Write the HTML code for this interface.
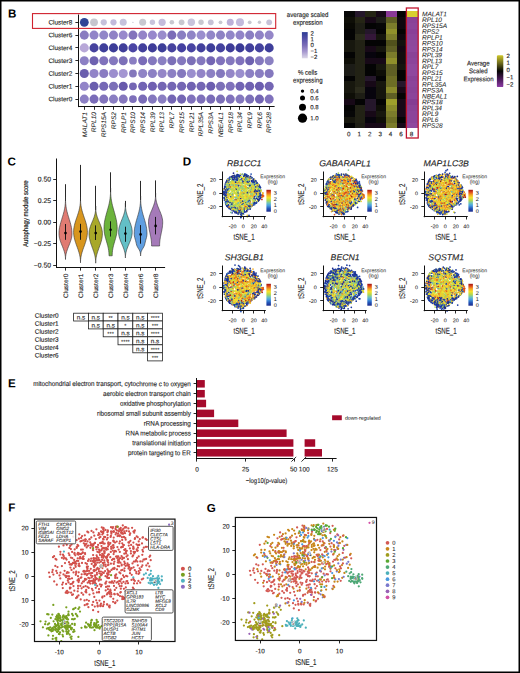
<!DOCTYPE html>
<html><head><meta charset="utf-8"><title>Figure</title>
<style>
html,body{margin:0;padding:0;background:#fff;}
body{width:520px;height:673px;overflow:hidden;position:relative;}
svg{position:absolute;left:0;top:0;display:block;font-family:"Liberation Sans", sans-serif;text-rendering:geometricPrecision;}
</style></head><body>
<svg width="520" height="673" viewBox="0 0 520 673">
<rect x="0" y="0" width="520" height="673" fill="#fff"/>
<text transform="translate(12.2,13.2) rotate(0.1)" x="0" y="4.18" font-size="11.6" text-anchor="middle" fill="#000" font-weight="bold">B</text>
<text transform="translate(11.8,161.2) rotate(0.1)" x="0" y="4.18" font-size="11.6" text-anchor="middle" fill="#000" font-weight="bold">C</text>
<text transform="translate(186.9,161.2) rotate(0.1)" x="0" y="4.18" font-size="11.6" text-anchor="middle" fill="#000" font-weight="bold">D</text>
<text transform="translate(11.8,383) rotate(0.1)" x="0" y="4.18" font-size="11.6" text-anchor="middle" fill="#000" font-weight="bold">E</text>
<text transform="translate(11.9,507.2) rotate(0.1)" x="0" y="4.18" font-size="11.6" text-anchor="middle" fill="#000" font-weight="bold">F</text>
<text transform="translate(211.3,507.7) rotate(0.1)" x="0" y="4.18" font-size="11.6" text-anchor="middle" fill="#000" font-weight="bold">G</text>
<circle cx="84.3" cy="22.3" r="4.4" fill="#2e4496"/>
<circle cx="94.03" cy="22.3" r="3.9" fill="#c6c6ce"/>
<circle cx="103.76" cy="22.3" r="3.1" fill="#c6c2dc"/>
<circle cx="113.49" cy="22.3" r="3.1" fill="#c2badc"/>
<circle cx="123.22" cy="22.3" r="3.5" fill="#c6c2dc"/>
<circle cx="132.95" cy="22.3" r="0.6" fill="#b8b8c8"/>
<circle cx="142.68" cy="22.3" r="3.5" fill="#c8c8d0"/>
<circle cx="152.41" cy="22.3" r="2.7" fill="#c8c4dc"/>
<circle cx="162.14" cy="22.3" r="3.6" fill="#c4bcdc"/>
<circle cx="171.87" cy="22.3" r="2.3" fill="#c8c8d0"/>
<circle cx="181.6" cy="22.3" r="2.9" fill="#c8c8d0"/>
<circle cx="191.33" cy="22.3" r="3.7" fill="#c8c4dc"/>
<circle cx="201.06" cy="22.3" r="2.7" fill="#c8c8d0"/>
<circle cx="210.79" cy="22.3" r="2.9" fill="#c6c2d6"/>
<circle cx="220.52" cy="22.3" r="1.9" fill="#c8c8d0"/>
<circle cx="230.25" cy="22.3" r="3.5" fill="#bcb0d8"/>
<circle cx="239.98" cy="22.3" r="4" fill="#c2badc"/>
<circle cx="249.71" cy="22.3" r="1.9" fill="#c8c8d0"/>
<circle cx="259.44" cy="22.3" r="1.7" fill="#c8c8d0"/>
<circle cx="269.17" cy="22.3" r="2.9" fill="#c6c2d8"/>
<circle cx="84.3" cy="35.1" r="4.55" fill="#8a7cc0"/>
<circle cx="94.03" cy="35.1" r="4.55" fill="#9284c8"/>
<circle cx="103.76" cy="35.1" r="4.55" fill="#9286c8"/>
<circle cx="113.49" cy="35.1" r="4.55" fill="#9082c6"/>
<circle cx="123.22" cy="35.1" r="4.55" fill="#9888cc"/>
<circle cx="132.95" cy="35.1" r="4.55" fill="#8474bc"/>
<circle cx="142.68" cy="35.1" r="4.55" fill="#9484c8"/>
<circle cx="152.41" cy="35.1" r="4.55" fill="#9888cc"/>
<circle cx="162.14" cy="35.1" r="4.55" fill="#9a8ccc"/>
<circle cx="171.87" cy="35.1" r="4.55" fill="#7c6cb8"/>
<circle cx="181.6" cy="35.1" r="4.55" fill="#8a7ec2"/>
<circle cx="191.33" cy="35.1" r="4.55" fill="#9084c6"/>
<circle cx="201.06" cy="35.1" r="4.55" fill="#9a8ece"/>
<circle cx="210.79" cy="35.1" r="4.55" fill="#9286c8"/>
<circle cx="220.52" cy="35.1" r="4.55" fill="#8e82c4"/>
<circle cx="230.25" cy="35.1" r="4.55" fill="#9286c8"/>
<circle cx="239.98" cy="35.1" r="4.55" fill="#9284c8"/>
<circle cx="249.71" cy="35.1" r="4.55" fill="#8a7ec2"/>
<circle cx="259.44" cy="35.1" r="4.55" fill="#9082c6"/>
<circle cx="269.17" cy="35.1" r="4.55" fill="#9486c8"/>
<circle cx="84.3" cy="47.9" r="4.55" fill="#b8a8d8"/>
<circle cx="94.03" cy="47.9" r="4.55" fill="#46429e"/>
<circle cx="103.76" cy="47.9" r="4.55" fill="#3e3e9a"/>
<circle cx="113.49" cy="47.9" r="4.55" fill="#3c3c98"/>
<circle cx="123.22" cy="47.9" r="4.55" fill="#403e9a"/>
<circle cx="132.95" cy="47.9" r="4.55" fill="#4a44a4"/>
<circle cx="142.68" cy="47.9" r="4.55" fill="#423f9c"/>
<circle cx="152.41" cy="47.9" r="4.55" fill="#3e3c98"/>
<circle cx="162.14" cy="47.9" r="4.55" fill="#3c3e98"/>
<circle cx="171.87" cy="47.9" r="4.55" fill="#46429e"/>
<circle cx="181.6" cy="47.9" r="4.55" fill="#4440a0"/>
<circle cx="191.33" cy="47.9" r="4.55" fill="#4844a2"/>
<circle cx="201.06" cy="47.9" r="4.55" fill="#42409c"/>
<circle cx="210.79" cy="47.9" r="4.55" fill="#3e3e9a"/>
<circle cx="220.52" cy="47.9" r="4.55" fill="#44429e"/>
<circle cx="230.25" cy="47.9" r="4.55" fill="#3e3c98"/>
<circle cx="239.98" cy="47.9" r="4.55" fill="#3a3a96"/>
<circle cx="249.71" cy="47.9" r="4.55" fill="#42409c"/>
<circle cx="259.44" cy="47.9" r="4.55" fill="#44429e"/>
<circle cx="269.17" cy="47.9" r="4.55" fill="#3e3e9a"/>
<circle cx="84.3" cy="60.7" r="4.55" fill="#8c80c4"/>
<circle cx="94.03" cy="60.7" r="4.55" fill="#6e62b0"/>
<circle cx="103.76" cy="60.7" r="4.55" fill="#8072bc"/>
<circle cx="113.49" cy="60.7" r="4.55" fill="#8478be"/>
<circle cx="123.22" cy="60.7" r="4.55" fill="#7c70b8"/>
<circle cx="132.95" cy="60.7" r="3.9" fill="#8a7ec2"/>
<circle cx="142.68" cy="60.7" r="4.55" fill="#7a6cb8"/>
<circle cx="152.41" cy="60.7" r="4.55" fill="#8478be"/>
<circle cx="162.14" cy="60.7" r="4.55" fill="#8a80c2"/>
<circle cx="171.87" cy="60.7" r="4.55" fill="#7c70b8"/>
<circle cx="181.6" cy="60.7" r="4.55" fill="#8478be"/>
<circle cx="191.33" cy="60.7" r="4.55" fill="#7c70b8"/>
<circle cx="201.06" cy="60.7" r="4.55" fill="#8478be"/>
<circle cx="210.79" cy="60.7" r="4.55" fill="#7466b4"/>
<circle cx="220.52" cy="60.7" r="4.55" fill="#8072bc"/>
<circle cx="230.25" cy="60.7" r="4.55" fill="#8478be"/>
<circle cx="239.98" cy="60.7" r="4.55" fill="#8072bc"/>
<circle cx="249.71" cy="60.7" r="4.55" fill="#6e62b0"/>
<circle cx="259.44" cy="60.7" r="4.55" fill="#8478be"/>
<circle cx="269.17" cy="60.7" r="4.55" fill="#8a80c2"/>
<circle cx="84.3" cy="73.5" r="4.55" fill="#6a5eae"/>
<circle cx="94.03" cy="73.5" r="4.55" fill="#9284c8"/>
<circle cx="103.76" cy="73.5" r="4.55" fill="#8a7cc2"/>
<circle cx="113.49" cy="73.5" r="4.55" fill="#9c8ece"/>
<circle cx="123.22" cy="73.5" r="4.55" fill="#a496d2"/>
<circle cx="132.95" cy="73.5" r="3.9" fill="#8478bc"/>
<circle cx="142.68" cy="73.5" r="4.55" fill="#9084c6"/>
<circle cx="152.41" cy="73.5" r="4.55" fill="#8c80c4"/>
<circle cx="162.14" cy="73.5" r="4.55" fill="#9486c8"/>
<circle cx="171.87" cy="73.5" r="4.55" fill="#8c80c4"/>
<circle cx="181.6" cy="73.5" r="4.55" fill="#8478be"/>
<circle cx="191.33" cy="73.5" r="4.55" fill="#9a8ece"/>
<circle cx="201.06" cy="73.5" r="4.55" fill="#9284c8"/>
<circle cx="210.79" cy="73.5" r="4.55" fill="#8c80c4"/>
<circle cx="220.52" cy="73.5" r="4.55" fill="#8478be"/>
<circle cx="230.25" cy="73.5" r="4.55" fill="#9486c8"/>
<circle cx="239.98" cy="73.5" r="4.55" fill="#9a8ece"/>
<circle cx="249.71" cy="73.5" r="4.55" fill="#8c80c4"/>
<circle cx="259.44" cy="73.5" r="4.55" fill="#8a7ec2"/>
<circle cx="269.17" cy="73.5" r="4.55" fill="#8478be"/>
<circle cx="84.3" cy="86.3" r="4.55" fill="#9284c8"/>
<circle cx="94.03" cy="86.3" r="4.55" fill="#6a5eae"/>
<circle cx="103.76" cy="86.3" r="4.55" fill="#7668b6"/>
<circle cx="113.49" cy="86.3" r="4.55" fill="#7c70b8"/>
<circle cx="123.22" cy="86.3" r="4.55" fill="#685aac"/>
<circle cx="132.95" cy="86.3" r="3.9" fill="#7466b4"/>
<circle cx="142.68" cy="86.3" r="4.55" fill="#7264b4"/>
<circle cx="152.41" cy="86.3" r="4.55" fill="#7060b2"/>
<circle cx="162.14" cy="86.3" r="4.55" fill="#7466b4"/>
<circle cx="171.87" cy="86.3" r="4.55" fill="#7466b4"/>
<circle cx="181.6" cy="86.3" r="4.55" fill="#7466b4"/>
<circle cx="191.33" cy="86.3" r="4.55" fill="#7062b2"/>
<circle cx="201.06" cy="86.3" r="4.55" fill="#7466b4"/>
<circle cx="210.79" cy="86.3" r="4.55" fill="#6c5eb0"/>
<circle cx="220.52" cy="86.3" r="4.55" fill="#7c70b8"/>
<circle cx="230.25" cy="86.3" r="4.55" fill="#8072bc"/>
<circle cx="239.98" cy="86.3" r="4.55" fill="#7264b4"/>
<circle cx="249.71" cy="86.3" r="4.55" fill="#7062b2"/>
<circle cx="259.44" cy="86.3" r="4.55" fill="#6c5eb0"/>
<circle cx="269.17" cy="86.3" r="4.55" fill="#7466b4"/>
<circle cx="84.3" cy="99.1" r="4.55" fill="#8c80c4"/>
<circle cx="94.03" cy="99.1" r="4.55" fill="#7a6cb8"/>
<circle cx="103.76" cy="99.1" r="4.55" fill="#8274bc"/>
<circle cx="113.49" cy="99.1" r="4.55" fill="#8a7ec2"/>
<circle cx="123.22" cy="99.1" r="4.55" fill="#8678be"/>
<circle cx="132.95" cy="99.1" r="3.9" fill="#7e70ba"/>
<circle cx="142.68" cy="99.1" r="4.55" fill="#7a6cb8"/>
<circle cx="152.41" cy="99.1" r="4.55" fill="#8478be"/>
<circle cx="162.14" cy="99.1" r="4.55" fill="#8a7ec2"/>
<circle cx="171.87" cy="99.1" r="4.55" fill="#7466b4"/>
<circle cx="181.6" cy="99.1" r="4.55" fill="#7466b4"/>
<circle cx="191.33" cy="99.1" r="4.55" fill="#8072bc"/>
<circle cx="201.06" cy="99.1" r="4.55" fill="#7e70ba"/>
<circle cx="210.79" cy="99.1" r="4.55" fill="#7a6cb8"/>
<circle cx="220.52" cy="99.1" r="4.55" fill="#7c70b8"/>
<circle cx="230.25" cy="99.1" r="4.55" fill="#8072bc"/>
<circle cx="239.98" cy="99.1" r="4.55" fill="#8478be"/>
<circle cx="249.71" cy="99.1" r="4.55" fill="#7c70b8"/>
<circle cx="259.44" cy="99.1" r="4.55" fill="#7466b4"/>
<circle cx="269.17" cy="99.1" r="4.55" fill="#8072bc"/>
<line x1="78.5" y1="14.5" x2="78.5" y2="107.1" stroke="#111" stroke-width="1"/>
<line x1="78.2" y1="106.5" x2="274.6" y2="106.5" stroke="#111" stroke-width="1"/>
<line x1="75.4" y1="22.5" x2="78.2" y2="22.5" stroke="#111" stroke-width="0.9"/>
<text transform="translate(72.2,22.3) rotate(0.1)" x="0" y="2.24" font-size="6.4" text-anchor="end" fill="#222" stroke="#222" stroke-width="0.12">Cluster8</text>
<line x1="75.4" y1="35.5" x2="78.2" y2="35.5" stroke="#111" stroke-width="0.9"/>
<text transform="translate(72.2,35.1) rotate(0.1)" x="0" y="2.24" font-size="6.4" text-anchor="end" fill="#222" stroke="#222" stroke-width="0.12">Cluster6</text>
<line x1="75.4" y1="47.5" x2="78.2" y2="47.5" stroke="#111" stroke-width="0.9"/>
<text transform="translate(72.2,47.9) rotate(0.1)" x="0" y="2.24" font-size="6.4" text-anchor="end" fill="#222" stroke="#222" stroke-width="0.12">Cluster4</text>
<line x1="75.4" y1="60.5" x2="78.2" y2="60.5" stroke="#111" stroke-width="0.9"/>
<text transform="translate(72.2,60.7) rotate(0.1)" x="0" y="2.24" font-size="6.4" text-anchor="end" fill="#222" stroke="#222" stroke-width="0.12">Cluster3</text>
<line x1="75.4" y1="73.5" x2="78.2" y2="73.5" stroke="#111" stroke-width="0.9"/>
<text transform="translate(72.2,73.5) rotate(0.1)" x="0" y="2.24" font-size="6.4" text-anchor="end" fill="#222" stroke="#222" stroke-width="0.12">Cluster2</text>
<line x1="75.4" y1="86.5" x2="78.2" y2="86.5" stroke="#111" stroke-width="0.9"/>
<text transform="translate(72.2,86.3) rotate(0.1)" x="0" y="2.24" font-size="6.4" text-anchor="end" fill="#222" stroke="#222" stroke-width="0.12">Cluster1</text>
<line x1="75.4" y1="99.5" x2="78.2" y2="99.5" stroke="#111" stroke-width="0.9"/>
<text transform="translate(72.2,99.1) rotate(0.1)" x="0" y="2.24" font-size="6.4" text-anchor="end" fill="#222" stroke="#222" stroke-width="0.12">Cluster0</text>
<line x1="84.5" y1="107" x2="84.5" y2="109.8" stroke="#111" stroke-width="0.9"/>
<text transform="translate(84.3,112) rotate(-90)" x="0" y="2.31" font-size="6.6" text-anchor="end" fill="#222" stroke="#222" stroke-width="0.05" font-style="italic">MALAT1</text>
<line x1="94.5" y1="107" x2="94.5" y2="109.8" stroke="#111" stroke-width="0.9"/>
<text transform="translate(94.03,112) rotate(-90)" x="0" y="2.31" font-size="6.6" text-anchor="end" fill="#222" stroke="#222" stroke-width="0.05" font-style="italic">RPL10</text>
<line x1="103.5" y1="107" x2="103.5" y2="109.8" stroke="#111" stroke-width="0.9"/>
<text transform="translate(103.76,112) rotate(-90)" x="0" y="2.31" font-size="6.6" text-anchor="end" fill="#222" stroke="#222" stroke-width="0.05" font-style="italic">RPS15A</text>
<line x1="113.5" y1="107" x2="113.5" y2="109.8" stroke="#111" stroke-width="0.9"/>
<text transform="translate(113.49,112) rotate(-90)" x="0" y="2.31" font-size="6.6" text-anchor="end" fill="#222" stroke="#222" stroke-width="0.05" font-style="italic">RPS2</text>
<line x1="123.5" y1="107" x2="123.5" y2="109.8" stroke="#111" stroke-width="0.9"/>
<text transform="translate(123.22,112) rotate(-90)" x="0" y="2.31" font-size="6.6" text-anchor="end" fill="#222" stroke="#222" stroke-width="0.05" font-style="italic">RPLP1</text>
<line x1="132.5" y1="107" x2="132.5" y2="109.8" stroke="#111" stroke-width="0.9"/>
<text transform="translate(132.95,112) rotate(-90)" x="0" y="2.31" font-size="6.6" text-anchor="end" fill="#222" stroke="#222" stroke-width="0.05" font-style="italic">RPS10</text>
<line x1="142.5" y1="107" x2="142.5" y2="109.8" stroke="#111" stroke-width="0.9"/>
<text transform="translate(142.68,112) rotate(-90)" x="0" y="2.31" font-size="6.6" text-anchor="end" fill="#222" stroke="#222" stroke-width="0.05" font-style="italic">RPS14</text>
<line x1="152.5" y1="107" x2="152.5" y2="109.8" stroke="#111" stroke-width="0.9"/>
<text transform="translate(152.41,112) rotate(-90)" x="0" y="2.31" font-size="6.6" text-anchor="end" fill="#222" stroke="#222" stroke-width="0.05" font-style="italic">RPL39</text>
<line x1="162.5" y1="107" x2="162.5" y2="109.8" stroke="#111" stroke-width="0.9"/>
<text transform="translate(162.14,112) rotate(-90)" x="0" y="2.31" font-size="6.6" text-anchor="end" fill="#222" stroke="#222" stroke-width="0.05" font-style="italic">RPL13</text>
<line x1="171.5" y1="107" x2="171.5" y2="109.8" stroke="#111" stroke-width="0.9"/>
<text transform="translate(171.87,112) rotate(-90)" x="0" y="2.31" font-size="6.6" text-anchor="end" fill="#222" stroke="#222" stroke-width="0.05" font-style="italic">RPL7</text>
<line x1="181.5" y1="107" x2="181.5" y2="109.8" stroke="#111" stroke-width="0.9"/>
<text transform="translate(181.6,112) rotate(-90)" x="0" y="2.31" font-size="6.6" text-anchor="end" fill="#222" stroke="#222" stroke-width="0.05" font-style="italic">RPS15</text>
<line x1="191.5" y1="107" x2="191.5" y2="109.8" stroke="#111" stroke-width="0.9"/>
<text transform="translate(191.33,112) rotate(-90)" x="0" y="2.31" font-size="6.6" text-anchor="end" fill="#222" stroke="#222" stroke-width="0.05" font-style="italic">RPL21</text>
<line x1="201.5" y1="107" x2="201.5" y2="109.8" stroke="#111" stroke-width="0.9"/>
<text transform="translate(201.06,112) rotate(-90)" x="0" y="2.31" font-size="6.6" text-anchor="end" fill="#222" stroke="#222" stroke-width="0.05" font-style="italic">RPL35A</text>
<line x1="210.5" y1="107" x2="210.5" y2="109.8" stroke="#111" stroke-width="0.9"/>
<text transform="translate(210.79,112) rotate(-90)" x="0" y="2.31" font-size="6.6" text-anchor="end" fill="#222" stroke="#222" stroke-width="0.05" font-style="italic">RPS3A</text>
<line x1="220.5" y1="107" x2="220.5" y2="109.8" stroke="#111" stroke-width="0.9"/>
<text transform="translate(220.52,112) rotate(-90)" x="0" y="2.31" font-size="6.6" text-anchor="end" fill="#222" stroke="#222" stroke-width="0.05" font-style="italic">NBEAL1</text>
<line x1="230.5" y1="107" x2="230.5" y2="109.8" stroke="#111" stroke-width="0.9"/>
<text transform="translate(230.25,112) rotate(-90)" x="0" y="2.31" font-size="6.6" text-anchor="end" fill="#222" stroke="#222" stroke-width="0.05" font-style="italic">RPS18</text>
<line x1="239.5" y1="107" x2="239.5" y2="109.8" stroke="#111" stroke-width="0.9"/>
<text transform="translate(239.98,112) rotate(-90)" x="0" y="2.31" font-size="6.6" text-anchor="end" fill="#222" stroke="#222" stroke-width="0.05" font-style="italic">RPL34</text>
<line x1="249.5" y1="107" x2="249.5" y2="109.8" stroke="#111" stroke-width="0.9"/>
<text transform="translate(249.71,112) rotate(-90)" x="0" y="2.31" font-size="6.6" text-anchor="end" fill="#222" stroke="#222" stroke-width="0.05" font-style="italic">RPL9</text>
<line x1="259.5" y1="107" x2="259.5" y2="109.8" stroke="#111" stroke-width="0.9"/>
<text transform="translate(259.44,112) rotate(-90)" x="0" y="2.31" font-size="6.6" text-anchor="end" fill="#222" stroke="#222" stroke-width="0.05" font-style="italic">RPL6</text>
<line x1="269.5" y1="107" x2="269.5" y2="109.8" stroke="#111" stroke-width="0.9"/>
<text transform="translate(269.17,112) rotate(-90)" x="0" y="2.31" font-size="6.6" text-anchor="end" fill="#222" stroke="#222" stroke-width="0.05" font-style="italic">RPS28</text>
<rect x="32.5" y="13.6" width="243.2" height="14.8" fill="none" stroke="#d0222e" stroke-width="1.1"/>
<text transform="translate(307.6,15.3) rotate(0.1) scale(0.9,1)" x="0" y="1.77" font-size="6.8" text-anchor="middle" fill="#222" stroke="#222" stroke-width="0.12">average scaled</text>
<text transform="translate(307.8,22.9) rotate(0.1) scale(0.9,1)" x="0" y="1.77" font-size="6.8" text-anchor="middle" fill="#222" stroke="#222" stroke-width="0.12">expression</text>
<defs><linearGradient id="gB" x1="0" y1="0" x2="0" y2="1"><stop offset="0" stop-color="#2c3c95"/><stop offset="0.25" stop-color="#5450a8"/><stop offset="0.5" stop-color="#7a6cb8"/><stop offset="0.75" stop-color="#a89ad0"/><stop offset="1" stop-color="#dcd8e8"/></linearGradient></defs>
<rect x="301.9" y="32.1" width="5.8" height="26.2" fill="url(#gB)" stroke="none" stroke-width="1"/>
<text transform="translate(310.5,33.3) rotate(0.1)" x="0" y="2.1" font-size="6" text-anchor="start" fill="#222" stroke="#222" stroke-width="0.12">2</text>
<text transform="translate(310.5,39.2) rotate(0.1)" x="0" y="2.1" font-size="6" text-anchor="start" fill="#222" stroke="#222" stroke-width="0.12">1</text>
<text transform="translate(310.5,45) rotate(0.1)" x="0" y="2.1" font-size="6" text-anchor="start" fill="#222" stroke="#222" stroke-width="0.12">0</text>
<text transform="translate(310.5,50.9) rotate(0.1)" x="0" y="2.1" font-size="6" text-anchor="start" fill="#222" stroke="#222" stroke-width="0.12">−1</text>
<text transform="translate(310.5,56.8) rotate(0.1)" x="0" y="2.1" font-size="6" text-anchor="start" fill="#222" stroke="#222" stroke-width="0.12">−2</text>
<text transform="translate(307.6,72.3) rotate(0.1) scale(0.9,1)" x="0" y="2.38" font-size="6.8" text-anchor="middle" fill="#222" stroke="#222" stroke-width="0.12">% cells</text>
<text transform="translate(307.8,80.7) rotate(0.1) scale(0.9,1)" x="0" y="1.77" font-size="6.8" text-anchor="middle" fill="#222" stroke="#222" stroke-width="0.12">expressing</text>
<circle cx="302.5" cy="91.1" r="1.7" fill="#000"/>
<text transform="translate(310.2,91.1) rotate(0.1)" x="0" y="2.1" font-size="6" text-anchor="start" fill="#222" stroke="#222" stroke-width="0.12">0.4</text>
<circle cx="302.5" cy="98.1" r="2.5" fill="#000"/>
<text transform="translate(310.2,98.1) rotate(0.1)" x="0" y="2.1" font-size="6" text-anchor="start" fill="#222" stroke="#222" stroke-width="0.12">0.6</text>
<circle cx="302.5" cy="107.2" r="3.5" fill="#000"/>
<text transform="translate(310.2,107.2) rotate(0.1)" x="0" y="2.1" font-size="6" text-anchor="start" fill="#222" stroke="#222" stroke-width="0.12">0.8</text>
<circle cx="302.5" cy="118.2" r="4.6" fill="#000"/>
<text transform="translate(310.2,118.2) rotate(0.1)" x="0" y="2.1" font-size="6" text-anchor="start" fill="#222" stroke="#222" stroke-width="0.12">1.0</text>
<rect x="344.2" y="10.9" width="10.52" height="5.92" fill="#070707" stroke="none" stroke-width="1" shape-rendering="crispEdges"/>
<rect x="354.67" y="10.9" width="10.52" height="5.92" fill="#25172b" stroke="none" stroke-width="1" shape-rendering="crispEdges"/>
<rect x="365.14" y="10.9" width="10.52" height="5.92" fill="#252515" stroke="none" stroke-width="1" shape-rendering="crispEdges"/>
<rect x="375.61" y="10.9" width="10.52" height="5.92" fill="#170917" stroke="none" stroke-width="1" shape-rendering="crispEdges"/>
<rect x="386.08" y="10.9" width="10.52" height="5.92" fill="#8a3997" stroke="none" stroke-width="1" shape-rendering="crispEdges"/>
<rect x="396.55" y="10.9" width="10.52" height="5.92" fill="#040404" stroke="none" stroke-width="1" shape-rendering="crispEdges"/>
<rect x="407.02" y="10.9" width="10.52" height="5.92" fill="#d8d030" stroke="none" stroke-width="1" shape-rendering="crispEdges"/>
<rect x="344.2" y="16.77" width="10.52" height="5.92" fill="#0e0e07" stroke="none" stroke-width="1" shape-rendering="crispEdges"/>
<rect x="354.67" y="16.77" width="10.52" height="5.92" fill="#252515" stroke="none" stroke-width="1" shape-rendering="crispEdges"/>
<rect x="365.14" y="16.77" width="10.52" height="5.92" fill="#170917" stroke="none" stroke-width="1" shape-rendering="crispEdges"/>
<rect x="375.61" y="16.77" width="10.52" height="5.92" fill="#1c1c17" stroke="none" stroke-width="1" shape-rendering="crispEdges"/>
<rect x="386.08" y="16.77" width="10.52" height="5.92" fill="#5f5f24" stroke="none" stroke-width="1" shape-rendering="crispEdges"/>
<rect x="396.55" y="16.77" width="10.52" height="5.92" fill="#0e070e" stroke="none" stroke-width="1" shape-rendering="crispEdges"/>
<rect x="407.02" y="16.77" width="10.52" height="5.92" fill="#8a4297" stroke="none" stroke-width="1" shape-rendering="crispEdges"/>
<rect x="344.2" y="22.65" width="10.52" height="5.92" fill="#090904" stroke="none" stroke-width="1" shape-rendering="crispEdges"/>
<rect x="354.67" y="22.65" width="10.52" height="5.92" fill="#1e1e15" stroke="none" stroke-width="1" shape-rendering="crispEdges"/>
<rect x="365.14" y="22.65" width="10.52" height="5.92" fill="#040404" stroke="none" stroke-width="1" shape-rendering="crispEdges"/>
<rect x="375.61" y="22.65" width="10.52" height="5.92" fill="#070707" stroke="none" stroke-width="1" shape-rendering="crispEdges"/>
<rect x="386.08" y="22.65" width="10.52" height="5.92" fill="#7c7c2b" stroke="none" stroke-width="1" shape-rendering="crispEdges"/>
<rect x="396.55" y="22.65" width="10.52" height="5.92" fill="#0e070e" stroke="none" stroke-width="1" shape-rendering="crispEdges"/>
<rect x="407.02" y="22.65" width="10.52" height="5.92" fill="#8c449a" stroke="none" stroke-width="1" shape-rendering="crispEdges"/>
<rect x="344.2" y="28.52" width="10.52" height="5.92" fill="#040404" stroke="none" stroke-width="1" shape-rendering="crispEdges"/>
<rect x="354.67" y="28.52" width="10.52" height="5.92" fill="#1e1e15" stroke="none" stroke-width="1" shape-rendering="crispEdges"/>
<rect x="365.14" y="28.52" width="10.52" height="5.92" fill="#25172b" stroke="none" stroke-width="1" shape-rendering="crispEdges"/>
<rect x="375.61" y="28.52" width="10.52" height="5.92" fill="#040404" stroke="none" stroke-width="1" shape-rendering="crispEdges"/>
<rect x="386.08" y="28.52" width="10.52" height="5.92" fill="#90902b" stroke="none" stroke-width="1" shape-rendering="crispEdges"/>
<rect x="396.55" y="28.52" width="10.52" height="5.92" fill="#040404" stroke="none" stroke-width="1" shape-rendering="crispEdges"/>
<rect x="407.02" y="28.52" width="10.52" height="5.92" fill="#8a4097" stroke="none" stroke-width="1" shape-rendering="crispEdges"/>
<rect x="344.2" y="34.4" width="10.52" height="5.92" fill="#040404" stroke="none" stroke-width="1" shape-rendering="crispEdges"/>
<rect x="354.67" y="34.4" width="10.52" height="5.92" fill="#2b2b1c" stroke="none" stroke-width="1" shape-rendering="crispEdges"/>
<rect x="365.14" y="34.4" width="10.52" height="5.92" fill="#341739" stroke="none" stroke-width="1" shape-rendering="crispEdges"/>
<rect x="375.61" y="34.4" width="10.52" height="5.92" fill="#15150d" stroke="none" stroke-width="1" shape-rendering="crispEdges"/>
<rect x="386.08" y="34.4" width="10.52" height="5.92" fill="#7c7c2b" stroke="none" stroke-width="1" shape-rendering="crispEdges"/>
<rect x="396.55" y="34.4" width="10.52" height="5.92" fill="#0e070e" stroke="none" stroke-width="1" shape-rendering="crispEdges"/>
<rect x="407.02" y="34.4" width="10.52" height="5.92" fill="#8c449a" stroke="none" stroke-width="1" shape-rendering="crispEdges"/>
<rect x="344.2" y="40.27" width="10.52" height="5.92" fill="#17170e" stroke="none" stroke-width="1" shape-rendering="crispEdges"/>
<rect x="354.67" y="40.27" width="10.52" height="5.92" fill="#222215" stroke="none" stroke-width="1" shape-rendering="crispEdges"/>
<rect x="365.14" y="40.27" width="10.52" height="5.92" fill="#040404" stroke="none" stroke-width="1" shape-rendering="crispEdges"/>
<rect x="375.61" y="40.27" width="10.52" height="5.92" fill="#040404" stroke="none" stroke-width="1" shape-rendering="crispEdges"/>
<rect x="386.08" y="40.27" width="10.52" height="5.92" fill="#51511c" stroke="none" stroke-width="1" shape-rendering="crispEdges"/>
<rect x="396.55" y="40.27" width="10.52" height="5.92" fill="#12120e" stroke="none" stroke-width="1" shape-rendering="crispEdges"/>
<rect x="407.02" y="40.27" width="10.52" height="5.92" fill="#8e489c" stroke="none" stroke-width="1" shape-rendering="crispEdges"/>
<rect x="344.2" y="46.15" width="10.52" height="5.92" fill="#17170e" stroke="none" stroke-width="1" shape-rendering="crispEdges"/>
<rect x="354.67" y="46.15" width="10.52" height="5.92" fill="#222215" stroke="none" stroke-width="1" shape-rendering="crispEdges"/>
<rect x="365.14" y="46.15" width="10.52" height="5.92" fill="#170917" stroke="none" stroke-width="1" shape-rendering="crispEdges"/>
<rect x="375.61" y="46.15" width="10.52" height="5.92" fill="#15150d" stroke="none" stroke-width="1" shape-rendering="crispEdges"/>
<rect x="386.08" y="46.15" width="10.52" height="5.92" fill="#5f5f24" stroke="none" stroke-width="1" shape-rendering="crispEdges"/>
<rect x="396.55" y="46.15" width="10.52" height="5.92" fill="#120912" stroke="none" stroke-width="1" shape-rendering="crispEdges"/>
<rect x="407.02" y="46.15" width="10.52" height="5.92" fill="#90489e" stroke="none" stroke-width="1" shape-rendering="crispEdges"/>
<rect x="344.2" y="52.02" width="10.52" height="5.92" fill="#040404" stroke="none" stroke-width="1" shape-rendering="crispEdges"/>
<rect x="354.67" y="52.02" width="10.52" height="5.92" fill="#222215" stroke="none" stroke-width="1" shape-rendering="crispEdges"/>
<rect x="365.14" y="52.02" width="10.52" height="5.92" fill="#07040d" stroke="none" stroke-width="1" shape-rendering="crispEdges"/>
<rect x="375.61" y="52.02" width="10.52" height="5.92" fill="#040404" stroke="none" stroke-width="1" shape-rendering="crispEdges"/>
<rect x="386.08" y="52.02" width="10.52" height="5.92" fill="#7c7c2b" stroke="none" stroke-width="1" shape-rendering="crispEdges"/>
<rect x="396.55" y="52.02" width="10.52" height="5.92" fill="#120e0e" stroke="none" stroke-width="1" shape-rendering="crispEdges"/>
<rect x="407.02" y="52.02" width="10.52" height="5.92" fill="#8a4297" stroke="none" stroke-width="1" shape-rendering="crispEdges"/>
<rect x="344.2" y="57.9" width="10.52" height="5.92" fill="#0e0e07" stroke="none" stroke-width="1" shape-rendering="crispEdges"/>
<rect x="354.67" y="57.9" width="10.52" height="5.92" fill="#222215" stroke="none" stroke-width="1" shape-rendering="crispEdges"/>
<rect x="365.14" y="57.9" width="10.52" height="5.92" fill="#170917" stroke="none" stroke-width="1" shape-rendering="crispEdges"/>
<rect x="375.61" y="57.9" width="10.52" height="5.92" fill="#170917" stroke="none" stroke-width="1" shape-rendering="crispEdges"/>
<rect x="386.08" y="57.9" width="10.52" height="5.92" fill="#90902b" stroke="none" stroke-width="1" shape-rendering="crispEdges"/>
<rect x="396.55" y="57.9" width="10.52" height="5.92" fill="#120e0e" stroke="none" stroke-width="1" shape-rendering="crispEdges"/>
<rect x="407.02" y="57.9" width="10.52" height="5.92" fill="#8c449a" stroke="none" stroke-width="1" shape-rendering="crispEdges"/>
<rect x="344.2" y="63.77" width="10.52" height="5.92" fill="#1c1c17" stroke="none" stroke-width="1" shape-rendering="crispEdges"/>
<rect x="354.67" y="63.77" width="10.52" height="5.92" fill="#222215" stroke="none" stroke-width="1" shape-rendering="crispEdges"/>
<rect x="365.14" y="63.77" width="10.52" height="5.92" fill="#040404" stroke="none" stroke-width="1" shape-rendering="crispEdges"/>
<rect x="375.61" y="63.77" width="10.52" height="5.92" fill="#17170e" stroke="none" stroke-width="1" shape-rendering="crispEdges"/>
<rect x="386.08" y="63.77" width="10.52" height="5.92" fill="#5f5f24" stroke="none" stroke-width="1" shape-rendering="crispEdges"/>
<rect x="396.55" y="63.77" width="10.52" height="5.92" fill="#15150e" stroke="none" stroke-width="1" shape-rendering="crispEdges"/>
<rect x="407.02" y="63.77" width="10.52" height="5.92" fill="#90489e" stroke="none" stroke-width="1" shape-rendering="crispEdges"/>
<rect x="344.2" y="69.65" width="10.52" height="5.92" fill="#1c1c17" stroke="none" stroke-width="1" shape-rendering="crispEdges"/>
<rect x="354.67" y="69.65" width="10.52" height="5.92" fill="#222215" stroke="none" stroke-width="1" shape-rendering="crispEdges"/>
<rect x="365.14" y="69.65" width="10.52" height="5.92" fill="#040404" stroke="none" stroke-width="1" shape-rendering="crispEdges"/>
<rect x="375.61" y="69.65" width="10.52" height="5.92" fill="#0e0e07" stroke="none" stroke-width="1" shape-rendering="crispEdges"/>
<rect x="386.08" y="69.65" width="10.52" height="5.92" fill="#5f5f24" stroke="none" stroke-width="1" shape-rendering="crispEdges"/>
<rect x="396.55" y="69.65" width="10.52" height="5.92" fill="#040404" stroke="none" stroke-width="1" shape-rendering="crispEdges"/>
<rect x="407.02" y="69.65" width="10.52" height="5.92" fill="#90489e" stroke="none" stroke-width="1" shape-rendering="crispEdges"/>
<rect x="344.2" y="75.53" width="10.52" height="5.92" fill="#040404" stroke="none" stroke-width="1" shape-rendering="crispEdges"/>
<rect x="354.67" y="75.53" width="10.52" height="5.92" fill="#222215" stroke="none" stroke-width="1" shape-rendering="crispEdges"/>
<rect x="365.14" y="75.53" width="10.52" height="5.92" fill="#25172b" stroke="none" stroke-width="1" shape-rendering="crispEdges"/>
<rect x="375.61" y="75.53" width="10.52" height="5.92" fill="#040404" stroke="none" stroke-width="1" shape-rendering="crispEdges"/>
<rect x="386.08" y="75.53" width="10.52" height="5.92" fill="#6d6d25" stroke="none" stroke-width="1" shape-rendering="crispEdges"/>
<rect x="396.55" y="75.53" width="10.52" height="5.92" fill="#040404" stroke="none" stroke-width="1" shape-rendering="crispEdges"/>
<rect x="407.02" y="75.53" width="10.52" height="5.92" fill="#8a4297" stroke="none" stroke-width="1" shape-rendering="crispEdges"/>
<rect x="344.2" y="81.4" width="10.52" height="5.92" fill="#17170e" stroke="none" stroke-width="1" shape-rendering="crispEdges"/>
<rect x="354.67" y="81.4" width="10.52" height="5.92" fill="#222215" stroke="none" stroke-width="1" shape-rendering="crispEdges"/>
<rect x="365.14" y="81.4" width="10.52" height="5.92" fill="#170917" stroke="none" stroke-width="1" shape-rendering="crispEdges"/>
<rect x="375.61" y="81.4" width="10.52" height="5.92" fill="#17170e" stroke="none" stroke-width="1" shape-rendering="crispEdges"/>
<rect x="386.08" y="81.4" width="10.52" height="5.92" fill="#6d6d25" stroke="none" stroke-width="1" shape-rendering="crispEdges"/>
<rect x="396.55" y="81.4" width="10.52" height="5.92" fill="#25172b" stroke="none" stroke-width="1" shape-rendering="crispEdges"/>
<rect x="407.02" y="81.4" width="10.52" height="5.92" fill="#8c449a" stroke="none" stroke-width="1" shape-rendering="crispEdges"/>
<rect x="344.2" y="87.28" width="10.52" height="5.92" fill="#17170e" stroke="none" stroke-width="1" shape-rendering="crispEdges"/>
<rect x="354.67" y="87.28" width="10.52" height="5.92" fill="#2b2b1c" stroke="none" stroke-width="1" shape-rendering="crispEdges"/>
<rect x="365.14" y="87.28" width="10.52" height="5.92" fill="#07040d" stroke="none" stroke-width="1" shape-rendering="crispEdges"/>
<rect x="375.61" y="87.28" width="10.52" height="5.92" fill="#15150d" stroke="none" stroke-width="1" shape-rendering="crispEdges"/>
<rect x="386.08" y="87.28" width="10.52" height="5.92" fill="#8a8a2b" stroke="none" stroke-width="1" shape-rendering="crispEdges"/>
<rect x="396.55" y="87.28" width="10.52" height="5.92" fill="#170917" stroke="none" stroke-width="1" shape-rendering="crispEdges"/>
<rect x="407.02" y="87.28" width="10.52" height="5.92" fill="#8a4297" stroke="none" stroke-width="1" shape-rendering="crispEdges"/>
<rect x="344.2" y="93.15" width="10.52" height="5.92" fill="#0e0e07" stroke="none" stroke-width="1" shape-rendering="crispEdges"/>
<rect x="354.67" y="93.15" width="10.52" height="5.92" fill="#1e1e15" stroke="none" stroke-width="1" shape-rendering="crispEdges"/>
<rect x="365.14" y="93.15" width="10.52" height="5.92" fill="#07040d" stroke="none" stroke-width="1" shape-rendering="crispEdges"/>
<rect x="375.61" y="93.15" width="10.52" height="5.92" fill="#15150d" stroke="none" stroke-width="1" shape-rendering="crispEdges"/>
<rect x="386.08" y="93.15" width="10.52" height="5.92" fill="#5f5f24" stroke="none" stroke-width="1" shape-rendering="crispEdges"/>
<rect x="396.55" y="93.15" width="10.52" height="5.92" fill="#040404" stroke="none" stroke-width="1" shape-rendering="crispEdges"/>
<rect x="407.02" y="93.15" width="10.52" height="5.92" fill="#8c449a" stroke="none" stroke-width="1" shape-rendering="crispEdges"/>
<rect x="344.2" y="99.03" width="10.52" height="5.92" fill="#170917" stroke="none" stroke-width="1" shape-rendering="crispEdges"/>
<rect x="354.67" y="99.03" width="10.52" height="5.92" fill="#040404" stroke="none" stroke-width="1" shape-rendering="crispEdges"/>
<rect x="365.14" y="99.03" width="10.52" height="5.92" fill="#25172b" stroke="none" stroke-width="1" shape-rendering="crispEdges"/>
<rect x="375.61" y="99.03" width="10.52" height="5.92" fill="#040404" stroke="none" stroke-width="1" shape-rendering="crispEdges"/>
<rect x="386.08" y="99.03" width="10.52" height="5.92" fill="#9e9e2b" stroke="none" stroke-width="1" shape-rendering="crispEdges"/>
<rect x="396.55" y="99.03" width="10.52" height="5.92" fill="#170917" stroke="none" stroke-width="1" shape-rendering="crispEdges"/>
<rect x="407.02" y="99.03" width="10.52" height="5.92" fill="#853d93" stroke="none" stroke-width="1" shape-rendering="crispEdges"/>
<rect x="344.2" y="104.9" width="10.52" height="5.92" fill="#040404" stroke="none" stroke-width="1" shape-rendering="crispEdges"/>
<rect x="354.67" y="104.9" width="10.52" height="5.92" fill="#222215" stroke="none" stroke-width="1" shape-rendering="crispEdges"/>
<rect x="365.14" y="104.9" width="10.52" height="5.92" fill="#25172b" stroke="none" stroke-width="1" shape-rendering="crispEdges"/>
<rect x="375.61" y="104.9" width="10.52" height="5.92" fill="#0e0e07" stroke="none" stroke-width="1" shape-rendering="crispEdges"/>
<rect x="386.08" y="104.9" width="10.52" height="5.92" fill="#8a8a2b" stroke="none" stroke-width="1" shape-rendering="crispEdges"/>
<rect x="396.55" y="104.9" width="10.52" height="5.92" fill="#170917" stroke="none" stroke-width="1" shape-rendering="crispEdges"/>
<rect x="407.02" y="104.9" width="10.52" height="5.92" fill="#8a4297" stroke="none" stroke-width="1" shape-rendering="crispEdges"/>
<rect x="344.2" y="110.78" width="10.52" height="5.92" fill="#070707" stroke="none" stroke-width="1" shape-rendering="crispEdges"/>
<rect x="354.67" y="110.78" width="10.52" height="5.92" fill="#222215" stroke="none" stroke-width="1" shape-rendering="crispEdges"/>
<rect x="365.14" y="110.78" width="10.52" height="5.92" fill="#170917" stroke="none" stroke-width="1" shape-rendering="crispEdges"/>
<rect x="375.61" y="110.78" width="10.52" height="5.92" fill="#17170e" stroke="none" stroke-width="1" shape-rendering="crispEdges"/>
<rect x="386.08" y="110.78" width="10.52" height="5.92" fill="#7c7c2b" stroke="none" stroke-width="1" shape-rendering="crispEdges"/>
<rect x="396.55" y="110.78" width="10.52" height="5.92" fill="#170917" stroke="none" stroke-width="1" shape-rendering="crispEdges"/>
<rect x="407.02" y="110.78" width="10.52" height="5.92" fill="#8c449a" stroke="none" stroke-width="1" shape-rendering="crispEdges"/>
<rect x="344.2" y="116.65" width="10.52" height="5.92" fill="#17170e" stroke="none" stroke-width="1" shape-rendering="crispEdges"/>
<rect x="354.67" y="116.65" width="10.52" height="5.92" fill="#222215" stroke="none" stroke-width="1" shape-rendering="crispEdges"/>
<rect x="365.14" y="116.65" width="10.52" height="5.92" fill="#07040d" stroke="none" stroke-width="1" shape-rendering="crispEdges"/>
<rect x="375.61" y="116.65" width="10.52" height="5.92" fill="#0e0e07" stroke="none" stroke-width="1" shape-rendering="crispEdges"/>
<rect x="386.08" y="116.65" width="10.52" height="5.92" fill="#6d6d25" stroke="none" stroke-width="1" shape-rendering="crispEdges"/>
<rect x="396.55" y="116.65" width="10.52" height="5.92" fill="#040404" stroke="none" stroke-width="1" shape-rendering="crispEdges"/>
<rect x="407.02" y="116.65" width="10.52" height="5.92" fill="#8c449a" stroke="none" stroke-width="1" shape-rendering="crispEdges"/>
<rect x="344.2" y="122.53" width="10.52" height="5.92" fill="#040404" stroke="none" stroke-width="1" shape-rendering="crispEdges"/>
<rect x="354.67" y="122.53" width="10.52" height="5.92" fill="#1e1e15" stroke="none" stroke-width="1" shape-rendering="crispEdges"/>
<rect x="365.14" y="122.53" width="10.52" height="5.92" fill="#170917" stroke="none" stroke-width="1" shape-rendering="crispEdges"/>
<rect x="375.61" y="122.53" width="10.52" height="5.92" fill="#170917" stroke="none" stroke-width="1" shape-rendering="crispEdges"/>
<rect x="386.08" y="122.53" width="10.52" height="5.92" fill="#7c7c2b" stroke="none" stroke-width="1" shape-rendering="crispEdges"/>
<rect x="396.55" y="122.53" width="10.52" height="5.92" fill="#170917" stroke="none" stroke-width="1" shape-rendering="crispEdges"/>
<rect x="407.02" y="122.53" width="10.52" height="5.92" fill="#90489e" stroke="none" stroke-width="1" shape-rendering="crispEdges"/>
<text transform="translate(422,13.84) rotate(0.1)" x="0" y="2.29" font-size="6.55" text-anchor="start" fill="#222" stroke="#222" stroke-width="0.04" font-style="italic">MALAT1</text>
<text transform="translate(422,19.71) rotate(0.1)" x="0" y="2.29" font-size="6.55" text-anchor="start" fill="#222" stroke="#222" stroke-width="0.04" font-style="italic">RPL10</text>
<text transform="translate(422,25.59) rotate(0.1)" x="0" y="2.29" font-size="6.55" text-anchor="start" fill="#222" stroke="#222" stroke-width="0.04" font-style="italic">RPS15A</text>
<text transform="translate(422,31.46) rotate(0.1)" x="0" y="2.29" font-size="6.55" text-anchor="start" fill="#222" stroke="#222" stroke-width="0.04" font-style="italic">RPS2</text>
<text transform="translate(422,37.34) rotate(0.1)" x="0" y="2.29" font-size="6.55" text-anchor="start" fill="#222" stroke="#222" stroke-width="0.04" font-style="italic">RPLP1</text>
<text transform="translate(422,43.21) rotate(0.1)" x="0" y="2.29" font-size="6.55" text-anchor="start" fill="#222" stroke="#222" stroke-width="0.04" font-style="italic">RPS10</text>
<text transform="translate(422,49.09) rotate(0.1)" x="0" y="2.29" font-size="6.55" text-anchor="start" fill="#222" stroke="#222" stroke-width="0.04" font-style="italic">RPS14</text>
<text transform="translate(422,54.96) rotate(0.1)" x="0" y="2.29" font-size="6.55" text-anchor="start" fill="#222" stroke="#222" stroke-width="0.04" font-style="italic">RPL39</text>
<text transform="translate(422,60.84) rotate(0.1)" x="0" y="2.29" font-size="6.55" text-anchor="start" fill="#222" stroke="#222" stroke-width="0.04" font-style="italic">RPL13</text>
<text transform="translate(422,66.71) rotate(0.1)" x="0" y="2.29" font-size="6.55" text-anchor="start" fill="#222" stroke="#222" stroke-width="0.04" font-style="italic">RPL7</text>
<text transform="translate(422,72.59) rotate(0.1)" x="0" y="2.29" font-size="6.55" text-anchor="start" fill="#222" stroke="#222" stroke-width="0.04" font-style="italic">RPS15</text>
<text transform="translate(422,78.46) rotate(0.1)" x="0" y="2.29" font-size="6.55" text-anchor="start" fill="#222" stroke="#222" stroke-width="0.04" font-style="italic">RPL21</text>
<text transform="translate(422,84.34) rotate(0.1)" x="0" y="2.29" font-size="6.55" text-anchor="start" fill="#222" stroke="#222" stroke-width="0.04" font-style="italic">RPL35A</text>
<text transform="translate(422,90.21) rotate(0.1)" x="0" y="2.29" font-size="6.55" text-anchor="start" fill="#222" stroke="#222" stroke-width="0.04" font-style="italic">RPS3A</text>
<text transform="translate(422,96.09) rotate(0.1)" x="0" y="2.29" font-size="6.55" text-anchor="start" fill="#222" stroke="#222" stroke-width="0.04" font-style="italic">NBEAL1</text>
<text transform="translate(422,101.96) rotate(0.1)" x="0" y="2.29" font-size="6.55" text-anchor="start" fill="#222" stroke="#222" stroke-width="0.04" font-style="italic">RPS18</text>
<text transform="translate(422,107.84) rotate(0.1)" x="0" y="2.29" font-size="6.55" text-anchor="start" fill="#222" stroke="#222" stroke-width="0.04" font-style="italic">RPL34</text>
<text transform="translate(422,113.71) rotate(0.1)" x="0" y="2.29" font-size="6.55" text-anchor="start" fill="#222" stroke="#222" stroke-width="0.04" font-style="italic">RPL9</text>
<text transform="translate(422,119.59) rotate(0.1)" x="0" y="2.29" font-size="6.55" text-anchor="start" fill="#222" stroke="#222" stroke-width="0.04" font-style="italic">RPL6</text>
<text transform="translate(422,125.46) rotate(0.1)" x="0" y="2.29" font-size="6.55" text-anchor="start" fill="#222" stroke="#222" stroke-width="0.04" font-style="italic">RPS28</text>
<text transform="translate(348.74,134.1) rotate(0.1)" x="0" y="2.2" font-size="6.3" text-anchor="middle" fill="#222" stroke="#222" stroke-width="0.12">0</text>
<text transform="translate(359.2,134.1) rotate(0.1)" x="0" y="2.2" font-size="6.3" text-anchor="middle" fill="#222" stroke="#222" stroke-width="0.12">1</text>
<text transform="translate(369.68,134.1) rotate(0.1)" x="0" y="2.2" font-size="6.3" text-anchor="middle" fill="#222" stroke="#222" stroke-width="0.12">2</text>
<text transform="translate(380.14,134.1) rotate(0.1)" x="0" y="2.2" font-size="6.3" text-anchor="middle" fill="#222" stroke="#222" stroke-width="0.12">3</text>
<text transform="translate(390.62,134.1) rotate(0.1)" x="0" y="2.2" font-size="6.3" text-anchor="middle" fill="#222" stroke="#222" stroke-width="0.12">4</text>
<text transform="translate(401.08,134.1) rotate(0.1)" x="0" y="2.2" font-size="6.3" text-anchor="middle" fill="#222" stroke="#222" stroke-width="0.12">6</text>
<text transform="translate(411.56,134.1) rotate(0.1)" x="0" y="2.2" font-size="6.3" text-anchor="middle" fill="#222" stroke="#222" stroke-width="0.12">8</text>
<rect x="406.4" y="8" width="11.8" height="130" fill="none" stroke="#c0142e" stroke-width="1.3"/>
<defs><linearGradient id="gH" x1="0" y1="0" x2="0" y2="1"><stop offset="0" stop-color="#cfc82a"/><stop offset="0.25" stop-color="#6e6a1c"/><stop offset="0.5" stop-color="#050505"/><stop offset="0.75" stop-color="#4a1a58"/><stop offset="1" stop-color="#8e3ca6"/></linearGradient></defs>
<rect x="496.9" y="55.2" width="6.4" height="31.9" rx="1.2" fill="url(#gH)"/>
<text transform="translate(506.6,55.8) rotate(0.1)" x="0" y="2.1" font-size="6" text-anchor="start" fill="#222" stroke="#222" stroke-width="0.12">2</text>
<text transform="translate(506.6,62.6) rotate(0.1)" x="0" y="2.1" font-size="6" text-anchor="start" fill="#222" stroke="#222" stroke-width="0.12">1</text>
<text transform="translate(506.6,69.8) rotate(0.1)" x="0" y="2.1" font-size="6" text-anchor="start" fill="#222" stroke="#222" stroke-width="0.12">0</text>
<text transform="translate(506.6,77.1) rotate(0.1)" x="0" y="2.1" font-size="6" text-anchor="start" fill="#222" stroke="#222" stroke-width="0.12">−1</text>
<text transform="translate(506.6,84.4) rotate(0.1)" x="0" y="2.1" font-size="6" text-anchor="start" fill="#222" stroke="#222" stroke-width="0.12">−2</text>
<text transform="translate(478.3,63.2) rotate(0.1) scale(0.91,1)" x="0" y="2.34" font-size="6.7" text-anchor="middle" fill="#222" stroke="#222" stroke-width="0.12">Average</text>
<text transform="translate(478.3,71) rotate(0.1) scale(0.91,1)" x="0" y="2.34" font-size="6.7" text-anchor="middle" fill="#222" stroke="#222" stroke-width="0.12">Scaled</text>
<text transform="translate(478.5,78.9) rotate(0.1) scale(0.91,1)" x="0" y="2.34" font-size="6.7" text-anchor="middle" fill="#222" stroke="#222" stroke-width="0.12">Expression</text>
<line x1="56.5" y1="158.5" x2="56.5" y2="268" stroke="#111" stroke-width="1"/>
<line x1="56.1" y1="267.5" x2="165.1" y2="267.5" stroke="#111" stroke-width="1"/>
<line x1="53.2" y1="179.5" x2="56.6" y2="179.5" stroke="#111" stroke-width="0.9"/>
<text transform="translate(51,179.2) rotate(0.1)" x="0" y="2.38" font-size="6.8" text-anchor="end" fill="#222" stroke="#222" stroke-width="0.12">0.50</text>
<line x1="53.2" y1="200.5" x2="56.6" y2="200.5" stroke="#111" stroke-width="0.9"/>
<text transform="translate(51,200.7) rotate(0.1)" x="0" y="2.38" font-size="6.8" text-anchor="end" fill="#222" stroke="#222" stroke-width="0.12">0.25</text>
<line x1="53.2" y1="222.5" x2="56.6" y2="222.5" stroke="#111" stroke-width="0.9"/>
<text transform="translate(51,222.2) rotate(0.1)" x="0" y="2.38" font-size="6.8" text-anchor="end" fill="#222" stroke="#222" stroke-width="0.12">0.00</text>
<line x1="53.2" y1="243.5" x2="56.6" y2="243.5" stroke="#111" stroke-width="0.9"/>
<text transform="translate(51,243.7) rotate(0.1)" x="0" y="2.38" font-size="6.8" text-anchor="end" fill="#222" stroke="#222" stroke-width="0.12">−0.25</text>
<line x1="53.2" y1="265.5" x2="56.6" y2="265.5" stroke="#111" stroke-width="0.9"/>
<text transform="translate(51,265.2) rotate(0.1)" x="0" y="2.38" font-size="6.8" text-anchor="end" fill="#222" stroke="#222" stroke-width="0.12">−0.50</text>
<text transform="translate(25.6,213.6) rotate(-90) scale(0.86,1)" x="0" y="2.45" font-size="7" text-anchor="middle" fill="#1a1a1a" stroke="#1a1a1a" stroke-width="0.2">Autophagy module score</text>
<line x1="65.5" y1="267.9" x2="65.5" y2="270.6" stroke="#111" stroke-width="0.9"/>
<text transform="translate(65.5,273.7) rotate(-90)" x="0" y="2.27" font-size="6.5" text-anchor="end" fill="#222" stroke="#222" stroke-width="0.12">Cluster0</text>
<line x1="80.5" y1="267.9" x2="80.5" y2="270.6" stroke="#111" stroke-width="0.9"/>
<text transform="translate(80.5,273.7) rotate(-90)" x="0" y="2.27" font-size="6.5" text-anchor="end" fill="#222" stroke="#222" stroke-width="0.12">Cluster1</text>
<line x1="95.5" y1="267.9" x2="95.5" y2="270.6" stroke="#111" stroke-width="0.9"/>
<text transform="translate(95.7,273.7) rotate(-90)" x="0" y="2.27" font-size="6.5" text-anchor="end" fill="#222" stroke="#222" stroke-width="0.12">Cluster2</text>
<line x1="110.5" y1="267.9" x2="110.5" y2="270.6" stroke="#111" stroke-width="0.9"/>
<text transform="translate(110.6,273.7) rotate(-90)" x="0" y="2.27" font-size="6.5" text-anchor="end" fill="#222" stroke="#222" stroke-width="0.12">Cluster3</text>
<line x1="125.5" y1="267.9" x2="125.5" y2="270.6" stroke="#111" stroke-width="0.9"/>
<text transform="translate(125.4,273.7) rotate(-90)" x="0" y="2.27" font-size="6.5" text-anchor="end" fill="#222" stroke="#222" stroke-width="0.12">Cluster4</text>
<line x1="140.5" y1="267.9" x2="140.5" y2="270.6" stroke="#111" stroke-width="0.9"/>
<text transform="translate(140.6,273.7) rotate(-90)" x="0" y="2.27" font-size="6.5" text-anchor="end" fill="#222" stroke="#222" stroke-width="0.12">Cluster6</text>
<line x1="155.5" y1="267.9" x2="155.5" y2="270.6" stroke="#111" stroke-width="0.9"/>
<text transform="translate(155.6,273.7) rotate(-90)" x="0" y="2.27" font-size="6.5" text-anchor="end" fill="#222" stroke="#222" stroke-width="0.12">Cluster8</text>
<line x1="65.5" y1="184.2" x2="65.5" y2="201" stroke="#111" stroke-width="0.9"/>
<path d="M65.5,197 L65.5,198.6 L65.47,200.21 L65.41,201.81 L65.31,203.41 L65.15,205.01 L64.95,206.62 L64.69,208.22 L64.37,209.82 L64.01,211.42 L63.59,213.03 L63.15,214.63 L62.67,216.23 L62.18,217.83 L61.69,219.44 L61.2,221.04 L60.73,222.64 L60.3,224.24 L59.92,225.85 L59.59,227.45 L59.33,229.05 L59.14,230.65 L59.03,232.26 L59,233.86 L59.09,235.46 L59.31,237.06 L59.65,238.67 L60.1,240.27 L60.63,241.87 L61.23,243.47 L61.87,245.08 L62.52,246.68 L63.16,248.28 L63.75,249.88 L64.28,251.49 L64.73,253.09 L65.08,254.69 L65.33,256.29 L65.46,257.9 L65.5,259.5 L65.5,259.5 L65.54,257.9 L65.67,256.29 L65.92,254.69 L66.27,253.09 L66.72,251.49 L67.25,249.88 L67.84,248.28 L68.48,246.68 L69.13,245.08 L69.77,243.47 L70.37,241.87 L70.9,240.27 L71.35,238.67 L71.69,237.06 L71.91,235.46 L72,233.86 L71.97,232.26 L71.86,230.65 L71.67,229.05 L71.41,227.45 L71.08,225.85 L70.7,224.24 L70.27,222.64 L69.8,221.04 L69.31,219.44 L68.82,217.83 L68.33,216.23 L67.85,214.63 L67.41,213.03 L66.99,211.42 L66.63,209.82 L66.31,208.22 L66.05,206.62 L65.85,205.01 L65.69,203.41 L65.59,201.81 L65.53,200.21 L65.5,198.6 L65.5,197 Z" fill="#e07b72" stroke="#333" stroke-width="0.6"/>
<line x1="65.5" y1="224" x2="65.5" y2="239.8" stroke="#111" stroke-width="0.95"/>
<circle cx="65.5" cy="233.1" r="1.3" fill="#000"/>
<line x1="80.5" y1="164.9" x2="80.5" y2="201" stroke="#111" stroke-width="0.9"/>
<path d="M80.5,197 L80.49,198.69 L80.46,200.37 L80.38,202.06 L80.24,203.75 L80.03,205.44 L79.75,207.12 L79.41,208.81 L78.99,210.5 L78.52,212.18 L78,213.87 L77.44,215.56 L76.87,217.25 L76.29,218.93 L75.73,220.62 L75.2,222.31 L74.73,223.99 L74.32,225.68 L73.99,227.37 L73.76,229.06 L73.63,230.74 L73.6,232.43 L73.69,234.12 L73.88,235.81 L74.18,237.49 L74.57,239.18 L75.03,240.87 L75.57,242.55 L76.14,244.24 L76.75,245.93 L77.36,247.62 L77.96,249.3 L78.52,250.99 L79.04,252.68 L79.49,254.36 L79.87,256.05 L80.16,257.74 L80.36,259.43 L80.47,261.11 L80.5,262.8 L80.5,262.8 L80.53,261.11 L80.64,259.43 L80.84,257.74 L81.13,256.05 L81.51,254.36 L81.96,252.68 L82.48,250.99 L83.04,249.3 L83.64,247.62 L84.25,245.93 L84.86,244.24 L85.43,242.55 L85.97,240.87 L86.43,239.18 L86.82,237.49 L87.12,235.81 L87.31,234.12 L87.4,232.43 L87.37,230.74 L87.24,229.06 L87.01,227.37 L86.68,225.68 L86.27,223.99 L85.8,222.31 L85.27,220.62 L84.71,218.93 L84.13,217.25 L83.56,215.56 L83,213.87 L82.48,212.18 L82.01,210.5 L81.59,208.81 L81.25,207.12 L80.97,205.44 L80.76,203.75 L80.62,202.06 L80.54,200.37 L80.51,198.69 L80.5,197 Z" fill="#d8961e" stroke="#333" stroke-width="0.6"/>
<line x1="80.5" y1="223.8" x2="80.5" y2="239.8" stroke="#111" stroke-width="0.95"/>
<circle cx="80.5" cy="231.6" r="1.3" fill="#000"/>
<line x1="95.5" y1="185.8" x2="95.5" y2="210" stroke="#111" stroke-width="0.9"/>
<path d="M95.7,206 L95.69,207.47 L95.65,208.93 L95.55,210.4 L95.37,211.87 L95.11,213.33 L94.78,214.8 L94.36,216.27 L93.86,217.73 L93.31,219.2 L92.72,220.67 L92.1,222.13 L91.48,223.6 L90.89,225.07 L90.35,226.53 L89.87,228 L89.49,229.47 L89.21,230.93 L89.04,232.4 L89,233.87 L89.06,235.33 L89.21,236.8 L89.44,238.27 L89.75,239.73 L90.13,241.2 L90.56,242.67 L91.04,244.13 L91.55,245.6 L92.09,247.07 L92.62,248.53 L93.15,250 L93.65,251.47 L94.12,252.93 L94.54,254.4 L94.91,255.87 L95.2,257.33 L95.43,258.8 L95.59,260.27 L95.68,261.73 L95.7,263.2 L95.7,263.2 L95.72,261.73 L95.81,260.27 L95.97,258.8 L96.2,257.33 L96.49,255.87 L96.86,254.4 L97.28,252.93 L97.75,251.47 L98.25,250 L98.78,248.53 L99.31,247.07 L99.85,245.6 L100.36,244.13 L100.84,242.67 L101.27,241.2 L101.65,239.73 L101.96,238.27 L102.19,236.8 L102.34,235.33 L102.4,233.87 L102.36,232.4 L102.19,230.93 L101.91,229.47 L101.53,228 L101.05,226.53 L100.51,225.07 L99.92,223.6 L99.3,222.13 L98.68,220.67 L98.09,219.2 L97.54,217.73 L97.04,216.27 L96.62,214.8 L96.29,213.33 L96.03,211.87 L95.85,210.4 L95.75,208.93 L95.71,207.47 L95.7,206 Z" fill="#a8a829" stroke="#333" stroke-width="0.6"/>
<line x1="95.5" y1="225.4" x2="95.5" y2="240" stroke="#111" stroke-width="0.95"/>
<circle cx="95.7" cy="233.1" r="1.3" fill="#000"/>
<line x1="110.5" y1="172.3" x2="110.5" y2="192" stroke="#111" stroke-width="0.9"/>
<path d="M110.6,188 L110.6,189.74 L110.57,191.48 L110.51,193.22 L110.41,194.95 L110.26,196.69 L110.06,198.43 L109.8,200.17 L109.49,201.91 L109.13,203.65 L108.72,205.38 L108.27,207.12 L107.8,208.86 L107.31,210.6 L106.81,212.34 L106.32,214.08 L105.85,215.82 L105.41,217.55 L105.01,219.29 L104.67,221.03 L104.39,222.77 L104.18,224.51 L104.05,226.25 L104,227.98 L104.04,229.72 L104.19,231.46 L104.43,233.2 L104.76,234.94 L105.17,236.68 L105.63,238.42 L106.13,240.15 L106.64,241.89 L107.14,243.63 L107.61,245.37 L108.03,247.11 L108.39,248.85 L108.67,250.58 L108.86,252.32 L108.97,254.06 L109,255.8 L112.2,255.8 L112.23,254.06 L112.34,252.32 L112.53,250.58 L112.81,248.85 L113.17,247.11 L113.59,245.37 L114.06,243.63 L114.56,241.89 L115.07,240.15 L115.57,238.42 L116.03,236.68 L116.44,234.94 L116.77,233.2 L117.01,231.46 L117.16,229.72 L117.2,227.98 L117.15,226.25 L117.02,224.51 L116.81,222.77 L116.53,221.03 L116.19,219.29 L115.79,217.55 L115.35,215.82 L114.88,214.08 L114.39,212.34 L113.89,210.6 L113.4,208.86 L112.93,207.12 L112.48,205.38 L112.07,203.65 L111.71,201.91 L111.4,200.17 L111.14,198.43 L110.94,196.69 L110.79,194.95 L110.69,193.22 L110.63,191.48 L110.6,189.74 L110.6,188 Z" fill="#6cb33c" stroke="#333" stroke-width="0.6"/>
<line x1="110.5" y1="221.3" x2="110.5" y2="236.5" stroke="#111" stroke-width="0.95"/>
<circle cx="110.6" cy="229.8" r="1.3" fill="#000"/>
<line x1="125.5" y1="200.9" x2="125.5" y2="207" stroke="#111" stroke-width="0.9"/>
<path d="M125.4,203 L125.39,204.41 L125.36,205.82 L125.28,207.22 L125.14,208.63 L124.93,210.04 L124.65,211.45 L124.3,212.85 L123.89,214.26 L123.42,215.67 L122.9,217.08 L122.34,218.48 L121.77,219.89 L121.2,221.3 L120.64,222.71 L120.13,224.12 L119.66,225.52 L119.27,226.93 L118.95,228.34 L118.74,229.75 L118.62,231.15 L118.61,232.56 L118.71,233.97 L118.91,235.38 L119.21,236.78 L119.6,238.19 L120.06,239.6 L120.59,241.01 L121.16,242.42 L121.75,243.82 L122.35,245.23 L122.93,246.64 L123.48,248.05 L123.98,249.45 L124.42,250.86 L124.79,252.27 L125.07,253.68 L125.26,255.08 L125.37,256.49 L125.4,257.9 L125.4,257.9 L125.43,256.49 L125.54,255.08 L125.73,253.68 L126.01,252.27 L126.38,250.86 L126.82,249.45 L127.32,248.05 L127.87,246.64 L128.45,245.23 L129.05,243.82 L129.64,242.42 L130.21,241.01 L130.74,239.6 L131.2,238.19 L131.59,236.78 L131.89,235.38 L132.09,233.97 L132.19,232.56 L132.18,231.15 L132.06,229.75 L131.85,228.34 L131.53,226.93 L131.14,225.52 L130.67,224.12 L130.16,222.71 L129.6,221.3 L129.03,219.89 L128.46,218.48 L127.9,217.08 L127.38,215.67 L126.91,214.26 L126.5,212.85 L126.15,211.45 L125.87,210.04 L125.66,208.63 L125.52,207.22 L125.44,205.82 L125.41,204.41 L125.4,203 Z" fill="#63bfc6" stroke="#333" stroke-width="0.6"/>
<line x1="125.5" y1="226.7" x2="125.5" y2="241.8" stroke="#111" stroke-width="0.95"/>
<circle cx="125.4" cy="233.6" r="1.3" fill="#000"/>
<line x1="140.5" y1="180.9" x2="140.5" y2="200" stroke="#111" stroke-width="0.9"/>
<path d="M140.6,196 L140.6,197.54 L140.58,199.07 L140.53,200.61 L140.44,202.14 L140.32,203.68 L140.15,205.22 L139.93,206.75 L139.66,208.29 L139.35,209.82 L139,211.36 L138.61,212.89 L138.19,214.43 L137.75,215.97 L137.3,217.5 L136.85,219.04 L136.4,220.57 L135.97,222.11 L135.57,223.65 L135.2,225.18 L134.88,226.72 L134.62,228.25 L134.42,229.79 L134.28,231.33 L134.21,232.86 L134.22,234.4 L134.39,235.93 L134.7,237.47 L135.11,239.01 L135.55,240.54 L135.93,242.08 L136.25,243.61 L136.65,245.15 L137.32,246.68 L138.23,248.22 L139.16,249.76 L139.87,251.29 L140.32,252.83 L140.54,254.36 L140.6,255.9 L140.6,255.9 L140.66,254.36 L140.88,252.83 L141.33,251.29 L142.04,249.76 L142.97,248.22 L143.88,246.68 L144.55,245.15 L144.95,243.61 L145.27,242.08 L145.65,240.54 L146.09,239.01 L146.5,237.47 L146.81,235.93 L146.98,234.4 L146.99,232.86 L146.92,231.33 L146.78,229.79 L146.58,228.25 L146.32,226.72 L146,225.18 L145.63,223.65 L145.23,222.11 L144.8,220.57 L144.35,219.04 L143.9,217.5 L143.45,215.97 L143.01,214.43 L142.59,212.89 L142.2,211.36 L141.85,209.82 L141.54,208.29 L141.27,206.75 L141.05,205.22 L140.88,203.68 L140.76,202.14 L140.67,200.61 L140.62,199.07 L140.6,197.54 L140.6,196 Z" fill="#5f9ee0" stroke="#333" stroke-width="0.6"/>
<line x1="140.5" y1="225.1" x2="140.5" y2="243.7" stroke="#111" stroke-width="0.95"/>
<circle cx="140.6" cy="234.4" r="1.3" fill="#000"/>
<line x1="155.5" y1="180.4" x2="155.5" y2="197" stroke="#111" stroke-width="0.9"/>
<path d="M155.6,193 L155.59,194.36 L155.56,195.72 L155.48,197.08 L155.35,198.44 L155.16,199.79 L154.9,201.15 L154.57,202.51 L154.17,203.87 L153.72,205.23 L153.21,206.59 L152.67,207.95 L152.11,209.31 L151.53,210.67 L150.96,212.03 L150.42,213.38 L149.92,214.74 L149.48,216.1 L149.1,217.46 L148.81,218.82 L148.61,220.18 L148.51,221.54 L148.51,222.9 L148.56,224.26 L148.67,225.62 L148.83,226.97 L149.02,228.33 L149.26,229.69 L149.52,231.05 L149.8,232.41 L150.08,233.77 L150.37,235.13 L150.64,236.49 L150.89,237.85 L151.11,239.21 L151.29,240.56 L151.43,241.92 L151.53,243.28 L151.58,244.64 L151.6,246 L159.6,246 L159.62,244.64 L159.67,243.28 L159.77,241.92 L159.91,240.56 L160.09,239.21 L160.31,237.85 L160.56,236.49 L160.83,235.13 L161.12,233.77 L161.4,232.41 L161.68,231.05 L161.94,229.69 L162.18,228.33 L162.37,226.97 L162.53,225.62 L162.64,224.26 L162.69,222.9 L162.69,221.54 L162.59,220.18 L162.39,218.82 L162.1,217.46 L161.72,216.1 L161.28,214.74 L160.78,213.38 L160.24,212.03 L159.67,210.67 L159.09,209.31 L158.53,207.95 L157.99,206.59 L157.48,205.23 L157.03,203.87 L156.63,202.51 L156.3,201.15 L156.04,199.79 L155.85,198.44 L155.72,197.08 L155.64,195.72 L155.61,194.36 L155.6,193 Z" fill="#a57ab9" stroke="#333" stroke-width="0.6"/>
<line x1="155.5" y1="216.9" x2="155.5" y2="234.4" stroke="#111" stroke-width="0.95"/>
<circle cx="155.6" cy="225.9" r="1.3" fill="#000"/>
<text transform="translate(34.8,315.4) rotate(0.1)" x="0" y="2.24" font-size="6.4" text-anchor="start" fill="#222" stroke="#222" stroke-width="0.12">Cluster0</text>
<text transform="translate(34.8,323.4) rotate(0.1)" x="0" y="2.24" font-size="6.4" text-anchor="start" fill="#222" stroke="#222" stroke-width="0.12">Cluster1</text>
<text transform="translate(34.8,331.4) rotate(0.1)" x="0" y="2.24" font-size="6.4" text-anchor="start" fill="#222" stroke="#222" stroke-width="0.12">Cluster2</text>
<text transform="translate(34.8,339.5) rotate(0.1)" x="0" y="2.24" font-size="6.4" text-anchor="start" fill="#222" stroke="#222" stroke-width="0.12">Cluster3</text>
<text transform="translate(34.8,347.4) rotate(0.1)" x="0" y="2.24" font-size="6.4" text-anchor="start" fill="#222" stroke="#222" stroke-width="0.12">Cluster4</text>
<text transform="translate(34.8,355.3) rotate(0.1)" x="0" y="2.24" font-size="6.4" text-anchor="start" fill="#222" stroke="#222" stroke-width="0.12">Cluster6</text>
<rect x="73.6" y="313.2" width="14.8" height="7.8" fill="#fff" stroke="#222" stroke-width="0.8"/>
<text transform="translate(81,317.4) rotate(0.1)" x="0" y="2.2" font-size="6.3" text-anchor="middle" fill="#222" stroke="#222" stroke-width="0.12">n.s</text>
<rect x="88.4" y="313.2" width="14.8" height="7.8" fill="#fff" stroke="#222" stroke-width="0.8"/>
<text transform="translate(95.8,317.4) rotate(0.1)" x="0" y="2.2" font-size="6.3" text-anchor="middle" fill="#222" stroke="#222" stroke-width="0.12">n.s</text>
<rect x="103.2" y="313.2" width="14.8" height="7.8" fill="#fff" stroke="#222" stroke-width="0.8"/>
<text transform="translate(110.6,317.8) rotate(0.1)" x="0" y="1.96" font-size="5.6" text-anchor="middle" fill="#222" stroke="#222" stroke-width="0.05">**</text>
<rect x="118" y="313.2" width="14.8" height="7.8" fill="#fff" stroke="#222" stroke-width="0.8"/>
<text transform="translate(125.4,317.4) rotate(0.1)" x="0" y="2.2" font-size="6.3" text-anchor="middle" fill="#222" stroke="#222" stroke-width="0.12">n.s</text>
<rect x="132.8" y="313.2" width="14.8" height="7.8" fill="#fff" stroke="#222" stroke-width="0.8"/>
<text transform="translate(140.2,317.4) rotate(0.1)" x="0" y="2.2" font-size="6.3" text-anchor="middle" fill="#222" stroke="#222" stroke-width="0.12">n.s</text>
<rect x="147.6" y="313.2" width="14.8" height="7.8" fill="#fff" stroke="#222" stroke-width="0.8"/>
<text transform="translate(155,317.8) rotate(0.1)" x="0" y="1.96" font-size="5.6" text-anchor="middle" fill="#222" stroke="#222" stroke-width="0.05">****</text>
<rect x="88.4" y="321" width="14.8" height="7.9" fill="#fff" stroke="#222" stroke-width="0.8"/>
<text transform="translate(95.8,325.25) rotate(0.1)" x="0" y="2.2" font-size="6.3" text-anchor="middle" fill="#222" stroke="#222" stroke-width="0.12">n.s</text>
<rect x="103.2" y="321" width="14.8" height="7.9" fill="#fff" stroke="#222" stroke-width="0.8"/>
<text transform="translate(110.6,325.25) rotate(0.1)" x="0" y="2.2" font-size="6.3" text-anchor="middle" fill="#222" stroke="#222" stroke-width="0.12">n.s</text>
<rect x="118" y="321" width="14.8" height="7.9" fill="#fff" stroke="#222" stroke-width="0.8"/>
<text transform="translate(125.4,325.65) rotate(0.1)" x="0" y="1.96" font-size="5.6" text-anchor="middle" fill="#222" stroke="#222" stroke-width="0.05">*</text>
<rect x="132.8" y="321" width="14.8" height="7.9" fill="#fff" stroke="#222" stroke-width="0.8"/>
<text transform="translate(140.2,325.25) rotate(0.1)" x="0" y="2.2" font-size="6.3" text-anchor="middle" fill="#222" stroke="#222" stroke-width="0.12">n.s</text>
<rect x="147.6" y="321" width="14.8" height="7.9" fill="#fff" stroke="#222" stroke-width="0.8"/>
<text transform="translate(155,325.65) rotate(0.1)" x="0" y="1.96" font-size="5.6" text-anchor="middle" fill="#222" stroke="#222" stroke-width="0.05">***</text>
<rect x="103.2" y="328.9" width="14.8" height="7.9" fill="#fff" stroke="#222" stroke-width="0.8"/>
<text transform="translate(110.6,333.55) rotate(0.1)" x="0" y="1.96" font-size="5.6" text-anchor="middle" fill="#222" stroke="#222" stroke-width="0.05">***</text>
<rect x="118" y="328.9" width="14.8" height="7.9" fill="#fff" stroke="#222" stroke-width="0.8"/>
<text transform="translate(125.4,333.15) rotate(0.1)" x="0" y="2.2" font-size="6.3" text-anchor="middle" fill="#222" stroke="#222" stroke-width="0.12">n.s</text>
<rect x="132.8" y="328.9" width="14.8" height="7.9" fill="#fff" stroke="#222" stroke-width="0.8"/>
<text transform="translate(140.2,333.15) rotate(0.1)" x="0" y="2.2" font-size="6.3" text-anchor="middle" fill="#222" stroke="#222" stroke-width="0.12">n.s</text>
<rect x="147.6" y="328.9" width="14.8" height="7.9" fill="#fff" stroke="#222" stroke-width="0.8"/>
<text transform="translate(155,333.55) rotate(0.1)" x="0" y="1.96" font-size="5.6" text-anchor="middle" fill="#222" stroke="#222" stroke-width="0.05">****</text>
<rect x="118" y="336.8" width="14.8" height="8" fill="#fff" stroke="#222" stroke-width="0.8"/>
<text transform="translate(125.4,341.5) rotate(0.1)" x="0" y="1.96" font-size="5.6" text-anchor="middle" fill="#222" stroke="#222" stroke-width="0.05">****</text>
<rect x="132.8" y="336.8" width="14.8" height="8" fill="#fff" stroke="#222" stroke-width="0.8"/>
<text transform="translate(140.2,341.1) rotate(0.1)" x="0" y="2.2" font-size="6.3" text-anchor="middle" fill="#222" stroke="#222" stroke-width="0.12">n.s</text>
<rect x="147.6" y="336.8" width="14.8" height="8" fill="#fff" stroke="#222" stroke-width="0.8"/>
<text transform="translate(155,341.1) rotate(0.1)" x="0" y="2.2" font-size="6.3" text-anchor="middle" fill="#222" stroke="#222" stroke-width="0.12">n.s</text>
<rect x="132.8" y="344.8" width="14.8" height="8" fill="#fff" stroke="#222" stroke-width="0.8"/>
<text transform="translate(140.2,349.1) rotate(0.1)" x="0" y="2.2" font-size="6.3" text-anchor="middle" fill="#222" stroke="#222" stroke-width="0.12">n.s</text>
<rect x="147.6" y="344.8" width="14.8" height="8" fill="#fff" stroke="#222" stroke-width="0.8"/>
<text transform="translate(155,349.5) rotate(0.1)" x="0" y="1.96" font-size="5.6" text-anchor="middle" fill="#222" stroke="#222" stroke-width="0.05">****</text>
<rect x="147.6" y="352.8" width="14.8" height="8.1" fill="#fff" stroke="#222" stroke-width="0.8"/>
<text transform="translate(155,357.55) rotate(0.1)" x="0" y="1.96" font-size="5.6" text-anchor="middle" fill="#222" stroke="#222" stroke-width="0.05">***</text>
<defs><linearGradient id="gD" x1="0" y1="1" x2="0" y2="0"><stop offset="0.000" stop-color="#1c2a8c"/><stop offset="0.141" stop-color="#2255b8"/><stop offset="0.281" stop-color="#489ee0"/><stop offset="0.391" stop-color="#6cc4bc"/><stop offset="0.516" stop-color="#b4d84c"/><stop offset="0.641" stop-color="#f4e22c"/><stop offset="0.766" stop-color="#f6a622"/><stop offset="0.891" stop-color="#e04a1a"/><stop offset="1.000" stop-color="#9c1214"/></linearGradient></defs>
<path d="M224.4 195.7h0M234.8 193.0h0M233.8 186.3h0M239.4 203.3h0M246.1 204.4h0M258.5 190.8h0M251.7 189.6h0M235.7 186.4h0M237.2 176.6h0M238.5 186.9h0M239.2 188.5h0M241.1 203.0h0M248.9 198.6h0M244.8 206.1h0M232.3 198.7h0M230.7 193.9h0M238.8 206.5h0M244.3 201.5h0M228.0 184.1h0M245.5 200.2h0M260.1 191.9h0M253.3 189.0h0M233.3 185.0h0M248.2 199.1h0" stroke="#87cc92" stroke-width="1.75" stroke-linecap="round" fill="none"/>
<path d="M242.4 195.8h0M225.6 200.0h0M235.6 187.7h0M242.0 191.8h0M249.2 208.3h0M245.7 186.7h0M246.7 201.0h0M231.9 177.3h0M252.9 191.3h0M246.9 211.3h0M238.9 193.3h0M262.7 194.6h0" stroke="#f6ae23" stroke-width="1.75" stroke-linecap="round" fill="none"/>
<path d="M261.3 197.1h0M262.7 195.3h0" stroke="#c33217" stroke-width="1.75" stroke-linecap="round" fill="none"/>
<path d="M234.9 209.9h0M231.4 206.3h0M253.9 179.1h0M257.0 182.7h0M246.8 175.4h0M244.0 179.2h0M240.7 214.6h0M252.4 183.5h0M243.5 214.0h0M228.9 202.2h0M234.2 180.0h0M249.6 201.3h0M234.7 211.4h0M259.3 187.0h0M232.6 183.0h0M230.5 177.4h0M235.9 206.3h0M254.3 201.0h0M248.2 200.4h0M232.2 194.5h0M250.4 204.0h0M223.7 194.2h0M260.0 187.5h0M240.7 206.5h0M252.8 205.1h0M250.3 208.7h0M240.4 212.2h0M226.7 205.8h0M236.4 178.8h0M235.7 176.7h0M243.3 213.7h0M235.0 179.9h0M256.0 181.2h0M246.6 211.6h0M234.4 208.0h0M238.7 182.2h0M235.2 180.0h0M235.9 180.7h0M259.8 193.4h0M238.3 209.9h0M240.8 207.7h0M250.7 196.0h0M237.1 182.6h0M239.9 210.6h0M229.7 207.5h0M247.7 216.3h0M240.8 217.3h0" stroke="#1f3da0" stroke-width="1.75" stroke-linecap="round" fill="none"/>
<path d="M254.9 203.1h0" stroke="#ee841f" stroke-width="1.75" stroke-linecap="round" fill="none"/>
<path d="M259.8 187.3h0M239.8 184.0h0M235.2 185.1h0M239.0 189.1h0M249.3 198.7h0M246.0 177.8h0M237.2 186.1h0M252.9 201.9h0M239.3 201.0h0M231.2 187.0h0M244.0 204.8h0M249.3 196.3h0M253.9 199.1h0M251.8 194.1h0M242.5 192.5h0M224.1 189.3h0M225.8 192.2h0M240.1 195.9h0M224.9 193.5h0M228.5 201.2h0M257.8 194.1h0M232.3 207.5h0M247.3 215.3h0" stroke="#f5cb28" stroke-width="1.75" stroke-linecap="round" fill="none"/>
<path d="M233.2 204.8h0M241.5 206.8h0M246.5 209.1h0M244.9 180.9h0M230.0 177.6h0M255.2 189.9h0M230.7 181.9h0M251.7 178.0h0M231.4 200.0h0M252.9 182.3h0M236.5 192.5h0M249.3 202.2h0M251.1 193.7h0M240.2 207.6h0M243.8 179.6h0M255.9 188.4h0M250.0 192.4h0M239.6 184.5h0M236.6 185.9h0M233.9 200.4h0M247.0 183.2h0M228.1 193.5h0M245.5 201.2h0M238.5 181.3h0M234.8 189.7h0M226.8 188.2h0M258.0 200.3h0M240.1 183.1h0M257.9 197.7h0M233.0 193.4h0M245.8 189.5h0M250.2 195.7h0M250.7 190.6h0M236.1 201.9h0M248.0 199.8h0M236.2 205.3h0M233.8 191.5h0M231.1 192.7h0M232.0 197.6h0M255.0 198.5h0M243.6 183.7h0M237.9 198.6h0M224.5 189.1h0M247.2 194.3h0M233.3 187.8h0M243.1 198.5h0M234.7 192.2h0M248.3 185.4h0M231.8 183.7h0M240.5 197.1h0M246.8 189.7h0" stroke="#ccdc40" stroke-width="1.75" stroke-linecap="round" fill="none"/>
<path d="M263.5 195.9h0" stroke="#e3561b" stroke-width="1.75" stroke-linecap="round" fill="none"/>
<path d="M256.9 196.1h0M232.9 185.3h0M232.4 202.1h0M232.9 195.7h0M244.6 178.1h0M230.3 188.9h0M243.7 176.2h0M235.7 183.4h0M237.2 194.0h0M248.5 191.1h0M231.9 189.2h0" stroke="#67bfc1" stroke-width="1.75" stroke-linecap="round" fill="none"/>
<path d="M249.8 192.5h0M252.2 203.8h0M227.7 196.2h0M242.4 188.4h0" stroke="#52a9d6" stroke-width="1.75" stroke-linecap="round" fill="none"/>
<path d="M243.4 179.7h0M253.2 200.2h0M245.0 196.0h0M247.3 178.3h0M251.1 192.6h0M232.7 191.4h0M225.2 187.2h0M258.2 189.8h0M245.0 178.0h0M246.6 191.8h0M241.2 193.0h0M246.9 188.2h0M225.1 194.4h0M253.0 193.2h0M239.6 209.6h0M243.1 197.9h0M250.5 192.9h0M252.8 199.6h0M248.5 180.2h0M231.2 199.0h0M241.8 208.4h0M241.6 204.0h0M246.3 202.7h0M253.5 204.2h0M233.5 181.7h0M234.2 181.0h0M240.6 201.4h0M252.1 191.2h0M231.7 183.0h0M246.7 201.6h0M236.5 186.9h0M231.3 197.4h0M241.0 198.6h0M239.2 197.2h0M243.7 182.9h0M255.5 184.2h0M236.9 199.6h0M247.1 199.3h0M243.1 181.4h0M234.7 184.6h0M250.4 204.1h0M241.4 182.9h0M240.6 196.5h0" stroke="#ece130" stroke-width="1.75" stroke-linecap="round" fill="none"/>
<path d="M227.4 201.8h0M227.5 206.7h0M252.8 183.2h0M230.8 182.0h0M252.2 180.5h0M228.8 198.6h0M246.9 184.6h0M231.9 191.1h0M241.2 182.7h0M240.8 212.9h0M244.7 177.3h0M232.2 181.2h0M244.7 179.3h0M236.6 184.2h0M236.7 192.2h0M236.4 183.3h0M231.0 203.9h0M227.9 186.0h0M233.4 201.8h0M237.7 184.8h0M240.9 186.2h0M254.1 194.0h0M245.0 198.1h0M259.2 194.9h0M241.2 187.6h0M244.4 204.2h0M239.6 180.6h0M242.7 192.3h0M226.2 185.2h0M250.1 184.1h0M229.9 185.8h0M228.1 190.3h0M235.3 187.9h0M250.8 206.7h0M246.6 205.5h0M230.8 186.4h0M232.3 188.6h0M245.1 201.2h0M237.6 191.6h0M237.6 195.5h0M235.2 193.3h0M245.1 179.6h0M253.8 196.7h0M234.7 175.5h0M245.2 196.7h0M254.8 198.8h0M243.7 188.5h0M243.1 188.7h0M237.9 193.7h0M254.1 192.2h0M250.7 186.7h0" stroke="#abd65a" stroke-width="1.75" stroke-linecap="round" fill="none"/>
<path d="M235.6 176.9h0M257.6 198.9h0M254.6 182.2h0M237.6 212.4h0M239.7 179.7h0M232.1 202.6h0M231.6 177.8h0" stroke="#2150b3" stroke-width="1.75" stroke-linecap="round" fill="none"/>
<path d="M241.5 186.8h0M238.6 208.4h0M232.8 210.4h0M245.1 179.6h0M226.4 194.9h0M232.5 175.8h0M232.2 210.6h0M246.0 182.6h0M240.5 175.1h0M254.4 199.0h0M227.3 204.3h0M238.1 212.9h0M258.6 187.7h0M246.6 176.7h0M234.1 185.5h0M225.2 194.0h0M249.7 208.3h0M238.1 177.0h0M251.0 190.3h0M224.3 188.7h0M249.1 177.2h0M228.9 180.6h0M233.5 173.2h0" stroke="#1c2a8c" stroke-width="1.75" stroke-linecap="round" fill="none"/>
<path d="M243.3 204.3h0M240.5 206.9h0M257.4 188.1h0M245.6 187.9h0M239.5 198.4h0M241.4 197.7h0M240.6 187.8h0M246.4 195.7h0M239.4 176.9h0M247.7 185.2h0M258.6 185.2h0M244.3 211.2h0M252.5 192.1h0M240.7 182.9h0M228.5 194.5h0M228.0 184.6h0M234.9 187.3h0M232.9 206.9h0M238.7 207.7h0M245.5 181.0h0M242.4 211.1h0M245.3 204.8h0M231.7 197.0h0M244.6 197.1h0M249.4 184.9h0M247.7 197.8h0M239.6 195.9h0M243.9 183.0h0M235.4 203.3h0M239.5 206.2h0M235.4 189.5h0M244.3 191.3h0M243.5 196.4h0M254.0 199.2h0" stroke="#f5cb28" stroke-width="1.75" stroke-linecap="round" fill="none"/>
<path d="M262.8 193.1h0" stroke="#e3561b" stroke-width="1.75" stroke-linecap="round" fill="none"/>
<path d="M240.4 213.7h0M238.5 175.0h0M226.9 181.5h0M258.4 185.5h0M227.7 179.4h0M237.4 209.6h0M246.0 182.1h0M234.3 210.3h0M240.3 180.2h0M243.8 203.2h0" stroke="#2150b3" stroke-width="1.75" stroke-linecap="round" fill="none"/>
<path d="M236.2 179.1h0M236.4 204.1h0M242.9 178.5h0M252.1 195.3h0M240.1 185.8h0M250.3 197.3h0" stroke="#ee841f" stroke-width="1.75" stroke-linecap="round" fill="none"/>
<path d="M254.0 190.3h0M235.3 182.2h0M236.5 186.3h0M241.7 185.4h0M228.5 189.8h0M247.0 202.3h0M250.4 197.6h0M243.1 198.1h0M232.0 204.8h0M238.7 206.3h0M255.4 191.8h0M237.4 197.9h0M228.3 182.8h0" stroke="#87cc92" stroke-width="1.75" stroke-linecap="round" fill="none"/>
<path d="M247.0 193.7h0M244.8 194.7h0M245.7 202.2h0M225.3 196.3h0M240.4 203.3h0M233.6 181.2h0M228.5 196.6h0M255.7 192.1h0M237.3 182.0h0M242.6 201.6h0M246.3 197.3h0M239.0 194.4h0M236.5 208.9h0M250.2 186.8h0M237.1 193.5h0M249.6 191.1h0M242.3 180.0h0M246.0 196.1h0M251.8 185.2h0M229.7 206.4h0M250.4 200.2h0M240.7 202.3h0M232.7 190.6h0M238.6 212.3h0M236.6 199.7h0M249.7 185.6h0M231.6 208.7h0M244.6 182.4h0M243.7 190.3h0M244.7 192.1h0M242.3 188.6h0M249.0 187.9h0M246.9 187.7h0M236.8 199.7h0M247.9 182.0h0M257.9 194.8h0M234.0 182.7h0M249.6 184.3h0M246.6 197.1h0" stroke="#abd65a" stroke-width="1.75" stroke-linecap="round" fill="none"/>
<path d="M252.0 192.5h0M255.1 200.5h0M228.1 197.7h0M256.2 194.1h0M242.6 180.5h0M239.1 184.2h0M246.6 195.4h0M229.9 203.7h0M243.2 211.9h0M226.4 187.8h0M227.5 205.0h0M258.2 187.7h0M242.2 186.1h0M231.6 187.0h0M243.4 199.3h0M248.4 196.8h0M236.0 183.0h0M236.9 176.6h0M258.9 192.3h0M256.4 194.6h0M235.9 204.3h0M250.9 196.7h0M252.2 197.1h0M236.3 194.7h0M235.0 207.1h0M236.1 196.4h0M251.0 186.6h0M257.5 187.4h0M242.8 201.2h0M250.4 196.5h0M240.2 207.1h0M232.7 179.6h0M239.0 181.0h0M234.4 184.6h0M232.5 209.1h0M252.7 186.7h0M246.0 187.5h0M239.9 203.7h0M225.9 183.5h0" stroke="#ece130" stroke-width="1.75" stroke-linecap="round" fill="none"/>
<path d="M238.6 201.8h0M236.9 206.2h0M254.2 189.8h0M247.1 208.4h0M254.9 187.9h0M230.5 199.0h0M249.7 177.3h0M228.9 195.0h0M242.6 189.4h0M243.9 209.9h0M243.4 201.7h0M229.6 195.4h0M246.8 199.2h0M234.7 207.4h0M262.2 196.5h0" stroke="#f6ae23" stroke-width="1.75" stroke-linecap="round" fill="none"/>
<path d="M242.1 187.6h0M239.8 183.4h0M246.9 204.2h0M240.1 194.6h0M237.8 184.0h0M238.3 204.6h0M249.8 185.3h0M242.7 198.0h0M257.5 186.4h0M253.8 188.5h0" stroke="#67bfc1" stroke-width="1.75" stroke-linecap="round" fill="none"/>
<path d="M248.6 188.7h0M224.8 192.2h0M241.4 194.7h0M250.1 190.2h0M235.8 184.2h0M240.6 174.0h0M231.6 196.3h0M239.1 190.1h0M235.0 182.7h0M238.1 191.8h0M251.3 198.2h0M231.4 181.3h0M243.6 177.2h0M243.8 182.4h0M239.2 209.9h0M234.9 186.0h0M233.1 181.9h0M254.5 192.4h0M237.7 180.4h0M233.3 188.5h0M237.6 191.2h0M237.0 196.3h0M258.0 185.6h0M256.4 193.8h0M246.2 187.1h0M229.8 198.7h0M242.2 203.2h0M244.4 179.0h0M226.9 194.1h0M251.6 198.7h0M236.0 189.8h0M245.7 187.9h0M254.8 203.3h0M229.2 185.2h0M253.3 191.6h0M253.6 187.4h0M248.7 188.0h0M258.2 187.0h0M243.0 177.6h0M231.9 205.2h0M243.6 189.3h0M245.3 179.6h0M232.5 201.9h0M245.8 199.3h0M233.2 198.0h0M238.7 198.8h0M245.6 191.3h0M227.3 201.7h0M258.3 184.9h0M247.3 216.7h0" stroke="#ccdc40" stroke-width="1.75" stroke-linecap="round" fill="none"/>
<path d="M228.7 207.5h0M250.0 204.3h0M247.6 181.1h0M238.7 212.7h0M257.7 199.6h0M244.3 180.5h0M242.0 213.4h0M256.7 193.4h0M227.5 191.8h0M252.6 205.3h0M250.6 176.3h0M223.8 192.2h0M258.6 187.1h0M226.9 206.1h0M245.0 208.5h0M249.8 203.3h0M247.9 188.1h0M232.1 208.0h0M250.1 191.5h0M244.5 207.0h0M239.5 209.9h0M232.5 178.2h0M246.2 175.3h0M233.0 203.1h0M239.8 200.3h0M250.1 206.8h0" stroke="#1c2a8c" stroke-width="1.75" stroke-linecap="round" fill="none"/>
<path d="M226.4 204.9h0M226.0 198.8h0M252.2 181.4h0M236.3 175.3h0M236.6 175.5h0M260.2 198.6h0M251.7 177.5h0M254.9 195.8h0M228.2 204.5h0M224.7 187.4h0M229.6 184.5h0M233.7 176.6h0M238.1 214.0h0M244.7 178.4h0M248.4 196.8h0M255.4 190.3h0M240.0 212.4h0M248.4 199.1h0M226.5 181.9h0M255.1 200.1h0M232.2 180.7h0M228.1 187.3h0M227.5 186.8h0M254.8 180.3h0M254.6 204.5h0M237.8 210.0h0M225.2 184.1h0M252.3 186.1h0M236.2 205.8h0M251.9 177.6h0M242.4 174.3h0M244.4 207.7h0M237.9 192.9h0M225.9 204.3h0M240.9 202.3h0M227.8 206.9h0M233.9 210.9h0M257.8 189.9h0M260.7 195.3h0M229.2 201.4h0M231.3 176.9h0M247.9 207.4h0M227.0 188.4h0M241.6 215.5h0" stroke="#1f3da0" stroke-width="1.75" stroke-linecap="round" fill="none"/>
<path d="M242.0 192.3h0M251.0 204.4h0" stroke="#52a9d6" stroke-width="1.75" stroke-linecap="round" fill="none"/>
<path d="M226.9 196.9h0M232.6 193.6h0M252.7 203.2h0M253.6 186.4h0M250.4 184.2h0M243.0 205.4h0M226.5 184.6h0M240.2 206.6h0M242.6 204.4h0M240.0 208.6h0M256.6 198.0h0M239.9 203.0h0M239.0 204.9h0M251.7 185.1h0M227.1 181.9h0M227.2 183.9h0M239.7 189.4h0M248.0 194.8h0M259.3 188.8h0M241.5 187.8h0" stroke="#87cc92" stroke-width="1.75" stroke-linecap="round" fill="none"/>
<path d="M239.5 206.6h0M238.5 197.9h0M261.8 195.0h0" stroke="#ee841f" stroke-width="1.75" stroke-linecap="round" fill="none"/>
<path d="M238.3 202.8h0M236.8 200.1h0M236.9 189.0h0M245.5 192.3h0M237.1 206.5h0M233.4 194.5h0M228.7 202.3h0M228.2 191.8h0M244.6 176.5h0M246.0 198.7h0M241.6 210.9h0M242.6 197.9h0M235.9 192.9h0M228.2 197.8h0M230.6 184.3h0M232.6 188.9h0M243.2 180.1h0M237.2 201.0h0M253.2 190.0h0M251.1 193.9h0M242.2 183.6h0M236.2 194.1h0M231.2 184.5h0M228.6 193.6h0M253.7 180.4h0M256.0 184.8h0M257.5 186.2h0M254.3 192.6h0M231.5 196.1h0M239.1 181.9h0M248.2 202.0h0M262.8 193.1h0" stroke="#f5cb28" stroke-width="1.75" stroke-linecap="round" fill="none"/>
<path d="M242.7 186.0h0M233.0 205.1h0M236.8 189.5h0M247.9 208.1h0M246.2 177.1h0M224.9 195.5h0M256.8 187.3h0M257.8 188.2h0M242.9 214.4h0M253.3 182.3h0M244.4 182.9h0M251.4 190.6h0M247.8 183.6h0M247.1 177.3h0M241.8 180.6h0M257.3 191.9h0M243.3 180.4h0M235.0 205.9h0M246.8 197.5h0M254.9 182.5h0M259.1 192.3h0M244.5 197.3h0M235.8 197.4h0M252.9 196.3h0M235.1 186.6h0M239.3 177.0h0M242.0 196.0h0M239.0 179.6h0M249.8 185.9h0M234.2 204.4h0M244.3 178.0h0M237.7 195.8h0M252.4 181.8h0M237.8 191.3h0M251.7 187.2h0M249.6 202.6h0M256.5 185.6h0M245.8 195.4h0M236.1 199.5h0M238.8 204.6h0M231.0 203.6h0M245.4 188.8h0M252.1 190.2h0M249.6 187.8h0M237.9 206.4h0M235.2 206.8h0M254.1 185.6h0M248.2 193.8h0M230.5 194.7h0M237.1 171.3h0" stroke="#ccdc40" stroke-width="1.75" stroke-linecap="round" fill="none"/>
<path d="M262.2 195.9h0" stroke="#9c1214" stroke-width="1.75" stroke-linecap="round" fill="none"/>
<path d="M241.7 200.1h0M249.1 179.9h0M241.7 192.5h0M230.8 198.2h0M232.8 210.0h0M251.5 192.0h0M255.4 181.9h0M238.0 203.7h0M244.7 206.7h0M250.4 187.7h0M261.6 196.2h0" stroke="#f6ae23" stroke-width="1.75" stroke-linecap="round" fill="none"/>
<path d="M226.1 202.8h0M228.2 179.2h0M225.1 199.1h0M232.6 185.2h0M226.8 204.6h0M260.7 197.0h0M235.0 212.6h0M240.4 209.9h0M245.5 202.5h0M251.5 181.0h0M239.5 177.1h0M238.2 177.4h0M258.1 196.3h0M228.0 205.7h0M257.4 191.4h0M252.0 181.4h0M226.9 196.7h0M253.5 179.3h0M230.1 202.4h0M248.1 182.3h0M237.5 178.4h0M257.8 184.2h0M260.8 190.3h0M260.8 190.6h0" stroke="#1c2a8c" stroke-width="1.75" stroke-linecap="round" fill="none"/>
<path d="M243.5 186.8h0M235.9 180.6h0M232.9 200.4h0M242.0 208.7h0M233.5 196.8h0M257.8 196.5h0M245.0 193.6h0M238.1 189.5h0M251.6 185.2h0M231.3 184.2h0M248.4 208.2h0M256.4 192.2h0M229.5 200.6h0M246.9 204.2h0M230.0 201.3h0M258.3 197.0h0M247.2 179.7h0M237.7 209.7h0M233.6 206.8h0M231.1 194.8h0M232.4 197.1h0M241.0 200.3h0M234.8 187.0h0M235.8 204.3h0M258.0 195.0h0M258.5 193.7h0M237.9 204.3h0M237.4 186.2h0M241.0 177.6h0M240.6 199.9h0M232.9 207.6h0M248.9 183.7h0M229.8 186.9h0M232.7 191.7h0M251.2 188.7h0M241.3 201.1h0M243.1 196.9h0M231.5 181.5h0M255.0 182.3h0M250.6 198.6h0M243.9 197.8h0M246.2 205.9h0M242.3 193.6h0M239.6 181.7h0" stroke="#abd65a" stroke-width="1.75" stroke-linecap="round" fill="none"/>
<path d="M253.9 204.3h0M245.8 178.6h0" stroke="#52a9d6" stroke-width="1.75" stroke-linecap="round" fill="none"/>
<path d="M246.7 189.7h0M244.5 197.5h0M249.8 184.1h0M245.7 181.9h0M227.3 202.6h0M235.4 202.9h0M250.5 204.2h0M230.5 199.6h0M229.9 200.1h0M257.5 193.8h0M231.4 201.1h0M253.6 185.5h0M232.7 198.8h0M249.8 195.0h0M238.3 197.0h0M239.3 204.4h0M240.8 211.7h0M244.8 198.0h0M229.4 183.3h0M241.5 176.8h0M238.0 187.8h0M246.7 198.1h0M245.4 196.9h0M240.9 206.7h0M253.4 194.3h0M235.3 193.0h0M238.0 199.5h0M241.4 189.9h0M244.6 194.5h0M256.3 188.4h0M258.6 200.7h0M241.1 201.0h0M248.5 196.7h0M226.9 201.5h0M246.4 186.6h0M236.3 189.9h0M239.7 193.6h0M235.2 180.6h0M238.9 190.8h0M225.6 198.1h0M241.5 184.4h0M231.7 190.2h0M244.6 187.5h0M244.6 203.0h0M231.8 197.1h0M246.6 189.6h0" stroke="#ece130" stroke-width="1.75" stroke-linecap="round" fill="none"/>
<path d="M233.7 207.8h0M260.4 198.1h0M230.6 196.8h0M239.2 210.7h0M233.6 208.3h0M256.4 202.9h0M224.1 197.7h0M234.6 206.5h0M246.1 200.2h0M240.4 196.8h0M237.9 176.9h0M245.8 175.2h0M260.3 192.2h0M243.7 193.2h0M226.4 194.2h0M252.0 181.6h0M239.7 205.4h0M255.4 189.8h0M259.2 185.2h0M237.4 208.2h0M228.2 205.4h0M226.0 201.9h0M225.3 194.8h0M229.9 179.2h0M228.3 184.9h0M254.8 190.4h0M259.3 195.8h0M234.4 209.3h0M250.5 207.1h0M242.7 203.1h0M259.7 190.2h0M237.1 199.5h0M252.5 205.1h0M252.9 181.9h0M239.2 175.6h0M226.8 200.2h0M234.2 190.4h0M244.3 211.9h0M254.8 181.9h0M225.9 195.5h0M250.2 201.5h0M233.2 206.0h0M240.6 208.4h0M247.1 207.7h0M243.0 213.5h0M258.2 201.1h0M254.6 203.4h0M238.3 176.1h0M254.9 183.6h0M257.7 191.0h0M230.0 208.0h0M240.9 213.9h0M240.9 217.5h0M232.1 212.8h0M258.8 200.1h0" stroke="#1f3da0" stroke-width="1.75" stroke-linecap="round" fill="none"/>
<path d="M235.0 199.9h0" stroke="#c33217" stroke-width="1.75" stroke-linecap="round" fill="none"/>
<path d="M239.7 209.3h0M258.5 200.4h0M259.9 186.5h0M228.8 188.6h0M224.3 198.1h0M239.3 209.6h0M229.8 193.9h0M227.9 186.1h0M244.2 210.0h0M232.8 179.6h0M228.1 201.3h0M245.2 177.8h0M253.8 203.9h0M254.7 202.4h0M242.0 204.6h0M237.5 212.8h0M251.1 174.0h0" stroke="#2150b3" stroke-width="1.75" stroke-linecap="round" fill="none"/>
<path d="M249.0 178.7h0M254.9 183.6h0M235.1 180.1h0" stroke="#67bfc1" stroke-width="1.75" stroke-linecap="round" fill="none"/>
<path d="M244.6 180.7h0M244.7 205.1h0M250.7 202.1h0M224.6 192.9h0M248.8 197.3h0M234.9 189.3h0M241.0 193.6h0M243.7 178.1h0M250.6 196.0h0M227.3 194.4h0M252.9 196.5h0M232.6 184.5h0M245.9 187.8h0M249.6 179.8h0M246.6 196.6h0M262.5 197.0h0" stroke="#f6ae23" stroke-width="1.75" stroke-linecap="round" fill="none"/>
<path d="M236.3 194.4h0M261.1 190.6h0M245.1 175.5h0M227.3 199.6h0M245.1 192.7h0M249.0 195.9h0M242.7 182.9h0M246.2 181.2h0M247.1 194.1h0M233.7 191.5h0M242.7 205.9h0M256.6 190.0h0M238.8 203.9h0M225.7 189.4h0M238.0 199.8h0M226.2 196.8h0M234.3 182.9h0M241.7 211.3h0M233.0 185.8h0M232.4 208.1h0M247.6 194.2h0M237.4 178.4h0M236.3 196.7h0M231.1 189.7h0M249.7 191.5h0M246.3 183.4h0M257.6 188.5h0M238.4 196.2h0M253.3 200.1h0M237.5 196.7h0M236.9 202.2h0M228.3 183.9h0M248.7 195.7h0M237.5 179.8h0M239.4 183.3h0M258.4 195.9h0M242.5 201.1h0M247.5 204.2h0M240.6 192.2h0M249.2 206.2h0M233.9 197.0h0M241.6 199.8h0M253.4 189.5h0M246.3 201.4h0M243.6 180.2h0M234.8 201.1h0M247.6 206.3h0M250.1 182.7h0M249.4 191.2h0M246.1 190.3h0M248.2 206.9h0M227.0 204.0h0M254.3 179.6h0M240.5 190.5h0" stroke="#ece130" stroke-width="1.75" stroke-linecap="round" fill="none"/>
<path d="M253.7 182.2h0M232.7 175.8h0M256.3 191.8h0M239.8 176.6h0M260.5 187.5h0M253.4 179.5h0M252.1 205.8h0M234.3 177.1h0M236.7 212.5h0M247.6 176.5h0M251.7 180.6h0M229.3 187.5h0M224.9 194.7h0M259.1 192.8h0M244.8 175.7h0M231.9 176.5h0M236.2 189.0h0M257.6 185.4h0M249.0 205.7h0M224.0 194.2h0M258.4 199.8h0M236.7 209.5h0M224.2 192.9h0M244.8 174.2h0M245.3 174.8h0M247.4 178.7h0M240.6 198.3h0M246.8 210.5h0" stroke="#1c2a8c" stroke-width="1.75" stroke-linecap="round" fill="none"/>
<path d="M233.6 207.3h0M263.0 195.9h0M262.8 196.4h0" stroke="#e3561b" stroke-width="1.75" stroke-linecap="round" fill="none"/>
<path d="M246.9 179.0h0" stroke="#2f6dc5" stroke-width="1.75" stroke-linecap="round" fill="none"/>
<path d="M238.7 177.3h0M229.5 177.7h0M251.1 205.2h0M233.0 176.4h0M230.0 206.0h0M233.9 206.9h0M237.3 212.6h0M226.9 190.9h0M233.3 210.6h0M258.8 194.6h0" stroke="#2150b3" stroke-width="1.75" stroke-linecap="round" fill="none"/>
<path d="M232.6 186.4h0" stroke="#67bfc1" stroke-width="1.75" stroke-linecap="round" fill="none"/>
<path d="M245.5 204.2h0M252.2 194.1h0M247.6 205.3h0M236.6 206.4h0M233.8 208.5h0M253.5 186.2h0M230.5 194.0h0M236.3 192.6h0M236.6 196.9h0M238.5 205.9h0M237.5 194.6h0M248.1 176.3h0M247.5 191.6h0M245.4 191.6h0M242.7 197.1h0M243.8 177.6h0M236.5 190.8h0M247.4 192.8h0M241.4 205.6h0M243.0 209.9h0M244.6 200.0h0M238.8 203.2h0M246.3 192.4h0M227.7 182.7h0M231.0 183.9h0M240.5 192.6h0M234.8 201.9h0M239.5 200.6h0M245.4 207.8h0M253.8 202.1h0M234.7 189.6h0M239.0 199.5h0M240.0 212.8h0M243.4 210.2h0M240.6 195.3h0M227.9 187.0h0M238.8 178.1h0M234.0 202.1h0M231.8 189.2h0M248.6 183.8h0M239.6 205.1h0M235.1 192.5h0M255.1 181.9h0M234.6 184.1h0M236.7 205.0h0M237.5 212.4h0M235.0 210.3h0M235.5 208.7h0M226.5 200.1h0M257.9 184.2h0" stroke="#ccdc40" stroke-width="1.75" stroke-linecap="round" fill="none"/>
<path d="M241.2 188.2h0M249.4 180.5h0M245.1 188.5h0M236.9 193.5h0M248.2 199.3h0M230.1 201.2h0M236.4 210.4h0M246.3 180.8h0M247.2 188.6h0M237.6 174.7h0M241.8 211.0h0M237.9 190.4h0M249.2 183.6h0M233.0 186.4h0M244.3 189.9h0M236.6 178.7h0M253.3 200.4h0M249.7 208.2h0M247.1 195.4h0M246.6 204.1h0M245.2 184.7h0M259.2 190.0h0M226.9 203.8h0M239.1 205.4h0M251.7 187.2h0M243.8 177.0h0M236.8 197.8h0M244.6 182.1h0M230.6 189.2h0M242.7 191.8h0M251.8 185.3h0M243.4 185.8h0M248.9 190.7h0" stroke="#abd65a" stroke-width="1.75" stroke-linecap="round" fill="none"/>
<path d="M261.9 199.4h0" stroke="#c33217" stroke-width="1.75" stroke-linecap="round" fill="none"/>
<path d="M251.3 188.1h0" stroke="#408ed7" stroke-width="1.75" stroke-linecap="round" fill="none"/>
<path d="M246.8 192.1h0M245.2 180.7h0M230.9 207.2h0M228.4 191.9h0M252.9 199.1h0M250.1 186.8h0M254.5 188.3h0M229.5 187.7h0M253.5 194.6h0M228.3 192.5h0M237.9 195.7h0M248.1 204.0h0M241.4 186.5h0M235.6 206.9h0M252.1 193.5h0M260.6 189.8h0M230.8 212.3h0" stroke="#87cc92" stroke-width="1.75" stroke-linecap="round" fill="none"/>
<path d="M230.2 178.2h0M238.4 175.0h0M225.0 192.3h0M241.6 178.9h0M242.4 213.2h0M249.1 200.3h0M249.5 185.5h0M245.1 212.1h0M226.9 180.3h0M246.8 205.2h0M243.8 176.2h0M235.2 211.3h0M227.7 205.8h0M224.9 186.2h0M234.3 175.4h0M225.4 195.8h0M246.6 174.6h0M241.1 208.5h0M259.1 187.6h0M259.2 190.2h0M259.5 199.1h0M259.2 198.0h0M225.0 194.7h0M228.0 201.8h0M226.2 201.2h0M259.3 188.5h0M260.0 187.5h0M236.6 177.7h0M243.0 208.6h0M226.2 192.0h0M258.5 196.4h0M241.8 213.5h0M239.2 175.6h0M240.6 207.7h0M238.7 175.8h0M260.9 195.2h0M256.9 183.2h0M224.4 198.1h0M226.9 197.4h0M242.7 183.0h0M249.0 215.4h0" stroke="#1f3da0" stroke-width="1.75" stroke-linecap="round" fill="none"/>
<path d="M253.8 195.9h0M228.2 191.3h0M227.8 182.2h0M242.7 195.5h0M258.2 185.1h0M252.2 205.8h0M237.3 195.3h0M254.2 195.4h0M231.9 180.8h0M238.6 199.8h0M251.8 205.1h0M249.5 205.1h0M237.3 185.8h0M249.2 190.3h0M238.6 203.8h0M256.3 193.1h0M228.1 182.6h0M237.7 201.6h0M254.5 193.6h0M252.4 188.5h0M240.8 200.4h0M237.4 199.9h0M248.8 203.1h0M246.0 206.2h0M241.4 203.2h0M228.4 196.9h0M246.7 183.4h0M242.8 202.3h0M236.4 209.8h0M229.0 182.4h0M227.2 181.9h0" stroke="#f5cb28" stroke-width="1.75" stroke-linecap="round" fill="none"/>
<path d="M239.8 200.3h0M236.7 211.8h0" stroke="#ee841f" stroke-width="1.75" stroke-linecap="round" fill="none"/>
<path d="M253.9 191.3h0M250.5 188.0h0M254.6 200.6h0M245.8 200.5h0M254.4 194.6h0M257.2 201.2h0M244.3 177.8h0M245.1 179.9h0M227.6 182.7h0M245.0 198.6h0M236.9 211.1h0M246.6 205.7h0M230.7 178.2h0M242.4 208.4h0M228.0 185.0h0M238.0 202.9h0M233.8 206.0h0M239.4 199.3h0M247.3 192.2h0M260.8 191.5h0M243.5 209.5h0M236.3 187.2h0M231.0 203.6h0M230.1 198.2h0M246.6 192.4h0M245.5 209.0h0M232.2 205.9h0M234.4 189.9h0M249.0 179.4h0M225.9 200.0h0M240.2 182.8h0M235.9 205.9h0M245.2 185.0h0M253.3 185.4h0M235.0 185.9h0M240.4 190.1h0M238.4 201.0h0M229.4 198.5h0M252.3 200.0h0M247.0 199.9h0M230.0 195.0h0M240.4 187.7h0M238.3 201.8h0M235.4 201.9h0M250.9 177.9h0M235.8 192.4h0" stroke="#ece130" stroke-width="1.75" stroke-linecap="round" fill="none"/>
<path d="M242.8 212.1h0M233.4 197.6h0M239.3 198.9h0M248.3 187.7h0M254.5 200.8h0M242.9 174.4h0M233.1 203.2h0M243.1 207.7h0M248.2 181.2h0M234.9 193.2h0M236.5 209.1h0M259.3 188.6h0M252.7 195.3h0M259.6 189.7h0M231.9 180.2h0M242.2 194.0h0M237.5 204.0h0M229.0 193.7h0M243.3 186.3h0M245.4 181.1h0M233.8 197.4h0M243.3 194.4h0M231.7 206.4h0M231.9 189.5h0M238.8 189.2h0M246.0 207.7h0M237.8 203.7h0M235.6 186.4h0M238.8 187.9h0M233.8 190.1h0M236.2 204.2h0M240.0 201.1h0M258.9 192.3h0M238.4 208.0h0M248.5 197.7h0M240.5 180.5h0M247.9 199.9h0M247.1 198.9h0M231.8 207.8h0M244.2 188.3h0M247.4 178.5h0M247.6 180.0h0M226.4 198.6h0" stroke="#abd65a" stroke-width="1.75" stroke-linecap="round" fill="none"/>
<path d="M236.4 205.2h0M240.8 177.2h0M242.2 195.9h0M244.4 202.5h0M254.4 186.0h0M229.5 187.2h0M247.7 194.7h0M241.0 212.0h0M252.0 186.1h0M234.6 193.2h0M246.5 200.7h0M237.5 187.0h0M247.8 198.1h0M254.5 192.6h0M250.0 207.4h0M228.9 191.0h0M240.1 182.6h0M254.5 191.4h0M226.6 185.5h0M254.2 185.1h0M227.9 179.7h0M256.4 184.9h0M253.3 188.5h0M237.6 196.5h0M248.5 192.9h0M237.4 188.3h0M230.1 206.4h0M229.7 190.8h0M228.4 195.7h0M232.3 182.2h0M235.8 212.1h0M246.7 194.2h0M247.6 192.8h0M258.3 194.9h0M245.2 199.7h0M231.4 207.4h0M227.5 187.1h0M247.7 199.8h0M225.5 203.3h0M249.1 184.1h0M260.3 190.7h0M234.3 209.2h0M246.4 191.1h0" stroke="#ccdc40" stroke-width="1.75" stroke-linecap="round" fill="none"/>
<path d="M238.0 175.0h0M245.1 174.2h0M231.8 207.6h0M249.3 181.3h0M225.4 202.1h0M251.9 177.8h0M253.4 181.1h0M254.4 184.6h0M229.7 177.3h0M242.5 180.9h0M256.4 193.8h0M256.7 202.2h0M225.6 186.7h0" stroke="#2150b3" stroke-width="1.75" stroke-linecap="round" fill="none"/>
<path d="M236.3 179.1h0M228.4 182.3h0M233.8 179.6h0M250.0 178.1h0M247.4 192.7h0M256.1 190.9h0M247.9 209.6h0M244.1 210.0h0M236.0 179.8h0M224.7 186.6h0M259.9 196.3h0M253.5 182.5h0M259.6 186.0h0M226.3 192.8h0M239.2 212.1h0M242.6 201.2h0M247.3 181.5h0M234.0 177.3h0M225.9 189.6h0M235.9 212.7h0M250.0 185.3h0M225.3 190.9h0M224.2 194.7h0M236.5 176.6h0M227.1 199.9h0M237.7 178.8h0M250.1 209.1h0M260.4 194.0h0M255.0 192.3h0M244.8 211.3h0M248.2 201.4h0M256.0 203.2h0M235.5 207.9h0M248.4 175.8h0M259.6 190.9h0M223.7 191.4h0M238.5 185.6h0M225.9 203.2h0M238.2 175.9h0M255.7 186.8h0M224.4 200.0h0M252.5 205.1h0M224.4 194.8h0M243.3 181.6h0M259.0 186.9h0M248.6 206.1h0M254.2 182.2h0M241.1 209.0h0M225.9 182.4h0M241.0 212.2h0M253.2 180.8h0M255.5 180.9h0M237.3 180.2h0M254.6 196.5h0M245.3 179.4h0M229.2 208.4h0" stroke="#1f3da0" stroke-width="1.75" stroke-linecap="round" fill="none"/>
<path d="M240.0 197.2h0M245.7 195.1h0M253.5 189.6h0M244.3 182.4h0M238.8 197.0h0M245.6 186.2h0M242.6 188.2h0M232.3 183.3h0M240.7 197.2h0M232.5 182.1h0M236.1 183.4h0M254.3 195.2h0M233.3 176.0h0M227.7 196.5h0M243.3 179.5h0M235.9 181.7h0M233.4 197.8h0M252.0 204.7h0M232.9 183.3h0M233.7 196.9h0M240.3 194.4h0M240.9 208.1h0M257.8 193.5h0M239.1 195.5h0M232.2 186.3h0M251.9 186.6h0" stroke="#f5cb28" stroke-width="1.75" stroke-linecap="round" fill="none"/>
<path d="M245.8 206.5h0M230.2 186.9h0" stroke="#e3561b" stroke-width="1.75" stroke-linecap="round" fill="none"/>
<path d="M235.9 184.9h0M238.3 195.6h0M235.1 180.8h0M247.4 201.8h0" stroke="#52a9d6" stroke-width="1.75" stroke-linecap="round" fill="none"/>
<path d="M239.3 209.2h0M249.7 179.3h0M253.8 195.2h0M237.8 183.6h0M243.5 192.7h0M257.7 192.8h0M235.7 186.3h0M245.9 187.4h0M239.5 182.6h0M241.4 209.2h0M254.9 192.0h0M244.9 186.2h0" stroke="#f6ae23" stroke-width="1.75" stroke-linecap="round" fill="none"/>
<path d="M232.2 179.4h0M234.0 200.3h0M244.9 200.4h0M258.1 187.6h0M236.3 210.4h0M235.4 205.8h0M227.8 184.7h0M253.7 199.4h0M244.3 200.6h0M229.3 181.9h0M245.8 179.1h0M247.7 184.8h0M230.6 206.7h0M250.7 194.0h0M250.4 189.8h0M243.2 210.8h0M231.0 178.6h0M232.3 205.4h0M242.8 188.2h0M242.4 183.6h0M231.5 204.1h0M240.1 187.5h0M231.9 184.9h0M238.0 191.5h0M227.6 189.1h0" stroke="#87cc92" stroke-width="1.75" stroke-linecap="round" fill="none"/>
<path d="M229.1 206.9h0" stroke="#ee841f" stroke-width="1.75" stroke-linecap="round" fill="none"/>
<path d="M249.4 201.8h0M256.3 196.0h0M247.6 176.2h0M238.2 202.9h0M226.2 203.0h0M241.7 190.4h0M235.5 197.9h0M230.2 204.0h0" stroke="#67bfc1" stroke-width="1.75" stroke-linecap="round" fill="none"/>
<path d="M236.7 212.7h0M232.1 176.8h0M237.2 174.7h0M233.8 175.8h0M249.6 206.5h0M246.4 176.5h0M249.6 206.0h0M247.5 176.0h0M231.8 204.0h0M256.4 198.3h0M236.0 211.9h0M226.8 181.0h0M227.6 189.8h0M244.5 175.1h0M230.5 209.3h0M254.3 202.6h0M254.5 191.4h0M254.1 198.1h0M232.9 179.4h0M258.7 200.2h0M258.7 200.3h0M234.5 178.0h0M235.6 182.2h0" stroke="#1c2a8c" stroke-width="1.75" stroke-linecap="round" fill="none"/>
<line x1="222.5" y1="171.5" x2="222.5" y2="217.2" stroke="#111" stroke-width="1"/>
<line x1="221.7" y1="216.5" x2="265.8" y2="216.5" stroke="#111" stroke-width="1"/>
<line x1="219.3" y1="179.5" x2="222.2" y2="179.5" stroke="#111" stroke-width="0.9"/>
<text transform="translate(215.9,179.8) rotate(0.1)" x="0" y="1.89" font-size="5.4" text-anchor="end" fill="#222" stroke="#222" stroke-width="0.05">20</text>
<line x1="219.3" y1="193.5" x2="222.2" y2="193.5" stroke="#111" stroke-width="0.9"/>
<text transform="translate(215.9,193.4) rotate(0.1)" x="0" y="1.89" font-size="5.4" text-anchor="end" fill="#222" stroke="#222" stroke-width="0.05">0</text>
<line x1="219.3" y1="206.5" x2="222.2" y2="206.5" stroke="#111" stroke-width="0.9"/>
<text transform="translate(215.9,207) rotate(0.1)" x="0" y="1.89" font-size="5.4" text-anchor="end" fill="#222" stroke="#222" stroke-width="0.05">-20</text>
<line x1="232.5" y1="216.7" x2="232.5" y2="219.5" stroke="#111" stroke-width="0.9"/>
<text transform="translate(232.63,226.3) rotate(0.1)" x="0" y="1.89" font-size="5.4" text-anchor="middle" fill="#222" stroke="#222" stroke-width="0.05">-20</text>
<line x1="243.5" y1="216.7" x2="243.5" y2="219.5" stroke="#111" stroke-width="0.9"/>
<text transform="translate(243.2,226.3) rotate(0.1)" x="0" y="1.89" font-size="5.4" text-anchor="middle" fill="#222" stroke="#222" stroke-width="0.05">0</text>
<line x1="253.5" y1="216.7" x2="253.5" y2="219.5" stroke="#111" stroke-width="0.9"/>
<text transform="translate(253.77,226.3) rotate(0.1)" x="0" y="1.89" font-size="5.4" text-anchor="middle" fill="#222" stroke="#222" stroke-width="0.05">20</text>
<line x1="264.5" y1="216.7" x2="264.5" y2="219.5" stroke="#111" stroke-width="0.9"/>
<text transform="translate(264.34,226.3) rotate(0.1)" x="0" y="1.89" font-size="5.4" text-anchor="middle" fill="#222" stroke="#222" stroke-width="0.05">40</text>
<text transform="translate(244,236.7) rotate(0.1) scale(0.72,1)" x="0" y="2.97" font-size="8.5" text-anchor="middle" fill="#222" stroke="#222" stroke-width="0.12">tSNE_1</text>
<text transform="translate(199.8,194.1) rotate(-90) scale(0.72,1)" x="0" y="2.97" font-size="8.5" text-anchor="middle" fill="#222" stroke="#222" stroke-width="0.12">tSNE_2</text>
<text transform="translate(244.2,163.3) rotate(0.1)" x="0" y="3.04" font-size="8.7" text-anchor="middle" fill="#222" stroke="#222" stroke-width="0.12" font-style="italic">RB1CC1</text>
<text transform="translate(272.7,176.3) rotate(0.1) scale(0.93,1)" x="0" y="1.89" font-size="5.4" text-anchor="middle" fill="#333" stroke="#333" stroke-width="0.05">Expression</text>
<text transform="translate(272.7,181.6) rotate(0.1) scale(0.93,1)" x="0" y="1.89" font-size="5.4" text-anchor="middle" fill="#333" stroke="#333" stroke-width="0.05">(log)</text>
<rect x="266.4" y="189.8" width="4.5" height="21.9" fill="url(#gD)" stroke="none" stroke-width="1"/>
<text transform="translate(273.8,192.8) rotate(0.1)" x="0" y="1.92" font-size="5.5" text-anchor="start" fill="#222" stroke="#222" stroke-width="0.05">3</text>
<text transform="translate(273.8,199) rotate(0.1)" x="0" y="1.92" font-size="5.5" text-anchor="start" fill="#222" stroke="#222" stroke-width="0.05">2</text>
<text transform="translate(273.8,205.2) rotate(0.1)" x="0" y="1.92" font-size="5.5" text-anchor="start" fill="#222" stroke="#222" stroke-width="0.05">1</text>
<text transform="translate(273.8,211) rotate(0.1)" x="0" y="1.92" font-size="5.5" text-anchor="start" fill="#222" stroke="#222" stroke-width="0.05">0</text>
<path d="M342.4 186.8h0M352.6 177.5h0M347.5 195.4h0M339.9 194.4h0M334.0 203.2h0M344.0 207.7h0M340.9 208.6h0M338.6 184.8h0M340.7 200.3h0M337.9 196.3h0M358.9 185.6h0M337.0 183.4h0M355.1 195.4h0M354.2 200.1h0M350.4 205.1h0M335.8 187.3h0M345.1 210.0h0M344.9 204.8h0M352.6 187.2h0M332.8 189.5h0M350.2 196.3h0M328.6 196.2h0M337.0 201.9h0M354.1 190.0h0M349.9 187.9h0M346.8 187.4h0M352.0 193.9h0M324.6 191.4h0M345.2 211.9h0M339.0 177.0h0M352.6 187.2h0M336.1 180.0h0M332.8 177.3h0M342.4 184.4h0M344.0 198.5h0M335.9 210.3h0M345.1 188.3h0M355.5 196.5h0M340.8 203.7h0M351.6 196.0h0M328.5 189.1h0" stroke="#f5cb28" stroke-width="1.75" stroke-linecap="round" fill="none"/>
<path d="M356.3 181.9h0M341.2 194.4h0M326.8 182.4h0M334.1 198.0h0M358.7 189.9h0" stroke="#67bfc1" stroke-width="1.75" stroke-linecap="round" fill="none"/>
<path d="M335.9 199.9h0M347.4 200.7h0M340.6 209.3h0M347.0 200.2h0M327.3 194.9h0M348.7 183.6h0M340.2 204.4h0M333.2 183.3h0M339.3 196.2h0M342.4 176.8h0M336.2 193.0h0M351.3 189.8h0M339.2 204.6h0M330.3 198.5h0M341.2 180.2h0M336.1 206.8h0M353.6 186.7h0M363.5 196.5h0" stroke="#e3561b" stroke-width="1.75" stroke-linecap="round" fill="none"/>
<path d="M347.9 193.7h0M344.2 204.3h0M337.5 206.4h0M331.6 181.9h0M347.0 204.4h0M343.3 213.2h0M350.2 202.2h0M342.6 192.5h0M328.4 205.0h0M338.8 190.4h0M344.0 197.9h0M339.4 186.9h0M353.5 205.3h0M345.5 200.0h0M357.3 193.8h0M353.6 195.3h0M333.2 182.2h0M344.2 179.5h0M338.5 191.6h0M337.1 204.2h0M342.3 186.5h0M351.3 196.5h0M355.8 192.0h0M333.9 203.1h0M336.3 189.5h0M349.0 182.3h0M344.3 185.8h0" stroke="#ccdc40" stroke-width="1.75" stroke-linecap="round" fill="none"/>
<path d="M347.8 179.0h0M362.0 190.6h0M343.7 212.1h0M340.4 206.6h0M326.1 187.2h0M326.6 189.4h0M342.6 211.3h0M344.7 176.2h0M333.1 194.5h0M328.9 205.7h0M329.2 183.9h0M327.8 194.1h0M325.9 194.7h0M335.3 209.3h0M330.0 206.9h0M349.9 179.4h0M326.8 203.2h0M328.9 184.1h0M333.6 179.6h0M330.5 195.4h0M355.2 179.6h0" stroke="#1c2a8c" stroke-width="1.75" stroke-linecap="round" fill="none"/>
<path d="M343.6 186.0h0M334.7 208.5h0M338.1 174.7h0M347.1 177.1h0M349.3 208.2h0M328.7 184.7h0M327.4 184.6h0M327.3 187.8h0M360.2 187.0h0M333.4 175.8h0M355.8 182.5h0M353.1 205.8h0M327.1 203.0h0M359.0 196.3h0M329.9 193.7h0M346.3 207.8h0M330.8 179.2h0M344.6 178.1h0M326.1 194.0h0M330.6 177.3h0M324.9 194.2h0M345.7 211.3h0M327.8 190.9h0M326.8 200.0h0M360.2 188.8h0M346.9 207.7h0M333.6 191.7h0M334.9 202.1h0M347.5 211.6h0M331.4 209.3h0M355.9 182.3h0M326.4 203.3h0M333.4 178.2h0M338.8 206.4h0M359.6 200.3h0M358.4 186.4h0M346.2 179.4h0M327.3 198.6h0M328.2 201.7h0M333.1 208.9h0M327.0 203.8h0M357.6 207.4h0M325.0 190.4h0" stroke="#1f3da0" stroke-width="1.75" stroke-linecap="round" fill="none"/>
<path d="M347.2 180.8h0M355.4 191.4h0M338.2 182.0h0M344.2 186.3h0M358.9 200.3h0M355.7 190.4h0M345.4 175.1h0M336.5 206.9h0M355.1 182.2h0" stroke="#c33217" stroke-width="1.75" stroke-linecap="round" fill="none"/>
<path d="M347.6 189.7h0M334.1 204.8h0M354.1 200.2h0M328.2 202.6h0M346.0 188.5h0M346.6 202.2h0M337.8 193.5h0M337.4 186.3h0M350.9 207.4h0M348.2 178.3h0M346.5 187.9h0M330.8 203.7h0M342.9 191.8h0M342.1 182.7h0M350.7 192.5h0M348.5 194.2h0M361.4 187.5h0M354.2 200.4h0M339.0 212.9h0M343.5 197.9h0M329.1 205.4h0M350.7 185.9h0M342.1 187.6h0M352.7 205.1h0M336.0 180.1h0M339.6 207.7h0M352.5 198.7h0M346.4 209.0h0M336.2 187.9h0M334.2 176.0h0M331.7 186.4h0M328.6 196.5h0M355.9 192.3h0M327.7 200.2h0M340.6 193.6h0M336.8 181.7h0M339.4 185.6h0M340.4 182.6h0M332.0 192.7h0M341.3 190.1h0M337.4 186.9h0M351.1 201.5h0M345.8 186.2h0M325.8 193.5h0M334.2 187.8h0M325.3 198.1h0M349.8 190.7h0M341.5 196.5h0M343.6 183.0h0" stroke="#ece130" stroke-width="1.75" stroke-linecap="round" fill="none"/>
<path d="M347.7 192.1h0M355.8 195.8h0M328.7 182.2h0M341.6 214.6h0M337.4 192.5h0M348.8 209.6h0M329.7 188.6h0M341.1 207.6h0M328.4 191.8h0M333.5 183.0h0M330.2 187.5h0M340.2 177.0h0M350.2 181.3h0M342.0 208.5h0M329.1 197.8h0M328.1 183.9h0M355.3 184.6h0M332.9 204.8h0M339.7 204.6h0M346.0 201.2h0M360.2 188.5h0M353.8 196.5h0M331.9 203.6h0M355.4 191.4h0M339.9 181.0h0M352.2 188.1h0M338.2 180.2h0M362.5 191.1h0" stroke="#ee841f" stroke-width="1.75" stroke-linecap="round" fill="none"/>
<path d="M360.1 190.0h0M346.2 179.6h0" stroke="#9c1214" stroke-width="1.75" stroke-linecap="round" fill="none"/>
<path d="M354.7 195.2h0M340.4 198.4h0M342.3 197.7h0M337.8 211.1h0M342.1 193.0h0M348.4 191.6h0M327.1 196.8h0M339.2 197.0h0M360.8 196.3h0M333.3 197.1h0M345.2 200.6h0M350.5 206.0h0M341.9 200.3h0M341.4 192.6h0M335.0 185.5h0M347.5 205.5h0M351.1 195.7h0M337.1 205.3h0M337.2 189.9h0M345.7 174.2h0M353.4 205.1h0M339.3 208.0h0M355.0 198.1h0M350.5 179.8h0M330.1 201.4h0M347.7 189.7h0M340.0 181.9h0M358.6 191.0h0M363.3 198.0h0" stroke="#f6ae23" stroke-width="1.75" stroke-linecap="round" fill="none"/>
<path d="M346.4 204.2h0M334.9 200.3h0M327.8 181.5h0M352.6 178.0h0M358.4 193.8h0M343.1 186.1h0M336.1 180.6h0M343.4 192.5h0M359.4 196.4h0M335.4 178.0h0M335.3 184.6h0M354.7 188.5h0M335.2 209.2h0M333.2 207.5h0" stroke="#abd65a" stroke-width="1.75" stroke-linecap="round" fill="none"/>
<path d="M339.4 175.0h0M335.5 206.5h0M350.9 192.4h0M337.5 199.7h0M354.7 202.1h0M339.7 206.5h0M331.0 202.4h0M345.5 187.5h0M348.4 170.0h0" stroke="#87cc92" stroke-width="1.75" stroke-linecap="round" fill="none"/>
<path d="M359.0 187.6h0M333.6 175.8h0M351.1 186.8h0M332.8 180.8h0M347.6 198.1h0M328.5 189.8h0M343.9 177.6h0M351.6 186.7h0" stroke="#2150b3" stroke-width="1.75" stroke-linecap="round" fill="none"/>
<path d="M337.3 205.2h0M332.3 206.3h0M337.5 175.5h0M327.8 196.9h0M329.1 191.3h0M358.1 201.2h0M346.0 179.6h0M345.0 210.0h0M349.0 176.3h0M359.2 197.0h0M333.1 181.2h0M355.8 203.1h0M332.7 207.6h0M355.3 199.0h0M358.5 188.5h0M345.7 175.7h0M359.8 192.3h0M332.8 176.5h0M333.9 176.4h0M332.8 180.2h0M327.4 181.9h0M360.0 187.6h0M336.9 211.9h0M327.1 201.2h0M334.2 210.6h0M346.1 177.8h0M360.5 190.9h0M339.1 175.9h0M341.4 180.5h0M341.5 208.4h0M339.6 175.8h0M354.1 180.8h0M330.1 208.4h0M356.2 179.3h0" stroke="#1f3da0" stroke-width="1.75" stroke-linecap="round" fill="none"/>
<path d="M329.6 207.5h0M346.1 180.7h0M330.8 200.1h0M339.5 208.4h0M341.5 187.8h0M337.6 192.2h0M345.5 176.5h0M339.7 203.2h0M353.4 192.1h0M341.6 202.3h0M351.5 176.3h0M360.1 194.9h0M346.4 201.2h0M345.3 204.2h0M340.5 180.6h0M347.5 204.1h0M358.6 192.8h0M328.0 199.9h0M343.4 201.1h0M348.4 204.2h0M344.0 198.1h0M357.2 193.1h0M334.8 197.0h0M353.0 191.2h0M351.3 187.7h0M340.5 205.1h0M339.3 201.0h0M357.6 202.2h0M345.5 182.1h0M350.3 191.2h0" stroke="#ece130" stroke-width="1.75" stroke-linecap="round" fill="none"/>
<path d="M352.9 192.5h0M349.5 188.7h0M346.0 175.5h0M336.1 185.1h0M333.6 191.4h0M345.5 194.5h0M344.6 182.9h0M336.3 201.9h0M347.7 199.2h0M363.6 194.7h0" stroke="#c33217" stroke-width="1.75" stroke-linecap="round" fill="none"/>
<path d="M327.0 202.8h0M351.4 204.2h0M335.7 193.0h0M346.6 195.1h0M350.2 198.7h0M345.9 178.0h0M352.2 198.2h0M325.6 187.4h0M347.5 205.7h0M348.0 177.3h0M325.2 198.1h0M335.2 182.9h0M329.6 202.3h0M338.3 178.4h0M347.9 183.2h0M329.0 193.5h0M360.9 187.5h0M337.1 189.0h0M341.0 183.1h0M337.2 194.7h0M357.2 188.4h0M346.6 186.7h0M343.3 183.6h0M347.3 186.6h0M355.6 202.4h0M355.9 198.5h0M336.0 192.5h0M349.6 188.0h0M339.8 190.8h0M334.2 185.0h0M348.0 199.3h0M335.6 184.6h0M328.1 181.9h0M335.6 207.4h0" stroke="#f5cb28" stroke-width="1.75" stroke-linecap="round" fill="none"/>
<path d="M338.6 209.7h0M346.5 186.2h0M326.9 201.9h0M360.1 198.0h0M339.7 178.1h0M325.3 194.8h0" stroke="#9c1214" stroke-width="1.75" stroke-linecap="round" fill="none"/>
<path d="M343.1 195.9h0M334.6 191.5h0M333.5 193.6h0M339.0 191.8h0M339.4 205.9h0M342.7 211.0h0M343.5 204.4h0M349.1 181.2h0M341.3 209.9h0M347.7 205.2h0M327.2 192.8h0M353.1 203.8h0M331.9 203.9h0M335.8 186.0h0M343.5 188.2h0M352.7 185.2h0M360.0 192.8h0M336.1 211.3h0M353.8 196.3h0M336.0 186.6h0M349.4 180.2h0M333.7 210.0h0M338.3 208.2h0M339.5 212.3h0M324.6 194.2h0M329.0 187.3h0M349.7 197.3h0M339.4 181.3h0M353.1 197.1h0M332.5 208.7h0M331.5 184.3h0M345.6 192.1h0M327.1 192.0h0M349.5 183.8h0M343.5 189.4h0M340.9 201.1h0M344.5 180.2h0M354.5 187.4h0M347.9 199.9h0M341.8 208.1h0M341.0 195.9h0M337.8 199.6h0M341.8 202.3h0M358.7 194.1h0M344.0 181.4h0M327.9 204.0h0M342.3 182.9h0" stroke="#f6ae23" stroke-width="1.75" stroke-linecap="round" fill="none"/>
<path d="M347.9 202.3h0M325.1 194.7h0M332.1 199.0h0M355.4 193.6h0M334.6 196.9h0M349.5 206.1h0M336.7 192.4h0" stroke="#87cc92" stroke-width="1.75" stroke-linecap="round" fill="none"/>
<path d="M337.2 175.3h0M343.2 180.0h0M356.6 186.8h0M359.3 181.6h0M359.5 183.2h0M336.5 173.8h0M337.6 212.3h0" stroke="#2150b3" stroke-width="1.75" stroke-linecap="round" fill="none"/>
<path d="M332.6 206.4h0" stroke="#52a9d6" stroke-width="1.75" stroke-linecap="round" fill="none"/>
<path d="M333.8 185.3h0M352.0 192.6h0M327.7 204.6h0M350.0 179.9h0M330.9 201.3h0M342.3 205.6h0M338.5 191.2h0M355.2 201.0h0M350.9 185.3h0M357.3 194.6h0M348.0 195.4h0M335.9 179.9h0M335.9 185.9h0M342.2 201.1h0" stroke="#e3561b" stroke-width="1.75" stroke-linecap="round" fill="none"/>
<path d="M326.9 198.8h0M329.4 189.8h0M353.8 182.3h0M336.8 184.9h0M341.3 196.8h0M340.2 198.9h0M348.3 192.7h0M360.2 188.6h0M357.2 196.0h0M337.5 178.7h0M338.3 209.6h0M335.2 175.4h0M340.2 201.0h0M336.4 197.9h0M333.5 188.9h0M343.3 211.1h0M350.6 208.3h0M332.1 184.5h0M332.9 197.6h0M336.8 180.7h0M336.6 183.4h0M346.2 174.8h0M356.0 181.9h0M346.0 179.6h0M340.1 175.6h0M333.8 179.4h0M358.7 193.5h0M340.7 200.3h0M349.2 185.4h0M343.2 193.6h0" stroke="#ee841f" stroke-width="1.75" stroke-linecap="round" fill="none"/>
<path d="M342.1 188.2h0M338.9 175.0h0M352.9 186.1h0M334.5 181.2h0M348.1 188.6h0M325.9 192.3h0M334.3 194.5h0M340.5 184.5h0M333.9 186.4h0M324.7 192.2h0M345.2 178.0h0M359.4 193.7h0M344.3 210.2h0M333.0 208.0h0M340.1 175.6h0M338.3 197.9h0M334.7 190.1h0M347.2 201.4h0M351.0 191.5h0M348.3 178.7h0M343.6 191.8h0M327.8 197.4h0" stroke="#abd65a" stroke-width="1.75" stroke-linecap="round" fill="none"/>
<path d="M333.5 185.2h0M337.5 196.9h0M348.5 176.5h0M343.5 201.2h0M360.0 192.3h0M345.3 179.0h0M341.3 212.2h0M350.5 202.6h0M351.6 194.0h0M335.9 207.1h0M337.0 196.4h0M345.2 201.5h0M341.5 201.4h0M344.0 196.9h0M348.6 199.8h0M337.6 211.8h0M348.8 199.9h0M340.4 206.2h0M344.7 203.2h0M348.8 207.4h0" stroke="#ccdc40" stroke-width="1.75" stroke-linecap="round" fill="none"/>
<path d="M344.7 177.6h0M344.4 192.7h0M341.0 187.5h0" stroke="#67bfc1" stroke-width="1.75" stroke-linecap="round" fill="none"/>
<path d="M333.1 179.4h0M350.7 184.1h0M326.2 196.3h0M361.1 198.6h0M335.5 193.2h0M341.5 174.0h0M341.1 206.6h0M348.1 179.7h0M330.2 181.9h0M348.4 176.0h0M351.2 208.7h0M354.4 204.2h0M327.8 201.5h0M337.5 177.7h0M345.5 197.1h0M334.8 210.9h0M351.0 206.8h0M355.8 183.6h0M327.0 188.4h0" stroke="#1c2a8c" stroke-width="1.75" stroke-linecap="round" fill="none"/>
<path d="M332.5 187.0h0M348.2 192.2h0M339.5 199.8h0M341.5 199.9h0M336.6 186.3h0M346.2 204.8h0M354.4 179.3h0M346.9 187.5h0M363.9 197.3h0M361.2 188.9h0" stroke="#9c1214" stroke-width="1.75" stroke-linecap="round" fill="none"/>
<path d="M330.4 177.7h0M345.5 180.7h0M343.8 214.4h0M335.6 211.4h0M357.3 184.9h0M346.9 177.8h0M325.8 194.7h0M336.8 212.7h0M356.0 200.1h0M327.1 185.2h0M326.2 194.8h0M338.7 191.3h0M341.9 177.6h0M331.4 199.0h0M328.8 187.0h0M356.9 181.2h0M350.7 185.3h0M349.7 203.1h0M346.9 206.2h0M358.4 186.2h0M326.8 183.5h0M326.3 194.3h0" stroke="#1c2a8c" stroke-width="1.75" stroke-linecap="round" fill="none"/>
<path d="M360.7 187.3h0M351.4 188.0h0M349.1 199.3h0M344.9 179.2h0M355.3 194.6h0M333.6 198.8h0M357.3 192.2h0M338.4 194.6h0M351.0 186.8h0M350.5 201.3h0M346.7 206.5h0M346.9 182.6h0M335.2 177.1h0M355.4 192.4h0M335.7 187.0h0M340.4 200.6h0M326.3 195.8h0M332.7 204.0h0M334.7 197.4h0M355.8 187.9h0M358.8 197.7h0M343.4 180.9h0M349.1 201.4h0M354.3 189.5h0M345.6 206.7h0M358.4 187.4h0M330.1 185.2h0M351.2 197.3h0M326.5 198.1h0M342.0 209.0h0M347.1 205.9h0M363.5 195.2h0M361.1 201.3h0" stroke="#f5cb28" stroke-width="1.75" stroke-linecap="round" fill="none"/>
<path d="M349.9 195.9h0M339.9 199.5h0M344.1 180.1h0M334.7 191.5h0M332.8 184.9h0M346.7 199.3h0M342.4 187.8h0M331.4 194.7h0M363.1 195.6h0" stroke="#c33217" stroke-width="1.75" stroke-linecap="round" fill="none"/>
<path d="M345.4 197.5h0M342.4 206.8h0M331.5 196.8h0M336.2 182.2h0M353.6 203.2h0M361.2 192.2h0M347.8 204.2h0M337.4 209.1h0M337.5 184.2h0M340.1 188.5h0M355.1 189.8h0M341.6 182.9h0M330.6 190.8h0M342.5 210.9h0M344.4 209.5h0M352.4 192.0h0M338.9 203.7h0M352.8 177.6h0M332.6 183.0h0M325.0 189.3h0M341.7 200.4h0M342.3 209.2h0M344.5 183.7h0M343.6 198.0h0M326.8 195.5h0M344.5 189.3h0M328.7 206.9h0M341.4 190.5h0M355.5 203.4h0M360.1 199.2h0" stroke="#ccdc40" stroke-width="1.75" stroke-linecap="round" fill="none"/>
<path d="M334.6 207.8h0M327.5 185.5h0M340.6 205.4h0M358.2 191.9h0M338.9 202.9h0M360.5 189.7h0M328.8 186.1h0M329.2 184.9h0M329.5 193.6h0M338.8 198.6h0M334.1 206.0h0M341.7 207.7h0M359.7 201.4h0" stroke="#87cc92" stroke-width="1.75" stroke-linecap="round" fill="none"/>
<path d="M354.8 179.1h0M355.3 186.0h0M329.3 182.3h0M341.3 203.3h0M353.7 183.2h0M331.8 207.2h0M339.6 177.3h0M348.7 198.1h0M355.4 192.6h0M336.5 187.7h0M343.5 201.6h0M329.8 202.2h0M329.7 198.6h0M355.1 185.1h0M344.1 211.9h0M352.3 190.6h0M340.3 176.9h0M338.0 206.5h0M358.5 198.9h0M340.7 176.6h0M346.4 202.5h0M334.3 201.8h0M335.9 205.9h0M347.7 197.5h0M352.6 180.6h0M348.6 184.8h0M359.3 195.9h0M339.6 206.3h0M354.6 180.4h0M352.9 204.7h0M346.1 196.7h0M333.5 186.4h0M349.4 197.7h0M338.4 212.4h0M341.5 198.3h0M346.5 191.3h0M344.4 196.4h0M363.7 197.7h0M362.4 193.6h0" stroke="#f6ae23" stroke-width="1.75" stroke-linecap="round" fill="none"/>
<path d="M353.1 194.1h0M325.3 195.7h0M328.3 201.8h0M342.6 200.1h0M344.7 182.4h0M337.2 196.7h0M338.6 180.4h0M339.1 202.9h0M336.7 197.4h0M339.9 179.6h0M349.1 200.4h0M337.8 202.2h0M347.6 194.2h0M350.6 185.6h0M338.2 212.6h0M359.5 200.7h0M344.1 210.8h0M330.7 186.9h0M352.1 188.7h0M353.8 191.3h0M347.7 210.5h0M355.0 192.2h0M361.6 195.3h0" stroke="#abd65a" stroke-width="1.75" stroke-linecap="round" fill="none"/>
<path d="M361.3 198.1h0M344.3 179.7h0M347.4 209.1h0M340.1 210.7h0M326.0 199.1h0M353.3 183.5h0M344.4 214.0h0M359.4 200.4h0M338.5 174.7h0M352.9 181.6h0M335.9 212.6h0M342.7 180.6h0M334.0 181.9h0M334.8 200.4h0M360.1 185.2h0M354.4 194.6h0M328.0 181.9h0M350.6 208.2h0M333.1 180.7h0M345.7 206.1h0M358.5 185.4h0M355.7 180.3h0M332.3 207.4h0M356.9 203.2h0M343.1 183.6h0M355.2 202.6h0M340.4 209.9h0M347.1 175.3h0M326.8 204.3h0M353.0 190.2h0M359.9 186.9h0M356.9 184.8h0M361.2 190.7h0M361.5 189.8h0M339.2 176.1h0M331.2 208.2h0" stroke="#1f3da0" stroke-width="1.75" stroke-linecap="round" fill="none"/>
<path d="M345.2 211.2h0M342.6 190.4h0M348.8 188.1h0M340.6 189.4h0M341.3 187.7h0" stroke="#67bfc1" stroke-width="1.75" stroke-linecap="round" fill="none"/>
<path d="M346.0 174.2h0M341.0 182.6h0M341.7 212.9h0M345.7 198.0h0M361.7 191.5h0M353.4 205.1h0M325.4 189.1h0M349.1 202.0h0" stroke="#2150b3" stroke-width="1.75" stroke-linecap="round" fill="none"/>
<path d="M354.8 191.3h0M354.9 190.3h0M334.7 179.6h0M333.0 176.8h0M331.7 182.0h0M351.0 190.2h0M358.3 188.1h0M332.3 201.1h0M353.8 199.1h0M350.4 185.5h0M347.3 176.5h0M345.6 178.4h0M334.5 206.8h0M339.7 197.0h0M359.1 185.1h0M351.3 200.2h0M340.2 209.6h0M331.9 183.9h0M347.5 174.6h0M327.7 188.2h0M329.0 190.3h0M351.5 196.0h0M329.2 192.5h0M346.9 182.1h0M335.3 189.9h0M357.4 185.6h0M338.6 201.6h0M353.8 181.9h0M336.4 207.9h0M341.0 185.8h0M354.2 185.4h0M335.1 190.4h0M359.8 192.3h0M335.7 201.1h0M346.4 200.2h0M337.7 199.7h0M348.5 206.3h0M359.1 187.0h0M351.0 182.7h0M347.0 190.3h0M344.6 188.5h0M338.4 212.8h0M347.3 191.1h0" stroke="#ece130" stroke-width="1.75" stroke-linecap="round" fill="none"/>
<path d="M341.3 213.7h0M353.1 180.5h0M334.7 186.3h0M343.9 205.4h0M352.6 185.1h0M344.2 194.4h0M346.4 181.0h0M329.0 201.3h0M338.1 201.0h0M333.2 205.4h0M327.8 203.8h0M343.2 188.6h0M336.5 186.4h0M328.2 194.4h0M339.7 187.9h0M329.9 182.4h0M339.6 198.8h0M362.3 198.8h0M361.9 198.1h0" stroke="#e3561b" stroke-width="1.75" stroke-linecap="round" fill="none"/>
<path d="M345.8 200.4h0M343.6 182.9h0M344.7 179.6h0M345.2 189.9h0M328.6 179.4h0M326.8 189.6h0M340.9 212.4h0M343.7 188.2h0M332.7 189.2h0M340.6 179.7h0M351.9 204.4h0M338.1 194.0h0M344.8 197.8h0M346.8 187.8h0M356.4 184.2h0M332.6 190.2h0M348.0 198.9h0M338.8 193.7h0M334.5 207.3h0M363.9 196.8h0" stroke="#ee841f" stroke-width="1.75" stroke-linecap="round" fill="none"/>
<path d="M356.0 200.5h0M328.5 182.7h0M350.5 191.1h0M348.0 208.4h0M344.2 213.7h0M344.3 201.7h0" stroke="#67bfc1" stroke-width="1.75" stroke-linecap="round" fill="none"/>
<path d="M336.6 186.4h0M327.4 200.1h0" stroke="#52a9d6" stroke-width="1.75" stroke-linecap="round" fill="none"/>
<path d="M354.8 204.3h0M345.7 194.7h0M341.9 212.0h0M343.3 195.8h0M326.5 200.0h0M334.3 197.6h0M354.5 185.5h0M343.6 205.9h0M342.5 178.9h0M357.6 193.4h0M337.4 190.8h0M354.2 188.5h0M329.1 191.8h0M346.9 196.1h0M357.5 198.0h0M340.3 199.3h0M328.2 204.3h0M330.4 187.7h0M351.3 197.6h0M338.9 187.8h0M331.2 188.9h0M352.8 177.8h0M358.9 195.0h0M331.0 198.2h0M350.1 208.3h0M348.9 194.8h0M349.0 204.0h0M337.0 199.5h0M338.7 184.0h0M349.4 196.7h0M338.7 203.7h0M334.3 197.8h0M345.4 207.0h0M330.9 195.0h0M351.9 190.3h0M331.5 189.2h0M345.5 203.0h0M344.0 188.7h0" stroke="#f5cb28" stroke-width="1.75" stroke-linecap="round" fill="none"/>
<path d="M346.7 175.2h0M346.0 212.1h0M328.6 182.7h0M333.4 182.1h0M328.9 184.6h0M358.8 194.8h0M349.1 206.9h0M351.8 177.9h0" stroke="#2150b3" stroke-width="1.75" stroke-linecap="round" fill="none"/>
<path d="M333.8 200.4h0M325.7 192.2h0M357.8 196.1h0M349.9 178.7h0M360.8 186.5h0M352.0 193.7h0M349.4 192.9h0M340.4 177.1h0M330.7 193.9h0M335.7 189.7h0M341.5 192.2h0M329.8 195.0h0M346.3 188.8h0M353.2 200.0h0M354.2 189.0h0M325.2 188.7h0M350.0 184.1h0M347.5 197.1h0M332.7 183.7h0" stroke="#ccdc40" stroke-width="1.75" stroke-linecap="round" fill="none"/>
<path d="M337.2 179.1h0M346.6 181.9h0M337.7 200.1h0M346.7 200.5h0M345.9 193.6h0M352.5 185.2h0M331.1 178.2h0M332.5 196.3h0M347.8 184.6h0M345.9 198.6h0M338.0 193.5h0M331.6 178.2h0M342.9 192.3h0M333.9 185.8h0M341.7 211.7h0M343.6 195.5h0M345.5 178.1h0M347.2 192.4h0M347.1 187.1h0M359.5 187.7h0M343.6 192.3h0M338.8 204.3h0M341.9 193.6h0M355.2 195.2h0M346.1 184.7h0M333.9 193.4h0M351.7 206.7h0M331.9 178.6h0M335.1 181.0h0M352.7 194.1h0M340.5 195.9h0M349.1 199.1h0M342.9 204.6h0M329.2 182.8h0M348.3 178.5h0M331.5 211.6h0" stroke="#f6ae23" stroke-width="1.75" stroke-linecap="round" fill="none"/>
<path d="M340.1 209.9h0M345.4 197.3h0M342.5 199.8h0M338.0 182.6h0" stroke="#87cc92" stroke-width="1.75" stroke-linecap="round" fill="none"/>
<path d="M337.2 192.6h0M359.1 187.7h0M335.1 204.4h0M330.7 198.7h0M351.8 196.7h0M353.2 186.1h0M340.0 205.4h0M353.0 193.5h0M350.0 177.2h0M347.5 189.6h0" stroke="#9c1214" stroke-width="1.75" stroke-linecap="round" fill="none"/>
<path d="M345.8 180.9h0M348.6 194.7h0M354.4 186.2h0M342.6 185.4h0M343.0 187.6h0M339.6 212.7h0M349.2 187.7h0M335.9 182.7h0M350.5 206.5h0M339.7 203.9h0M338.9 199.8h0M327.8 180.3h0M355.4 188.3h0M337.5 185.9h0M332.0 189.7h0M353.7 199.6h0M334.7 206.0h0M333.6 190.6h0M345.9 198.1h0M349.3 199.1h0M329.4 194.5h0M326.2 190.9h0M338.4 196.7h0M343.8 178.5h0M332.1 187.0h0M347.5 192.4h0M342.7 208.4h0M339.5 203.8h0M339.4 197.9h0M356.3 191.8h0M337.6 209.5h0M346.6 187.9h0M348.9 199.8h0M328.4 187.1h0M343.3 174.3h0M337.1 194.1h0M335.5 184.1h0M333.0 202.6h0M347.6 183.4h0M351.3 204.1h0M333.1 186.3h0M332.7 207.8h0M352.8 186.6h0M331.1 204.0h0" stroke="#ece130" stroke-width="1.75" stroke-linecap="round" fill="none"/>
<path d="M334.4 196.8h0M336.3 202.9h0M339.0 189.5h0M348.0 194.1h0M354.6 182.2h0M338.8 176.9h0M336.3 205.8h0M350.0 200.3h0M346.3 191.6h0M355.0 194.0h0M338.1 186.1h0M343.1 194.0h0M338.4 179.8h0M333.8 206.9h0M346.1 199.7h0M342.3 189.9h0M346.1 185.0h0M349.3 175.8h0M354.7 196.7h0M336.5 182.2h0M329.7 183.1h0" stroke="#ee841f" stroke-width="1.75" stroke-linecap="round" fill="none"/>
<path d="M350.9 204.3h0M328.4 206.7h0M350.9 178.1h0M348.5 181.1h0M338.4 187.0h0M339.3 175.0h0M356.6 192.1h0M336.5 176.9h0M348.8 208.1h0M354.5 186.4h0M325.6 186.6h0M326.0 194.4h0M343.9 209.9h0M337.6 212.5h0M359.5 185.2h0M340.1 212.1h0M352.4 181.0h0M328.6 205.8h0M341.8 206.7h0M328.4 186.8h0M360.1 190.2h0M326.1 184.1h0M327.6 205.8h0M329.0 182.6h0M335.6 175.5h0M336.4 208.7h0M329.8 206.8h0" stroke="#1f3da0" stroke-width="1.75" stroke-linecap="round" fill="none"/>
<path d="M335.8 209.9h0M329.0 197.7h0M337.8 189.0h0M346.0 179.9h0M359.1 189.8h0M337.4 208.9h0M354.2 182.3h0M343.6 197.1h0M338.1 176.6h0M344.3 199.3h0M348.6 185.2h0M341.6 197.2h0M346.7 179.1h0M338.4 204.0h0M336.8 204.3h0M338.8 195.7h0M354.8 199.1h0M332.4 204.1h0M332.8 189.2h0M339.2 209.9h0" stroke="#abd65a" stroke-width="1.75" stroke-linecap="round" fill="none"/>
<path d="M349.1 193.8h0" stroke="#2f6dc5" stroke-width="1.75" stroke-linecap="round" fill="none"/>
<path d="M356.1 189.9h0M342.9 213.4h0M335.1 180.0h0M339.0 214.0h0M333.3 208.1h0M355.8 183.6h0M337.8 176.6h0M331.5 206.7h0M327.8 206.1h0M339.1 177.4h0M326.3 202.1h0M359.2 194.9h0M351.0 209.1h0M333.8 207.6h0M360.9 187.5h0M335.3 208.0h0M325.3 200.0h0M342.7 213.5h0M343.9 213.5h0M359.1 201.1h0M357.8 183.2h0M332.6 210.8h0" stroke="#1c2a8c" stroke-width="1.75" stroke-linecap="round" fill="none"/>
<path d="M350.3 180.5h0M345.3 202.5h0M348.5 205.3h0M340.9 197.2h0M350.6 179.3h0M330.4 187.2h0M344.6 193.2h0M337.3 183.3h0M330.3 183.3h0M334.8 206.9h0M331.9 203.6h0M327.8 196.7h0M341.1 207.1h0M340.0 195.5h0M333.4 201.9h0M344.8 183.0h0" stroke="#e3561b" stroke-width="1.75" stroke-linecap="round" fill="none"/>
<path d="M357.7 187.3h0M336.9 179.8h0M348.3 192.8h0M333.8 195.7h0M340.8 203.0h0M338.7 210.0h0M336.8 205.9h0M350.5 187.8h0M332.8 205.2h0M362.7 194.7h0" stroke="#c33217" stroke-width="1.75" stroke-linecap="round" fill="none"/>
<path d="M340.7 184.0h0M332.3 200.0h0M340.0 184.2h0M347.1 181.2h0M347.8 188.2h0M356.8 188.4h0M325.8 186.2h0M351.3 204.0h0M349.9 205.7h0M355.5 204.5h0M346.7 178.6h0M331.6 193.9h0M340.9 212.8h0M359.6 200.2h0M329.4 201.2h0M350.5 184.3h0M343.7 202.3h0M338.4 173.1h0" stroke="#abd65a" stroke-width="1.75" stroke-linecap="round" fill="none"/>
<path d="M337.2 194.4h0M344.4 186.8h0M352.0 205.2h0M343.5 180.5h0M329.8 191.0h0M350.3 201.8h0M332.2 184.2h0M358.6 199.6h0M355.4 200.8h0M357.0 190.9h0M332.8 191.1h0M354.4 189.6h0M332.3 181.3h0M339.2 195.6h0M330.5 184.5h0M333.3 202.1h0M338.5 196.5h0M346.9 198.7h0M349.3 196.8h0M331.7 198.2h0M330.9 206.0h0M346.3 196.9h0M346.3 181.1h0M354.3 194.3h0M351.0 184.1h0M338.2 185.8h0M335.6 189.6h0M361.3 194.0h0M342.5 204.0h0M337.3 178.8h0M328.9 201.8h0M342.0 201.0h0M349.8 183.7h0M351.9 186.6h0M353.3 188.5h0M332.6 197.0h0M338.8 192.9h0M332.4 181.5h0M332.2 197.4h0M341.9 198.6h0M348.8 182.0h0M331.1 186.9h0M348.5 180.0h0M345.2 191.3h0" stroke="#f6ae23" stroke-width="1.75" stroke-linecap="round" fill="none"/>
<path d="M331.0 201.2h0M328.8 179.7h0M353.0 205.8h0M330.6 206.4h0M344.6 176.2h0M338.6 195.8h0M358.3 191.4h0M336.7 212.1h0M357.3 198.3h0M338.9 199.5h0M325.1 192.9h0M334.9 182.7h0M332.2 176.9h0" stroke="#1c2a8c" stroke-width="1.75" stroke-linecap="round" fill="none"/>
<path d="M334.6 176.6h0" stroke="#9c1214" stroke-width="1.75" stroke-linecap="round" fill="none"/>
<path d="M328.2 199.6h0M334.7 175.8h0M339.9 189.1h0M340.3 203.3h0M340.0 190.1h0M358.7 188.2h0M347.2 197.3h0M330.4 200.6h0M345.3 182.9h0M345.6 179.3h0M353.9 193.2h0M354.3 179.5h0M328.8 186.0h0M349.3 196.8h0M348.3 201.8h0M345.9 208.5h0M349.6 195.7h0M340.3 183.3h0M341.6 206.5h0M338.3 186.2h0M350.1 190.3h0M360.2 195.8h0M347.2 202.7h0M346.7 189.5h0M341.0 194.6h0M343.6 203.1h0M359.3 199.8h0M333.2 188.6h0M344.6 190.3h0M337.1 205.8h0M352.9 181.4h0M336.1 193.3h0M338.4 178.4h0" stroke="#ece130" stroke-width="1.75" stroke-linecap="round" fill="none"/>
<path d="M344.5 177.2h0M336.0 180.8h0M361.6 197.0h0M332.0 194.8h0M348.2 181.5h0M341.5 195.3h0M337.6 205.0h0M356.4 180.9h0M328.0 189.0h0" stroke="#2150b3" stroke-width="1.75" stroke-linecap="round" fill="none"/>
<path d="M341.7 177.2h0M339.5 201.8h0M357.3 202.9h0M329.1 179.2h0M337.3 204.1h0M337.7 189.5h0M333.7 210.4h0M345.2 177.8h0M357.2 191.8h0M360.5 186.0h0M356.3 189.8h0M336.9 183.0h0M336.8 206.3h0M356.3 190.3h0M331.0 206.4h0M353.8 201.9h0M353.3 181.8h0M335.8 189.3h0M330.8 185.8h0M333.7 179.6h0M341.1 182.8h0M354.7 203.9h0M344.8 209.9h0M337.7 197.8h0M350.3 184.9h0M338.9 191.5h0M335.6 192.2h0M336.3 203.3h0M361.8 195.2h0M347.5 196.6h0M341.4 197.1h0M332.7 197.1h0" stroke="#ccdc40" stroke-width="1.75" stroke-linecap="round" fill="none"/>
<path d="M353.1 181.4h0M354.7 195.9h0M337.8 206.2h0M342.3 194.7h0M341.4 206.9h0M336.7 184.2h0M325.8 195.5h0M346.4 192.3h0M352.6 189.6h0M333.1 210.6h0M351.4 192.9h0M331.4 177.4h0M328.9 185.0h0M345.6 205.1h0M338.5 212.4h0M341.8 186.2h0M335.7 201.9h0M338.2 195.3h0M339.9 204.9h0M329.3 195.7h0M337.2 187.2h0M343.1 203.2h0M337.4 176.6h0M333.1 205.9h0M350.6 177.3h0M345.5 182.4h0M350.1 206.2h0M353.0 195.3h0M338.0 199.5h0M335.2 210.3h0M339.6 182.2h0M338.3 199.9h0M333.8 183.3h0M344.2 181.6h0M351.5 198.6h0M341.5 207.7h0M348.6 197.8h0M339.2 201.8h0M333.4 209.1h0M355.7 198.8h0M337.3 209.8h0M355.2 192.6h0" stroke="#f5cb28" stroke-width="1.75" stroke-linecap="round" fill="none"/>
<path d="M345.9 196.0h0M337.2 210.4h0M354.6 199.4h0M340.7 183.4h0M336.8 192.9h0M349.4 191.1h0M348.1 194.3h0" stroke="#87cc92" stroke-width="1.75" stroke-linecap="round" fill="none"/>
<path d="M355.5 200.6h0M345.3 207.7h0" stroke="#67bfc1" stroke-width="1.75" stroke-linecap="round" fill="none"/>
<path d="M340.2 209.2h0M337.6 212.7h0M357.9 182.7h0M342.9 208.7h0M330.9 177.6h0M347.7 175.4h0M358.7 196.5h0M334.5 208.3h0M337.3 210.4h0M359.3 185.5h0M329.1 204.5h0M343.8 174.4h0M357.5 190.0h0M355.5 182.2h0M348.5 176.2h0M351.6 202.1h0M341.4 175.1h0M334.9 177.3h0M359.5 187.1h0M325.5 192.9h0M336.7 204.3h0M350.7 203.3h0M353.7 205.1h0M354.3 181.1h0M360.4 199.1h0M351.4 207.1h0M327.7 181.0h0M334.4 181.7h0M360.6 190.2h0M355.7 203.3h0M354.2 191.6h0M357.3 193.8h0M326.7 192.2h0M360.7 193.4h0M347.8 211.3h0M359.7 194.6h0M342.3 203.2h0M341.9 212.2h0M354.9 199.2h0M360.0 185.8h0" stroke="#1f3da0" stroke-width="1.75" stroke-linecap="round" fill="none"/>
<path d="M346.0 192.7h0M333.9 205.1h0M351.3 184.2h0M327.3 194.2h0M354.4 182.5h0M350.6 191.5h0M342.9 196.0h0M336.9 189.8h0M343.3 188.4h0M348.0 207.7h0" stroke="#c33217" stroke-width="1.75" stroke-linecap="round" fill="none"/>
<path d="M347.6 201.0h0" stroke="#52a9d6" stroke-width="1.75" stroke-linecap="round" fill="none"/>
<path d="M357.1 194.1h0M337.1 179.1h0M345.2 180.5h0M350.7 195.0h0M347.3 195.7h0M359.4 190.8h0M340.5 209.6h0M347.2 183.4h0M344.2 180.4h0M349.8 198.6h0M338.3 188.3h0M333.2 198.7h0M355.7 181.9h0M329.3 196.9h0M339.8 193.3h0M334.5 214.6h0" stroke="#e3561b" stroke-width="1.75" stroke-linecap="round" fill="none"/>
<path d="M339.2 202.8h0M327.3 204.9h0M336.8 180.6h0M325.0 197.7h0M331.4 199.6h0M331.4 194.0h0M329.4 196.6h0M329.3 191.9h0M347.5 191.8h0M338.7 183.6h0M345.6 177.3h0M350.1 183.6h0M335.8 193.2h0M343.3 208.4h0M345.2 182.4h0M342.0 203.0h0M334.2 188.5h0M347.8 204.2h0M347.5 176.7h0M348.5 192.8h0M338.6 178.8h0M339.7 189.2h0M346.7 195.4h0M336.6 176.7h0M351.6 190.6h0M343.9 208.6h0M347.8 187.7h0M343.7 201.2h0M347.6 201.6h0M338.5 195.5h0M344.7 177.0h0M333.5 184.5h0M340.1 197.2h0M361.0 191.9h0M355.0 185.6h0M332.4 196.1h0M352.7 185.3h0M340.8 210.6h0M340.5 181.7h0M364.1 195.6h0" stroke="#ee841f" stroke-width="1.75" stroke-linecap="round" fill="none"/>
<line x1="323.5" y1="171.5" x2="323.5" y2="217.2" stroke="#111" stroke-width="1"/>
<line x1="322.6" y1="216.5" x2="366.7" y2="216.5" stroke="#111" stroke-width="1"/>
<line x1="320.2" y1="179.5" x2="323.1" y2="179.5" stroke="#111" stroke-width="0.9"/>
<text transform="translate(316.8,179.8) rotate(0.1)" x="0" y="1.89" font-size="5.4" text-anchor="end" fill="#222" stroke="#222" stroke-width="0.05">20</text>
<line x1="320.2" y1="193.5" x2="323.1" y2="193.5" stroke="#111" stroke-width="0.9"/>
<text transform="translate(316.8,193.4) rotate(0.1)" x="0" y="1.89" font-size="5.4" text-anchor="end" fill="#222" stroke="#222" stroke-width="0.05">0</text>
<line x1="320.2" y1="206.5" x2="323.1" y2="206.5" stroke="#111" stroke-width="0.9"/>
<text transform="translate(316.8,207) rotate(0.1)" x="0" y="1.89" font-size="5.4" text-anchor="end" fill="#222" stroke="#222" stroke-width="0.05">-20</text>
<line x1="333.5" y1="216.7" x2="333.5" y2="219.5" stroke="#111" stroke-width="0.9"/>
<text transform="translate(333.53,226.3) rotate(0.1)" x="0" y="1.89" font-size="5.4" text-anchor="middle" fill="#222" stroke="#222" stroke-width="0.05">-20</text>
<line x1="344.5" y1="216.7" x2="344.5" y2="219.5" stroke="#111" stroke-width="0.9"/>
<text transform="translate(344.1,226.3) rotate(0.1)" x="0" y="1.89" font-size="5.4" text-anchor="middle" fill="#222" stroke="#222" stroke-width="0.05">0</text>
<line x1="354.5" y1="216.7" x2="354.5" y2="219.5" stroke="#111" stroke-width="0.9"/>
<text transform="translate(354.67,226.3) rotate(0.1)" x="0" y="1.89" font-size="5.4" text-anchor="middle" fill="#222" stroke="#222" stroke-width="0.05">20</text>
<line x1="365.5" y1="216.7" x2="365.5" y2="219.5" stroke="#111" stroke-width="0.9"/>
<text transform="translate(365.24,226.3) rotate(0.1)" x="0" y="1.89" font-size="5.4" text-anchor="middle" fill="#222" stroke="#222" stroke-width="0.05">40</text>
<text transform="translate(344.9,236.7) rotate(0.1) scale(0.72,1)" x="0" y="2.97" font-size="8.5" text-anchor="middle" fill="#222" stroke="#222" stroke-width="0.12">tSNE_1</text>
<text transform="translate(300.7,194.1) rotate(-90) scale(0.72,1)" x="0" y="2.97" font-size="8.5" text-anchor="middle" fill="#222" stroke="#222" stroke-width="0.12">tSNE_2</text>
<text transform="translate(345.1,163.3) rotate(0.1)" x="0" y="3.04" font-size="8.7" text-anchor="middle" fill="#222" stroke="#222" stroke-width="0.12" font-style="italic">GABARAPL1</text>
<text transform="translate(373.6,176.3) rotate(0.1) scale(0.93,1)" x="0" y="1.89" font-size="5.4" text-anchor="middle" fill="#333" stroke="#333" stroke-width="0.05">Expression</text>
<text transform="translate(373.6,181.6) rotate(0.1) scale(0.93,1)" x="0" y="1.89" font-size="5.4" text-anchor="middle" fill="#333" stroke="#333" stroke-width="0.05">(log)</text>
<rect x="367.3" y="189.8" width="4.5" height="21.9" fill="url(#gD)" stroke="none" stroke-width="1"/>
<text transform="translate(374.7,192.8) rotate(0.1)" x="0" y="1.92" font-size="5.5" text-anchor="start" fill="#222" stroke="#222" stroke-width="0.05">3</text>
<text transform="translate(374.7,199) rotate(0.1)" x="0" y="1.92" font-size="5.5" text-anchor="start" fill="#222" stroke="#222" stroke-width="0.05">2</text>
<text transform="translate(374.7,205.2) rotate(0.1)" x="0" y="1.92" font-size="5.5" text-anchor="start" fill="#222" stroke="#222" stroke-width="0.05">1</text>
<text transform="translate(374.7,211) rotate(0.1)" x="0" y="1.92" font-size="5.5" text-anchor="start" fill="#222" stroke="#222" stroke-width="0.05">0</text>
<path d="M452.5 188.0h0M454.8 183.2h0M452.0 207.4h0M434.9 185.3h0M458.4 192.2h0M447.4 191.6h0M453.7 189.6h0M443.4 205.6h0M429.3 204.3h0M433.9 176.5h0M448.7 198.1h0M441.6 180.6h0M437.1 180.1h0M453.5 192.0h0M453.6 198.7h0M432.5 199.0h0M428.9 190.9h0M454.9 181.9h0M445.0 208.6h0M436.8 201.1h0M438.8 199.7h0M446.6 197.1h0M451.6 179.8h0M438.9 199.6h0M427.6 198.1h0M456.3 192.6h0M444.3 193.6h0M448.6 197.1h0" stroke="#ee841f" stroke-width="1.75" stroke-linecap="round" fill="none"/>
<path d="M449.9 208.1h0M451.6 201.3h0M434.8 179.6h0M428.7 205.8h0M433.4 207.4h0M444.7 203.1h0M440.7 206.3h0M439.4 197.9h0M440.4 201.0h0M448.1 190.3h0M437.5 208.7h0" stroke="#abd65a" stroke-width="1.75" stroke-linecap="round" fill="none"/>
<path d="M453.2 188.7h0M463.6 197.3h0" stroke="#9c1214" stroke-width="1.75" stroke-linecap="round" fill="none"/>
<path d="M447.0 198.6h0M455.0 193.2h0M435.8 206.0h0M441.0 204.9h0M460.0 195.0h0M458.3 193.1h0M455.2 190.0h0M442.8 200.4h0M432.0 195.0h0M431.6 195.4h0M448.6 189.6h0" stroke="#c33217" stroke-width="1.75" stroke-linecap="round" fill="none"/>
<path d="M446.8 194.7h0M448.6 195.4h0M449.3 181.5h0M456.8 190.4h0M434.3 188.6h0M447.1 179.6h0" stroke="#87cc92" stroke-width="1.75" stroke-linecap="round" fill="none"/>
<path d="M463.1 190.6h0M437.4 202.9h0M432.8 182.0h0M451.3 198.7h0M456.2 185.1h0M460.3 197.0h0M453.5 181.0h0M437.2 211.3h0M438.1 183.4h0M429.1 199.9h0M461.1 187.6h0M446.0 204.8h0M440.0 199.5h0M440.6 203.8h0M440.5 197.9h0M440.0 203.7h0M439.7 201.6h0M445.4 201.7h0M445.8 177.0h0M447.5 200.2h0M454.9 191.3h0M454.1 190.2h0M444.7 191.8h0M462.9 195.2h0M437.6 182.2h0M445.8 203.2h0" stroke="#ccdc40" stroke-width="1.75" stroke-linecap="round" fill="none"/>
<path d="M430.1 197.7h0M438.9 193.5h0M431.5 187.2h0M429.3 199.6h0M428.1 202.8h0M435.0 205.1h0M447.7 195.1h0M430.9 202.2h0M441.1 190.1h0M441.3 198.9h0M449.4 192.7h0M427.7 189.4h0M453.3 198.2h0M444.7 197.1h0M443.8 180.6h0M449.4 192.8h0M452.5 192.9h0M444.7 195.5h0M439.7 184.8h0M441.2 188.5h0M441.4 199.3h0M429.7 182.7h0M430.2 205.4h0M438.3 187.2h0M439.5 196.7h0M430.3 183.9h0M439.7 195.8h0M453.9 177.8h0M454.2 197.1h0M440.7 207.7h0M433.2 199.0h0M456.4 184.6h0M448.0 182.1h0M434.2 205.9h0M437.1 192.5h0M454.5 205.1h0M459.5 186.4h0M435.2 198.0h0M433.5 196.1h0" stroke="#ece130" stroke-width="1.75" stroke-linecap="round" fill="none"/>
<path d="M449.0 193.7h0M456.4 186.0h0M450.6 188.7h0M446.9 180.9h0M437.3 182.2h0M435.5 196.8h0M430.5 196.6h0M449.3 178.3h0M439.5 194.6h0M448.6 191.8h0M442.2 206.6h0M429.5 191.8h0M442.8 211.7h0M438.7 192.2h0M457.4 189.8h0M447.6 186.2h0M438.0 183.0h0M439.6 191.2h0M427.9 189.6h0M454.7 195.3h0M451.8 185.9h0M441.3 201.0h0M432.6 184.3h0M451.0 205.7h0M447.8 189.5h0M453.7 187.2h0M442.0 201.1h0M433.1 192.7h0M445.1 196.9h0M456.9 192.0h0M448.0 206.2h0M453.0 190.3h0M445.9 197.8h0M433.7 190.2h0M459.9 194.8h0M430.4 196.9h0M427.9 182.4h0M441.6 181.7h0" stroke="#f5cb28" stroke-width="1.75" stroke-linecap="round" fill="none"/>
<path d="M450.4 175.8h0" stroke="#67bfc1" stroke-width="1.75" stroke-linecap="round" fill="none"/>
<path d="M435.2 204.8h0M436.0 200.3h0M442.7 214.6h0M459.2 201.2h0M456.5 200.8h0M434.7 175.8h0M429.7 179.4h0M426.9 194.7h0M432.3 188.9h0M439.8 191.3h0M456.6 204.5h0M450.6 206.1h0M459.5 186.2h0M462.3 190.7h0M455.1 177.5h0" stroke="#1c2a8c" stroke-width="1.75" stroke-linecap="round" fill="none"/>
<path d="M456.5 191.4h0M445.8 177.6h0M449.1 208.4h0M435.9 206.9h0M448.6 174.6h0M438.3 194.7h0M447.8 178.6h0M440.9 190.8h0M446.6 187.5h0M447.8 199.3h0" stroke="#e3561b" stroke-width="1.75" stroke-linecap="round" fill="none"/>
<path d="M461.8 187.3h0M440.0 175.0h0M429.3 202.6h0M442.4 213.7h0M448.2 181.2h0M440.4 175.0h0M428.8 204.6h0M429.9 179.7h0M455.3 182.3h0M444.0 213.4h0M446.4 182.9h0M434.2 181.2h0M456.5 188.3h0M454.1 205.8h0M436.3 177.1h0M449.6 176.2h0M454.2 205.8h0M450.5 180.2h0M432.6 206.7h0M440.1 212.9h0M437.9 212.7h0M429.1 181.9h0M436.3 175.4h0M452.3 208.7h0M458.4 198.3h0M438.7 209.5h0M447.1 201.2h0M438.2 205.8h0M438.6 177.7h0M456.8 181.9h0M447.3 174.8h0M435.2 206.0h0M456.6 196.5h0M451.1 177.2h0M428.4 198.6h0M431.8 177.7h0M429.6 200.6h0M428.5 193.3h0" stroke="#1f3da0" stroke-width="1.75" stroke-linecap="round" fill="none"/>
<path d="M438.7 212.7h0M428.9 181.5h0M461.2 185.2h0M436.1 185.5h0M450.1 204.0h0M458.7 202.2h0M440.7 175.8h0" stroke="#2150b3" stroke-width="1.75" stroke-linecap="round" fill="none"/>
<path d="M435.7 207.8h0M434.2 179.4h0M453.1 205.2h0M441.0 189.1h0M452.1 190.2h0M444.9 214.4h0M447.1 179.9h0M440.3 197.0h0M428.4 194.2h0M445.1 207.7h0M436.3 182.9h0M455.5 182.5h0M435.6 206.8h0M446.7 205.1h0M456.5 192.4h0M453.8 185.2h0M439.4 188.3h0M443.0 200.3h0M452.4 197.6h0M428.0 201.9h0M452.7 194.0h0M438.4 178.8h0M444.5 180.9h0M461.3 188.8h0M458.0 181.2h0M438.2 194.1h0M445.6 180.2h0M452.4 196.5h0M445.6 183.7h0M436.7 175.5h0M445.0 177.6h0M435.3 185.0h0M434.1 202.6h0M442.4 187.7h0M443.1 209.0h0M459.8 189.9h0" stroke="#f6ae23" stroke-width="1.75" stroke-linecap="round" fill="none"/>
<path d="M438.4 205.2h0M455.8 195.2h0M431.9 200.1h0M461.9 196.3h0M439.7 209.7h0M433.1 194.8h0M447.2 199.7h0M447.2 184.7h0M433.7 206.4h0M446.6 182.4h0M433.0 178.6h0M448.9 187.7h0M456.1 198.1h0M443.4 203.2h0M443.5 187.8h0M435.6 207.3h0M464.6 195.8h0" stroke="#e3561b" stroke-width="1.75" stroke-linecap="round" fill="none"/>
<path d="M429.4 201.8h0M449.7 194.7h0M451.0 195.9h0M444.7 182.9h0M454.2 180.5h0M438.5 192.5h0M450.1 176.3h0M440.0 199.8h0M443.8 211.0h0M451.8 192.5h0M441.7 205.4h0M437.7 186.4h0M447.4 181.1h0M454.1 191.2h0M437.9 181.7h0M446.5 207.0h0M458.0 184.8h0M438.7 205.0h0M441.0 181.0h0" stroke="#abd65a" stroke-width="1.75" stroke-linecap="round" fill="none"/>
<path d="M437.0 182.7h0M439.9 176.9h0M439.9 190.4h0M450.2 181.2h0M445.8 182.4h0M439.4 178.4h0M428.3 192.8h0M460.9 192.3h0M456.2 195.4h0M443.2 187.6h0M441.5 200.6h0M444.2 194.0h0M459.4 191.4h0M429.2 183.9h0M445.7 178.1h0M458.0 203.2h0M435.5 181.7h0M440.8 204.6h0M446.7 192.1h0M447.9 187.4h0M454.0 181.4h0M439.9 192.9h0M450.7 188.0h0M441.2 175.6h0M462.1 191.9h0M437.2 206.8h0M431.2 208.4h0" stroke="#ccdc40" stroke-width="1.75" stroke-linecap="round" fill="none"/>
<path d="M452.0 204.3h0M431.5 177.7h0M454.8 199.6h0M426.0 194.2h0M453.0 204.4h0M436.5 178.0h0M456.9 183.6h0M445.1 172.4h0" stroke="#2150b3" stroke-width="1.75" stroke-linecap="round" fill="none"/>
<path d="M447.6 187.9h0M441.0 199.5h0M450.9 183.7h0M455.8 196.7h0" stroke="#52a9d6" stroke-width="1.75" stroke-linecap="round" fill="none"/>
<path d="M449.6 194.2h0M434.6 184.5h0M462.6 189.8h0" stroke="#67bfc1" stroke-width="1.75" stroke-linecap="round" fill="none"/>
<path d="M441.2 210.7h0M438.8 200.1h0M438.5 186.3h0M453.7 178.0h0M435.6 208.3h0M451.0 178.7h0M435.7 191.5h0M429.8 182.2h0M440.5 205.9h0M449.5 191.6h0M446.3 182.4h0M455.4 179.5h0M433.1 189.7h0M442.5 175.1h0M442.7 182.9h0M433.0 183.9h0M436.8 201.9h0M448.9 204.2h0M445.7 176.2h0M433.8 204.0h0M436.8 189.7h0M438.2 189.0h0M431.7 177.3h0M451.2 206.2h0M427.9 200.0h0M437.7 186.3h0M437.9 205.9h0M455.4 189.5h0M438.1 196.4h0M434.7 191.7h0M443.4 186.5h0M448.9 211.3h0M436.7 192.2h0M449.9 199.9h0M448.7 183.4h0M450.2 193.8h0M439.3 180.2h0M458.9 183.2h0M449.9 207.4h0M450.2 202.0h0M464.9 197.1h0" stroke="#f6ae23" stroke-width="1.75" stroke-linecap="round" fill="none"/>
<path d="M442.5 190.5h0" stroke="#9c1214" stroke-width="1.75" stroke-linecap="round" fill="none"/>
<path d="M446.5 197.5h0M438.3 179.1h0M448.8 192.1h0M447.7 202.2h0M459.8 196.5h0M454.9 182.3h0M441.1 184.2h0M435.4 197.6h0M459.7 199.6h0M448.1 200.2h0M447.1 179.6h0M451.8 195.0h0M435.4 194.5h0M448.4 176.5h0M455.3 188.5h0M440.0 202.9h0M449.4 201.8h0M454.6 205.3h0M447.8 179.1h0M427.3 190.9h0M437.8 204.3h0M434.2 180.7h0M433.2 187.0h0M428.9 194.1h0M441.4 183.3h0M430.3 184.9h0M434.9 206.9h0M452.6 196.0h0M436.7 189.6h0M431.1 206.9h0M442.2 182.8h0M445.4 210.2h0M436.0 202.1h0M429.3 194.4h0M440.5 185.6h0M440.7 182.2h0M437.6 206.9h0M450.8 203.1h0M438.7 211.8h0M450.3 185.4h0M449.4 178.5h0M426.4 198.1h0M456.0 199.2h0M448.8 189.7h0M464.9 195.0h0M455.5 177.3h0M460.6 197.7h0" stroke="#f5cb28" stroke-width="1.75" stroke-linecap="round" fill="none"/>
<path d="M455.2 200.2h0M428.0 198.8h0M429.5 206.7h0M462.2 198.6h0M438.9 206.2h0M434.1 176.8h0M456.9 195.8h0M428.6 185.5h0M455.6 186.4h0M461.9 186.5h0M427.2 187.2h0M451.1 179.9h0M433.9 191.1h0M449.2 179.7h0M461.6 186.0h0M434.6 183.0h0M454.2 203.8h0M430.0 185.0h0M439.6 212.4h0M437.0 205.9h0M441.3 209.6h0M431.3 181.9h0M455.3 200.4h0M440.6 199.8h0M451.5 205.1h0M443.8 208.4h0M427.2 194.0h0M452.8 206.7h0M442.0 212.8h0M455.5 204.2h0M437.0 179.9h0M448.0 207.7h0M446.3 201.5h0M436.3 210.3h0M459.5 187.4h0M433.9 177.3h0M435.0 203.1h0M443.8 213.5h0M446.6 182.1h0M459.8 193.5h0M456.6 203.4h0M432.5 194.7h0M446.0 170.7h0" stroke="#1f3da0" stroke-width="1.75" stroke-linecap="round" fill="none"/>
<path d="M436.9 209.9h0M443.0 212.0h0M438.6 175.5h0M442.6 174.0h0M462.3 192.2h0M443.7 211.3h0M441.8 176.6h0M445.0 209.9h0M456.9 182.5h0M436.0 177.3h0M459.6 188.5h0M452.6 176.3h0M431.8 193.9h0M452.5 207.1h0M431.2 185.2h0M427.9 203.2h0M434.9 183.3h0M433.3 176.9h0M426.6 192.0h0" stroke="#1c2a8c" stroke-width="1.75" stroke-linecap="round" fill="none"/>
<path d="M435.0 186.4h0M448.6 204.1h0" stroke="#87cc92" stroke-width="1.75" stroke-linecap="round" fill="none"/>
<path d="M447.1 192.7h0M426.9 195.5h0M461.1 192.8h0M439.0 196.3h0M460.0 185.6h0M435.9 197.0h0M454.3 200.0h0" stroke="#c33217" stroke-width="1.75" stroke-linecap="round" fill="none"/>
<path d="M444.2 195.9h0M438.3 194.4h0M458.9 196.1h0M456.6 200.6h0M438.9 189.0h0M438.4 204.1h0M446.6 180.7h0M436.6 206.5h0M432.5 194.0h0M441.4 203.3h0M448.1 204.4h0M445.2 211.9h0M449.8 183.6h0M446.7 178.4h0M456.9 203.1h0M460.6 185.2h0M437.8 197.4h0M454.5 192.1h0M431.3 187.5h0M441.0 179.6h0M448.2 187.1h0M430.4 195.7h0M427.4 195.8h0M454.4 181.8h0M439.9 204.3h0M429.5 187.1h0M453.1 193.9h0M444.2 183.6h0M438.5 186.9h0M440.4 208.0h0M442.6 207.7h0M451.6 184.3h0M445.9 183.0h0M442.8 207.7h0M448.8 210.5h0M447.3 179.4h0M447.6 191.3h0" stroke="#ece130" stroke-width="1.75" stroke-linecap="round" fill="none"/>
<path d="M435.8 179.6h0M446.9 200.4h0M434.8 210.4h0M440.1 191.8h0M440.8 203.9h0M454.9 199.1h0M447.5 192.3h0M459.6 198.9h0M444.4 208.4h0M446.3 189.9h0M445.3 180.4h0M436.8 187.0h0M458.4 193.8h0M430.5 194.5h0M461.2 194.9h0M444.7 192.3h0M439.3 185.8h0M444.5 201.1h0M457.0 192.3h0M446.4 207.7h0M437.9 180.7h0M446.9 186.2h0M440.0 191.5h0M454.1 193.5h0M439.9 193.7h0M443.4 182.9h0M450.9 190.7h0M453.9 186.6h0M465.2 194.2h0" stroke="#ee841f" stroke-width="1.75" stroke-linecap="round" fill="none"/>
<path d="M444.6 180.5h0M444.4 213.2h0M446.7 179.3h0M440.8 197.0h0M449.0 183.2h0M456.9 187.9h0M435.8 191.5h0M435.8 190.1h0M448.3 201.4h0M426.3 188.7h0M440.3 201.8h0M456.1 192.2h0" stroke="#e3561b" stroke-width="1.75" stroke-linecap="round" fill="none"/>
<path d="M437.2 185.1h0M444.6 201.6h0M441.5 198.4h0M460.2 189.8h0M456.2 189.8h0M450.2 206.9h0M463.7 194.3h0" stroke="#c33217" stroke-width="1.75" stroke-linecap="round" fill="none"/>
<path d="M442.4 203.3h0M444.1 187.6h0M455.5 189.6h0M429.7 205.8h0M441.1 205.4h0M444.8 201.2h0M442.9 208.1h0M452.4 204.1h0M437.8 192.4h0" stroke="#87cc92" stroke-width="1.75" stroke-linecap="round" fill="none"/>
<path d="M443.2 188.2h0M445.5 186.8h0M434.6 193.6h0M443.7 200.1h0M444.0 191.8h0M448.9 188.2h0M434.3 182.2h0M447.5 209.0h0M440.8 189.2h0M456.5 193.6h0M433.7 183.0h0M456.7 202.4h0M427.8 192.2h0M449.0 199.9h0M445.3 181.6h0M449.1 199.3h0M451.1 184.1h0M444.8 202.3h0M441.9 203.7h0" stroke="#ee841f" stroke-width="1.75" stroke-linecap="round" fill="none"/>
<path d="M451.8 184.1h0M441.7 209.3h0M434.6 185.2h0M436.8 193.0h0M430.8 198.6h0M434.7 198.8h0M451.6 206.5h0M445.0 205.4h0M442.6 187.8h0M444.3 180.0h0M446.8 198.0h0M445.5 192.7h0M452.7 202.1h0M448.3 192.4h0M461.6 189.7h0M437.9 192.9h0M452.0 185.3h0M451.3 181.3h0M446.4 204.2h0M458.4 194.6h0M433.0 203.6h0M436.9 187.3h0M448.7 194.2h0M429.5 186.8h0M442.1 183.1h0M438.0 189.8h0M461.5 199.1h0M428.8 181.0h0M447.8 195.4h0M461.3 188.5h0M436.2 181.0h0M431.8 186.9h0M444.3 188.6h0M451.8 185.3h0M460.9 192.3h0M445.9 209.9h0M449.7 199.8h0M456.3 202.6h0M444.4 188.4h0M439.2 194.0h0M427.9 195.5h0M434.9 179.4h0M445.7 188.5h0M435.9 210.9h0" stroke="#f6ae23" stroke-width="1.75" stroke-linecap="round" fill="none"/>
<path d="M440.3 202.8h0M445.4 179.7h0M438.6 206.4h0M430.5 189.8h0M433.4 200.0h0M440.1 189.5h0M435.8 186.3h0M436.2 180.0h0M446.7 177.3h0M444.2 186.1h0M452.0 192.4h0M438.5 209.1h0M444.6 201.2h0M431.7 206.4h0M437.9 206.3h0M442.7 202.3h0M449.3 192.2h0M443.6 210.9h0M451.8 203.3h0M431.8 198.7h0M430.2 197.8h0M456.3 195.2h0M451.6 202.6h0M450.5 196.7h0M430.9 195.0h0M455.3 185.4h0M441.5 182.6h0M434.0 197.6h0M437.2 180.0h0M443.5 184.4h0M441.8 200.3h0M455.8 188.5h0M439.1 182.6h0" stroke="#ece130" stroke-width="1.75" stroke-linecap="round" fill="none"/>
<path d="M459.6 185.4h0M451.3 196.3h0M430.5 201.2h0" stroke="#52a9d6" stroke-width="1.75" stroke-linecap="round" fill="none"/>
<path d="M447.5 204.2h0M444.7 186.0h0M426.4 195.7h0M442.0 197.2h0M443.5 186.8h0M448.8 175.4h0M453.7 177.5h0M444.4 195.8h0M428.9 196.9h0M427.0 192.3h0M458.6 190.0h0M430.4 191.9h0M459.3 191.9h0M436.9 186.0h0M461.1 192.3h0M460.2 185.1h0M452.4 200.2h0M446.3 200.6h0M456.1 194.0h0M444.0 196.0h0M439.5 179.8h0M446.2 210.0h0M432.1 198.2h0M451.2 208.3h0M448.6 205.5h0M447.7 187.9h0M437.6 186.4h0M441.2 175.6h0M433.2 184.5h0M439.4 199.9h0M455.3 191.6h0M452.6 198.6h0M451.6 187.8h0M452.1 182.7h0M445.6 189.3h0M439.5 212.4h0M437.4 201.9h0M449.1 198.9h0M429.0 204.0h0M445.4 185.8h0M431.2 201.4h0" stroke="#f5cb28" stroke-width="1.75" stroke-linecap="round" fill="none"/>
<path d="M439.2 174.7h0M447.8 175.2h0M442.4 209.9h0M425.7 194.2h0M435.4 197.8h0M458.4 193.8h0" stroke="#2150b3" stroke-width="1.75" stroke-linecap="round" fill="none"/>
<path d="M436.9 189.3h0M446.6 194.5h0M444.4 211.1h0M438.8 197.8h0" stroke="#9c1214" stroke-width="1.75" stroke-linecap="round" fill="none"/>
<path d="M441.3 209.2h0M428.4 204.9h0M455.9 204.3h0M430.2 191.3h0M459.5 193.8h0M433.6 196.3h0M459.8 188.2h0M437.4 205.8h0M426.7 187.4h0M447.1 212.1h0M426.3 198.1h0M440.1 214.0h0M432.7 178.2h0M444.0 192.3h0M434.4 208.1h0M456.4 199.0h0M446.3 211.2h0M439.4 208.2h0M440.6 212.3h0M446.3 178.0h0M430.0 184.6h0M427.4 202.1h0M446.4 179.0h0M460.5 193.7h0M462.0 187.5h0M454.8 205.1h0M430.1 190.3h0M442.4 212.2h0M445.2 180.1h0M428.2 201.2h0M429.7 196.2h0M446.5 175.1h0M461.6 190.9h0M425.7 191.4h0M433.0 203.6h0M430.0 184.1h0M432.5 209.3h0M461.0 186.9h0M434.7 179.6h0M432.2 186.9h0M455.2 180.8h0M456.3 179.6h0M460.2 201.1h0M439.5 212.8h0M429.2 181.9h0M432.2 204.0h0M454.8 176.7h0M459.2 204.8h0M447.4 169.7h0M449.6 173.3h0" stroke="#1f3da0" stroke-width="1.75" stroke-linecap="round" fill="none"/>
<path d="M459.0 182.7h0M430.4 182.3h0M454.4 183.5h0M428.9 180.3h0M462.7 197.0h0M449.6 176.5h0M430.1 193.5h0M435.3 176.0h0M448.6 211.6h0M440.8 187.9h0M437.2 193.3h0M427.5 203.3h0" stroke="#1c2a8c" stroke-width="1.75" stroke-linecap="round" fill="none"/>
<path d="M448.9 179.0h0M447.0 193.6h0M435.8 175.8h0M457.7 192.1h0M438.3 192.6h0M449.9 209.6h0M447.0 178.0h0M442.8 212.9h0M461.3 187.0h0M439.7 180.4h0M449.7 184.8h0M441.5 177.1h0M434.2 194.5h0M433.9 180.2h0M451.7 185.6h0M430.3 192.5h0M443.6 204.0h0M442.6 192.2h0M461.7 190.2h0M443.1 201.0h0M438.3 189.9h0M448.7 201.6h0M444.7 198.0h0M436.6 184.1h0M450.2 199.1h0M428.5 200.1h0M441.1 181.9h0M444.7 183.0h0" stroke="#ccdc40" stroke-width="1.75" stroke-linecap="round" fill="none"/>
<path d="M454.0 192.5h0M441.8 184.0h0M437.9 184.9h0M431.9 203.7h0M442.2 207.6h0M454.0 181.6h0M438.3 196.7h0M449.7 185.2h0M447.5 202.5h0M440.2 202.9h0M449.0 202.3h0M431.5 187.7h0M437.9 204.3h0M442.6 199.9h0M427.0 194.7h0M429.7 196.5h0M452.7 190.6h0M443.6 199.8h0M441.2 197.2h0M432.1 202.4h0M434.5 209.1h0" stroke="#abd65a" stroke-width="1.75" stroke-linecap="round" fill="none"/>
<path d="M443.4 194.7h0M439.8 184.0h0M447.2 177.8h0M457.1 181.9h0M437.4 189.5h0M445.5 196.4h0" stroke="#67bfc1" stroke-width="1.75" stroke-linecap="round" fill="none"/>
<path d="M438.4 210.4h0M440.5 186.9h0M443.4 209.2h0M443.0 198.6h0M449.9 182.0h0M453.3 188.1h0M457.1 180.2h0" stroke="#87cc92" stroke-width="1.75" stroke-linecap="round" fill="none"/>
<path d="M438.4 183.3h0M440.0 187.8h0M455.8 202.1h0M434.5 178.2h0M433.8 197.1h0" stroke="#67bfc1" stroke-width="1.75" stroke-linecap="round" fill="none"/>
<path d="M447.2 180.7h0M442.4 196.8h0M446.6 176.5h0M448.8 197.5h0M458.6 198.0h0M450.2 200.4h0M447.4 196.9h0M439.5 204.0h0M428.8 188.2h0M441.7 189.4h0M448.6 192.4h0M443.0 177.6h0M448.3 202.7h0M437.7 176.7h0M444.4 183.6h0M447.4 188.8h0M439.9 206.4h0M442.9 202.3h0M449.1 207.7h0M433.8 207.8h0M446.9 213.9h0" stroke="#ccdc40" stroke-width="1.75" stroke-linecap="round" fill="none"/>
<path d="M449.2 188.6h0M447.4 207.8h0M449.6 206.3h0M449.6 180.0h0" stroke="#c33217" stroke-width="1.75" stroke-linecap="round" fill="none"/>
<path d="M433.4 206.3h0M450.2 199.3h0M443.7 185.4h0M442.5 206.9h0M445.5 214.0h0M458.1 190.9h0M448.9 204.2h0M444.6 204.4h0M445.8 179.6h0M441.2 209.9h0M454.9 196.3h0M434.7 190.6h0M432.1 206.4h0M447.0 198.1h0M440.2 177.4h0M442.9 206.7h0M438.6 199.7h0M455.4 181.1h0M434.6 188.9h0M440.8 178.1h0M442.1 185.8h0M454.9 196.5h0M435.7 196.9h0M431.4 198.5h0M442.3 180.2h0M434.6 186.4h0M448.0 187.5h0M450.1 182.3h0M453.8 185.3h0M439.5 178.4h0M448.4 191.1h0M452.7 186.7h0" stroke="#ee841f" stroke-width="1.75" stroke-linecap="round" fill="none"/>
<path d="M457.1 200.5h0M447.1 175.5h0M452.0 178.1h0M427.6 200.0h0M451.4 201.8h0M456.4 194.6h0M444.9 174.4h0M436.7 211.4h0M461.3 188.6h0M438.9 176.6h0M434.5 182.1h0M432.0 206.0h0M430.1 187.3h0M439.7 178.8h0M456.8 180.3h0M455.9 199.1h0M433.9 184.9h0M452.2 201.5h0M460.7 200.3h0M456.1 185.6h0M434.3 207.5h0M460.8 197.8h0" stroke="#1c2a8c" stroke-width="1.75" stroke-linecap="round" fill="none"/>
<path d="M443.7 192.5h0M440.5 181.3h0M460.8 194.6h0M441.6 195.9h0M465.3 197.0h0" stroke="#9c1214" stroke-width="1.75" stroke-linecap="round" fill="none"/>
<path d="M451.4 180.5h0M454.2 181.4h0M455.9 179.1h0M438.3 175.3h0M432.0 177.6h0M448.5 200.7h0M432.9 207.2h0M458.4 202.9h0M459.4 188.1h0M438.3 210.4h0M438.6 196.9h0M445.6 177.2h0M430.7 202.3h0M437.0 212.6h0M439.2 176.6h0M438.7 212.5h0M441.2 212.1h0M431.4 183.3h0M434.8 210.0h0M431.7 190.8h0M442.0 212.4h0M457.1 200.1h0M444.9 178.5h0M438.5 176.6h0M434.3 198.7h0M460.0 200.3h0M439.3 212.6h0M449.5 204.2h0M459.9 197.7h0M462.4 194.0h0M461.2 198.0h0M458.3 188.4h0M446.8 211.3h0M445.2 210.8h0M447.7 186.7h0M430.1 182.6h0M461.2 190.0h0M462.0 187.5h0M437.7 183.4h0M441.7 179.7h0M427.9 204.3h0M461.8 193.4h0M432.6 189.2h0M456.2 182.2h0M438.4 209.8h0M452.1 206.8h0M454.7 212.6h0" stroke="#1f3da0" stroke-width="1.75" stroke-linecap="round" fill="none"/>
<path d="M446.4 202.5h0M444.0 208.7h0M447.0 196.0h0M447.8 200.5h0M432.5 199.6h0M460.1 187.6h0M442.1 182.6h0M439.3 182.0h0M460.5 200.4h0M439.1 193.5h0M442.0 208.6h0M445.4 199.3h0M439.6 196.5h0M435.3 188.5h0M450.4 196.8h0M441.8 200.3h0M444.6 197.9h0M453.7 185.1h0M447.0 208.5h0M447.5 201.2h0M449.1 195.4h0M442.7 206.5h0M439.9 195.7h0M439.8 203.7h0M454.4 188.5h0M441.7 193.6h0M438.2 204.2h0M455.7 180.4h0M450.5 191.1h0M442.3 194.4h0M451.4 184.9h0M449.7 197.8h0M433.9 189.2h0M445.1 181.4h0M434.2 186.3h0M445.1 188.7h0M429.3 201.7h0M453.8 212.0h0" stroke="#ece130" stroke-width="1.75" stroke-linecap="round" fill="none"/>
<path d="M462.4 198.1h0M457.2 189.9h0M453.1 192.6h0M448.4 195.7h0M437.1 180.8h0M443.1 203.0h0M437.1 186.6h0M432.8 186.4h0M445.3 179.5h0M442.1 187.5h0" stroke="#abd65a" stroke-width="1.75" stroke-linecap="round" fill="none"/>
<path d="M448.7 189.7h0M456.0 190.3h0M443.5 206.8h0M448.5 209.1h0M432.7 181.9h0M440.7 177.3h0M456.5 192.6h0M448.3 180.8h0M438.8 189.5h0M455.7 182.2h0M454.7 203.2h0M441.0 194.4h0M429.8 184.7h0M455.7 199.4h0M443.2 193.0h0M440.3 195.6h0M441.3 204.4h0M451.2 183.6h0M438.6 184.2h0M453.7 180.6h0M442.9 186.2h0M454.9 201.9h0M450.4 199.1h0M438.9 202.2h0M460.3 194.9h0M443.0 193.6h0M432.7 193.9h0M458.5 185.6h0M430.0 201.8h0M454.1 195.3h0M445.3 213.7h0M438.2 205.3h0M447.2 185.0h0M444.4 174.3h0M443.3 201.1h0M430.6 193.6h0M433.9 205.2h0M447.2 196.7h0M440.3 209.9h0M437.4 203.3h0M454.7 186.7h0M442.6 198.3h0M433.8 183.7h0M440.7 198.8h0M446.3 191.3h0" stroke="#f5cb28" stroke-width="1.75" stroke-linecap="round" fill="none"/>
<path d="M426.1 197.7h0M444.8 212.1h0M434.7 191.4h0M457.9 188.4h0M429.9 186.0h0M460.6 187.7h0M437.8 212.1h0M428.2 192.0h0M436.0 182.7h0" stroke="#2150b3" stroke-width="1.75" stroke-linecap="round" fill="none"/>
<path d="M455.9 191.3h0M454.2 194.1h0M435.6 181.2h0M440.5 175.0h0M433.4 201.1h0M455.6 185.5h0M452.4 184.2h0M441.5 206.6h0M429.6 182.7h0M430.8 188.6h0M438.9 211.1h0M451.1 200.3h0M443.2 182.7h0M453.4 190.6h0M427.1 194.4h0M458.7 193.4h0M448.3 183.4h0M434.3 183.3h0M446.6 200.0h0M446.8 175.7h0M457.4 190.3h0M443.7 190.4h0M450.8 197.3h0M435.8 197.4h0M452.9 196.7h0M437.5 197.9h0M453.7 187.2h0M435.0 193.4h0M440.8 206.5h0M442.1 194.6h0M434.9 207.6h0M438.1 199.5h0M442.6 195.3h0M446.7 206.7h0M446.8 174.2h0M444.6 189.4h0M442.4 190.1h0M441.6 205.1h0M455.5 179.3h0M433.5 181.5h0M447.3 179.6h0M440.3 176.1h0M452.7 196.0h0M428.9 197.4h0M464.2 194.8h0M465.2 194.6h0" stroke="#f6ae23" stroke-width="1.75" stroke-linecap="round" fill="none"/>
<path d="M452.5 204.2h0M444.7 205.9h0M452.1 186.8h0M439.1 206.5h0M432.8 198.2h0M444.2 203.2h0M450.0 199.8h0M450.6 183.8h0M452.4 187.7h0M459.7 191.0h0" stroke="#e3561b" stroke-width="1.75" stroke-linecap="round" fill="none"/>
<path d="M432.1 201.2h0M440.7 212.7h0M431.5 200.6h0M448.0 177.8h0M434.5 175.8h0M434.2 210.6h0M460.1 196.3h0M459.7 192.8h0M434.3 205.4h0M447.3 204.8h0M434.1 208.0h0M454.5 205.1h0M460.7 200.2h0M445.0 213.5h0M429.0 185.0h0" stroke="#2150b3" stroke-width="1.75" stroke-linecap="round" fill="none"/>
<path d="M437.9 180.6h0M449.6 181.1h0M436.6 193.2h0M453.6 185.2h0M451.3 202.2h0M440.4 196.2h0M433.9 180.8h0M436.2 204.4h0M452.1 184.1h0M429.6 189.8h0M451.0 187.9h0M433.3 197.4h0M460.2 187.0h0M445.7 182.9h0M451.4 191.2h0M452.9 177.9h0M464.7 195.5h0" stroke="#e3561b" stroke-width="1.75" stroke-linecap="round" fill="none"/>
<path d="M437.0 199.9h0M447.7 181.9h0M447.1 188.5h0M446.0 179.2h0M449.1 194.1h0M446.3 177.8h0M446.3 180.5h0M438.5 190.8h0M448.8 205.2h0M433.0 203.9h0M435.4 201.8h0M448.0 198.7h0M446.6 178.1h0M439.4 186.2h0M437.0 207.1h0M454.3 186.1h0M452.4 189.8h0M429.9 187.0h0M439.6 191.6h0M435.3 210.6h0M455.8 203.9h0M436.4 208.0h0M437.2 180.6h0M449.4 178.7h0M436.4 184.6h0M444.0 204.6h0M442.6 196.5h0" stroke="#ccdc40" stroke-width="1.75" stroke-linecap="round" fill="none"/>
<path d="M450.4 208.2h0M448.3 197.3h0M452.2 186.8h0M451.5 185.5h0M438.6 185.9h0M450.0 194.8h0M426.2 192.9h0M435.3 187.8h0M429.6 189.1h0" stroke="#87cc92" stroke-width="1.75" stroke-linecap="round" fill="none"/>
<path d="M437.6 187.7h0M445.3 194.4h0M450.2 201.4h0M436.7 184.6h0M464.1 195.1h0" stroke="#9c1214" stroke-width="1.75" stroke-linecap="round" fill="none"/>
<path d="M442.8 177.2h0M447.1 174.2h0M427.3 196.3h0M435.8 208.5h0M438.2 179.1h0M430.9 191.0h0M448.2 177.1h0M439.6 174.7h0M426.7 186.6h0M428.5 184.6h0M433.4 181.3h0M441.4 176.9h0M435.1 203.2h0M434.4 202.1h0M458.4 184.9h0M428.4 187.8h0M460.2 187.7h0M462.5 187.5h0M445.8 176.2h0M438.6 178.7h0M439.4 209.6h0M425.8 192.2h0M462.8 191.5h0M428.9 206.1h0M426.6 192.9h0M435.0 176.4h0M451.7 208.2h0M457.4 181.9h0M436.4 189.9h0M460.6 200.7h0M433.9 189.5h0M451.7 177.3h0M438.0 211.9h0M434.0 204.8h0M452.2 195.7h0M456.8 203.3h0M457.0 198.5h0M426.4 200.0h0M457.0 182.3h0M426.4 194.8h0M448.2 175.3h0M426.5 189.1h0M450.5 197.7h0M429.8 206.9h0M441.5 206.2h0M436.3 209.2h0M446.2 188.3h0M431.0 182.4h0M441.9 210.6h0M427.9 183.5h0M460.8 203.8h0M463.2 195.7h0M461.4 199.1h0" stroke="#1f3da0" stroke-width="1.75" stroke-linecap="round" fill="none"/>
<path d="M448.9 184.6h0M448.6 205.7h0M441.9 203.0h0M448.6 176.7h0M437.3 187.9h0M433.8 189.2h0M453.8 194.1h0M439.6 195.5h0M460.5 196.4h0" stroke="#c33217" stroke-width="1.75" stroke-linecap="round" fill="none"/>
<path d="M458.2 194.1h0M439.5 187.0h0M433.3 184.2h0M458.8 187.3h0M446.1 210.0h0M445.7 193.2h0M439.8 183.6h0M440.8 203.2h0M430.0 205.7h0M428.2 185.2h0M449.6 192.8h0M446.8 206.1h0M433.6 208.7h0M445.1 198.1h0M436.4 209.3h0M457.4 191.8h0M452.1 191.5h0M452.3 197.3h0M455.3 189.0h0M439.9 198.6h0M457.5 184.2h0M442.6 208.4h0M434.5 201.9h0M457.5 180.9h0M448.6 196.6h0M442.5 197.1h0M464.3 192.2h0M463.0 195.9h0M430.1 206.2h0" stroke="#ee841f" stroke-width="1.75" stroke-linecap="round" fill="none"/>
<path d="M432.6 196.8h0M440.6 201.8h0M445.3 204.3h0M455.5 186.2h0M460.4 185.5h0M458.3 191.8h0M453.1 193.7h0M449.1 177.3h0M441.6 184.5h0M432.5 177.4h0M434.4 197.1h0M444.6 188.2h0M458.3 196.0h0M439.2 186.1h0M442.7 197.2h0M460.6 187.1h0M428.2 203.0h0M442.5 192.6h0M443.5 176.8h0M426.9 186.2h0M445.5 209.5h0M455.3 200.1h0M449.9 188.1h0M451.0 179.4h0M439.1 199.5h0M448.7 201.0h0M428.9 201.5h0M444.8 188.2h0M437.5 207.9h0M426.1 189.3h0M442.2 207.1h0M426.9 193.5h0M449.2 194.3h0M441.1 195.5h0M448.2 205.9h0" stroke="#f6ae23" stroke-width="1.75" stroke-linecap="round" fill="none"/>
<path d="M430.7 207.5h0M430.2 179.2h0M427.1 199.1h0M428.4 194.9h0M432.0 201.3h0M460.5 190.8h0M429.5 205.0h0M451.6 206.0h0M441.3 177.0h0M428.5 181.9h0M426.2 194.7h0M431.0 193.7h0M429.9 186.1h0M427.3 194.8h0M460.4 195.9h0M439.8 210.0h0M452.1 209.1h0M427.2 184.1h0M430.1 201.3h0M460.4 199.8h0M448.4 186.6h0M453.9 177.6h0M446.3 211.9h0M440.1 177.0h0M459.8 194.1h0M456.8 198.8h0M436.7 207.4h0M457.3 176.4h0" stroke="#1c2a8c" stroke-width="1.75" stroke-linecap="round" fill="none"/>
<path d="M449.6 205.3h0M434.9 200.4h0M455.8 195.9h0M432.2 178.2h0M437.8 184.2h0M443.4 197.7h0M438.5 208.9h0M428.2 196.8h0M451.6 191.1h0M447.8 206.5h0M435.0 185.8h0M436.9 193.2h0M433.6 187.0h0M450.5 192.9h0M456.6 182.2h0M448.0 196.1h0M456.9 183.6h0M435.9 200.4h0M449.5 176.0h0M445.3 186.3h0M431.9 179.2h0M431.9 185.8h0M447.5 181.0h0M443.4 189.9h0M451.7 208.3h0M442.6 201.4h0M428.8 200.2h0M437.0 185.9h0M436.2 190.4h0M433.7 197.0h0M440.2 175.9h0M428.9 196.7h0M455.6 187.4h0M441.5 209.9h0M456.5 191.4h0M440.9 193.3h0M446.6 203.0h0" stroke="#ece130" stroke-width="1.75" stroke-linecap="round" fill="none"/>
<path d="M451.7 179.3h0M454.0 186.1h0M449.8 198.1h0M440.6 208.4h0M437.6 176.9h0M430.2 204.5h0M443.6 178.9h0M438.0 179.8h0M431.6 184.5h0M445.1 197.9h0M448.0 182.6h0M450.4 196.8h0M435.1 181.9h0M433.8 207.6h0M450.9 198.6h0M446.5 197.3h0M456.3 201.0h0M441.8 183.4h0M455.5 194.6h0M452.4 204.0h0M450.7 195.7h0M443.1 208.5h0M455.4 194.3h0M451.2 190.3h0M461.2 190.2h0M439.2 201.0h0M445.7 190.3h0M438.1 201.9h0M453.0 186.6h0M433.5 204.1h0M444.5 192.5h0M457.7 186.8h0M442.1 195.9h0M447.9 187.8h0M442.5 180.5h0M443.0 212.2h0M430.3 182.8h0M448.8 199.2h0M462.7 195.3h0M463.5 193.7h0M437.8 214.2h0" stroke="#f5cb28" stroke-width="1.75" stroke-linecap="round" fill="none"/>
<path d="M451.7 191.5h0M461.3 195.8h0M428.9 203.8h0" stroke="#67bfc1" stroke-width="1.75" stroke-linecap="round" fill="none"/>
<path d="M426.8 192.2h0M450.3 187.7h0M435.7 176.6h0M441.6 209.6h0M430.2 191.8h0M434.9 195.7h0M439.3 195.3h0M453.8 205.1h0M437.3 193.0h0M440.3 204.6h0M454.0 204.7h0M445.1 198.5h0M437.0 210.3h0" stroke="#abd65a" stroke-width="1.75" stroke-linecap="round" fill="none"/>
<line x1="424.5" y1="171.5" x2="424.5" y2="217.2" stroke="#111" stroke-width="1"/>
<line x1="423.7" y1="216.5" x2="467.8" y2="216.5" stroke="#111" stroke-width="1"/>
<line x1="421.3" y1="179.5" x2="424.2" y2="179.5" stroke="#111" stroke-width="0.9"/>
<text transform="translate(417.9,179.8) rotate(0.1)" x="0" y="1.89" font-size="5.4" text-anchor="end" fill="#222" stroke="#222" stroke-width="0.05">20</text>
<line x1="421.3" y1="193.5" x2="424.2" y2="193.5" stroke="#111" stroke-width="0.9"/>
<text transform="translate(417.9,193.4) rotate(0.1)" x="0" y="1.89" font-size="5.4" text-anchor="end" fill="#222" stroke="#222" stroke-width="0.05">0</text>
<line x1="421.3" y1="206.5" x2="424.2" y2="206.5" stroke="#111" stroke-width="0.9"/>
<text transform="translate(417.9,207) rotate(0.1)" x="0" y="1.89" font-size="5.4" text-anchor="end" fill="#222" stroke="#222" stroke-width="0.05">-20</text>
<line x1="434.5" y1="216.7" x2="434.5" y2="219.5" stroke="#111" stroke-width="0.9"/>
<text transform="translate(434.63,226.3) rotate(0.1)" x="0" y="1.89" font-size="5.4" text-anchor="middle" fill="#222" stroke="#222" stroke-width="0.05">-20</text>
<line x1="445.5" y1="216.7" x2="445.5" y2="219.5" stroke="#111" stroke-width="0.9"/>
<text transform="translate(445.2,226.3) rotate(0.1)" x="0" y="1.89" font-size="5.4" text-anchor="middle" fill="#222" stroke="#222" stroke-width="0.05">0</text>
<line x1="455.5" y1="216.7" x2="455.5" y2="219.5" stroke="#111" stroke-width="0.9"/>
<text transform="translate(455.77,226.3) rotate(0.1)" x="0" y="1.89" font-size="5.4" text-anchor="middle" fill="#222" stroke="#222" stroke-width="0.05">20</text>
<line x1="466.5" y1="216.7" x2="466.5" y2="219.5" stroke="#111" stroke-width="0.9"/>
<text transform="translate(466.34,226.3) rotate(0.1)" x="0" y="1.89" font-size="5.4" text-anchor="middle" fill="#222" stroke="#222" stroke-width="0.05">40</text>
<text transform="translate(446,236.7) rotate(0.1) scale(0.72,1)" x="0" y="2.97" font-size="8.5" text-anchor="middle" fill="#222" stroke="#222" stroke-width="0.12">tSNE_1</text>
<text transform="translate(401.8,194.1) rotate(-90) scale(0.72,1)" x="0" y="2.97" font-size="8.5" text-anchor="middle" fill="#222" stroke="#222" stroke-width="0.12">tSNE_2</text>
<text transform="translate(446.2,163.3) rotate(0.1)" x="0" y="3.04" font-size="8.7" text-anchor="middle" fill="#222" stroke="#222" stroke-width="0.12" font-style="italic">MAP1LC3B</text>
<text transform="translate(474.7,176.3) rotate(0.1) scale(0.93,1)" x="0" y="1.89" font-size="5.4" text-anchor="middle" fill="#333" stroke="#333" stroke-width="0.05">Expression</text>
<text transform="translate(474.7,181.6) rotate(0.1) scale(0.93,1)" x="0" y="1.89" font-size="5.4" text-anchor="middle" fill="#333" stroke="#333" stroke-width="0.05">(log)</text>
<rect x="468.4" y="189.8" width="4.5" height="21.9" fill="url(#gD)" stroke="none" stroke-width="1"/>
<text transform="translate(475.8,192.8) rotate(0.1)" x="0" y="1.92" font-size="5.5" text-anchor="start" fill="#222" stroke="#222" stroke-width="0.05">3</text>
<text transform="translate(475.8,199) rotate(0.1)" x="0" y="1.92" font-size="5.5" text-anchor="start" fill="#222" stroke="#222" stroke-width="0.05">2</text>
<text transform="translate(475.8,205.2) rotate(0.1)" x="0" y="1.92" font-size="5.5" text-anchor="start" fill="#222" stroke="#222" stroke-width="0.05">1</text>
<text transform="translate(475.8,211) rotate(0.1)" x="0" y="1.92" font-size="5.5" text-anchor="start" fill="#222" stroke="#222" stroke-width="0.05">0</text>
<path d="M251.7 272.0h0M252.2 274.5h0M240.8 305.7h0M228.0 295.8h0M233.5 275.7h0M240.9 311.5h0M225.0 288.6h0M227.6 276.4h0" stroke="#2150b3" stroke-width="1.75" stroke-linecap="round" fill="none"/>
<path d="M261.1 284.6h0M229.5 271.7h0M254.5 286.6h0M235.6 270.9h0M226.5 278.6h0M243.8 271.6h0M258.2 281.7h0M239.5 271.1h0M240.0 306.4h0M231.0 297.6h0M229.7 271.3h0M224.0 288.2h0M238.8 272.1h0M254.8 297.3h0M244.3 305.9h0M225.9 276.4h0M224.4 292.1h0M260.7 289.3h0" stroke="#1c2a8c" stroke-width="1.75" stroke-linecap="round" fill="none"/>
<path d="M245.5 298.2h0M247.0 287.7h0M224.4 289.7h0M253.9 298.3h0M236.6 300.4h0M256.9 290.1h0M239.1 278.2h0M257.5 287.8h0M239.1 284.1h0M256.3 285.8h0M256.6 284.0h0M249.6 295.3h0M245.4 285.6h0M235.1 274.8h0M234.9 287.2h0M243.8 276.4h0M231.1 283.7h0M249.7 285.5h0M242.6 295.2h0M259.1 286.3h0M235.9 300.3h0M223.8 286.2h0M247.5 270.0h0M237.5 290.7h0M246.7 288.2h0M230.1 292.2h0M243.7 272.1h0M242.7 297.1h0M235.9 299.9h0M235.2 287.3h0M245.9 281.8h0M246.1 284.3h0M238.3 303.9h0M251.3 282.1h0M226.9 291.4h0" stroke="#ccdc40" stroke-width="1.75" stroke-linecap="round" fill="none"/>
<path d="M235.0 293.9h0M244.8 288.7h0M234.0 294.3h0M245.8 294.5h0M234.6 300.5h0M258.4 279.5h0M252.7 297.2h0M250.4 278.2h0M227.9 273.7h0M241.6 272.9h0M246.6 285.8h0M228.8 282.6h0M238.0 293.8h0M240.8 306.9h0M244.8 292.0h0M226.3 286.8h0M243.3 274.4h0M246.8 291.5h0M254.9 277.6h0M244.3 294.6h0M252.9 290.3h0M247.3 286.2h0M248.4 293.1h0M228.5 288.5h0M229.0 287.7h0M246.6 270.7h0M256.4 292.3h0M244.7 286.1h0M240.1 279.8h0M226.2 286.0h0M236.2 288.1h0M250.4 281.7h0M258.9 286.3h0M254.5 285.4h0M249.4 278.9h0M243.9 291.8h0M240.5 274.5h0M242.3 287.6h0M262.1 288.5h0" stroke="#f6ae23" stroke-width="1.75" stroke-linecap="round" fill="none"/>
<path d="M236.3 288.4h0M228.4 276.3h0M242.9 268.4h0M254.2 279.1h0M251.3 292.2h0M244.3 276.4h0M247.6 288.2h0M238.8 291.0h0M238.5 280.9h0M236.6 272.7h0M244.3 272.0h0M232.2 274.7h0M231.2 281.0h0M239.4 277.3h0M254.9 281.9h0M244.6 291.1h0M253.8 290.7h0M233.3 279.0h0M226.5 294.1h0" stroke="#e3561b" stroke-width="1.75" stroke-linecap="round" fill="none"/>
<path d="M253.5 280.2h0M241.4 288.7h0M247.1 288.1h0M232.9 279.3h0M246.3 274.8h0M231.4 295.1h0M236.6 290.9h0M249.6 285.1h0M232.2 275.2h0M255.9 282.4h0M243.0 303.9h0M252.2 297.8h0M245.6 280.2h0M232.4 291.1h0M252.5 286.1h0M241.0 294.3h0M239.0 298.9h0M238.6 293.8h0M241.2 281.6h0M255.1 294.1h0M253.4 288.3h0M234.1 279.5h0M234.4 303.3h0M230.8 280.4h0M242.4 277.6h0M228.9 289.0h0M252.4 282.5h0M237.4 291.9h0M231.9 278.9h0M258.5 290.4h0M232.9 277.3h0M224.4 288.8h0M244.6 276.1h0M248.2 293.1h0M249.1 278.1h0M240.8 301.7h0M251.8 279.3h0" stroke="#f5cb28" stroke-width="1.75" stroke-linecap="round" fill="none"/>
<path d="M254.4 280.0h0M239.3 292.9h0M232.4 296.1h0M232.2 304.6h0M241.0 287.6h0M253.3 279.4h0M238.8 281.9h0M240.4 281.7h0M262.1 292.3h0" stroke="#9c1214" stroke-width="1.75" stroke-linecap="round" fill="none"/>
<path d="M241.2 282.2h0M245.0 290.0h0" stroke="#52a9d6" stroke-width="1.75" stroke-linecap="round" fill="none"/>
<path d="M259.8 281.3h0M259.2 279.2h0M237.4 302.2h0M240.5 286.6h0M225.9 283.6h0M236.9 296.2h0M228.1 284.3h0M256.3 287.1h0M236.1 293.5h0M232.3 299.4h0M235.6 280.4h0M239.7 287.6h0M239.2 291.2h0M229.4 292.5h0M225.9 289.5h0M249.6 281.8h0M229.6 289.4h0M242.0 298.6h0M235.4 283.5h0M254.6 297.4h0M261.1 289.1h0" stroke="#ee841f" stroke-width="1.75" stroke-linecap="round" fill="none"/>
<path d="M252.2 288.1h0M257.0 276.7h0M255.2 283.9h0M253.8 289.2h0M251.1 299.2h0M233.7 285.5h0M236.3 286.6h0M238.3 289.6h0M232.2 288.5h0M229.9 279.8h0M237.9 289.7h0M234.4 283.9h0M225.9 294.0h0M251.2 282.7h0M236.4 303.8h0M230.2 298.0h0M242.7 277.0h0" stroke="#abd65a" stroke-width="1.75" stroke-linecap="round" fill="none"/>
<path d="M240.0 291.2h0M245.7 296.2h0M246.0 271.8h0M237.0 290.3h0M239.9 297.0h0M227.2 277.9h0M235.7 280.3h0M237.5 306.8h0" stroke="#87cc92" stroke-width="1.75" stroke-linecap="round" fill="none"/>
<path d="M236.3 269.3h0M240.4 307.7h0M252.9 276.3h0M229.9 294.1h0M238.4 269.0h0M232.6 287.6h0M247.9 303.6h0M236.5 302.9h0M244.7 273.3h0M259.3 281.0h0M234.3 271.1h0M245.5 296.5h0M258.2 279.1h0M235.2 305.3h0M232.8 304.0h0M238.1 306.9h0M233.0 270.4h0M234.3 269.4h0M228.3 277.9h0M249.0 299.7h0M256.5 279.6h0M226.2 295.2h0M249.2 300.2h0M253.5 298.2h0M228.1 276.6h0M246.0 301.7h0M238.1 271.0h0M224.1 283.3h0M239.2 269.6h0M243.6 283.3h0M227.8 300.9h0M237.5 306.4h0M257.5 280.2h0M231.8 291.1h0M226.4 292.6h0M227.0 281.1h0M259.3 288.0h0" stroke="#1f3da0" stroke-width="1.75" stroke-linecap="round" fill="none"/>
<path d="M236.3 273.1h0M230.9 301.2h0M245.5 286.3h0M243.1 301.7h0M244.5 291.3h0M228.2 291.8h0M262.9 288.1h0" stroke="#c33217" stroke-width="1.75" stroke-linecap="round" fill="none"/>
<path d="M242.6 274.5h0" stroke="#67bfc1" stroke-width="1.75" stroke-linecap="round" fill="none"/>
<path d="M242.2 289.9h0M228.1 291.7h0M236.5 280.3h0M232.1 270.8h0M242.7 276.9h0M244.3 271.8h0M232.7 269.8h0M236.9 305.1h0M248.1 270.3h0M258.3 291.0h0M247.2 273.7h0M237.9 284.4h0M239.3 298.4h0M242.2 280.1h0M228.2 285.8h0M236.6 279.9h0M236.4 277.3h0M243.5 286.7h0M258.6 281.7h0M236.3 281.2h0M231.8 298.0h0M249.5 299.1h0M237.3 279.8h0M238.7 300.3h0M243.3 273.5h0M227.9 281.0h0M229.8 280.9h0M252.9 275.9h0M249.0 281.9h0M240.6 295.4h0M235.0 279.9h0M240.8 294.4h0M237.4 293.9h0M243.3 275.6h0M257.8 288.1h0M249.4 285.2h0M238.9 287.3h0M235.0 304.3h0M250.4 298.1h0M254.3 286.6h0M231.5 290.1h0M225.9 277.5h0" stroke="#ece130" stroke-width="1.75" stroke-linecap="round" fill="none"/>
<path d="M226.9 275.5h0M257.8 282.2h0M237.1 300.5h0M229.8 287.9h0M238.4 290.2h0M251.5 286.0h0M235.0 301.1h0M252.1 284.2h0M259.8 287.4h0" stroke="#abd65a" stroke-width="1.75" stroke-linecap="round" fill="none"/>
<path d="M242.4 289.8h0" stroke="#408ed7" stroke-width="1.75" stroke-linecap="round" fill="none"/>
<path d="M238.6 295.8h0M257.8 290.5h0M244.9 294.4h0M228.5 283.8h0M250.0 301.4h0M251.1 286.6h0M226.6 279.5h0M227.8 278.7h0M243.7 287.2h0M226.2 290.8h0M247.4 295.8h0M237.4 303.6h0M234.8 281.0h0M229.8 292.7h0M241.7 284.4h0M234.8 283.7h0M250.1 278.1h0M232.9 300.9h0M249.2 302.3h0M234.7 283.6h0M246.3 296.7h0M245.8 289.4h0M240.6 289.3h0M234.2 275.0h0M251.8 288.1h0M231.5 298.1h0M240.0 295.1h0M246.7 295.6h0M232.0 291.6h0M232.6 278.5h0M240.9 302.1h0M237.9 292.6h0M233.2 300.0h0M247.1 293.3h0M249.6 278.3h0M260.6 283.8h0M247.6 274.0h0M254.1 286.2h0" stroke="#ccdc40" stroke-width="1.75" stroke-linecap="round" fill="none"/>
<path d="M242.7 291.1h0M246.0 276.6h0M234.9 280.0h0M243.4 304.2h0M234.0 296.1h0M243.0 302.6h0" stroke="#87cc92" stroke-width="1.75" stroke-linecap="round" fill="none"/>
<path d="M245.7 275.9h0M241.2 287.0h0M231.4 275.3h0" stroke="#67bfc1" stroke-width="1.75" stroke-linecap="round" fill="none"/>
<path d="M258.2 283.8h0" stroke="#52a9d6" stroke-width="1.75" stroke-linecap="round" fill="none"/>
<path d="M249.8 278.1h0M234.8 287.0h0M232.8 304.4h0M239.5 292.4h0M243.2 305.9h0M242.0 286.3h0M239.7 299.4h0M235.7 280.4h0M259.3 282.6h0M254.9 276.5h0M237.7 274.4h0M250.7 296.1h0M253.3 294.4h0M229.4 277.3h0M234.9 281.3h0M233.8 291.4h0M238.5 275.3h0M237.8 285.3h0M246.6 286.4h0M236.3 288.7h0M245.5 275.0h0M238.8 298.6h0M260.0 281.5h0M236.1 290.4h0M233.3 304.6h0M231.7 291.0h0M225.9 297.2h0M235.2 274.6h0M243.8 271.0h0M243.6 277.7h0M245.1 273.6h0M251.0 284.3h0M258.7 294.3h0M240.9 296.3h0M258.8 288.6h0M241.1 303.0h0M248.2 300.9h0M243.4 279.8h0" stroke="#f5cb28" stroke-width="1.75" stroke-linecap="round" fill="none"/>
<path d="M249.4 295.8h0M258.1 281.6h0M253.6 279.5h0M232.7 292.8h0M239.0 288.4h0M239.5 300.6h0M225.7 283.4h0M238.5 299.9h0M236.0 273.8h0M246.6 299.7h0M241.4 299.6h0M244.3 283.9h0M244.6 294.0h0M247.7 278.8h0M239.8 277.4h0M248.8 291.3h0M257.4 285.4h0M255.4 275.9h0M241.0 271.6h0M241.6 298.0h0M232.3 282.6h0M255.4 285.8h0M253.2 284.0h0M237.7 295.6h0M237.8 297.7h0M237.9 286.9h0M241.4 303.2h0M238.4 295.0h0M237.9 300.4h0M232.7 273.6h0M238.3 295.8h0M254.6 290.5h0M246.0 281.5h0M246.8 283.7h0" stroke="#f6ae23" stroke-width="1.75" stroke-linecap="round" fill="none"/>
<path d="M233.6 275.2h0M228.9 296.2h0M241.4 291.7h0M251.1 287.7h0M253.3 282.5h0M239.6 278.5h0M246.8 299.2h0M233.9 294.4h0M254.4 293.0h0M258.9 286.3h0M238.0 281.8h0M228.1 287.5h0M224.2 288.7h0M251.7 281.2h0M259.2 284.0h0M231.1 286.7h0" stroke="#e3561b" stroke-width="1.75" stroke-linecap="round" fill="none"/>
<path d="M233.6 300.8h0" stroke="#9c1214" stroke-width="1.75" stroke-linecap="round" fill="none"/>
<path d="M234.9 303.9h0M251.7 271.5h0M233.8 269.8h0M246.2 271.1h0M246.1 298.4h0M226.8 298.6h0M234.7 305.4h0M244.7 272.4h0M259.6 280.0h0M258.6 279.2h0M238.2 271.4h0M254.6 298.5h0M225.0 288.7h0M249.7 271.3h0M259.3 282.8h0M228.6 287.6h0M224.4 294.0h0M255.1 275.9h0M254.1 279.6h0M229.2 302.4h0M254.9 277.6h0" stroke="#1c2a8c" stroke-width="1.75" stroke-linecap="round" fill="none"/>
<path d="M230.5 288.0h0M229.5 281.7h0M257.5 281.4h0M262.4 289.5h0M254.6 273.0h0" stroke="#c33217" stroke-width="1.75" stroke-linecap="round" fill="none"/>
<path d="M232.2 273.4h0M228.7 301.5h0M239.2 304.7h0M250.0 272.1h0M224.1 291.7h0M238.7 306.7h0M228.4 285.9h0M254.5 282.3h0M257.6 292.9h0M227.5 299.0h0M232.6 277.0h0M230.5 271.4h0M252.1 299.8h0M240.5 269.1h0M244.3 305.2h0M244.8 269.7h0M249.6 300.0h0M228.2 299.4h0M250.4 298.0h0M228.3 278.9h0M258.3 288.9h0M257.6 279.4h0M253.4 275.1h0M226.8 275.0h0M232.9 301.6h0M232.7 285.7h0M224.2 286.9h0M254.5 287.6h0M234.4 302.0h0M252.0 275.4h0M255.7 280.8h0M225.9 298.3h0M247.0 293.9h0M225.6 292.1h0M224.3 282.7h0M257.5 280.4h0M247.4 272.7h0M254.8 292.8h0M250.9 271.9h0M231.9 268.7h0M226.3 280.6h0" stroke="#1f3da0" stroke-width="1.75" stroke-linecap="round" fill="none"/>
<path d="M252.0 286.5h0M244.5 291.5h0M233.0 299.1h0M254.9 289.8h0M240.5 300.9h0M246.9 278.6h0M226.4 281.8h0M241.7 305.3h0M239.8 270.6h0M236.7 286.2h0M238.8 297.2h0M250.4 294.2h0M245.0 292.1h0M227.1 275.9h0M251.9 271.8h0M236.5 270.6h0M234.9 283.3h0M239.7 283.4h0M250.3 302.7h0M242.4 305.1h0M245.3 298.8h0M247.7 293.8h0M232.6 280.4h0M227.2 275.9h0M237.5 272.4h0" stroke="#ee841f" stroke-width="1.75" stroke-linecap="round" fill="none"/>
<path d="M228.5 290.6h0M247.1 302.4h0M256.6 292.0h0M245.5 303.0h0M230.7 287.9h0M255.0 286.3h0M228.0 278.1h0M253.7 274.4h0M231.3 270.9h0M226.8 274.0h0M232.0 303.7h0" stroke="#2150b3" stroke-width="1.75" stroke-linecap="round" fill="none"/>
<path d="M247.6 299.3h0M246.8 286.1h0M247.7 288.7h0M233.4 291.6h0M237.1 287.5h0M237.8 277.6h0M234.3 276.9h0M232.9 289.7h0M246.0 290.1h0M254.5 286.4h0M235.8 291.4h0M244.4 298.2h0M230.3 282.9h0M239.3 295.0h0M251.6 292.7h0M241.8 302.4h0M254.4 278.6h0M246.6 299.5h0M248.2 295.4h0M242.8 282.2h0M246.4 280.6h0M246.6 305.6h0M236.3 283.9h0M233.4 291.8h0M243.9 303.9h0M243.4 295.7h0M245.5 294.2h0M247.9 276.0h0M243.1 292.5h0M235.4 297.3h0M243.0 307.5h0M240.6 292.3h0" stroke="#ece130" stroke-width="1.75" stroke-linecap="round" fill="none"/>
<path d="M246.5 294.7h0M236.4 298.1h0M230.8 276.0h0M246.2 275.2h0M256.8 281.3h0M238.8 297.9h0M229.6 278.5h0M233.0 279.8h0M229.3 275.9h0M230.6 300.7h0M242.0 290.0h0M224.6 286.9h0M226.0 295.9h0M252.4 275.8h0M258.0 289.0h0M248.1 298.0h0M243.3 307.7h0M251.1 287.9h0M241.4 280.5h0" stroke="#ee841f" stroke-width="1.75" stroke-linecap="round" fill="none"/>
<path d="M246.7 283.7h0M233.5 290.8h0M240.4 297.3h0M225.1 293.1h0M240.1 276.6h0M231.3 278.2h0M244.1 304.0h0M226.4 288.9h0M250.0 286.4h0M233.8 300.0h0M259.1 286.8h0M235.1 280.6h0M254.3 295.0h0M227.3 298.3h0M231.9 270.5h0M250.0 279.3h0M228.4 289.7h0M258.5 287.7h0M237.7 272.8h0M259.3 289.8h0M232.2 299.9h0M232.0 298.8h0M235.7 270.7h0M258.4 293.8h0M227.7 290.2h0M259.3 282.5h0M248.5 290.7h0M226.9 295.5h0M259.6 284.9h0M244.5 301.0h0M253.3 285.6h0M245.4 282.8h0M251.0 298.4h0M252.5 299.1h0M250.2 295.5h0M234.0 276.7h0M232.5 295.9h0M235.2 300.8h0M244.3 285.3h0M246.4 285.1h0" stroke="#ccdc40" stroke-width="1.75" stroke-linecap="round" fill="none"/>
<path d="M237.9 298.3h0" stroke="#408ed7" stroke-width="1.75" stroke-linecap="round" fill="none"/>
<path d="M254.4 288.6h0M247.8 277.6h0M233.7 270.6h0M243.8 270.2h0M230.1 300.4h0M248.2 294.4h0M229.9 273.2h0M252.5 299.1h0M232.9 273.4h0M232.7 271.3h0" stroke="#2150b3" stroke-width="1.75" stroke-linecap="round" fill="none"/>
<path d="M226.1 296.8h0M232.1 296.6h0M232.5 303.1h0M239.5 300.2h0M244.6 297.0h0" stroke="#87cc92" stroke-width="1.75" stroke-linecap="round" fill="none"/>
<path d="M240.8 271.2h0M238.7 271.3h0M236.4 304.4h0M257.4 282.1h0M228.8 292.6h0M242.9 308.4h0M224.7 280.6h0M247.1 271.3h0M226.9 274.3h0M239.3 271.0h0M226.9 300.1h0M226.5 275.9h0M246.9 298.2h0M238.7 301.7h0M237.3 306.6h0M254.8 274.3h0M238.8 300.5h0M233.3 270.0h0M244.8 268.2h0M223.7 285.4h0M254.8 275.9h0M226.9 290.7h0M230.5 303.3h0M253.5 273.3h0M253.3 283.0h0M249.1 271.2h0M238.6 265.7h0M250.1 268.4h0M253.8 271.7h0M256.1 273.1h0M225.2 281.0h0" stroke="#1f3da0" stroke-width="1.75" stroke-linecap="round" fill="none"/>
<path d="M250.0 298.3h0M245.1 273.9h0M242.3 274.0h0M258.6 281.1h0M255.4 284.3h0M234.2 298.4h0M225.3 288.8h0M244.8 300.1h0M250.5 301.1h0M245.7 280.7h0M250.2 289.7h0M237.6 289.5h0M250.3 291.3h0M236.9 293.6h0M235.6 276.2h0M227.3 295.7h0M263.0 287.5h0" stroke="#e3561b" stroke-width="1.75" stroke-linecap="round" fill="none"/>
<path d="M254.0 284.3h0M224.9 289.5h0M225.1 288.4h0M230.0 295.3h0M226.4 288.2h0M256.4 278.9h0M236.9 270.6h0M251.8 299.1h0M228.0 278.6h0M246.6 268.6h0M250.8 300.7h0M248.9 277.7h0M239.2 269.6h0M234.3 304.3h0M232.5 272.2h0M250.1 276.7h0M224.9 287.5h0M243.1 275.4h0M253.2 274.8h0M244.8 267.0h0" stroke="#1c2a8c" stroke-width="1.75" stroke-linecap="round" fill="none"/>
<path d="M250.2 280.8h0M233.3 281.8h0M243.1 282.7h0" stroke="#9c1214" stroke-width="1.75" stroke-linecap="round" fill="none"/>
<path d="M231.4 300.3h0M227.5 300.7h0M248.2 293.3h0M235.8 278.2h0M242.7 299.9h0M235.0 276.7h0M244.3 274.5h0M253.3 276.3h0M252.9 293.1h0M253.7 293.4h0M249.1 294.3h0M237.6 290.5h0M247.3 275.5h0M254.2 283.8h0M230.8 292.2h0M235.9 286.9h0M235.1 274.1h0M225.4 296.1h0M230.6 278.3h0M249.2 284.3h0M235.5 291.9h0M232.6 282.9h0M256.3 282.4h0M240.0 306.8h0M252.1 289.3h0M233.9 291.0h0M227.6 283.8h0M237.6 285.6h0M236.6 271.7h0M242.6 283.4h0M243.6 274.2h0M240.1 281.5h0M254.9 286.0h0M242.7 292.0h0M246.2 269.3h0M247.6 300.3h0M256.7 296.2h0M260.1 285.9h0M224.5 283.1h0M257.9 288.8h0M243.9 277.0h0M241.5 281.8h0M243.8 297.2h0" stroke="#f5cb28" stroke-width="1.75" stroke-linecap="round" fill="none"/>
<path d="M233.2 298.8h0M243.3 298.3h0M241.5 280.8h0M235.3 276.2h0M253.8 289.9h0M245.1 286.7h0M250.5 298.2h0M245.0 287.6h0M225.6 294.0h0M237.5 281.0h0M254.5 285.4h0M227.8 276.2h0M248.3 281.7h0M227.6 276.7h0M243.1 291.9h0M231.6 281.0h0M251.7 274.6h0M242.2 297.2h0M228.1 281.3h0M244.0 298.8h0M240.6 286.2h0M245.8 283.5h0M241.1 295.0h0M226.9 297.8h0M239.1 299.4h0M242.2 277.6h0M239.5 276.6h0M248.5 285.1h0M240.3 288.4h0M238.0 285.5h0M231.9 283.2h0M244.6 281.5h0M239.6 289.9h0M248.5 291.7h0M246.7 277.4h0M234.3 303.2h0M238.7 292.8h0" stroke="#ece130" stroke-width="1.75" stroke-linecap="round" fill="none"/>
<path d="M229.5 281.2h0M247.6 275.1h0M235.2 279.1h0M235.9 278.9h0M255.7 286.1h0M254.5 294.8h0M245.0 292.6h0M247.5 285.6h0M241.8 305.0h0M249.3 296.2h0M239.4 270.9h0M249.5 279.5h0M233.4 288.5h0M255.4 283.8h0M244.6 272.1h0M239.8 294.3h0M257.6 282.5h0M253.3 294.1h0M243.3 280.3h0M235.9 298.3h0M247.9 282.1h0M237.4 280.2h0M228.3 286.5h0M238.5 291.9h0M249.6 296.6h0M252.3 280.1h0M237.8 278.0h0M236.2 299.3h0M245.9 281.4h0M227.3 288.4h0M252.9 290.5h0M233.8 284.1h0M244.4 301.7h0M251.7 281.2h0M253.6 281.4h0M252.3 294.0h0M252.9 285.3h0M254.1 292.1h0M243.7 276.9h0M244.2 282.3h0M231.8 277.7h0M240.5 291.1h0M251.9 280.6h0" stroke="#f6ae23" stroke-width="1.75" stroke-linecap="round" fill="none"/>
<path d="M230.6 290.8h0M248.6 282.7h0M236.9 287.5h0M238.1 283.5h0M247.2 282.6h0M241.2 276.7h0M230.7 272.2h0M250.5 286.9h0M240.7 291.2h0M235.8 298.3h0M249.7 302.2h0M247.1 289.4h0M250.6 290.0h0M231.5 275.5h0M228.4 290.9h0M245.8 293.3h0" stroke="#abd65a" stroke-width="1.75" stroke-linecap="round" fill="none"/>
<path d="M246.4 270.5h0" stroke="#52a9d6" stroke-width="1.75" stroke-linecap="round" fill="none"/>
<path d="M242.1 281.6h0M239.3 303.6h0M249.3 275.3h0M248.6 300.1h0M262.1 289.4h0" stroke="#c33217" stroke-width="1.75" stroke-linecap="round" fill="none"/>
<path d="M246.8 269.4h0M230.7 275.9h0M256.1 284.9h0M225.2 281.2h0M240.6 281.8h0M239.6 303.6h0M248.5 286.9h0M237.2 280.1h0M242.6 291.9h0M230.0 300.0h0M243.3 288.4h0M254.3 289.2h0M239.0 293.5h0M243.2 274.1h0M244.6 276.4h0M250.4 283.8h0M238.3 298.6h0M249.7 302.3h0M253.8 297.9h0M256.0 278.8h0M246.9 305.3h0M239.9 297.7h0M229.2 295.4h0M261.8 287.8h0" stroke="#ee841f" stroke-width="1.75" stroke-linecap="round" fill="none"/>
<path d="M236.4 299.2h0M244.9 274.9h0M227.3 293.6h0M236.6 269.5h0M234.6 287.2h0M236.9 283.0h0M228.9 285.0h0M236.8 283.5h0M257.7 293.6h0M246.1 294.2h0M236.5 286.5h0M240.4 290.8h0M229.5 294.6h0M253.5 283.6h0M234.2 274.0h0M249.8 289.0h0M251.4 284.6h0M233.1 297.2h0M248.2 275.2h0M242.4 302.4h0M236.6 278.2h0M243.4 293.3h0M231.1 288.8h0M235.0 299.9h0M240.9 280.2h0M224.9 288.7h0M237.3 289.3h0M250.4 291.6h0M254.2 289.4h0M231.9 274.2h0M236.2 283.0h0M254.8 284.4h0M245.2 293.7h0M238.0 293.5h0M259.2 284.2h0M240.6 293.9h0M237.2 295.0h0M244.7 300.7h0M231.7 277.0h0M243.1 290.9h0M236.8 291.8h0M235.6 300.9h0M237.2 288.0h0M238.4 302.0h0M247.7 291.8h0M241.5 278.4h0M245.3 273.6h0M248.3 279.4h0M246.6 291.1h0" stroke="#ece130" stroke-width="1.75" stroke-linecap="round" fill="none"/>
<path d="M242.7 280.0h0M245.1 269.5h0M249.0 289.9h0M242.6 298.4h0M237.7 278.8h0M229.7 300.4h0M231.9 274.8h0M258.1 290.3h0M243.1 292.1h0M246.9 281.7h0M231.3 291.4h0M228.3 276.8h0" stroke="#c33217" stroke-width="1.75" stroke-linecap="round" fill="none"/>
<path d="M233.7 301.8h0M233.6 302.3h0M230.5 293.6h0M258.5 294.4h0M247.4 286.7h0M232.7 285.4h0M245.8 269.2h0M237.5 288.6h0M238.3 291.0h0M243.6 271.2h0M242.6 282.2h0M233.1 275.9h0M247.0 296.3h0M240.7 276.9h0M235.3 281.9h0M230.5 293.0h0M244.8 305.3h0M229.2 279.2h0M242.5 286.5h0M238.2 269.9h0M246.0 300.2h0M240.6 301.7h0M236.7 299.0h0M234.5 272.0h0M235.4 295.9h0M242.8 296.3h0M240.5 284.5h0M250.7 280.7h0" stroke="#ccdc40" stroke-width="1.75" stroke-linecap="round" fill="none"/>
<path d="M253.8 282.5h0" stroke="#52a9d6" stroke-width="1.75" stroke-linecap="round" fill="none"/>
<path d="M244.4 296.5h0M247.8 292.1h0M234.2 284.4h0" stroke="#408ed7" stroke-width="1.75" stroke-linecap="round" fill="none"/>
<path d="M243.5 280.8h0M242.0 302.7h0M225.3 290.3h0M230.2 272.2h0M236.3 304.4h0M240.7 308.6h0M225.0 286.3h0M243.5 308.0h0M242.4 307.2h0M242.0 307.4h0M245.1 306.1h0M224.3 292.1h0M238.1 308.0h0M227.5 285.8h0M241.8 274.6h0M237.2 270.6h0M228.0 279.0h0M254.6 276.2h0M236.7 306.5h0M239.2 306.1h0M237.4 282.3h0M250.6 270.3h0M260.8 285.5h0M224.9 280.2h0M223.7 288.2h0M242.2 288.0h0M247.6 286.8h0M258.4 289.9h0M257.9 291.7h0M237.8 304.0h0M259.5 293.1h0M226.7 299.8h0M236.4 272.8h0M231.0 272.6h0M253.4 283.5h0M248.6 277.8h0M238.7 276.2h0M254.3 296.6h0M225.5 297.3h0M255.5 278.2h0M255.5 274.9h0M232.3 301.5h0M235.0 265.0h0M239.7 266.7h0" stroke="#1f3da0" stroke-width="1.75" stroke-linecap="round" fill="none"/>
<path d="M253.2 294.2h0M236.7 306.7h0M250.5 282.0h0M233.8 302.5h0M235.4 296.9h0M239.0 283.1h0M232.6 279.2h0M249.6 300.5h0M256.4 286.2h0M245.0 272.0h0M250.1 280.8h0M259.9 290.3h0M247.4 286.8h0M239.2 303.9h0M248.4 290.8h0M256.3 290.0h0M251.8 279.2h0M239.4 293.3h0M232.5 276.1h0M253.5 288.6h0M246.7 292.1h0M240.9 300.7h0M239.6 274.6h0M243.7 270.2h0M242.9 272.5h0M245.4 275.1h0M249.7 279.6h0M260.0 281.5h0M259.2 292.0h0M243.7 284.3h0M246.7 295.0h0M231.8 283.2h0M251.9 271.6h0M235.9 275.7h0M236.5 280.9h0M248.7 282.0h0M245.2 290.7h0M247.2 288.3h0M234.7 278.6h0M230.2 280.9h0M237.3 274.2h0M237.9 287.7h0M243.5 290.4h0M248.9 284.7h0M233.6 301.3h0" stroke="#f6ae23" stroke-width="1.75" stroke-linecap="round" fill="none"/>
<path d="M226.0 292.8h0M241.0 306.0h0M242.8 306.1h0M248.4 302.2h0M246.9 298.2h0M246.4 289.7h0M224.7 281.4h0M253.0 287.2h0M232.4 302.1h0M226.2 297.0h0M241.5 270.8h0M259.6 283.7h0M245.0 302.5h0M237.5 298.0h0M248.7 289.7h0M226.8 282.2h0M244.2 304.0h0M248.0 288.8h0M240.4 306.2h0M250.7 288.0h0M249.3 290.3h0M238.0 297.7h0M236.1 295.9h0M235.0 273.9h0M235.5 301.9h0M236.2 298.2h0M240.4 284.1h0M250.4 290.5h0M230.1 296.4h0M259.0 280.9h0M231.7 284.2h0M234.7 286.2h0M239.0 275.0h0M233.2 292.0h0M247.1 301.7h0M256.9 277.2h0M250.7 290.0h0M246.6 283.6h0M240.6 290.5h0M234.7 301.4h0M248.2 296.0h0M257.7 285.0h0" stroke="#f5cb28" stroke-width="1.75" stroke-linecap="round" fill="none"/>
<path d="M226.4 298.9h0M245.1 273.6h0M229.3 281.5h0M234.0 271.3h0M235.8 306.1h0M233.9 304.9h0M241.0 308.0h0" stroke="#2150b3" stroke-width="1.75" stroke-linecap="round" fill="none"/>
<path d="M246.2 281.1h0M228.0 299.7h0" stroke="#67bfc1" stroke-width="1.75" stroke-linecap="round" fill="none"/>
<path d="M231.4 294.0h0M237.3 276.0h0M233.8 280.3h0M231.9 285.1h0M242.0 285.8h0M247.7 279.2h0M251.7 279.1h0M245.4 290.9h0M250.9 290.7h0M231.9 283.5h0M241.6 293.8h0M244.5 269.1h0M226.8 294.2h0M234.8 295.1h0M239.7 273.7h0M241.0 292.6h0M233.7 290.9h0M250.6 292.6h0M241.4 297.2h0M234.4 278.6h0M227.0 298.0h0" stroke="#abd65a" stroke-width="1.75" stroke-linecap="round" fill="none"/>
<path d="M252.0 280.1h0M253.7 276.2h0M245.6 281.9h0M240.2 300.6h0M246.3 277.4h0M251.5 275.0h0M252.9 295.9h0M236.0 283.8h0M254.7 296.4h0M234.6 278.1h0M243.0 271.6h0M238.9 284.8h0M239.1 289.5h0M238.3 270.1h0M263.4 289.3h0M260.7 289.2h0M262.8 288.3h0" stroke="#e3561b" stroke-width="1.75" stroke-linecap="round" fill="none"/>
<path d="M238.0 269.0h0M252.2 275.4h0M227.4 295.8h0M246.5 303.1h0M230.0 271.6h0M260.7 291.0h0M244.6 270.5h0M239.0 273.6h0M241.1 302.5h0M229.1 300.9h0M227.5 281.1h0M235.2 274.0h0M245.3 268.8h0M254.2 276.2h0M254.3 273.6h0M258.2 295.1h0M246.8 304.5h0M229.8 303.2h0M258.0 276.1h0" stroke="#1c2a8c" stroke-width="1.75" stroke-linecap="round" fill="none"/>
<path d="M230.1 295.2h0M249.0 273.4h0M245.7 281.9h0" stroke="#9c1214" stroke-width="1.75" stroke-linecap="round" fill="none"/>
<path d="M239.3 303.2h0M249.3 292.7h0M248.9 292.6h0M235.3 287.0h0M225.2 288.0h0M231.0 297.6h0M235.1 286.5h0" stroke="#87cc92" stroke-width="1.75" stroke-linecap="round" fill="none"/>
<path d="M246.9 273.0h0M232.9 294.4h0M244.6 274.7h0M242.6 295.6h0M239.4 297.3h0M229.9 297.7h0M231.0 297.9h0M231.2 293.0h0M242.5 295.1h0M260.4 288.0h0M241.4 283.9h0M245.2 279.0h0M242.8 295.2h0M230.0 289.0h0M240.1 289.9h0M260.3 284.7h0M232.2 280.3h0M237.1 276.6h0M235.8 286.4h0" stroke="#abd65a" stroke-width="1.75" stroke-linecap="round" fill="none"/>
<path d="M240.2 276.8h0" stroke="#52a9d6" stroke-width="1.75" stroke-linecap="round" fill="none"/>
<path d="M249.0 272.7h0M237.6 268.7h0M236.5 303.1h0M256.4 288.6h0M245.4 301.8h0M233.0 287.4h0M245.8 272.6h0M238.8 283.2h0M250.7 284.6h0M242.4 268.3h0M236.8 293.7h0M233.0 297.1h0M246.2 299.9h0M248.2 287.8h0M235.5 302.7h0M230.5 288.7h0M247.9 301.4h0" stroke="#ccdc40" stroke-width="1.75" stroke-linecap="round" fill="none"/>
<path d="M238.3 296.8h0M233.8 273.6h0M236.2 273.1h0M244.0 273.2h0M250.1 284.2h0M235.6 281.7h0M241.7 294.1h0M238.1 285.8h0M241.7 286.5h0M249.8 286.5h0M240.0 302.6h0M246.0 292.7h0M252.6 299.3h0M248.5 274.2h0M227.7 299.8h0M231.0 277.9h0M232.7 284.6h0M229.7 284.8h0M258.0 279.6h0M241.6 304.9h0M252.7 289.3h0M246.6 298.1h0M252.2 291.1h0M240.7 300.5h0M232.3 292.7h0M245.2 278.7h0M250.1 303.1h0M244.6 288.5h0M237.1 293.5h0M244.3 295.5h0M238.5 279.6h0M235.7 277.4h0M242.7 285.8h0M243.7 282.5h0M245.6 285.3h0M261.4 288.5h0" stroke="#f5cb28" stroke-width="1.75" stroke-linecap="round" fill="none"/>
<path d="M241.5 300.8h0M237.4 272.4h0" stroke="#9c1214" stroke-width="1.75" stroke-linecap="round" fill="none"/>
<path d="M255.1 294.5h0M260.2 292.6h0M228.2 298.5h0M237.7 303.7h0M258.7 294.2h0M245.3 273.4h0M227.6 283.1h0" stroke="#2150b3" stroke-width="1.75" stroke-linecap="round" fill="none"/>
<path d="M235.9 274.6h0M237.9 270.9h0M245.8 300.5h0M233.3 282.5h0M249.8 279.3h0M255.0 292.5h0M255.0 276.3h0M228.5 295.2h0M238.7 269.8h0" stroke="#c33217" stroke-width="1.75" stroke-linecap="round" fill="none"/>
<path d="M253.9 285.3h0M241.7 279.4h0M226.9 290.9h0M246.6 289.4h0M253.6 280.4h0M244.4 276.9h0M246.9 282.2h0M256.7 287.4h0M236.5 284.8h0M233.4 295.8h0M232.3 277.3h0M237.6 306.4h0M239.2 282.5h0M238.2 296.9h0M252.2 299.8h0M236.1 277.4h0M249.8 279.9h0M235.9 306.7h0M242.7 286.3h0M240.1 277.1h0M228.1 295.3h0M240.1 288.6h0M256.0 297.2h0M243.2 304.8h0M248.4 269.8h0M252.1 285.2h0M250.1 285.5h0M235.9 274.7h0M256.4 287.8h0M240.2 301.1h0M234.7 269.5h0M244.9 280.2h0M249.6 273.8h0M247.1 292.9h0M239.9 304.6h0M239.1 275.9h0M253.0 269.1h0" stroke="#f6ae23" stroke-width="1.75" stroke-linecap="round" fill="none"/>
<path d="M239.8 278.0h0M224.8 286.2h0M243.0 299.4h0M240.2 301.6h0M227.7 273.4h0M254.0 293.2h0" stroke="#67bfc1" stroke-width="1.75" stroke-linecap="round" fill="none"/>
<path d="M243.8 273.6h0M236.0 277.0h0M246.3 286.4h0M247.0 277.2h0M249.8 297.3h0M231.7 300.4h0M232.1 302.0h0M233.8 285.5h0M252.0 298.7h0M242.4 282.4h0M240.3 274.2h0M230.6 283.2h0M261.8 290.9h0" stroke="#e3561b" stroke-width="1.75" stroke-linecap="round" fill="none"/>
<path d="M253.9 273.1h0M245.1 268.2h0M227.3 296.6h0M245.2 274.7h0M238.5 269.0h0M237.2 268.7h0M256.4 296.9h0M228.2 273.2h0M247.3 272.3h0M240.6 268.0h0M247.9 302.1h0M246.3 291.3h0M259.9 280.5h0M258.5 284.8h0M244.7 271.3h0M228.7 296.3h0M252.0 275.6h0M235.0 306.6h0M254.9 297.1h0M260.5 281.5h0M253.4 273.5h0M252.8 293.6h0M227.9 280.0h0M247.6 270.2h0M238.6 306.3h0M234.8 295.9h0M256.4 287.8h0M243.5 303.5h0M225.3 284.9h0M239.5 294.6h0M225.4 289.8h0M226.2 279.2h0M237.5 273.8h0M227.1 293.9h0M259.1 281.6h0M225.2 278.1h0M258.6 294.7h0M231.4 301.4h0M236.7 303.5h0M253.9 293.1h0M256.0 275.2h0M231.2 278.5h0M231.9 271.3h0M236.7 305.8h0M258.2 281.0h0M231.9 299.2h0M257.8 287.5h0M247.9 293.9h0M241.0 306.2h0M260.9 289.2h0M240.5 309.7h0" stroke="#1f3da0" stroke-width="1.75" stroke-linecap="round" fill="none"/>
<path d="M260.4 292.1h0M243.4 273.7h0M245.1 282.5h0M236.8 294.1h0M236.9 300.2h0M256.2 288.1h0M228.2 285.3h0M245.7 289.1h0M235.4 299.8h0M249.2 277.6h0M253.5 276.5h0M240.4 303.9h0M233.0 280.4h0M236.3 290.7h0M242.7 289.5h0M241.1 297.0h0M238.0 296.9h0M245.8 273.1h0M233.9 300.9h0M232.3 276.2h0M226.9 288.1h0M231.6 302.7h0M253.8 296.1h0M246.0 276.1h0M227.7 290.5h0M259.7 284.2h0M251.0 280.6h0M236.2 299.8h0M239.6 299.1h0M225.8 286.2h0M241.8 307.5h0M252.1 287.5h0M229.0 276.4h0M247.4 272.5h0M248.1 276.3h0M257.8 283.9h0M239.6 275.7h0M246.8 293.2h0" stroke="#ece130" stroke-width="1.75" stroke-linecap="round" fill="none"/>
<path d="M249.7 273.3h0M251.6 279.2h0M238.6 302.4h0M244.7 299.1h0M237.6 285.2h0M254.1 288.0h0M240.7 296.3h0M236.6 293.7h0M257.7 286.8h0M258.0 294.3h0M247.5 298.2h0M242.5 274.9h0M242.3 282.6h0M241.3 295.1h0M246.3 295.4h0M248.8 297.1h0M239.8 294.3h0M252.7 280.7h0M250.1 300.8h0M241.4 276.9h0M261.4 288.2h0" stroke="#ee841f" stroke-width="1.75" stroke-linecap="round" fill="none"/>
<path d="M249.4 274.5h0M252.8 277.2h0M254.6 294.6h0M239.7 303.3h0M257.2 295.2h0M249.1 273.9h0M232.5 269.8h0M247.6 270.5h0M248.4 290.8h0M227.7 276.7h0M259.2 288.9h0M227.9 280.1h0M237.7 289.8h0M227.5 280.8h0M232.8 273.6h0M226.9 284.9h0M239.5 303.9h0M246.6 290.6h0M258.4 292.0h0" stroke="#1c2a8c" stroke-width="1.75" stroke-linecap="round" fill="none"/>
<path d="M252.4 277.5h0M231.6 290.3h0M260.3 286.2h0M251.7 283.6h0M257.3 285.9h0M231.8 301.6h0M245.5 295.2h0M244.4 273.0h0M252.8 299.1h0M238.6 297.8h0M236.0 305.9h0M245.1 295.2h0M248.0 293.8h0M245.2 271.8h0M240.6 302.4h0M231.8 301.8h0" stroke="#87cc92" stroke-width="1.75" stroke-linecap="round" fill="none"/>
<line x1="222.5" y1="265.5" x2="222.5" y2="311.2" stroke="#111" stroke-width="1"/>
<line x1="221.7" y1="310.5" x2="265.8" y2="310.5" stroke="#111" stroke-width="1"/>
<line x1="219.3" y1="273.5" x2="222.2" y2="273.5" stroke="#111" stroke-width="0.9"/>
<text transform="translate(215.9,273.8) rotate(0.1)" x="0" y="1.89" font-size="5.4" text-anchor="end" fill="#222" stroke="#222" stroke-width="0.05">20</text>
<line x1="219.3" y1="287.5" x2="222.2" y2="287.5" stroke="#111" stroke-width="0.9"/>
<text transform="translate(215.9,287.4) rotate(0.1)" x="0" y="1.89" font-size="5.4" text-anchor="end" fill="#222" stroke="#222" stroke-width="0.05">0</text>
<line x1="219.3" y1="300.5" x2="222.2" y2="300.5" stroke="#111" stroke-width="0.9"/>
<text transform="translate(215.9,301) rotate(0.1)" x="0" y="1.89" font-size="5.4" text-anchor="end" fill="#222" stroke="#222" stroke-width="0.05">-20</text>
<line x1="232.5" y1="310.7" x2="232.5" y2="313.5" stroke="#111" stroke-width="0.9"/>
<text transform="translate(232.63,320.3) rotate(0.1)" x="0" y="1.89" font-size="5.4" text-anchor="middle" fill="#222" stroke="#222" stroke-width="0.05">-20</text>
<line x1="243.5" y1="310.7" x2="243.5" y2="313.5" stroke="#111" stroke-width="0.9"/>
<text transform="translate(243.2,320.3) rotate(0.1)" x="0" y="1.89" font-size="5.4" text-anchor="middle" fill="#222" stroke="#222" stroke-width="0.05">0</text>
<line x1="253.5" y1="310.7" x2="253.5" y2="313.5" stroke="#111" stroke-width="0.9"/>
<text transform="translate(253.77,320.3) rotate(0.1)" x="0" y="1.89" font-size="5.4" text-anchor="middle" fill="#222" stroke="#222" stroke-width="0.05">20</text>
<line x1="264.5" y1="310.7" x2="264.5" y2="313.5" stroke="#111" stroke-width="0.9"/>
<text transform="translate(264.34,320.3) rotate(0.1)" x="0" y="1.89" font-size="5.4" text-anchor="middle" fill="#222" stroke="#222" stroke-width="0.05">40</text>
<text transform="translate(244,330.7) rotate(0.1) scale(0.72,1)" x="0" y="2.97" font-size="8.5" text-anchor="middle" fill="#222" stroke="#222" stroke-width="0.12">tSNE_1</text>
<text transform="translate(199.8,288.1) rotate(-90) scale(0.72,1)" x="0" y="2.97" font-size="8.5" text-anchor="middle" fill="#222" stroke="#222" stroke-width="0.12">tSNE_2</text>
<text transform="translate(244.2,257.3) rotate(0.1)" x="0" y="3.04" font-size="8.7" text-anchor="middle" fill="#222" stroke="#222" stroke-width="0.12" font-style="italic">SH3GLB1</text>
<text transform="translate(272.7,270.3) rotate(0.1) scale(0.93,1)" x="0" y="1.89" font-size="5.4" text-anchor="middle" fill="#333" stroke="#333" stroke-width="0.05">Expression</text>
<text transform="translate(272.7,275.6) rotate(0.1) scale(0.93,1)" x="0" y="1.89" font-size="5.4" text-anchor="middle" fill="#333" stroke="#333" stroke-width="0.05">(log)</text>
<rect x="266.4" y="283.8" width="4.5" height="21.9" fill="url(#gD)" stroke="none" stroke-width="1"/>
<text transform="translate(273.8,286.8) rotate(0.1)" x="0" y="1.92" font-size="5.5" text-anchor="start" fill="#222" stroke="#222" stroke-width="0.05">3</text>
<text transform="translate(273.8,293) rotate(0.1)" x="0" y="1.92" font-size="5.5" text-anchor="start" fill="#222" stroke="#222" stroke-width="0.05">2</text>
<text transform="translate(273.8,299.2) rotate(0.1)" x="0" y="1.92" font-size="5.5" text-anchor="start" fill="#222" stroke="#222" stroke-width="0.05">1</text>
<text transform="translate(273.8,305) rotate(0.1)" x="0" y="1.92" font-size="5.5" text-anchor="start" fill="#222" stroke="#222" stroke-width="0.05">0</text>
<path d="M347.7 291.5h0M355.8 277.6h0M347.2 295.4h0" stroke="#ee841f" stroke-width="1.75" stroke-linecap="round" fill="none"/>
<path d="M326.9 292.8h0M332.3 300.3h0M354.8 273.1h0M337.2 269.3h0M328.3 295.8h0M334.7 273.6h0M356.1 283.9h0M328.2 293.6h0M352.6 271.5h0M342.6 279.4h0M331.8 301.2h0M343.0 281.6h0M353.8 276.3h0M328.7 276.2h0M353.3 277.5h0M358.1 295.2h0M347.1 271.1h0M327.7 298.6h0M354.5 280.4h0M328.8 273.7h0M345.9 272.0h0M325.2 292.1h0M327.3 288.2h0M339.0 308.0h0M328.4 299.0h0M356.8 282.4h0M327.2 286.8h0M332.0 288.8h0M348.6 279.2h0M358.2 285.9h0M337.6 306.5h0M352.4 275.0h0M351.6 296.1h0M353.1 299.8h0M354.2 294.4h0M339.0 306.9h0M330.9 300.0h0M325.1 288.7h0M352.7 299.1h0M328.9 278.6h0M352.8 271.8h0M327.7 282.2h0M338.8 298.3h0M333.8 300.9h0M338.2 306.6h0M344.6 272.1h0M336.2 281.9h0M360.1 292.0h0M336.6 270.7h0M341.1 276.8h0M339.2 298.6h0M335.1 275.0h0M337.1 299.8h0M327.8 295.5h0M336.5 280.4h0M329.8 289.0h0M325.3 294.0h0M325.3 288.8h0M334.6 290.9h0M357.6 296.2h0M359.9 280.9h0M356.9 278.8h0M337.6 299.0h0M329.9 276.4h0M351.0 300.8h0M347.7 304.5h0M332.4 290.1h0M344.3 279.8h0M331.4 288.7h0M332.2 270.9h0M334.5 301.3h0M328.2 295.7h0M332.5 304.5h0M355.3 271.9h0" stroke="#1f3da0" stroke-width="1.75" stroke-linecap="round" fill="none"/>
<path d="M342.4 280.8h0M345.9 287.6h0M356.6 286.1h0M337.2 286.6h0M350.1 277.6h0M355.4 286.4h0M350.2 290.3h0M343.5 283.4h0M337.6 305.8h0M338.9 285.5h0M339.9 275.0h0M354.1 274.8h0" stroke="#f6ae23" stroke-width="1.75" stroke-linecap="round" fill="none"/>
<path d="M333.1 273.4h0M346.0 268.2h0M336.3 296.9h0M349.3 302.2h0M328.7 278.7h0M357.0 284.9h0M351.3 278.2h0M346.0 306.1h0M330.9 295.3h0M327.3 281.8h0M345.5 270.5h0M338.9 296.9h0M347.2 286.4h0M325.5 286.9h0M342.5 304.9h0M345.2 272.0h0M332.1 281.0h0M337.3 272.8h0M350.6 271.3h0M327.1 295.2h0M327.7 275.0h0M337.0 293.5h0M344.2 273.5h0M336.4 301.9h0M352.9 275.4h0M335.4 272.0h0M340.5 275.7h0M327.3 292.6h0" stroke="#1c2a8c" stroke-width="1.75" stroke-linecap="round" fill="none"/>
<path d="M361.1 292.6h0M334.7 269.8h0M331.4 293.6h0M329.4 290.6h0M340.2 292.9h0M329.3 285.9h0M357.3 278.9h0M361.6 291.0h0M355.5 276.2h0M342.4 270.8h0M333.9 270.4h0M335.7 283.7h0M330.0 300.9h0M344.1 274.1h0M337.8 293.6h0M355.1 276.2h0M330.1 302.4h0M356.0 274.7h0" stroke="#2150b3" stroke-width="1.75" stroke-linecap="round" fill="none"/>
<path d="M350.6 273.3h0M354.7 289.9h0M354.7 289.2h0M336.7 278.2h0M346.5 281.9h0M340.0 284.1h0M340.8 297.0h0M346.4 295.2h0M331.2 282.9h0M355.3 278.6h0M349.8 277.7h0M354.1 284.0h0M343.9 302.6h0M338.1 288.0h0M354.2 283.0h0M341.8 296.3h0M335.6 278.6h0M341.4 291.1h0" stroke="#87cc92" stroke-width="1.75" stroke-linecap="round" fill="none"/>
<path d="M334.6 301.8h0M337.5 300.4h0M351.0 284.2h0M337.2 304.4h0M348.1 282.6h0M350.5 295.3h0M342.6 286.5h0M355.0 288.0h0M340.2 271.0h0M337.9 290.3h0M332.8 274.2h0M339.1 271.4h0M337.2 281.2h0M356.0 294.1h0M337.5 293.7h0M347.5 270.7h0M326.2 288.8h0M347.5 286.4h0M345.5 288.5h0M355.9 286.3h0M347.6 295.6h0M348.6 293.8h0M332.8 299.2h0M329.4 295.2h0M341.5 290.5h0" stroke="#ccdc40" stroke-width="1.75" stroke-linecap="round" fill="none"/>
<path d="M334.4 290.8h0M345.8 294.4h0M340.0 278.2h0M326.0 293.1h0M333.5 279.2h0M343.9 299.4h0M342.1 287.0h0M348.3 286.8h0M345.2 283.9h0M349.3 290.8h0M342.0 297.0h0M348.3 295.8h0M328.6 299.8h0M332.8 270.5h0M343.5 291.9h0M332.7 298.0h0M358.3 285.4h0M331.6 287.9h0M341.5 286.2h0M332.3 301.4h0M346.6 280.7h0M328.2 288.4h0M338.5 289.5h0M339.3 295.0h0M342.0 303.0h0M346.9 281.5h0M340.8 297.7h0M338.4 272.4h0M363.6 289.4h0" stroke="#f5cb28" stroke-width="1.75" stroke-linecap="round" fill="none"/>
<path d="M345.4 291.5h0M338.4 281.0h0M345.2 271.8h0M343.5 295.6h0M341.3 290.8h0M340.4 300.6h0M345.0 304.0h0M339.2 289.6h0M328.8 280.0h0M339.7 297.2h0M338.3 282.3h0M353.4 286.1h0M340.2 303.6h0M347.9 296.3h0M333.6 284.6h0M358.9 279.6h0M334.8 300.9h0M354.3 288.3h0M339.5 297.8h0M339.4 291.9h0M332.8 283.5h0M329.0 276.6h0M353.0 285.2h0M332.4 298.1h0M350.7 279.3h0M334.3 291.8h0M337.1 298.2h0M328.9 278.1h0M341.3 284.1h0M335.7 295.1h0M349.7 297.1h0M344.5 277.7h0M333.5 280.4h0M350.5 278.3h0M329.2 276.8h0M345.1 282.3h0M333.2 301.5h0M358.6 285.0h0" stroke="#abd65a" stroke-width="1.75" stroke-linecap="round" fill="none"/>
<path d="M334.6 285.5h0M341.5 292.3h0" stroke="#e3561b" stroke-width="1.75" stroke-linecap="round" fill="none"/>
<path d="M326.0 288.4h0M333.5 277.0h0" stroke="#408ed7" stroke-width="1.75" stroke-linecap="round" fill="none"/>
<path d="M352.9 286.5h0M335.9 293.9h0M346.6 296.2h0M336.9 273.8h0M342.9 285.8h0M359.2 291.0h0M333.9 280.4h0M346.7 273.1h0M338.9 281.8h0M359.5 294.7h0M325.1 286.9h0M343.7 295.2h0M356.6 280.8h0M333.4 303.1h0M334.1 292.0h0M335.6 301.4h0" stroke="#67bfc1" stroke-width="1.75" stroke-linecap="round" fill="none"/>
<path d="M345.8 274.9h0M346.4 275.0h0M346.8 281.4h0" stroke="#52a9d6" stroke-width="1.75" stroke-linecap="round" fill="none"/>
<path d="M354.8 298.3h0M345.9 290.0h0M339.9 288.4h0M330.8 297.7h0M345.3 276.9h0M350.2 296.2h0M342.9 286.3h0M344.7 273.6h0M340.9 302.6h0M351.4 286.9h0M342.3 299.6h0M353.0 299.8h0M346.4 296.5h0M348.5 270.2h0M355.1 283.8h0M337.8 296.2h0M351.6 288.0h0M337.0 290.4h0M334.2 304.6h0M341.0 279.8h0M338.3 291.9h0M344.8 303.9h0M339.1 269.9h0M335.5 278.1h0M358.7 287.5h0M348.3 272.7h0M349.1 293.1h0M343.6 285.8h0M335.9 304.3h0M349.8 284.7h0M362.3 287.3h0" stroke="#ece130" stroke-width="1.75" stroke-linecap="round" fill="none"/>
<path d="M329.8 285.0h0M344.0 291.9h0M329.9 287.7h0M335.1 284.4h0M355.7 275.9h0M344.8 291.8h0" stroke="#67bfc1" stroke-width="1.75" stroke-linecap="round" fill="none"/>
<path d="M353.8 290.3h0M342.9 290.0h0M360.1 284.0h0" stroke="#52a9d6" stroke-width="1.75" stroke-linecap="round" fill="none"/>
<path d="M355.3 288.6h0M329.1 298.5h0M338.2 276.0h0M348.3 286.7h0M341.5 281.8h0M360.8 290.3h0M343.5 295.2h0M340.1 282.5h0M345.2 305.2h0M348.6 278.8h0M333.4 276.1h0M339.9 298.9h0M343.1 288.0h0M350.6 279.6h0M342.7 302.4h0M350.5 296.6h0M355.4 287.6h0M341.5 295.4h0M347.9 293.9h0M339.8 287.3h0M343.2 287.6h0M349.1 296.0h0" stroke="#f5cb28" stroke-width="1.75" stroke-linecap="round" fill="none"/>
<path d="M347.9 287.7h0M335.8 287.2h0M353.8 290.5h0" stroke="#ee841f" stroke-width="1.75" stroke-linecap="round" fill="none"/>
<path d="M327.3 298.9h0M340.9 291.2h0M347.7 269.4h0M328.4 300.7h0M341.9 306.0h0M337.5 269.5h0M334.5 275.2h0M352.6 272.0h0M355.5 294.6h0M354.4 280.2h0M338.1 268.7h0M357.3 296.9h0M343.6 276.9h0M335.5 300.5h0M346.0 273.6h0M342.7 305.0h0M330.5 278.5h0M357.6 287.4h0M355.4 282.3h0M358.5 292.9h0M343.2 274.0h0M340.7 270.6h0M333.1 304.6h0M337.4 303.1h0M344.7 270.2h0M338.5 306.4h0M335.9 299.9h0M346.9 292.7h0M338.6 274.4h0M337.8 270.6h0M336.8 300.3h0M334.9 271.3h0M340.4 271.1h0M327.8 300.1h0M330.6 284.8h0M349.1 294.4h0M327.4 275.9h0M350.2 275.3h0M344.2 280.3h0M340.5 274.6h0M342.6 284.4h0M333.2 276.2h0M360.0 281.6h0M338.2 279.8h0M350.1 302.3h0M351.2 302.7h0M356.3 275.9h0M341.5 293.9h0M346.7 272.6h0M339.7 300.5h0M327.8 284.9h0M333.8 301.6h0M359.3 293.8h0M338.1 295.0h0M336.8 299.9h0M328.5 283.8h0M360.2 282.5h0M333.0 302.0h0M340.1 269.6h0M337.5 271.7h0M354.7 297.9h0M335.3 302.0h0M334.7 284.1h0M355.2 296.6h0M355.9 276.3h0M332.8 271.3h0M351.0 276.7h0M333.8 273.4h0M359.6 294.2h0M325.8 287.5h0M341.5 302.4h0M361.2 284.7h0M349.1 300.9h0M347.1 299.9h0M341.9 306.2h0M349.2 279.4h0M355.2 273.6h0M332.7 291.1h0M328.5 283.1h0M331.1 298.0h0M332.4 272.4h0M356.2 301.2h0M359.1 298.7h0M346.9 265.2h0" stroke="#1f3da0" stroke-width="1.75" stroke-linecap="round" fill="none"/>
<path d="M337.1 283.0h0M336.0 286.5h0M363.0 287.0h0" stroke="#408ed7" stroke-width="1.75" stroke-linecap="round" fill="none"/>
<path d="M354.5 279.5h0M347.0 298.4h0M350.0 273.9h0M329.7 282.6h0M347.3 270.5h0M342.7 274.6h0M335.8 280.0h0M344.4 286.7h0M338.3 303.6h0M355.2 295.0h0M325.8 280.2h0M331.9 297.6h0M336.7 306.1h0M359.2 288.9h0M348.4 298.2h0M340.6 287.6h0M344.0 290.9h0M346.3 282.8h0M343.3 282.4h0M350.5 273.8h0M346.2 273.6h0M335.3 278.6h0M362.9 288.9h0" stroke="#87cc92" stroke-width="1.75" stroke-linecap="round" fill="none"/>
<path d="M332.2 278.2h0M338.5 268.7h0M329.3 289.7h0M328.8 280.1h0M335.6 283.6h0M334.7 285.5h0M325.4 283.1h0M359.6 294.3h0M350.3 285.2h0M331.1 280.9h0M326.8 277.5h0M360.3 290.9h0" stroke="#2150b3" stroke-width="1.75" stroke-linecap="round" fill="none"/>
<path d="M349.5 282.7h0M332.3 294.0h0M333.3 296.1h0M353.9 287.2h0M343.1 280.1h0M343.6 289.5h0M350.5 300.0h0M335.7 295.9h0M347.8 298.2h0M341.6 300.5h0M339.6 301.7h0M335.0 279.5h0M331.5 278.3h0M338.0 293.5h0M332.6 277.0h0M336.1 274.6h0M342.3 280.5h0M346.9 300.2h0M333.0 296.6h0M329.3 290.9h0M338.2 274.2h0M355.0 286.2h0M344.4 290.4h0M343.6 277.0h0M362.9 290.1h0" stroke="#ece130" stroke-width="1.75" stroke-linecap="round" fill="none"/>
<path d="M361.2 286.2h0M338.9 293.8h0M349.4 286.9h0M329.0 287.5h0M344.6 270.2h0M359.4 287.7h0M342.0 295.0h0M341.0 281.5h0M348.5 300.3h0M344.6 276.9h0" stroke="#f6ae23" stroke-width="1.75" stroke-linecap="round" fill="none"/>
<path d="M337.7 283.5h0M332.5 290.3h0M347.2 291.3h0M338.4 288.6h0M342.1 276.7h0M338.8 284.4h0M341.7 305.7h0M348.5 288.2h0M334.0 275.9h0M336.7 291.4h0M327.1 297.0h0M339.5 293.8h0M360.1 288.9h0M338.6 289.8h0M355.8 281.9h0M332.1 293.0h0M352.5 292.7h0M341.9 287.6h0M329.2 286.5h0M331.7 280.4h0M339.7 281.9h0M352.1 282.7h0M337.1 288.1h0M341.8 302.1h0M338.4 306.4h0M343.7 296.3h0M337.3 303.8h0" stroke="#ccdc40" stroke-width="1.75" stroke-linecap="round" fill="none"/>
<path d="M341.4 300.9h0M358.4 287.8h0M347.8 278.6h0M332.8 285.1h0M345.9 292.6h0M354.4 283.6h0M346.7 300.5h0M333.9 279.8h0M343.9 303.9h0M346.5 280.2h0M353.8 295.9h0M349.3 293.1h0M338.4 298.0h0M329.2 278.9h0M338.5 285.6h0M352.0 287.9h0M340.9 295.1h0M341.7 294.4h0M341.9 292.6h0M345.5 291.1h0M348.6 291.8h0M345.5 281.5h0M340.5 289.9h0M336.3 283.5h0M362.3 291.1h0" stroke="#abd65a" stroke-width="1.75" stroke-linecap="round" fill="none"/>
<path d="M361.3 292.1h0M354.1 294.2h0M325.3 289.7h0M357.8 290.1h0M330.4 271.7h0M352.5 279.2h0M359.0 281.6h0M339.5 302.4h0M350.5 300.5h0M326.1 281.2h0M325.6 280.6h0M350.0 294.3h0M325.6 281.4h0M340.3 270.9h0M328.4 285.8h0M341.3 303.9h0M355.8 297.1h0M335.2 271.1h0M360.1 279.2h0M333.7 304.0h0M354.4 288.6h0M347.5 268.6h0M328.4 280.8h0M346.4 303.0h0M335.9 273.9h0M334.9 296.1h0M327.1 286.0h0M357.3 287.8h0M335.6 269.5h0M340.1 269.6h0M326.5 292.1h0M339.6 269.8h0M349.1 287.8h0M358.7 283.9h0M363.0 288.9h0" stroke="#1c2a8c" stroke-width="1.75" stroke-linecap="round" fill="none"/>
<path d="M353.1 288.1h0M354.9 284.3h0M343.6 280.0h0M336.2 276.2h0M325.7 286.2h0M348.5 275.1h0M335.5 287.2h0M357.7 281.3h0M351.0 280.8h0M347.3 289.7h0M345.2 276.4h0M336.6 280.4h0M344.3 293.3h0M337.2 290.7h0M339.1 296.9h0M349.8 292.6h0M341.6 296.3h0M340.3 293.3h0M335.7 281.0h0M343.6 286.3h0M346.3 275.1h0M330.8 273.2h0M336.2 287.0h0M338.8 289.7h0M352.6 281.2h0M339.9 293.5h0M329.0 295.3h0M350.6 302.3h0M354.3 283.5h0M360.2 282.8h0M342.2 295.1h0M346.0 273.6h0M355.4 285.4h0M340.0 289.5h0M351.3 298.1h0" stroke="#abd65a" stroke-width="1.75" stroke-linecap="round" fill="none"/>
<path d="M327.8 275.5h0M346.7 294.5h0M325.0 291.7h0M355.4 286.6h0M331.4 288.0h0M339.3 269.0h0M358.6 293.6h0M358.7 282.2h0M333.6 269.8h0M348.8 303.6h0M359.1 283.8h0M337.4 302.9h0M347.8 282.2h0M361.4 281.5h0M337.3 277.3h0M350.6 285.5h0M340.1 306.1h0M359.5 281.1h0M359.8 286.3h0M347.9 277.2h0M341.8 300.7h0M345.3 273.0h0M332.5 302.7h0M351.5 290.0h0M324.9 288.2h0M354.4 298.2h0M360.6 284.2h0M355.7 297.3h0M335.9 279.9h0M332.1 278.5h0M351.3 290.5h0M344.7 271.0h0M351.5 292.6h0M357.8 277.2h0M348.5 274.0h0M327.8 291.4h0M357.6 277.5h0M341.7 267.0h0M341.1 309.5h0" stroke="#1c2a8c" stroke-width="1.75" stroke-linecap="round" fill="none"/>
<path d="M358.3 282.1h0" stroke="#2f6dc5" stroke-width="1.75" stroke-linecap="round" fill="none"/>
<path d="M337.4 280.3h0M347.4 294.7h0M350.3 295.8h0M335.7 287.0h0M329.8 296.2h0M342.9 307.4h0M350.7 289.0h0M352.9 275.6h0M340.5 278.5h0M347.7 299.2h0M344.2 274.4h0M336.9 277.0h0M355.8 276.5h0M358.6 286.8h0M341.0 288.6h0M330.7 280.9h0M346.1 271.8h0M337.2 283.9h0M351.3 281.7h0M344.5 274.2h0M326.4 297.3h0M359.1 281.0h0M359.7 288.6h0M346.7 293.3h0M355.7 292.8h0M335.2 303.2h0M341.4 284.5h0M353.6 280.7h0M345.2 285.3h0M330.1 295.4h0M336.7 286.4h0" stroke="#ece130" stroke-width="1.75" stroke-linecap="round" fill="none"/>
<path d="M338.1 270.6h0M328.9 299.7h0M346.6 281.9h0M332.6 291.0h0M326.7 286.2h0" stroke="#f6ae23" stroke-width="1.75" stroke-linecap="round" fill="none"/>
<path d="M351.3 291.6h0M339.0 271.0h0" stroke="#e3561b" stroke-width="1.75" stroke-linecap="round" fill="none"/>
<path d="M360.7 281.3h0M337.2 288.4h0M329.3 276.3h0M349.9 289.9h0M343.7 306.1h0M345.6 271.3h0M337.4 284.8h0M337.5 279.9h0M328.6 273.4h0M330.2 275.9h0M361.7 285.5h0M360.5 283.7h0M326.9 295.9h0M342.1 281.6h0M329.2 277.9h0M358.9 294.3h0M355.5 298.5h0M353.8 275.9h0M356.9 275.2h0M358.4 281.4h0M337.7 291.8h0" stroke="#2150b3" stroke-width="1.75" stroke-linecap="round" fill="none"/>
<path d="M351.4 298.2h0M346.9 290.1h0M341.6 291.2h0" stroke="#408ed7" stroke-width="1.75" stroke-linecap="round" fill="none"/>
<path d="M344.4 280.8h0M337.5 290.9h0M339.2 291.0h0M332.0 283.7h0M339.3 290.2h0M344.4 303.5h0M347.6 292.1h0M344.2 288.4h0M348.9 288.8h0M336.6 280.3h0M344.3 295.7h0M344.8 277.0h0M338.8 287.7h0" stroke="#67bfc1" stroke-width="1.75" stroke-linecap="round" fill="none"/>
<path d="M337.7 294.1h0M334.7 302.5h0M327.8 290.9h0M343.6 299.9h0M333.6 285.4h0M342.5 272.9h0M338.0 300.5h0M341.1 300.6h0M338.5 290.5h0M334.7 300.0h0M355.1 289.4h0M345.7 300.1h0M331.0 292.2h0M337.2 288.7h0M349.3 269.8h0M359.8 286.3h0M338.8 286.9h0M351.2 291.3h0M346.2 268.8h0M337.7 293.7h0M330.3 292.5h0M354.7 290.7h0M351.1 295.5h0M346.8 281.8h0M346.1 290.7h0M342.9 298.6h0M355.2 286.6h0M346.5 285.3h0M340.0 275.9h0" stroke="#87cc92" stroke-width="1.75" stroke-linecap="round" fill="none"/>
<path d="M337.8 283.0h0M340.3 297.3h0M332.3 275.3h0M341.5 289.3h0M338.6 295.6h0" stroke="#ee841f" stroke-width="1.75" stroke-linecap="round" fill="none"/>
<path d="M350.3 274.5h0M356.0 294.5h0M353.1 275.4h0M336.8 274.6h0M331.6 275.9h0M341.3 307.7h0M339.4 269.0h0M355.8 289.8h0M326.5 294.0h0M359.3 279.5h0M348.2 272.3h0M341.5 268.0h0M325.9 286.3h0M347.0 294.2h0M343.8 268.4h0M357.5 284.0h0M330.4 294.6h0M327.4 278.6h0M350.5 285.1h0M345.6 272.4h0M354.3 273.5h0M331.9 297.9h0M347.2 277.4h0M330.6 300.4h0M325.8 288.7h0M339.9 273.6h0M336.8 306.7h0M328.0 275.9h0M326.3 289.8h0M329.0 281.3h0M346.3 301.8h0M353.7 299.1h0M340.6 283.4h0M330.8 279.8h0M358.5 279.4h0M354.7 296.1h0M360.4 293.1h0M361.3 288.0h0M330.6 271.3h0M325.9 288.7h0M357.4 279.6h0M327.6 299.8h0M333.2 282.6h0M327.8 297.8h0M354.8 293.1h0M339.7 272.1h0M327.7 294.2h0M360.5 284.9h0M324.6 285.4h0M339.4 279.6h0M330.1 279.2h0M326.8 297.2h0M353.4 299.1h0M348.8 276.0h0M355.0 292.1h0M328.7 300.9h0M347.0 284.3h0M348.8 293.9h0M343.9 307.5h0M336.5 276.2h0M350.0 271.2h0M328.1 275.9h0M325.3 292.1h0M328.6 276.8h0M351.3 307.3h0M338.6 265.6h0" stroke="#1f3da0" stroke-width="1.75" stroke-linecap="round" fill="none"/>
<path d="M331.6 272.2h0M328.6 276.7h0M326.2 284.9h0M333.5 282.9h0M331.4 293.0h0M331.0 296.4h0" stroke="#52a9d6" stroke-width="1.75" stroke-linecap="round" fill="none"/>
<path d="M339.2 296.8h0M346.4 298.2h0M347.8 273.0h0M343.3 289.8h0M346.0 286.7h0M329.7 292.6h0M357.3 286.2h0M352.0 287.7h0M342.6 305.3h0M350.7 286.5h0M360.2 282.6h0M345.6 299.1h0M359.5 281.7h0M357.3 288.6h0M350.4 299.1h0M349.6 289.7h0M350.1 284.3h0M333.9 287.4h0M349.9 273.4h0M343.4 274.9h0M346.2 298.8h0M347.6 295.0h0M349.9 281.9h0M345.3 301.7h0M353.2 294.0h0M341.2 274.2h0M339.2 303.9h0M348.0 292.9h0M340.4 300.2h0M342.4 281.8h0M348.3 272.5h0M336.4 302.7h0M338.0 276.6h0M344.7 297.2h0" stroke="#ccdc40" stroke-width="1.75" stroke-linecap="round" fill="none"/>
<path d="M340.7 278.0h0M329.6 301.5h0M334.9 294.3h0M347.5 285.8h0M340.6 299.4h0M332.5 281.0h0M338.6 278.8h0M355.3 293.0h0M348.2 286.2h0M342.5 298.0h0M335.3 283.9h0M344.0 292.1h0M343.2 282.6h0M354.2 285.6h0M351.9 284.3h0M341.0 289.9h0M344.0 292.5h0M340.7 294.3h0M348.8 301.4h0" stroke="#f5cb28" stroke-width="1.75" stroke-linecap="round" fill="none"/>
<path d="M333.9 299.1h0M339.0 283.5h0M353.8 293.1h0M334.3 288.5h0M336.7 298.3h0M328.9 295.8h0M334.4 275.7h0M338.7 297.7h0M349.4 285.1h0M363.1 290.9h0" stroke="#67bfc1" stroke-width="1.75" stroke-linecap="round" fill="none"/>
<path d="M346.6 275.9h0M328.2 296.6h0M362.0 284.6h0M350.9 272.1h0M358.7 290.5h0M327.0 296.8h0M336.8 278.9h0M343.8 308.4h0M359.1 279.1h0M331.9 272.6h0M339.6 300.3h0M342.5 293.8h0M343.3 268.3h0M351.9 298.4h0M333.6 273.6h0M336.3 297.3h0M355.5 290.5h0M325.7 290.4h0" stroke="#2150b3" stroke-width="1.75" stroke-linecap="round" fill="none"/>
<path d="M351.4 282.0h0M349.1 293.3h0M353.7 277.2h0M352.9 280.1h0M329.4 283.8h0M331.7 276.0h0M346.6 289.1h0M337.4 286.5h0M336.3 299.8h0M355.1 279.1h0M346.3 285.6h0M335.9 306.6h0M352.6 283.6h0M356.3 284.3h0M338.3 302.2h0M338.2 289.3h0M345.9 292.1h0M343.1 297.2h0M336.0 274.1h0M348.0 289.4h0M338.7 285.3h0M328.6 290.5h0M351.3 283.8h0M333.2 299.4h0M353.0 289.3h0M348.9 293.8h0M349.5 277.8h0M340.4 276.6h0M332.9 291.6h0M336.1 274.0h0M336.1 287.3h0M332.2 291.4h0M341.3 281.7h0M353.0 287.5h0M350.0 278.1h0M348.0 301.7h0M347.5 290.6h0M352.7 279.3h0" stroke="#abd65a" stroke-width="1.75" stroke-linecap="round" fill="none"/>
<path d="M335.2 304.3h0M363.3 292.1h0" stroke="#2f6dc5" stroke-width="1.75" stroke-linecap="round" fill="none"/>
<path d="M344.3 273.7h0M341.7 271.2h0M329.0 291.7h0M331.0 295.2h0M334.5 302.3h0M350.9 301.4h0M329.1 273.2h0M341.6 308.6h0M325.8 289.5h0M327.5 279.5h0M333.6 292.8h0M345.2 274.5h0M360.8 280.5h0M347.8 298.2h0M327.8 274.3h0M348.1 273.7h0M360.5 280.0h0M359.5 279.2h0M333.2 277.3h0M331.5 300.7h0M330.7 287.9h0M332.8 274.8h0M340.3 277.3h0M347.5 298.1h0M336.9 283.8h0M347.2 296.7h0M344.3 304.2h0M344.2 307.7h0M345.6 286.1h0M360.9 281.5h0M345.4 269.1h0M352.8 271.6h0M345.7 268.2h0M336.5 300.9h0M333.9 297.1h0M342.7 307.5h0M345.8 280.2h0M349.5 300.1h0M341.4 274.5h0M355.0 279.6h0M333.1 280.3h0M359.1 295.1h0M339.6 292.8h0M342.3 276.9h0M361.6 289.3h0M360.7 283.3h0" stroke="#1c2a8c" stroke-width="1.75" stroke-linecap="round" fill="none"/>
<path d="M350.7 278.1h0M345.3 296.5h0M355.3 280.0h0M348.5 299.3h0M347.7 286.1h0M337.8 287.5h0M330.8 294.1h0M355.4 285.4h0M339.7 297.9h0M334.0 297.2h0M349.1 275.2h0M354.2 282.5h0M344.7 276.4h0M328.9 279.0h0M333.8 289.7h0M345.4 291.3h0M348.0 302.4h0M353.6 289.3h0M329.4 288.5h0M343.8 272.5h0M339.4 275.3h0M342.0 302.5h0M348.5 286.8h0M344.9 298.8h0M343.4 295.1h0M351.0 303.1h0M332.6 300.4h0M345.5 276.4h0M334.8 291.0h0M349.4 290.7h0M354.2 279.4h0M329.5 287.6h0M327.8 290.7h0M340.5 299.1h0M332.8 278.9h0M340.6 273.7h0M330.5 289.4h0M344.5 283.3h0M354.9 293.2h0M347.3 285.1h0" stroke="#ccdc40" stroke-width="1.75" stroke-linecap="round" fill="none"/>
<path d="M339.7 283.2h0M353.8 285.3h0" stroke="#408ed7" stroke-width="1.75" stroke-linecap="round" fill="none"/>
<path d="M336.4 291.9h0M346.9 276.1h0M346.7 283.5h0M342.3 303.2h0" stroke="#ee841f" stroke-width="1.75" stroke-linecap="round" fill="none"/>
<path d="M337.1 273.1h0M355.4 294.8h0M342.3 291.7h0M340.4 294.6h0M359.3 289.9h0M340.1 291.2h0M341.5 301.7h0" stroke="#52a9d6" stroke-width="1.75" stroke-linecap="round" fill="none"/>
<path d="M341.3 297.3h0M341.9 294.3h0M351.8 290.7h0M333.2 292.7h0M351.1 289.7h0M343.3 305.1h0M326.8 298.3h0M334.2 279.0h0M334.2 281.8h0M352.8 280.6h0M347.7 283.7h0" stroke="#f6ae23" stroke-width="1.75" stroke-linecap="round" fill="none"/>
<path d="M347.6 283.7h0M339.5 295.8h0M357.1 288.1h0M342.3 288.7h0M344.9 273.2h0M347.5 289.4h0M340.6 303.3h0M347.5 299.7h0M350.4 279.5h0M333.1 275.2h0M334.5 300.8h0M339.7 291.0h0M337.6 286.2h0M346.9 276.6h0M338.5 285.2h0M341.8 280.2h0M347.1 281.1h0M354.2 294.1h0M348.8 282.1h0M334.7 291.4h0M337.4 270.6h0M328.0 293.9h0M329.1 291.8h0M345.1 304.0h0M341.0 277.1h0M326.1 288.0h0M343.1 277.6h0M345.4 301.0h0M336.6 277.4h0M337.4 280.9h0M343.6 292.0h0M348.1 288.3h0M355.5 297.4h0M363.0 290.2h0" stroke="#ece130" stroke-width="1.75" stroke-linecap="round" fill="none"/>
<path d="M343.1 289.9h0M344.2 298.3h0M359.4 294.4h0M350.2 292.7h0M340.4 292.4h0M354.2 276.3h0M335.1 274.0h0M327.3 288.9h0M341.7 306.9h0M344.0 301.7h0M336.0 274.8h0M329.6 296.3h0M354.4 276.5h0M331.4 271.4h0M353.5 299.3h0M349.3 290.8h0M341.4 269.1h0M328.2 298.3h0M349.4 274.2h0M348.4 270.0h0M345.9 302.5h0M353.3 275.8h0M360.9 281.5h0M353.1 291.1h0M349.9 299.7h0M338.9 293.5h0M358.8 291.7h0M338.7 304.0h0M346.1 278.7h0M360.2 289.8h0M333.1 299.9h0M326.1 278.1h0M351.7 300.7h0M335.3 303.3h0M335.9 301.1h0M356.9 297.2h0M353.4 299.1h0M345.2 305.9h0M332.0 286.7h0M325.0 283.3h0M354.4 273.3h0M355.6 296.4h0M333.8 277.3h0M356.0 275.9h0M333.4 272.2h0M347.1 269.3h0M341.1 301.1h0M343.9 271.6h0M325.2 282.7h0M347.8 305.3h0M358.7 288.1h0M349.4 291.7h0M326.8 276.4h0M361.8 289.2h0M327.9 298.0h0M356.4 274.9h0M341.7 301.7h0M346.2 273.4h0M344.0 282.7h0M330.8 303.5h0M354.3 272.2h0M349.6 265.6h0M348.1 308.8h0" stroke="#1f3da0" stroke-width="1.75" stroke-linecap="round" fill="none"/>
<path d="M342.1 282.2h0M334.1 298.8h0M346.4 286.3h0M338.1 280.1h0M333.1 288.5h0M350.1 300.2h0M347.5 305.6h0M346.4 294.2h0M342.4 278.4h0M336.3 295.9h0M344.6 282.5h0M363.4 292.2h0" stroke="#f5cb28" stroke-width="1.75" stroke-linecap="round" fill="none"/>
<path d="M337.3 299.2h0M346.0 269.5h0M336.1 279.1h0M345.5 274.7h0M338.8 270.9h0M346.0 273.9h0M339.4 299.9h0M352.2 292.2h0M344.5 271.2h0M345.6 273.3h0M346.9 271.8h0M340.1 303.9h0M352.7 279.2h0M340.7 294.3h0M336.0 280.6h0M330.4 281.7h0M359.0 290.3h0M332.9 298.8h0M357.2 287.1h0M333.6 285.7h0M345.2 295.5h0M336.8 275.7h0M339.3 302.0h0M341.2 288.4h0M353.0 284.2h0M339.8 284.8h0M336.1 300.8h0M354.7 282.5h0" stroke="#87cc92" stroke-width="1.75" stroke-linecap="round" fill="none"/>
<path d="M339.2 295.8h0" stroke="#52a9d6" stroke-width="1.75" stroke-linecap="round" fill="none"/>
<path d="M345.7 292.0h0M331.9 277.9h0M335.8 281.3h0M338.4 273.8h0" stroke="#408ed7" stroke-width="1.75" stroke-linecap="round" fill="none"/>
<path d="M337.2 273.1h0M347.2 274.8h0M333.7 304.4h0M344.4 308.0h0M338.7 277.6h0M343.3 302.4h0M352.6 274.6h0M324.7 286.2h0M331.0 300.4h0M350.7 297.3h0M324.6 288.2h0M338.4 290.7h0M336.8 298.3h0M326.3 296.1h0M335.8 283.3h0M355.7 274.3h0M342.3 283.9h0M333.7 273.6h0M336.9 305.9h0M349.1 295.4h0M339.7 298.6h0M345.6 300.7h0M354.6 274.4h0M352.9 298.7h0M354.5 281.4h0M332.4 275.5h0M330.9 289.0h0M350.5 281.8h0M347.5 291.1h0M330.3 273.4h0M332.7 268.4h0" stroke="#1c2a8c" stroke-width="1.75" stroke-linecap="round" fill="none"/>
<path d="M345.5 294.0h0M327.1 279.2h0M338.8 300.4h0M338.4 306.8h0" stroke="#ee841f" stroke-width="1.75" stroke-linecap="round" fill="none"/>
<path d="M348.7 292.1h0M329.1 285.3h0M334.3 291.6h0M332.3 295.1h0M344.6 287.2h0M352.3 284.6h0M335.6 305.4h0M329.1 285.8h0M353.7 293.6h0M333.3 291.1h0M345.5 272.1h0M345.2 294.6h0M357.5 292.0h0M349.7 291.3h0M327.8 288.1h0M352.4 286.0h0M329.0 284.3h0M351.4 301.1h0M332.7 283.2h0M339.6 276.2h0M351.0 285.5h0M338.3 293.9h0M355.9 292.5h0M335.6 286.2h0M333.4 295.9h0M358.4 280.2h0M352.2 282.1h0M351.8 271.9h0M327.4 294.1h0" stroke="#f5cb28" stroke-width="1.75" stroke-linecap="round" fill="none"/>
<path d="M340.2 303.2h0M333.8 294.4h0M342.9 302.7h0M337.8 300.2h0M337.3 298.1h0M339.6 306.7h0M349.2 281.7h0M339.0 285.8h0M343.3 307.2h0M334.2 282.5h0M330.3 277.3h0M345.7 269.7h0M330.7 292.7h0M333.1 274.7h0M351.0 278.1h0M341.9 271.6h0M349.0 298.0h0M353.2 280.1h0M343.6 297.1h0M344.6 284.3h0M347.8 281.7h0M343.4 286.5h0M340.4 303.9h0M334.1 300.0h0M332.6 284.2h0M358.4 280.4h0M344.0 275.4h0M347.7 293.2h0" stroke="#abd65a" stroke-width="1.75" stroke-linecap="round" fill="none"/>
<path d="M346.1 274.7h0M357.9 276.7h0M350.9 298.3h0M352.0 299.2h0M333.3 302.1h0M353.1 297.8h0M357.2 290.0h0M339.5 306.3h0M350.6 302.2h0M340.9 306.8h0M333.5 278.5h0M349.6 282.0h0" stroke="#2150b3" stroke-width="1.75" stroke-linecap="round" fill="none"/>
<path d="M342.6 294.1h0M346.7 269.2h0M338.0 287.5h0M344.7 271.6h0M352.6 279.1h0M346.3 290.9h0M347.6 277.4h0M339.2 270.1h0" stroke="#f6ae23" stroke-width="1.75" stroke-linecap="round" fill="none"/>
<path d="M345.7 288.7h0M331.5 290.8h0M354.6 293.4h0M338.3 272.4h0M336.1 305.3h0M345.3 298.2h0M338.3 280.2h0M357.3 292.3h0M338.9 297.7h0M337.0 295.9h0M350.3 278.9h0" stroke="#67bfc1" stroke-width="1.75" stroke-linecap="round" fill="none"/>
<path d="M346.0 282.5h0M330.4 281.2h0M333.5 287.6h0M352.0 286.6h0M337.8 305.1h0M343.5 298.4h0M356.3 283.8h0M360.0 286.8h0M336.8 286.9h0M351.3 298.0h0M340.2 295.0h0M358.9 289.0h0M346.1 293.7h0M357.2 282.4h0M346.7 289.4h0M347.3 280.6h0M353.3 282.5h0M331.4 303.3h0M355.8 286.0h0M326.8 289.5h0M345.5 276.1h0M362.7 288.5h0" stroke="#87cc92" stroke-width="1.75" stroke-linecap="round" fill="none"/>
<path d="M343.7 282.2h0M343.3 277.6h0" stroke="#e3561b" stroke-width="1.75" stroke-linecap="round" fill="none"/>
<path d="M354.8 285.3h0M337.6 306.7h0M349.9 272.7h0M339.9 283.1h0M348.0 288.1h0M336.5 281.7h0M327.1 290.8h0M348.7 277.6h0M334.6 270.6h0M340.2 298.4h0M348.5 270.5h0M334.3 295.8h0M348.2 275.5h0M337.5 272.7h0M334.8 294.4h0M340.7 277.4h0M350.7 279.9h0M335.1 298.4h0M347.6 288.2h0M355.7 284.4h0M355.2 289.2h0M360.1 284.2h0M344.1 304.8h0M328.6 290.2h0M351.9 280.6h0M346.1 279.0h0M340.0 299.4h0M348.0 293.3h0M342.3 297.2h0M332.7 301.8h0M351.6 290.0h0M363.2 291.1h0" stroke="#ece130" stroke-width="1.75" stroke-linecap="round" fill="none"/>
<path d="M335.8 303.9h0M348.6 288.7h0M333.0 270.8h0M343.5 274.5h0M335.9 276.7h0M328.5 276.7h0M351.1 280.8h0M343.6 291.1h0M339.4 280.9h0M360.0 286.3h0M330.2 281.5h0M341.6 276.9h0M357.3 287.8h0M350.9 279.3h0M338.6 272.8h0M341.3 306.2h0M347.5 299.5h0M338.7 278.0h0M356.3 285.8h0M346.0 295.2h0M351.6 284.6h0M344.2 275.6h0M338.8 292.6h0M331.5 283.2h0M334.9 276.7h0M340.8 304.6h0M355.8 277.6h0M347.5 283.6h0M351.6 280.7h0" stroke="#ccdc40" stroke-width="1.75" stroke-linecap="round" fill="none"/>
<path d="M338.9 269.0h0M342.4 300.8h0M347.4 303.1h0M340.1 304.7h0M330.9 271.6h0M326.2 290.3h0M339.6 271.3h0M331.1 272.2h0M347.1 275.2h0M337.3 304.4h0M353.1 274.5h0M341.0 276.6h0M333.8 279.3h0M354.6 276.2h0M336.5 270.9h0M348.8 302.1h0M353.6 297.2h0M334.7 280.3h0M357.2 285.8h0M326.6 283.4h0M344.1 305.9h0M349.0 270.3h0M348.4 285.6h0M348.0 271.3h0M359.4 284.8h0M335.2 276.9h0M341.1 301.6h0M338.6 303.7h0M340.5 303.6h0M359.1 281.7h0M360.2 281.0h0M333.4 269.8h0M350.9 286.4h0M337.5 278.2h0M343.5 282.2h0M332.7 301.6h0M351.3 294.2h0M358.5 282.5h0M351.5 270.3h0M331.7 292.2h0M341.4 286.6h0M326.8 283.6h0M340.9 306.4h0M337.0 277.4h0M329.1 299.4h0M335.2 269.4h0M328.1 277.9h0M354.3 275.1h0M334.2 270.0h0M345.7 305.3h0M326.8 294.0h0M337.6 303.5h0M328.8 281.0h0M346.9 301.7h0M328.4 281.1h0M337.1 299.3h0M352.7 288.1h0M331.9 297.6h0M352.6 281.2h0M359.4 290.4h0M336.8 274.7h0M361.0 285.9h0M356.4 278.2h0M332.8 283.2h0M360.7 287.4h0M358.8 288.8h0M334.8 304.9h0M345.5 297.0h0M361.5 283.8h0M349.0 276.3h0M332.7 277.7h0M363.6 288.8h0M359.5 276.4h0M327.7 277.1h0M359.9 298.8h0" stroke="#1f3da0" stroke-width="1.75" stroke-linecap="round" fill="none"/>
<line x1="323.5" y1="265.5" x2="323.5" y2="311.2" stroke="#111" stroke-width="1"/>
<line x1="322.6" y1="310.5" x2="366.7" y2="310.5" stroke="#111" stroke-width="1"/>
<line x1="320.2" y1="273.5" x2="323.1" y2="273.5" stroke="#111" stroke-width="0.9"/>
<text transform="translate(316.8,273.8) rotate(0.1)" x="0" y="1.89" font-size="5.4" text-anchor="end" fill="#222" stroke="#222" stroke-width="0.05">20</text>
<line x1="320.2" y1="287.5" x2="323.1" y2="287.5" stroke="#111" stroke-width="0.9"/>
<text transform="translate(316.8,287.4) rotate(0.1)" x="0" y="1.89" font-size="5.4" text-anchor="end" fill="#222" stroke="#222" stroke-width="0.05">0</text>
<line x1="320.2" y1="300.5" x2="323.1" y2="300.5" stroke="#111" stroke-width="0.9"/>
<text transform="translate(316.8,301) rotate(0.1)" x="0" y="1.89" font-size="5.4" text-anchor="end" fill="#222" stroke="#222" stroke-width="0.05">-20</text>
<line x1="333.5" y1="310.7" x2="333.5" y2="313.5" stroke="#111" stroke-width="0.9"/>
<text transform="translate(333.53,320.3) rotate(0.1)" x="0" y="1.89" font-size="5.4" text-anchor="middle" fill="#222" stroke="#222" stroke-width="0.05">-20</text>
<line x1="344.5" y1="310.7" x2="344.5" y2="313.5" stroke="#111" stroke-width="0.9"/>
<text transform="translate(344.1,320.3) rotate(0.1)" x="0" y="1.89" font-size="5.4" text-anchor="middle" fill="#222" stroke="#222" stroke-width="0.05">0</text>
<line x1="354.5" y1="310.7" x2="354.5" y2="313.5" stroke="#111" stroke-width="0.9"/>
<text transform="translate(354.67,320.3) rotate(0.1)" x="0" y="1.89" font-size="5.4" text-anchor="middle" fill="#222" stroke="#222" stroke-width="0.05">20</text>
<line x1="365.5" y1="310.7" x2="365.5" y2="313.5" stroke="#111" stroke-width="0.9"/>
<text transform="translate(365.24,320.3) rotate(0.1)" x="0" y="1.89" font-size="5.4" text-anchor="middle" fill="#222" stroke="#222" stroke-width="0.05">40</text>
<text transform="translate(344.9,330.7) rotate(0.1) scale(0.72,1)" x="0" y="2.97" font-size="8.5" text-anchor="middle" fill="#222" stroke="#222" stroke-width="0.12">tSNE_1</text>
<text transform="translate(300.7,288.1) rotate(-90) scale(0.72,1)" x="0" y="2.97" font-size="8.5" text-anchor="middle" fill="#222" stroke="#222" stroke-width="0.12">tSNE_2</text>
<text transform="translate(345.1,257.3) rotate(0.1)" x="0" y="3.04" font-size="8.7" text-anchor="middle" fill="#222" stroke="#222" stroke-width="0.12" font-style="italic">BECN1</text>
<text transform="translate(373.6,270.3) rotate(0.1) scale(0.93,1)" x="0" y="1.89" font-size="5.4" text-anchor="middle" fill="#333" stroke="#333" stroke-width="0.05">Expression</text>
<text transform="translate(373.6,275.6) rotate(0.1) scale(0.93,1)" x="0" y="1.89" font-size="5.4" text-anchor="middle" fill="#333" stroke="#333" stroke-width="0.05">(log)</text>
<rect x="367.3" y="283.8" width="4.5" height="21.9" fill="url(#gD)" stroke="none" stroke-width="1"/>
<text transform="translate(374.7,286.8) rotate(0.1)" x="0" y="1.92" font-size="5.5" text-anchor="start" fill="#222" stroke="#222" stroke-width="0.05">3</text>
<text transform="translate(374.7,293) rotate(0.1)" x="0" y="1.92" font-size="5.5" text-anchor="start" fill="#222" stroke="#222" stroke-width="0.05">2</text>
<text transform="translate(374.7,299.2) rotate(0.1)" x="0" y="1.92" font-size="5.5" text-anchor="start" fill="#222" stroke="#222" stroke-width="0.05">1</text>
<text transform="translate(374.7,305) rotate(0.1)" x="0" y="1.92" font-size="5.5" text-anchor="start" fill="#222" stroke="#222" stroke-width="0.05">0</text>
<path d="M438.3 273.1h0M455.8 289.2h0M454.9 276.3h0M449.1 288.1h0M460.1 281.6h0M430.5 290.6h0M447.1 273.6h0M437.0 276.7h0M455.6 280.4h0M443.4 291.7h0M451.2 277.6h0M451.8 286.5h0M438.6 279.9h0M450.4 290.8h0M435.9 294.4h0M439.4 282.3h0M437.1 280.6h0M446.8 269.7h0M428.2 297.0h0M441.0 273.6h0M447.0 302.5h0M441.3 295.0h0M461.1 281.6h0M460.0 294.3h0M439.7 272.8h0M456.3 289.2h0M439.9 289.7h0M442.6 293.9h0M447.8 289.4h0M437.7 280.3h0M445.3 273.5h0M440.3 298.6h0M438.2 299.8h0M442.1 281.5h0M450.8 297.1h0M427.9 289.5h0M450.5 285.1h0M450.5 291.7h0M454.7 280.7h0M439.1 276.6h0" stroke="#ece130" stroke-width="1.75" stroke-linecap="round" fill="none"/>
<path d="M438.0 277.0h0" stroke="#9c1214" stroke-width="1.75" stroke-linecap="round" fill="none"/>
<path d="M442.7 308.6h0M452.2 280.8h0M445.8 271.6h0M442.4 303.9h0M428.9 300.1h0M452.1 303.1h0M437.9 299.9h0M438.2 299.3h0M452.2 295.5h0M437.0 304.3h0M461.0 290.5h0" stroke="#2150b3" stroke-width="1.75" stroke-linecap="round" fill="none"/>
<path d="M445.7 287.2h0M460.2 281.7h0M433.9 274.2h0M451.3 290.3h0M458.0 297.2h0M452.2 289.7h0M464.0 286.6h0" stroke="#e3561b" stroke-width="1.75" stroke-linecap="round" fill="none"/>
<path d="M441.5 300.6h0M442.1 288.6h0" stroke="#c33217" stroke-width="1.75" stroke-linecap="round" fill="none"/>
<path d="M451.7 273.3h0M449.6 275.1h0M447.0 290.0h0M443.4 288.7h0M430.2 273.2h0M434.6 287.6h0M443.7 294.1h0M430.4 285.9h0M431.9 297.7h0M447.0 292.6h0M453.1 287.7h0M445.6 271.2h0M442.0 302.6h0M446.3 294.6h0M432.8 292.2h0M430.2 299.4h0M446.3 272.0h0M438.3 281.2h0M430.0 278.6h0M428.2 295.2h0M444.8 282.2h0M455.3 279.4h0M453.1 287.9h0M428.2 286.0h0M433.7 277.0h0M440.2 269.9h0M430.6 287.6h0M434.6 278.5h0M459.8 288.1h0M437.4 297.3h0M445.7 282.5h0M439.3 274.2h0M433.8 277.7h0" stroke="#ccdc40" stroke-width="1.75" stroke-linecap="round" fill="none"/>
<path d="M455.9 285.3h0M441.0 283.1h0M442.6 268.0h0M451.3 292.7h0M446.8 292.0h0M457.9 282.4h0M445.0 303.9h0M445.3 274.4h0M439.7 278.8h0M453.5 275.0h0M437.8 291.4h0M450.5 274.2h0M447.0 292.1h0M451.8 297.3h0M450.7 289.7h0M440.0 293.5h0M459.9 291.7h0M443.4 283.9h0M446.8 305.3h0M438.7 303.5h0M454.9 290.5h0M438.8 291.8h0M444.4 282.4h0M458.4 287.8h0M444.0 298.6h0M450.2 287.8h0M448.4 285.1h0" stroke="#f6ae23" stroke-width="1.75" stroke-linecap="round" fill="none"/>
<path d="M434.4 296.1h0M446.7 273.3h0M432.1 292.2h0M452.6 290.0h0M440.6 297.8h0M437.2 274.0h0" stroke="#87cc92" stroke-width="1.75" stroke-linecap="round" fill="none"/>
<path d="M457.2 283.9h0M442.4 297.3h0M439.2 268.7h0M453.3 292.2h0M431.6 278.5h0M444.3 274.0h0M445.8 276.4h0M445.4 293.3h0M440.2 296.9h0M456.4 293.0h0M455.3 294.4h0M460.6 281.1h0M431.7 284.8h0M461.2 288.9h0M455.3 294.1h0M449.1 289.4h0M428.9 288.1h0M443.6 293.8h0M451.0 281.9h0M440.7 276.2h0M438.2 288.1h0M439.6 289.5h0M442.4 284.1h0M445.8 271.0h0M442.1 289.9h0M447.9 281.8h0M427.6 292.1h0M456.6 290.5h0M426.4 292.1h0M448.8 283.7h0" stroke="#abd65a" stroke-width="1.75" stroke-linecap="round" fill="none"/>
<path d="M452.5 286.9h0" stroke="#67bfc1" stroke-width="1.75" stroke-linecap="round" fill="none"/>
<path d="M446.2 304.0h0M442.9 296.3h0" stroke="#52a9d6" stroke-width="1.75" stroke-linecap="round" fill="none"/>
<path d="M439.5 272.4h0" stroke="#408ed7" stroke-width="1.75" stroke-linecap="round" fill="none"/>
<path d="M440.3 296.8h0M444.2 289.9h0M429.3 296.6h0M438.9 287.5h0M440.7 271.3h0M441.1 278.2h0M450.1 270.3h0M444.0 285.8h0M437.1 274.8h0M434.2 304.6h0M439.6 290.5h0M444.7 289.5h0M456.9 276.5h0M444.0 290.0h0M460.0 279.6h0M458.4 287.8h0M430.4 289.7h0M429.1 275.9h0M452.4 298.0h0M450.8 291.3h0M453.9 271.8h0M442.7 300.5h0M458.4 292.3h0M434.6 282.9h0M461.2 292.0h0M438.4 272.8h0M433.9 283.5h0M454.3 280.1h0M447.7 280.7h0M442.6 295.4h0M445.0 302.6h0M435.8 284.1h0M448.3 295.4h0M442.8 294.4h0M443.4 303.2h0M444.7 292.0h0M432.1 296.4h0M435.3 279.0h0M443.0 306.2h0M437.2 300.8h0M452.4 298.1h0M450.9 284.7h0" stroke="#f5cb28" stroke-width="1.75" stroke-linecap="round" fill="none"/>
<path d="M460.4 279.5h0M450.3 281.7h0M434.7 285.4h0M428.4 288.2h0M454.0 275.6h0M430.0 279.0h0M450.9 292.6h0M445.3 280.3h0M454.2 291.1h0M442.1 277.1h0M446.6 288.5h0M445.1 292.1h0M461.2 284.0h0M441.6 299.1h0M443.8 307.5h0M441.2 269.6h0M436.4 278.6h0M446.2 282.3h0M446.3 285.3h0M445.8 297.2h0M463.6 291.0h0M464.4 287.0h0" stroke="#ee841f" stroke-width="1.75" stroke-linecap="round" fill="none"/>
<path d="M437.3 276.2h0M452.0 272.1h0M428.1 296.8h0M454.8 277.2h0M438.6 269.5h0M427.6 294.0h0M431.9 294.1h0M438.9 305.1h0M443.8 305.0h0M428.4 281.8h0M455.5 276.5h0M434.5 269.8h0M449.6 270.5h0M432.6 300.7h0M442.0 306.4h0M429.2 277.9h0M451.0 299.7h0M447.5 303.0h0M432.7 287.9h0M440.8 300.5h0M435.3 270.0h0M427.9 294.0h0M436.3 304.3h0M453.9 271.6h0M461.6 284.9h0M427.9 297.2h0M449.6 274.0h0M436.7 301.4h0" stroke="#1c2a8c" stroke-width="1.75" stroke-linecap="round" fill="none"/>
<path d="M459.0 276.7h0M432.0 271.6h0M427.3 290.3h0M443.0 306.0h0M442.4 307.7h0M435.8 302.5h0M444.8 306.1h0M432.2 272.2h0M435.8 269.8h0M432.5 288.0h0M459.4 282.1h0M429.8 276.2h0M427.0 286.3h0M434.8 304.4h0M447.0 272.0h0M429.5 299.0h0M433.0 297.9h0M460.2 279.1h0M447.8 273.1h0M440.6 306.3h0M440.1 306.9h0M427.9 283.6h0M437.8 298.3h0M451.3 275.3h0M448.6 270.7h0M431.9 273.2h0M459.6 279.4h0M436.4 303.3h0M461.7 284.2h0M451.7 302.3h0M461.3 282.5h0M434.1 302.0h0M454.5 299.1h0M456.8 297.3h0M426.1 283.3h0M445.4 295.7h0M455.6 281.4h0M447.4 282.8h0M427.5 297.3h0M433.9 299.2h0M426.9 287.5h0M460.7 294.3h0M448.9 305.3h0M441.8 294.3h0M456.8 292.8h0M438.4 303.8h0M433.8 301.8h0M437.5 302.7h0M440.3 270.1h0M439.5 306.8h0M429.6 283.1h0M428.4 292.6h0M449.9 301.4h0M443.8 310.2h0" stroke="#1f3da0" stroke-width="1.75" stroke-linecap="round" fill="none"/>
<path d="M462.4 292.1h0M443.5 300.8h0M435.6 275.2h0M455.6 279.5h0M435.1 297.2h0M448.4 270.5h0M432.5 271.4h0M461.3 282.6h0M431.7 300.4h0M430.3 277.9h0M452.1 278.1h0M430.1 284.3h0M456.6 298.5h0M461.3 289.8h0M438.0 305.9h0M457.0 286.3h0M442.0 306.8h0M446.4 301.7h0M426.4 294.0h0M457.0 276.3h0M433.9 271.3h0M461.0 280.9h0M440.3 303.9h0M435.6 301.3h0" stroke="#1c2a8c" stroke-width="1.75" stroke-linecap="round" fill="none"/>
<path d="M440.6 302.4h0M441.5 271.1h0M437.6 276.2h0" stroke="#c33217" stroke-width="1.75" stroke-linecap="round" fill="none"/>
<path d="M454.2 288.1h0M454.2 275.4h0M443.5 280.8h0M446.9 294.4h0M443.7 279.4h0M430.5 283.8h0M433.4 294.0h0M440.1 283.5h0M438.4 304.4h0M444.9 268.4h0M448.3 291.3h0M427.2 281.2h0M426.7 280.6h0M431.5 294.6h0M427.1 288.4h0M434.2 275.2h0M450.2 275.2h0M436.9 287.2h0M440.5 280.9h0M446.7 299.1h0M435.3 282.5h0M459.6 282.5h0M448.3 286.4h0M443.6 304.9h0M454.9 295.9h0M438.9 296.2h0M451.5 299.1h0M427.3 288.8h0M441.4 277.3h0M455.4 288.3h0M432.5 293.0h0M428.8 275.0h0M442.2 276.8h0M438.1 290.4h0M451.8 279.3h0M442.3 288.4h0M449.1 292.9h0M435.2 292.0h0M440.7 292.8h0" stroke="#ccdc40" stroke-width="1.75" stroke-linecap="round" fill="none"/>
<path d="M451.0 272.7h0M448.2 275.2h0M453.1 286.6h0M460.2 283.8h0M441.6 278.5h0M441.2 303.9h0M441.8 277.4h0M439.7 289.8h0M434.3 282.6h0M442.6 289.3h0M434.7 285.7h0M456.5 287.6h0M442.1 279.8h0M448.9 281.7h0M444.6 283.4h0M442.0 295.1h0M439.9 286.9h0M437.1 286.5h0M454.1 287.5h0M443.4 297.2h0M437.4 283.5h0" stroke="#abd65a" stroke-width="1.75" stroke-linecap="round" fill="none"/>
<path d="M429.4 295.8h0M447.7 296.2h0M430.1 291.7h0M426.8 286.2h0M453.7 272.0h0M444.7 276.9h0M446.0 273.2h0M454.7 297.2h0M440.1 285.8h0M449.5 285.6h0M443.2 276.7h0M444.0 286.3h0M448.0 290.1h0M440.0 296.9h0M454.5 286.1h0M449.3 286.2h0M441.9 297.0h0M441.0 298.9h0M437.9 286.9h0M453.5 286.0h0M438.2 283.0h0M446.6 276.4h0M445.2 304.8h0M437.6 280.4h0M453.2 282.7h0M441.5 276.6h0M428.9 290.7h0M438.5 280.9h0M434.5 272.2h0M441.1 289.5h0M436.0 276.7h0M451.4 285.2h0M434.3 301.5h0M448.8 293.2h0" stroke="#f6ae23" stroke-width="1.75" stroke-linecap="round" fill="none"/>
<path d="M441.0 288.4h0M449.8 277.6h0M434.9 289.7h0M444.9 272.5h0M449.6 300.3h0M457.5 274.9h0" stroke="#e3561b" stroke-width="1.75" stroke-linecap="round" fill="none"/>
<path d="M449.1 302.4h0" stroke="#9c1214" stroke-width="1.75" stroke-linecap="round" fill="none"/>
<path d="M461.8 281.3h0M438.5 280.3h0M437.9 278.9h0M449.6 288.2h0M433.1 283.7h0M433.0 277.9h0M460.0 289.0h0M449.5 298.2h0M439.1 293.5h0M436.0 296.1h0" stroke="#87cc92" stroke-width="1.75" stroke-linecap="round" fill="none"/>
<path d="M438.6 300.4h0M438.2 273.1h0M438.9 283.0h0M449.8 292.1h0M448.3 274.8h0M435.4 291.6h0M456.5 285.4h0M459.2 295.2h0M458.8 281.3h0M435.8 280.3h0M441.3 292.9h0M445.0 299.4h0M455.5 283.6h0M453.4 284.6h0M437.7 280.4h0M438.6 278.2h0M438.9 270.6h0M450.4 290.8h0M431.4 277.3h0M431.5 281.7h0M449.0 277.2h0M441.5 294.6h0M449.9 282.1h0M433.0 297.6h0M440.5 275.3h0M451.7 279.6h0M459.7 286.8h0M436.9 283.3h0M444.5 295.1h0M443.8 302.4h0M443.6 298.0h0M451.6 296.6h0M436.4 283.9h0M448.6 299.5h0M445.2 274.1h0M447.8 283.5h0M455.5 298.2h0M450.0 293.8h0M439.7 295.6h0M441.7 287.6h0M439.4 293.9h0M434.0 291.6h0M443.4 280.5h0M452.4 290.5h0M449.7 293.8h0M456.9 286.0h0M448.0 281.5h0M441.6 275.7h0M445.4 279.8h0M432.5 288.7h0M442.6 290.5h0M441.1 275.9h0M461.7 279.8h0" stroke="#ece130" stroke-width="1.75" stroke-linecap="round" fill="none"/>
<path d="M448.6 299.7h0M445.1 301.7h0M454.2 299.8h0M437.3 287.0h0M437.0 301.1h0M441.1 299.4h0M455.8 297.9h0M449.1 301.7h0M459.8 283.9h0M458.5 274.4h0" stroke="#2150b3" stroke-width="1.75" stroke-linecap="round" fill="none"/>
<path d="M451.8 278.1h0M431.5 281.2h0M442.1 276.6h0M448.9 278.6h0M452.4 278.2h0M451.1 294.3h0M445.1 291.9h0M461.6 280.0h0M436.9 280.0h0M446.6 270.5h0M461.1 286.3h0M452.4 294.2h0M442.7 296.3h0M449.0 296.3h0M443.0 294.3h0M430.5 288.5h0M443.7 284.4h0M439.5 273.8h0M452.9 290.7h0M434.9 300.9h0M429.7 290.5h0M444.7 297.1h0M444.5 274.9h0M450.2 295.4h0M445.4 304.2h0M439.8 278.0h0M454.1 289.3h0M429.7 290.2h0M455.2 284.0h0M444.3 282.6h0M447.2 279.0h0M445.1 290.9h0M447.5 294.2h0M439.2 288.0h0M451.6 281.8h0M432.6 283.2h0M459.5 280.4h0M434.6 280.4h0M456.2 276.2h0M443.5 281.8h0M448.8 304.5h0M453.8 279.3h0M447.6 285.3h0M428.5 294.1h0" stroke="#f5cb28" stroke-width="1.75" stroke-linecap="round" fill="none"/>
<path d="M456.4 280.0h0M454.0 280.1h0M457.7 286.1h0M455.4 273.5h0M439.3 279.8h0M456.8 284.4h0M455.8 296.1h0M440.5 279.6h0M445.9 303.9h0M437.4 295.9h0M445.1 275.4h0M436.0 269.6h0" stroke="#ee841f" stroke-width="1.75" stroke-linecap="round" fill="none"/>
<path d="M428.4 298.9h0M455.9 298.3h0M438.3 269.3h0M441.2 304.7h0M453.7 271.5h0M427.1 293.1h0M449.9 302.1h0M461.9 280.5h0M444.0 307.4h0M428.5 278.6h0M455.7 293.4h0M439.1 300.5h0M443.7 305.3h0M430.2 285.8h0M443.4 299.6h0M429.7 273.4h0M441.2 306.1h0M460.9 286.3h0M449.7 278.8h0M429.7 299.8h0M431.8 287.9h0M447.4 301.8h0M427.2 288.0h0M461.2 284.2h0M461.5 293.1h0M451.7 271.3h0M445.3 307.7h0M433.5 298.1h0M431.2 279.2h0M455.5 273.3h0M454.5 299.1h0M448.2 269.3h0M439.9 300.4h0M442.5 274.5h0M448.2 299.9h0M460.2 295.1h0M452.1 300.8h0M443.4 276.9h0M456.0 293.2h0M432.2 298.0h0M435.7 269.4h0M436.8 307.5h0M428.1 296.9h0M437.1 309.0h0M428.9 299.1h0" stroke="#1f3da0" stroke-width="1.75" stroke-linecap="round" fill="none"/>
<path d="M444.6 291.9h0M433.8 298.0h0" stroke="#67bfc1" stroke-width="1.75" stroke-linecap="round" fill="none"/>
<path d="M450.6 282.7h0M428.9 275.5h0M459.5 287.8h0M428.2 290.8h0M456.5 282.3h0M444.6 298.4h0M438.7 286.2h0M449.3 275.5h0M431.3 281.5h0M426.2 288.7h0M436.9 281.3h0M450.9 277.7h0M455.3 285.6h0M441.7 273.7h0M435.7 290.9h0M453.0 284.3h0M448.1 284.3h0M458.9 277.2h0M445.5 290.4h0M428.9 291.4h0M464.0 291.6h0" stroke="#ee841f" stroke-width="1.75" stroke-linecap="round" fill="none"/>
<path d="M449.6 299.3h0M446.9 274.9h0M435.8 273.6h0M436.0 294.3h0M459.8 290.5h0M448.5 294.7h0M447.1 286.7h0M435.0 299.1h0M456.5 286.6h0M438.8 283.5h0M459.7 293.6h0M449.4 286.7h0M441.5 292.4h0M440.8 297.9h0M429.6 276.7h0M439.8 277.6h0M426.3 292.1h0M458.4 278.9h0M439.7 303.7h0M441.3 298.4h0M444.4 302.4h0M444.2 280.1h0M452.0 286.4h0M445.8 270.2h0M448.0 276.6h0M447.5 296.5h0M456.6 276.2h0M445.5 286.7h0M458.3 290.0h0M448.0 292.7h0M453.8 279.2h0M446.6 294.0h0M434.7 284.6h0M439.3 289.3h0M448.2 281.1h0M440.0 281.8h0M452.0 279.3h0M433.9 274.8h0M441.6 274.6h0M437.9 298.3h0M434.3 276.2h0M446.0 298.8h0M439.8 285.3h0M448.0 276.1h0M447.2 278.7h0M458.3 282.4h0M452.5 301.1h0M429.9 281.0h0M446.7 300.7h0M450.6 277.8h0M443.3 295.1h0M435.4 291.8h0M445.6 274.2h0M456.7 296.4h0M437.2 287.3h0M433.3 291.4h0M438.8 293.7h0M447.1 273.6h0M434.1 296.6h0M461.8 287.4h0M445.1 292.5h0M440.3 295.8h0M430.4 290.9h0M434.2 280.3h0M437.8 286.4h0" stroke="#ece130" stroke-width="1.75" stroke-linecap="round" fill="none"/>
<path d="M428.0 292.8h0M446.8 288.7h0M455.8 289.9h0M432.8 276.0h0M445.5 308.0h0M442.4 290.8h0M434.7 269.8h0M458.1 284.9h0M443.6 272.9h0M445.2 305.9h0M441.4 270.9h0M460.3 291.0h0M441.7 299.4h0M436.3 271.1h0M439.7 274.4h0M437.2 305.3h0M441.3 271.0h0M433.9 270.5h0M426.6 286.9h0M430.0 299.7h0M428.2 279.2h0M437.8 306.1h0M448.6 298.1h0M429.5 280.8h0M462.0 281.5h0M438.0 283.8h0M462.4 288.0h0M452.8 300.7h0M433.7 300.4h0M430.1 295.3h0M434.3 299.4h0M428.9 297.8h0M461.3 282.8h0M462.0 281.5h0M430.9 289.0h0M427.9 298.3h0M458.7 296.2h0M434.9 273.4h0M460.7 294.2h0M443.1 303.0h0M434.5 303.1h0M456.1 279.6h0M429.3 295.7h0M432.4 301.7h0M457.2 273.6h0M457.7 305.1h0" stroke="#1f3da0" stroke-width="1.75" stroke-linecap="round" fill="none"/>
<path d="M446.4 296.5h0M445.3 298.3h0M438.4 298.1h0M456.4 288.6h0M437.6 281.7h0M448.1 294.2h0M453.7 283.6h0M438.4 277.3h0M434.3 277.3h0M449.4 295.8h0M446.3 305.2h0M442.7 276.9h0M462.8 285.5h0M430.1 287.5h0M447.4 290.9h0M454.4 275.8h0M434.8 273.6h0M460.6 294.7h0M443.1 295.0h0M448.7 295.0h0M439.4 291.9h0M452.1 285.5h0M455.7 274.4h0M433.9 278.9h0M445.6 277.7h0M431.4 292.5h0M439.9 292.6h0M433.9 283.2h0M436.3 303.2h0" stroke="#ccdc40" stroke-width="1.75" stroke-linecap="round" fill="none"/>
<path d="M438.9 300.2h0M434.1 270.8h0M440.1 308.0h0M455.3 282.5h0M431.3 275.9h0M430.2 291.8h0M455.4 275.1h0M439.8 304.0h0M444.4 305.1h0M426.2 286.9h0M454.4 282.5h0M433.5 275.5h0M442.6 301.7h0M429.2 275.9h0" stroke="#2150b3" stroke-width="1.75" stroke-linecap="round" fill="none"/>
<path d="M448.7 283.7h0M457.1 294.5h0M438.7 306.7h0M432.6 290.8h0M445.5 280.8h0M444.0 302.7h0M448.8 269.4h0M438.8 294.1h0M462.2 292.6h0M430.2 285.3h0M446.3 274.5h0M451.6 285.1h0M440.3 291.0h0M460.5 284.8h0M435.4 288.5h0M456.9 297.1h0M433.6 281.0h0M446.6 272.1h0M441.8 294.3h0M441.3 303.6h0M442.7 291.2h0M454.9 290.3h0M425.8 286.2h0M440.4 290.2h0M440.2 271.4h0M457.1 294.1h0M442.9 300.7h0M448.7 288.2h0M456.9 281.9h0M438.3 288.7h0M440.8 281.9h0M436.2 284.4h0M433.7 291.0h0M445.3 275.6h0M444.7 285.8h0M462.9 289.2h0M455.8 282.5h0M448.6 290.6h0M459.7 285.0h0" stroke="#f5cb28" stroke-width="1.75" stroke-linecap="round" fill="none"/>
<path d="M447.0 287.6h0M442.5 300.9h0M436.6 300.5h0M433.4 295.1h0M451.3 296.2h0M444.7 291.1h0M430.7 296.3h0M443.8 274.6h0M435.0 280.4h0M444.6 295.2h0M439.4 302.2h0M434.5 276.1h0M434.2 274.7h0M435.8 291.4h0M436.1 279.5h0M448.6 286.4h0M440.5 291.9h0M448.3 296.7h0M458.5 279.6h0M458.3 287.1h0M435.9 291.0h0M440.1 271.0h0M433.1 286.7h0M436.8 295.1h0M437.7 277.4h0M440.4 302.0h0M449.0 293.9h0M446.6 281.5h0M446.6 297.0h0M449.4 272.5h0M448.6 283.6h0M463.6 288.7h0" stroke="#f6ae23" stroke-width="1.75" stroke-linecap="round" fill="none"/>
<path d="M430.4 276.3h0M432.9 301.2h0M456.2 289.4h0M431.8 292.7h0M430.1 281.3h0M438.1 293.5h0M437.9 275.7h0M441.2 291.2h0M445.9 277.0h0M453.9 280.6h0" stroke="#87cc92" stroke-width="1.75" stroke-linecap="round" fill="none"/>
<path d="M463.1 284.6h0M447.2 274.7h0M448.5 303.1h0M455.7 276.2h0M454.4 277.5h0M428.8 298.6h0M429.8 278.7h0M430.8 282.6h0M434.4 302.1h0M438.5 303.1h0M454.6 299.3h0M426.9 288.7h0M460.6 281.7h0M428.8 282.2h0M448.0 301.7h0M453.8 288.1h0M437.6 300.9h0M438.7 305.8h0M436.5 272.0h0M449.4 272.7h0M450.2 293.1h0M462.3 284.7h0M451.1 271.2h0" stroke="#1c2a8c" stroke-width="1.75" stroke-linecap="round" fill="none"/>
<path d="M446.4 276.9h0M448.4 289.7h0M446.3 276.4h0M464.3 291.7h0M463.3 290.4h0M464.8 288.5h0M464.4 290.3h0" stroke="#e3561b" stroke-width="1.75" stroke-linecap="round" fill="none"/>
<path d="M447.6 281.9h0M442.8 305.7h0M454.8 293.6h0" stroke="#67bfc1" stroke-width="1.75" stroke-linecap="round" fill="none"/>
<path d="M438.3 283.9h0" stroke="#52a9d6" stroke-width="1.75" stroke-linecap="round" fill="none"/>
<path d="M463.6 289.3h0" stroke="#9c1214" stroke-width="1.75" stroke-linecap="round" fill="none"/>
<path d="M438.3 288.4h0" stroke="#408ed7" stroke-width="1.75" stroke-linecap="round" fill="none"/>
<path d="M444.7 280.0h0M456.6 294.6h0M444.1 281.6h0M438.5 302.9h0M439.4 272.4h0M442.5 286.6h0M450.2 294.4h0M450.4 293.1h0M440.7 301.7h0M437.3 281.9h0M460.5 290.4h0M454.9 285.3h0M436.7 269.5h0M460.2 281.0h0M435.2 300.0h0M442.6 302.4h0M451.1 278.1h0M453.3 282.1h0" stroke="#abd65a" stroke-width="1.75" stroke-linecap="round" fill="none"/>
<path d="M436.9 303.9h0M447.1 269.5h0M441.7 303.3h0M438.3 304.4h0M448.2 271.1h0M426.9 289.5h0M451.6 300.5h0M426.7 281.4h0M461.9 290.3h0M435.6 300.8h0M461.1 286.8h0M451.6 300.0h0M427.4 289.8h0M433.6 302.7h0M458.0 275.2h0M459.5 281.4h0M452.6 292.6h0M438.7 299.0h0" stroke="#1c2a8c" stroke-width="1.75" stroke-linecap="round" fill="none"/>
<path d="M437.0 293.9h0M442.0 291.2h0M449.7 288.7h0M436.6 287.2h0M456.9 289.8h0M452.0 301.4h0M460.5 294.4h0M458.3 285.8h0M440.3 289.6h0M447.5 286.3h0M446.7 271.3h0M437.0 299.9h0M453.7 274.6h0M456.9 277.6h0M456.2 283.8h0M429.7 276.7h0M455.5 288.6h0M436.2 298.4h0M453.8 299.1h0M460.1 290.3h0M451.7 302.2h0M447.5 295.2h0M439.5 290.7h0M458.4 288.6h0M427.4 296.1h0M434.3 292.7h0M431.9 279.8h0M436.7 283.6h0M443.0 271.6h0M431.7 271.3h0M433.4 301.4h0M455.4 283.5h0M446.7 286.1h0M446.3 305.9h0M437.2 274.6h0M448.7 295.6h0M450.7 282.0h0M447.2 290.7h0M447.3 273.6h0M459.9 288.8h0M449.9 293.9h0M456.3 286.6h0M442.5 284.5h0M442.6 292.3h0M442.8 301.7h0M462.6 283.8h0M450.1 276.3h0M448.6 291.1h0M431.2 295.4h0M427.5 277.1h0" stroke="#ece130" stroke-width="1.75" stroke-linecap="round" fill="none"/>
<path d="M442.8 271.2h0M440.6 295.8h0M432.7 275.9h0M434.6 279.2h0M438.5 286.5h0M459.8 282.2h0M452.1 280.8h0M449.1 271.3h0M436.3 276.9h0M459.6 292.9h0M448.8 299.2h0M444.6 282.2h0M441.4 293.3h0M435.0 270.4h0M451.8 279.9h0M448.9 298.2h0M435.9 300.9h0M447.4 275.1h0M459.4 285.4h0M446.8 300.1h0M439.3 306.6h0M445.7 272.1h0M441.0 293.5h0M452.7 288.0h0M445.7 284.3h0M447.1 295.2h0M436.2 275.0h0M431.8 280.9h0M450.4 269.8h0M454.0 298.7h0M456.1 292.1h0M440.9 284.8h0M451.6 273.8h0M457.5 278.2h0M448.7 277.4h0" stroke="#ccdc40" stroke-width="1.75" stroke-linecap="round" fill="none"/>
<path d="M437.4 296.9h0M427.7 283.4h0M432.7 272.2h0M438.7 306.5h0M431.0 287.7h0M436.7 286.2h0" stroke="#e3561b" stroke-width="1.75" stroke-linecap="round" fill="none"/>
<path d="M449.0 287.7h0M429.3 293.6h0M436.8 287.0h0M441.1 284.1h0M434.7 292.8h0M449.2 273.7h0M462.7 291.0h0M439.9 284.4h0M452.7 296.1h0M457.4 284.3h0M445.3 288.4h0M451.2 284.3h0M456.4 278.6h0M453.7 281.2h0M432.8 280.4h0M440.8 283.2h0M453.0 280.6h0M455.9 293.1h0M433.8 283.2h0M444.4 277.6h0M430.0 278.1h0M433.2 278.5h0M456.3 296.6h0M441.5 303.9h0M442.9 302.1h0M432.2 280.9h0M444.8 296.3h0M428.4 279.6h0M435.1 307.1h0" stroke="#abd65a" stroke-width="1.75" stroke-linecap="round" fill="none"/>
<path d="M443.2 282.2h0M444.6 274.5h0M454.9 293.1h0M433.4 275.3h0M449.7 279.2h0M459.3 285.9h0M451.7 285.5h0M439.2 280.1h0M444.8 295.2h0M438.9 293.6h0M433.8 291.1h0" stroke="#87cc92" stroke-width="1.75" stroke-linecap="round" fill="none"/>
<path d="M455.3 276.3h0M439.6 306.4h0M461.2 279.2h0M456.8 274.3h0M428.7 299.8h0M454.9 275.9h0M428.9 295.5h0M445.7 276.9h0M439.5 306.4h0M456.3 273.6h0M452.9 271.9h0" stroke="#2150b3" stroke-width="1.75" stroke-linecap="round" fill="none"/>
<path d="M439.5 288.6h0M429.5 285.8h0M433.1 288.8h0M458.0 278.8h0" stroke="#67bfc1" stroke-width="1.75" stroke-linecap="round" fill="none"/>
<path d="M438.4 299.2h0M451.0 289.9h0M447.8 294.5h0M453.6 279.2h0M433.9 285.1h0M442.6 281.8h0M445.8 273.6h0M454.7 289.3h0M443.2 281.6h0M430.3 278.9h0M432.6 278.3h0M439.2 295.0h0M429.6 283.8h0M438.6 271.7h0M446.5 301.0h0M443.5 278.4h0M427.9 276.4h0" stroke="#ee841f" stroke-width="1.75" stroke-linecap="round" fill="none"/>
<path d="M447.5 298.2h0M448.9 273.0h0M447.1 282.5h0M437.2 279.1h0M432.5 293.6h0M451.4 295.8h0M446.3 271.8h0M444.6 295.6h0M451.8 289.0h0M448.9 282.2h0M432.0 295.3h0M442.2 300.6h0M462.5 281.5h0M457.4 283.8h0M439.0 290.3h0M436.8 281.0h0M452.4 291.6h0M426.9 280.2h0M446.4 298.2h0M451.2 302.3h0M435.0 287.4h0M433.0 272.6h0M440.8 272.1h0M452.4 281.7h0M452.3 291.3h0M434.7 273.6h0M442.4 281.7h0M434.5 295.9h0M445.1 282.7h0M456.1 286.2h0M452.7 280.7h0M462.0 280.5h0" stroke="#f5cb28" stroke-width="1.75" stroke-linecap="round" fill="none"/>
<path d="M430.7 301.5h0M455.9 273.1h0M429.5 300.7h0M458.4 296.9h0M452.5 298.2h0M426.1 291.7h0M454.2 274.5h0M440.4 269.0h0M437.6 270.9h0M430.9 296.2h0M444.7 299.9h0M439.6 268.7h0M456.5 294.8h0M444.9 308.4h0M446.1 304.0h0M440.5 299.9h0M436.2 274.0h0M428.4 288.9h0M447.1 306.1h0M441.8 270.6h0M454.1 299.8h0M435.8 300.0h0M456.3 295.0h0M434.8 304.0h0M445.7 270.2h0M452.3 302.7h0M457.4 275.9h0M442.4 306.2h0M428.9 284.9h0M435.3 304.6h0M444.4 268.3h0M446.8 268.2h0M454.0 275.4h0M447.3 268.8h0M457.1 275.9h0M436.6 278.1h0M426.5 283.1h0M451.6 278.3h0M435.9 304.9h0M441.9 304.6h0M443.3 267.0h0M447.1 310.9h0M456.0 269.9h0M450.0 267.0h0M434.8 271.3h0" stroke="#1f3da0" stroke-width="1.75" stroke-linecap="round" fill="none"/>
<path d="M430.9 285.0h0M438.6 290.9h0M439.9 270.9h0M448.9 298.2h0M454.2 297.8h0M447.6 280.2h0M448.3 277.4h0M433.8 301.6h0M440.8 297.2h0M442.5 269.1h0M458.6 292.0h0M438.5 270.6h0M453.6 292.7h0M443.0 287.6h0M447.2 293.7h0M430.3 286.5h0M434.2 299.9h0M447.2 271.8h0M444.2 277.6h0M427.8 286.2h0M449.9 276.0h0M446.6 276.1h0M445.9 291.8h0M426.3 282.7h0M430.5 295.2h0M440.9 287.3h0M433.5 290.1h0M447.3 273.4h0M444.7 277.0h0" stroke="#f6ae23" stroke-width="1.75" stroke-linecap="round" fill="none"/>
<path d="M441.3 303.2h0M440.0 269.0h0M426.4 289.7h0M452.0 298.3h0M450.4 302.2h0M435.7 270.6h0M461.3 281.0h0M452.6 270.3h0M436.8 283.7h0M451.0 273.4h0M454.1 285.2h0M456.9 277.6h0M462.7 289.3h0M462.8 291.5h0" stroke="#2150b3" stroke-width="1.75" stroke-linecap="round" fill="none"/>
<path d="M438.2 298.2h0" stroke="#9c1214" stroke-width="1.75" stroke-linecap="round" fill="none"/>
<path d="M435.5 290.8h0M438.3 286.6h0M458.4 286.2h0M448.0 271.8h0M442.6 286.2h0M463.7 288.7h0" stroke="#c33217" stroke-width="1.75" stroke-linecap="round" fill="none"/>
<path d="M455.2 294.2h0M448.8 286.1h0M433.3 278.2h0M462.3 286.2h0M451.1 273.9h0M448.6 285.8h0M443.2 287.0h0M440.8 291.0h0M449.4 286.8h0M428.3 286.8h0M435.4 295.8h0M435.1 275.9h0M439.6 285.2h0M453.7 279.1h0M425.7 288.2h0M460.4 289.9h0M427.0 288.7h0M451.2 300.2h0M452.7 284.6h0M439.6 285.6h0M441.6 289.9h0" stroke="#f6ae23" stroke-width="1.75" stroke-linecap="round" fill="none"/>
<path d="M446.6 274.7h0M434.9 279.3h0M449.2 282.6h0M440.0 293.8h0M441.2 282.5h0M438.6 293.7h0M460.5 287.7h0M460.3 288.9h0M431.1 300.9h0M450.5 290.7h0M454.3 294.0h0M432.0 289.0h0M463.8 289.3h0" stroke="#ee841f" stroke-width="1.75" stroke-linecap="round" fill="none"/>
<path d="M435.7 301.8h0M435.2 298.8h0M451.4 274.5h0M434.2 273.4h0M441.8 278.0h0M447.7 275.9h0M432.1 295.2h0M437.8 278.2h0M441.4 297.3h0M447.4 285.6h0M451.5 279.5h0M443.7 286.5h0M438.5 284.8h0M435.0 279.8h0M448.8 291.5h0M437.9 300.3h0M436.8 295.9h0M434.2 288.5h0M440.6 293.8h0M427.3 284.9h0M448.7 292.1h0M444.7 286.3h0M443.1 302.5h0M460.4 293.8h0M437.0 273.9h0M437.9 274.7h0M457.0 292.5h0M440.4 295.0h0M434.9 277.3h0M455.8 290.7h0M454.1 284.2h0M449.2 288.3h0M447.8 293.3h0M436.7 278.6h0M430.3 276.8h0" stroke="#f5cb28" stroke-width="1.75" stroke-linecap="round" fill="none"/>
<path d="M454.0 286.5h0M456.0 284.3h0M446.5 291.5h0M450.2 293.3h0M431.5 271.7h0M448.1 298.4h0M449.9 303.6h0M429.9 273.7h0M428.9 274.3h0M441.6 303.6h0M439.4 303.6h0M445.5 303.5h0M428.5 275.9h0M437.1 274.1h0M433.2 281.0h0M439.9 298.3h0M439.4 280.2h0M447.8 272.6h0M450.1 298.0h0M435.5 275.7h0M447.7 281.9h0M428.8 294.2h0M436.4 302.0h0M442.2 301.1h0M456.5 285.4h0M445.0 271.6h0M451.4 278.9h0M449.7 291.8h0M460.8 288.6h0M445.6 283.3h0M449.1 293.3h0M450.3 279.4h0M455.2 274.8h0" stroke="#ccdc40" stroke-width="1.75" stroke-linecap="round" fill="none"/>
<path d="M433.4 300.3h0M447.1 268.2h0M452.5 282.0h0M439.3 276.0h0M442.8 306.9h0M434.6 277.0h0M456.1 288.0h0M444.2 297.2h0M446.4 273.0h0M449.6 286.8h0M441.7 283.4h0M437.5 291.9h0M452.4 283.8h0M446.3 295.5h0M447.9 281.4h0M444.5 286.5h0M460.9 286.3h0M457.7 280.8h0M452.1 276.7h0M446.9 280.2h0M433.7 284.2h0M441.0 275.0h0M441.5 300.2h0M439.9 287.7h0" stroke="#abd65a" stroke-width="1.75" stroke-linecap="round" fill="none"/>
<path d="M437.9 274.6h0M458.9 290.1h0M435.6 302.3h0M453.1 299.2h0M428.9 290.9h0M440.7 306.7h0M449.3 272.3h0M428.6 279.5h0M430.8 292.6h0M437.4 299.8h0M438.0 273.8h0M451.6 295.3h0M447.8 300.5h0M436.7 305.4h0M446.3 283.9h0M429.9 280.0h0M436.0 271.3h0M429.3 298.3h0M443.5 270.8h0M449.5 270.0h0M437.9 306.7h0M428.0 295.9h0M432.0 300.0h0M436.3 269.4h0M430.0 295.8h0M437.7 270.7h0M440.7 300.3h0M457.4 285.8h0M446.5 269.1h0M437.5 301.9h0M448.6 305.6h0M429.3 288.4h0M425.7 285.4h0M433.0 297.6h0M456.8 275.9h0M453.7 281.2h0M432.5 303.3h0M426.4 288.8h0M455.3 283.0h0M450.6 300.1h0M429.8 300.9h0M440.7 269.8h0M431.0 276.4h0M441.9 297.7h0M456.6 297.4h0M431.2 302.4h0M441.6 309.1h0" stroke="#1f3da0" stroke-width="1.75" stroke-linecap="round" fill="none"/>
<path d="M439.5 281.0h0M447.7 289.1h0M447.1 273.9h0M434.4 291.1h0M450.0 288.8h0M441.2 269.6h0M435.8 285.5h0M459.5 280.2h0" stroke="#87cc92" stroke-width="1.75" stroke-linecap="round" fill="none"/>
<path d="M455.5 280.2h0M432.3 282.9h0M450.2 300.9h0" stroke="#67bfc1" stroke-width="1.75" stroke-linecap="round" fill="none"/>
<path d="M434.9 294.4h0M458.2 288.1h0M444.4 289.8h0M452.1 284.2h0M435.7 285.5h0M448.6 289.4h0M430.2 298.5h0M433.6 290.3h0M447.8 269.2h0M458.6 284.0h0M456.2 279.1h0M439.1 287.5h0M458.7 287.4h0M446.7 272.4h0M455.0 287.2h0M438.3 290.7h0M438.6 272.7h0M456.5 286.4h0M443.1 297.0h0M442.9 280.2h0M446.5 291.3h0M444.2 288.0h0M439.5 298.0h0M429.9 280.1h0M429.1 293.9h0M433.2 293.0h0M447.5 275.0h0M430.1 276.6h0M440.0 297.7h0M438.1 295.9h0M448.4 280.6h0M443.0 292.6h0M462.1 285.9h0M459.8 287.5h0M440.0 285.5h0M442.3 274.2h0M435.3 281.8h0M444.3 287.6h0M442.5 291.1h0M452.7 290.0h0M450.2 296.0h0" stroke="#ece130" stroke-width="1.75" stroke-linecap="round" fill="none"/>
<path d="M450.5 286.9h0M429.5 281.1h0M437.0 279.9h0M448.0 300.2h0M446.6 291.1h0M435.0 297.1h0M431.6 289.4h0M463.4 285.6h0M464.1 289.6h0" stroke="#e3561b" stroke-width="1.75" stroke-linecap="round" fill="none"/>
<path d="M438.1 277.4h0" stroke="#408ed7" stroke-width="1.75" stroke-linecap="round" fill="none"/>
<path d="M445.4 273.7h0M440.5 269.0h0M444.4 307.2h0M442.2 301.6h0M437.0 306.6h0M439.2 270.6h0M460.6 279.2h0M449.6 270.2h0M432.1 300.4h0M461.6 283.7h0M448.6 268.6h0M454.8 299.1h0M427.2 278.1h0M426.0 288.2h0M434.0 298.8h0M434.9 301.6h0M447.3 298.8h0M440.8 298.6h0M439.8 297.7h0M453.0 298.4h0M429.0 298.0h0M445.0 307.5h0M427.9 277.5h0M433.3 270.9h0M428.8 276.2h0" stroke="#1c2a8c" stroke-width="1.75" stroke-linecap="round" fill="none"/>
<line x1="424.5" y1="265.5" x2="424.5" y2="311.2" stroke="#111" stroke-width="1"/>
<line x1="423.7" y1="310.5" x2="467.8" y2="310.5" stroke="#111" stroke-width="1"/>
<line x1="421.3" y1="273.5" x2="424.2" y2="273.5" stroke="#111" stroke-width="0.9"/>
<text transform="translate(417.9,273.8) rotate(0.1)" x="0" y="1.89" font-size="5.4" text-anchor="end" fill="#222" stroke="#222" stroke-width="0.05">20</text>
<line x1="421.3" y1="287.5" x2="424.2" y2="287.5" stroke="#111" stroke-width="0.9"/>
<text transform="translate(417.9,287.4) rotate(0.1)" x="0" y="1.89" font-size="5.4" text-anchor="end" fill="#222" stroke="#222" stroke-width="0.05">0</text>
<line x1="421.3" y1="300.5" x2="424.2" y2="300.5" stroke="#111" stroke-width="0.9"/>
<text transform="translate(417.9,301) rotate(0.1)" x="0" y="1.89" font-size="5.4" text-anchor="end" fill="#222" stroke="#222" stroke-width="0.05">-20</text>
<line x1="434.5" y1="310.7" x2="434.5" y2="313.5" stroke="#111" stroke-width="0.9"/>
<text transform="translate(434.63,320.3) rotate(0.1)" x="0" y="1.89" font-size="5.4" text-anchor="middle" fill="#222" stroke="#222" stroke-width="0.05">-20</text>
<line x1="445.5" y1="310.7" x2="445.5" y2="313.5" stroke="#111" stroke-width="0.9"/>
<text transform="translate(445.2,320.3) rotate(0.1)" x="0" y="1.89" font-size="5.4" text-anchor="middle" fill="#222" stroke="#222" stroke-width="0.05">0</text>
<line x1="455.5" y1="310.7" x2="455.5" y2="313.5" stroke="#111" stroke-width="0.9"/>
<text transform="translate(455.77,320.3) rotate(0.1)" x="0" y="1.89" font-size="5.4" text-anchor="middle" fill="#222" stroke="#222" stroke-width="0.05">20</text>
<line x1="466.5" y1="310.7" x2="466.5" y2="313.5" stroke="#111" stroke-width="0.9"/>
<text transform="translate(466.34,320.3) rotate(0.1)" x="0" y="1.89" font-size="5.4" text-anchor="middle" fill="#222" stroke="#222" stroke-width="0.05">40</text>
<text transform="translate(446,330.7) rotate(0.1) scale(0.72,1)" x="0" y="2.97" font-size="8.5" text-anchor="middle" fill="#222" stroke="#222" stroke-width="0.12">tSNE_1</text>
<text transform="translate(401.8,288.1) rotate(-90) scale(0.72,1)" x="0" y="2.97" font-size="8.5" text-anchor="middle" fill="#222" stroke="#222" stroke-width="0.12">tSNE_2</text>
<text transform="translate(446.2,257.3) rotate(0.1)" x="0" y="3.04" font-size="8.7" text-anchor="middle" fill="#222" stroke="#222" stroke-width="0.12" font-style="italic">SQSTM1</text>
<text transform="translate(474.7,270.3) rotate(0.1) scale(0.93,1)" x="0" y="1.89" font-size="5.4" text-anchor="middle" fill="#333" stroke="#333" stroke-width="0.05">Expression</text>
<text transform="translate(474.7,275.6) rotate(0.1) scale(0.93,1)" x="0" y="1.89" font-size="5.4" text-anchor="middle" fill="#333" stroke="#333" stroke-width="0.05">(log)</text>
<rect x="468.4" y="283.8" width="4.5" height="21.9" fill="url(#gD)" stroke="none" stroke-width="1"/>
<text transform="translate(475.8,286.8) rotate(0.1)" x="0" y="1.92" font-size="5.5" text-anchor="start" fill="#222" stroke="#222" stroke-width="0.05">3</text>
<text transform="translate(475.8,293) rotate(0.1)" x="0" y="1.92" font-size="5.5" text-anchor="start" fill="#222" stroke="#222" stroke-width="0.05">2</text>
<text transform="translate(475.8,299.2) rotate(0.1)" x="0" y="1.92" font-size="5.5" text-anchor="start" fill="#222" stroke="#222" stroke-width="0.05">1</text>
<text transform="translate(475.8,305) rotate(0.1)" x="0" y="1.92" font-size="5.5" text-anchor="start" fill="#222" stroke="#222" stroke-width="0.05">0</text>
<text transform="translate(190.8,383.8) rotate(0.1) scale(0.91,1)" x="0" y="2.42" font-size="6.9" text-anchor="end" fill="#222" stroke="#222" stroke-width="0.12">mitochondrial electron transport, cytochrome c to oxygen</text>
<line x1="193.6" y1="383.5" x2="197" y2="383.5" stroke="#111" stroke-width="0.9"/>
<rect x="197" y="380.05" width="7.8" height="7.5" fill="#a50a2c" stroke="none" stroke-width="1"/>
<text transform="translate(190.8,393.7) rotate(0.1) scale(0.91,1)" x="0" y="2.42" font-size="6.9" text-anchor="end" fill="#222" stroke="#222" stroke-width="0.12">aerobic electron transport chain</text>
<line x1="193.6" y1="393.5" x2="197" y2="393.5" stroke="#111" stroke-width="0.9"/>
<rect x="197" y="389.95" width="7.8" height="7.5" fill="#a50a2c" stroke="none" stroke-width="1"/>
<text transform="translate(190.8,403.5) rotate(0.1) scale(0.91,1)" x="0" y="2.42" font-size="6.9" text-anchor="end" fill="#222" stroke="#222" stroke-width="0.12">oxidative phosphorylation</text>
<line x1="193.6" y1="403.5" x2="197" y2="403.5" stroke="#111" stroke-width="0.9"/>
<rect x="197" y="399.75" width="9.1" height="7.5" fill="#a50a2c" stroke="none" stroke-width="1"/>
<text transform="translate(190.8,413.4) rotate(0.1) scale(0.91,1)" x="0" y="2.42" font-size="6.9" text-anchor="end" fill="#222" stroke="#222" stroke-width="0.12">ribosomal small subunit assembly</text>
<line x1="193.6" y1="413.5" x2="197" y2="413.5" stroke="#111" stroke-width="0.9"/>
<rect x="197" y="409.65" width="17.1" height="7.5" fill="#a50a2c" stroke="none" stroke-width="1"/>
<text transform="translate(190.8,423.3) rotate(0.1) scale(0.91,1)" x="0" y="2.42" font-size="6.9" text-anchor="end" fill="#222" stroke="#222" stroke-width="0.12">rRNA processing</text>
<line x1="193.6" y1="423.5" x2="197" y2="423.5" stroke="#111" stroke-width="0.9"/>
<rect x="197" y="419.55" width="41.3" height="7.5" fill="#a50a2c" stroke="none" stroke-width="1"/>
<text transform="translate(190.8,433.2) rotate(0.1) scale(0.91,1)" x="0" y="2.42" font-size="6.9" text-anchor="end" fill="#222" stroke="#222" stroke-width="0.12">RNA metabolic process</text>
<line x1="193.6" y1="433.5" x2="197" y2="433.5" stroke="#111" stroke-width="0.9"/>
<rect x="197" y="429.45" width="89.6" height="7.5" fill="#a50a2c" stroke="none" stroke-width="1"/>
<text transform="translate(190.8,443) rotate(0.1) scale(0.91,1)" x="0" y="2.42" font-size="6.9" text-anchor="end" fill="#222" stroke="#222" stroke-width="0.12">translational initiation</text>
<line x1="193.6" y1="442.5" x2="197" y2="442.5" stroke="#111" stroke-width="0.9"/>
<rect x="197" y="439.25" width="96.4" height="7.5" fill="#a50a2c" stroke="none" stroke-width="1"/>
<rect x="304.6" y="439.25" width="10.6" height="7.5" fill="#a50a2c" stroke="none" stroke-width="1"/>
<text transform="translate(190.8,452.8) rotate(0.1) scale(0.91,1)" x="0" y="2.42" font-size="6.9" text-anchor="end" fill="#222" stroke="#222" stroke-width="0.12">protein targeting to ER</text>
<line x1="193.6" y1="452.5" x2="197" y2="452.5" stroke="#111" stroke-width="0.9"/>
<rect x="197" y="449.05" width="96.4" height="7.5" fill="#a50a2c" stroke="none" stroke-width="1"/>
<rect x="304.6" y="449.05" width="17.4" height="7.5" fill="#a50a2c" stroke="none" stroke-width="1"/>
<line x1="196.5" y1="378" x2="196.5" y2="459.3" stroke="#111" stroke-width="1"/>
<line x1="196.5" y1="458.5" x2="293.2" y2="458.5" stroke="#111" stroke-width="1"/>
<line x1="304.2" y1="458.5" x2="336.6" y2="458.5" stroke="#111" stroke-width="1"/>
<line x1="291.4" y1="461.6" x2="296.2" y2="456.9" stroke="#111" stroke-width="0.9"/>
<line x1="301.5" y1="461.6" x2="306.2" y2="456.9" stroke="#111" stroke-width="0.9"/>
<line x1="196.5" y1="458.9" x2="196.5" y2="461.6" stroke="#111" stroke-width="0.9"/>
<line x1="245.5" y1="458.9" x2="245.5" y2="461.6" stroke="#111" stroke-width="0.9"/>
<line x1="294.5" y1="458.9" x2="294.5" y2="461.6" stroke="#111" stroke-width="0.9"/>
<line x1="332.5" y1="458.9" x2="332.5" y2="461.6" stroke="#111" stroke-width="0.9"/>
<text transform="translate(197,469.1) rotate(0.1)" x="0" y="2.27" font-size="6.5" text-anchor="middle" fill="#222" stroke="#222" stroke-width="0.12">0</text>
<text transform="translate(245.5,469.1) rotate(0.1)" x="0" y="2.27" font-size="6.5" text-anchor="middle" fill="#222" stroke="#222" stroke-width="0.12">25</text>
<text transform="translate(293.5,469.1) rotate(0.1)" x="0" y="2.27" font-size="6.5" text-anchor="middle" fill="#222" stroke="#222" stroke-width="0.12">50</text>
<text transform="translate(304.2,469.1) rotate(0.1)" x="0" y="2.27" font-size="6.5" text-anchor="middle" fill="#222" stroke="#222" stroke-width="0.12">100</text>
<text transform="translate(332.4,469.1) rotate(0.1)" x="0" y="2.27" font-size="6.5" text-anchor="middle" fill="#222" stroke="#222" stroke-width="0.12">125</text>
<text transform="translate(266.5,480.6) rotate(0.1) scale(0.85,1)" x="0" y="2.45" font-size="7" text-anchor="middle" fill="#222" stroke="#222" stroke-width="0.12">−log10(p-value)</text>
<rect x="332.1" y="415.3" width="9.7" height="4.9" fill="#a50a2c" stroke="none" stroke-width="1"/>
<text transform="translate(344.9,417.8) rotate(0.1)" x="0" y="1.82" font-size="5.2" text-anchor="start" fill="#222" stroke="#222" stroke-width="0.05">down-regulated</text>
<svg x="34.5" y="519.1" width="140.5" height="122.4" overflow="hidden">
<path d="M76.6 73.9h0M39.8 71.6h0M97.6 8.7h0M44.0 76.4h0M79.7 39.8h0M61.3 45.7h0M39.0 67.0h0M32.1 40.5h0M59.7 50.8h0M67.4 55.5h0M100.5 32.8h0M96.0 49.6h0M35.7 26.8h0M38.9 62.7h0M56.5 26.3h0M102.0 25.2h0M88.1 13.7h0M43.5 66.9h0M90.3 30.6h0M92.8 62.0h0M50.7 20.4h0M77.5 40.9h0M88.3 6.3h0M88.4 27.9h0M40.0 34.9h0M59.2 42.9h0M82.7 58.9h0M68.2 53.4h0M90.9 30.0h0M55.8 64.5h0M33.3 61.5h0M68.8 38.7h0M72.4 75.4h0M72.5 38.4h0M44.1 46.6h0M87.7 80.0h0M48.7 21.4h0M82.0 63.5h0M102.7 31.7h0M94.7 47.9h0M47.2 55.2h0M60.6 44.0h0M50.4 26.6h0M87.0 14.0h0M84.8 61.9h0M91.9 62.2h0M83.3 7.7h0M27.7 65.5h0M64.9 54.2h0M91.2 20.6h0M34.2 34.2h0M108.5 18.2h0M76.5 8.1h0M43.2 39.2h0M47.6 39.3h0M35.9 48.5h0M115.0 37.7h0M57.5 61.7h0M89.8 30.7h0M74.9 63.2h0M62.0 30.2h0M48.8 52.2h0M114.8 47.4h0M71.6 30.7h0M60.9 60.4h0M56.0 41.9h0M54.8 63.2h0M44.2 53.2h0M76.7 29.7h0M70.2 24.5h0M67.7 34.9h0M65.0 60.2h0M40.9 46.2h0M39.0 53.4h0M73.0 15.8h0M87.8 38.2h0M102.8 42.5h0M62.8 43.5h0M68.6 10.0h0M56.5 25.1h0M40.2 30.4h0M67.9 29.0h0M98.6 36.4h0M99.1 32.7h0M97.4 71.2h0M63.3 28.2h0M50.7 22.1h0M73.3 11.3h0M85.7 10.8h0M86.7 13.7h0M32.3 57.0h0M43.4 33.8h0M67.2 65.8h0M61.3 68.7h0M92.3 31.7h0M95.2 15.8h0M78.9 63.9h0M81.5 32.4h0M64.5 30.5h0M76.1 71.7h0M101.8 54.2h0M63.2 87.3h0M71.0 45.5h0M54.8 51.7h0M92.0 37.5h0M79.5 33.0h0M64.3 14.0h0M76.5 77.5h0M51.8 60.2h0M70.0 34.1h0M58.6 25.8h0M41.6 54.0h0M85.5 77.0h0M109.0 40.5h0M62.9 32.7h0M47.3 64.2h0M60.8 39.2h0M29.0 55.4h0M63.6 25.8h0M50.5 34.0h0M29.8 38.6h0M19.6 37.1h0M52.8 49.1h0M52.3 80.7h0M63.8 40.4h0M28.5 35.6h0M47.1 73.8h0M78.1 9.2h0M59.3 41.3h0M52.9 67.7h0M64.8 33.3h0M100.5 19.1h0M32.1 19.6h0M79.5 66.8h0M51.4 72.6h0M67.0 12.7h0M68.4 43.9h0M28.5 63.5h0M78.9 21.8h0M62.1 36.2h0M33.7 20.0h0M72.8 85.5h0M68.5 87.1h0M83.8 37.3h0M94.0 46.8h0M101.6 41.1h0M100.3 61.9h0M62.4 53.7h0M93.9 9.4h0M72.0 29.4h0M36.3 45.2h0M30.5 24.1h0M65.5 35.8h0M75.8 70.6h0M98.7 27.5h0M70.0 43.2h0M86.9 11.8h0M104.6 25.7h0M51.7 70.9h0M42.9 34.9h0M35.3 59.9h0M42.2 28.9h0M56.3 49.7h0M29.2 39.6h0M44.6 44.5h0M46.9 58.2h0M65.9 87.1h0M87.4 18.1h0M54.4 81.7h0M89.3 79.8h0M102.2 30.2h0M64.8 49.5h0M80.7 56.4h0M65.1 15.3h0M80.6 84.1h0M60.9 44.9h0M48.1 33.8h0M51.8 73.4h0M83.6 37.9h0M55.7 62.1h0M61.7 81.2h0M39.4 49.3h0M103.3 26.2h0M90.7 8.1h0M52.2 28.4h0M17.8 53.1h0M66.4 60.6h0M49.2 39.8h0M98.4 68.6h0M73.7 24.4h0M62.4 59.8h0M59.6 52.1h0M59.6 43.1h0M73.1 42.2h0M97.2 55.7h0M84.9 53.3h0M67.6 40.9h0M89.0 9.6h0M74.8 72.5h0M62.4 55.5h0M34.5 43.1h0M73.4 70.1h0M66.5 67.3h0M56.8 18.4h0M48.3 39.8h0M94.4 45.9h0M76.9 13.2h0M71.5 67.9h0M100.3 11.4h0M98.0 37.3h0M100.3 51.1h0M30.5 44.0h0M66.6 55.0h0M69.6 37.0h0M78.7 39.7h0M43.8 35.6h0M78.1 26.6h0M68.0 77.6h0M109.3 28.6h0M70.6 18.0h0M96.6 25.9h0M22.6 54.0h0M85.9 54.2h0M80.4 31.7h0M80.2 75.2h0M102.6 38.9h0M73.4 41.3h0M80.3 70.9h0M36.6 73.6h0M94.1 47.7h0M74.3 59.0h0M59.1 51.2h0M111.6 39.9h0M72.9 50.2h0M50.3 16.2h0M53.5 41.8h0M87.4 14.3h0M57.0 11.9h0M59.8 77.9h0M53.9 88.1h0M85.2 53.6h0M69.6 29.6h0M75.2 86.6h0M73.3 30.2h0M87.7 20.8h0M72.1 29.4h0M75.8 77.4h0M98.0 44.3h0M92.7 46.1h0M53.1 51.8h0M63.9 50.1h0M35.4 68.6h0M74.2 55.4h0M50.0 81.3h0M84.9 17.1h0M53.0 49.6h0M37.5 59.2h0M67.5 23.9h0M105.8 42.4h0M52.4 48.6h0M52.9 26.7h0M62.4 73.4h0M59.0 43.0h0M69.0 38.4h0M40.8 36.2h0M69.2 85.4h0M51.0 44.0h0M79.4 12.5h0M36.4 38.5h0M85.5 39.1h0M65.8 24.1h0M75.8 38.1h0M68.4 36.9h0M60.5 23.8h0M107.3 60.4h0" stroke="#d2504b" stroke-width="2.25" stroke-linecap="round" fill="none"/>
<path d="M25.2 108.3h0M24.0 104.5h0M18.2 119.9h0M22.8 99.5h0M65.3 108.1h0M45.5 92.5h0M21.5 106.6h0M22.9 102.0h0M24.4 95.4h0M21.0 111.2h0M28.3 107.7h0M30.3 108.0h0M55.4 105.8h0M62.1 103.5h0M14.6 104.3h0M31.8 88.2h0M32.4 114.8h0M31.5 108.7h0M31.8 97.1h0M16.9 112.2h0M43.9 89.9h0M32.9 102.5h0M20.5 104.8h0M22.5 96.4h0M76.6 56.1h0M32.7 102.7h0M63.3 102.8h0M12.4 109.6h0M22.8 112.9h0M56.5 103.6h0M55.3 107.0h0M17.1 110.0h0M35.3 107.8h0M44.8 88.3h0M39.4 110.7h0M30.2 97.8h0M56.0 105.1h0M23.5 104.0h0M39.3 89.9h0M27.2 104.6h0M17.8 95.5h0M63.9 106.0h0M47.0 108.7h0M32.9 108.1h0M23.7 108.6h0M26.8 108.5h0M59.7 104.1h0M14.6 110.3h0M22.0 110.3h0M58.5 108.4h0M54.9 106.0h0M37.1 108.8h0M50.8 108.3h0M62.1 100.9h0M65.1 109.5h0M60.2 106.9h0M61.1 105.8h0M24.1 110.1h0M32.4 98.9h0M29.0 96.4h0M21.8 97.8h0M25.9 100.0h0M39.2 100.2h0M27.1 106.1h0M17.9 109.0h0M59.9 105.8h0" stroke="#78a020" stroke-width="2.25" stroke-linecap="round" fill="none"/>
<path d="M134.6 5.6h0" stroke="#8a6cc0" stroke-width="2.25" stroke-linecap="round" fill="none"/>
<path d="M124.8 62.8h0M109.4 55.6h0M122.2 63.8h0M115.9 60.3h0M115.8 64.5h0M119.5 65.9h0M123.9 68.9h0M116.7 61.1h0M122.1 65.4h0M119.9 64.6h0M98.8 58.3h0M119.6 64.6h0M115.6 61.5h0M117.6 60.5h0M123.4 63.8h0M117.5 59.4h0M122.9 62.5h0M121.7 64.2h0M120.8 61.7h0M113.2 58.8h0M118.9 60.2h0M127.2 60.8h0M119.9 64.6h0M123.1 60.9h0M124.0 63.7h0M118.0 63.9h0" stroke="#4fb2c0" stroke-width="2.25" stroke-linecap="round" fill="none"/>
<path d="M38.6 90.2h0M33.2 106.5h0M31.7 97.6h0M26.1 100.5h0M22.5 112.5h0M28.1 104.1h0M40.0 112.2h0M13.7 109.1h0M28.0 115.7h0M23.5 110.5h0M18.3 108.8h0M6.0 102.2h0M29.3 101.3h0M31.4 105.6h0M10.6 105.1h0M34.3 107.6h0M34.0 92.6h0M58.6 29.1h0M19.3 110.3h0M18.1 111.5h0M31.1 107.2h0M61.9 107.1h0M60.0 111.1h0M23.2 98.3h0M30.6 98.7h0M57.3 100.9h0M19.1 102.2h0M22.6 106.4h0M67.1 107.1h0M70.7 110.2h0M33.9 106.9h0M28.4 97.2h0M61.2 108.3h0M21.8 121.0h0M29.9 105.1h0M36.4 109.9h0M11.1 102.5h0M18.5 116.7h0M36.9 119.8h0M12.7 95.1h0M34.2 96.1h0M36.0 118.2h0M62.0 106.8h0M33.9 95.0h0M37.1 109.9h0M21.3 109.8h0M57.2 108.5h0M28.7 100.1h0M23.9 97.0h0M15.7 108.2h0M37.6 94.8h0M61.7 104.8h0M25.7 102.1h0M23.6 105.1h0M26.1 101.1h0M25.1 115.1h0M18.8 85.8h0M30.8 107.9h0M31.4 104.6h0M24.6 98.9h0M35.3 115.6h0M21.6 107.2h0M31.5 107.8h0M23.0 100.1h0M61.2 106.4h0M56.3 106.2h0M22.2 97.7h0M29.0 102.5h0M41.3 94.9h0M62.3 108.5h0M38.4 96.3h0M32.1 99.8h0M31.8 110.6h0M30.8 103.6h0M23.9 112.0h0M24.3 106.7h0M21.8 118.8h0M61.8 108.2h0M31.8 112.3h0M23.7 101.3h0M28.5 104.7h0M27.7 101.4h0M24.9 109.9h0M37.0 110.4h0" stroke="#78a020" stroke-width="2.25" stroke-linecap="round" fill="none"/>
<path d="M75.0 25.2h0M49.0 37.2h0M87.7 24.2h0M40.1 44.3h0M78.6 82.7h0M72.9 58.8h0M85.8 62.4h0M58.6 36.0h0M71.3 47.4h0M87.2 64.3h0M36.4 30.0h0M89.6 58.1h0M108.5 32.5h0M103.4 28.6h0M89.4 69.7h0M18.9 55.5h0M43.2 72.2h0M77.5 62.2h0M75.1 72.7h0M31.2 73.6h0M39.9 43.0h0M91.6 56.8h0M54.8 20.4h0M48.5 62.6h0M104.8 53.9h0M60.7 64.1h0M95.4 29.3h0M45.3 34.8h0M69.6 17.8h0M57.4 69.7h0M52.4 44.8h0M107.8 35.7h0M37.8 39.1h0M84.6 40.0h0M35.4 69.5h0M68.0 22.5h0M64.8 18.7h0M84.2 43.6h0M66.0 85.9h0M111.2 27.7h0M32.8 53.1h0M79.2 18.5h0M87.5 77.6h0M99.2 69.8h0M51.0 54.7h0M29.1 36.8h0M63.8 41.1h0M14.5 53.5h0M104.3 52.0h0M32.3 54.1h0M97.2 49.1h0M78.3 31.5h0M91.1 72.2h0M99.7 13.6h0M59.4 39.2h0M91.3 68.4h0M64.2 61.6h0M64.5 73.3h0M108.7 59.5h0M74.0 45.6h0M54.6 61.7h0M38.4 63.6h0M53.8 13.4h0M65.9 17.8h0M107.9 42.3h0M83.4 41.0h0M76.9 75.3h0M78.9 21.5h0M89.9 18.2h0M44.4 19.6h0M56.4 56.2h0M54.3 40.2h0M88.6 56.3h0M79.3 44.8h0M90.8 18.8h0M84.3 64.8h0M27.4 38.7h0M98.9 29.6h0M40.0 33.8h0M18.2 50.9h0M94.5 23.5h0M66.5 12.2h0M82.5 37.3h0M83.7 75.9h0M81.0 9.8h0M58.7 26.4h0M82.5 50.4h0M41.3 55.7h0M24.4 27.6h0M79.3 12.5h0M36.1 68.7h0M89.8 12.3h0M87.1 59.8h0M89.8 45.5h0M60.2 23.8h0M61.8 59.3h0M59.3 40.7h0M85.8 73.5h0M74.5 87.4h0M74.4 35.4h0M59.8 16.6h0M45.8 39.1h0M44.2 59.8h0M93.4 40.1h0M99.5 64.3h0M63.6 16.0h0M81.3 7.9h0M53.1 84.8h0M19.7 62.4h0M73.3 12.2h0M45.0 47.1h0M43.0 61.4h0M70.6 18.0h0M50.5 59.7h0M79.4 49.7h0M41.9 44.6h0M58.2 71.2h0M92.8 57.2h0M42.6 77.5h0M63.7 92.7h0M76.3 32.8h0M90.5 14.1h0M86.6 28.4h0M61.9 41.4h0M84.4 12.4h0M20.8 46.9h0M44.0 34.1h0M48.7 75.6h0M60.7 41.9h0M41.7 52.6h0M115.7 36.6h0M59.1 25.1h0M73.5 27.5h0M60.1 63.4h0M91.0 64.3h0M84.9 24.2h0M88.5 14.7h0M34.9 28.8h0M32.7 74.0h0M57.2 44.8h0M81.7 55.2h0M90.5 44.2h0M46.7 34.8h0M51.3 20.6h0M72.5 85.2h0M63.1 86.4h0M107.9 46.2h0M38.4 43.8h0M67.2 30.4h0M83.4 14.7h0M76.9 14.6h0M80.5 23.5h0M69.2 9.6h0M59.6 47.9h0M82.2 11.2h0M111.8 46.4h0M67.2 12.9h0M89.8 42.6h0M54.2 26.5h0M77.0 50.9h0M66.5 84.6h0M80.7 58.9h0M107.1 47.7h0M57.8 85.8h0M58.1 62.0h0M18.5 38.1h0M52.4 47.5h0M52.8 85.2h0M31.6 58.1h0M25.9 35.3h0M74.9 74.7h0M40.7 42.9h0M23.0 48.0h0M67.9 49.0h0M58.6 31.1h0M103.9 61.8h0M37.0 50.9h0M69.5 82.8h0M68.6 19.9h0M84.1 12.1h0M82.6 38.9h0M60.6 61.7h0M86.7 51.2h0M58.0 57.0h0M81.7 13.7h0M65.0 81.5h0M98.9 60.1h0M79.8 48.7h0M28.3 69.0h0M25.8 59.4h0M83.7 14.5h0M87.1 14.0h0M77.2 63.5h0M58.6 61.9h0M60.7 58.0h0M25.9 53.6h0M67.3 38.2h0M52.5 51.3h0M31.4 39.4h0M62.5 37.8h0M58.4 31.0h0M69.0 8.8h0M42.3 27.9h0M69.1 45.1h0M86.7 60.2h0M68.7 13.6h0M62.7 83.9h0M33.8 57.2h0M60.5 56.3h0M46.6 30.6h0M67.8 78.5h0M44.8 15.2h0M89.0 62.7h0M59.2 60.1h0M52.8 12.6h0M111.1 19.9h0M53.8 58.7h0M78.5 12.5h0M79.1 35.0h0M58.0 27.2h0M67.3 36.9h0M73.4 46.1h0M112.3 20.9h0M21.0 39.9h0M73.1 55.9h0M108.0 18.6h0M79.1 44.5h0M50.2 86.1h0M78.6 28.8h0M89.4 26.0h0M44.6 61.2h0M96.4 32.0h0M55.2 20.1h0M42.4 41.7h0M76.4 16.7h0M91.4 32.9h0M67.0 27.0h0M54.2 68.9h0M56.7 39.6h0M95.5 51.2h0M43.8 26.7h0M103.3 46.2h0M61.4 28.0h0M72.4 20.3h0M80.9 57.1h0M62.3 28.0h0M104.0 54.8h0M71.0 64.6h0M49.5 51.8h0M79.8 74.9h0M49.4 62.3h0M30.1 51.7h0M55.7 23.3h0M21.8 51.9h0M88.0 50.7h0M116.2 41.1h0M99.8 12.1h0M69.2 11.8h0M96.4 49.6h0M73.9 53.5h0M79.9 42.5h0M99.4 60.8h0M83.3 43.3h0M37.3 45.0h0M55.0 75.5h0M82.8 81.5h0M105.7 63.6h0M66.4 56.3h0M58.9 74.4h0" stroke="#d2504b" stroke-width="2.25" stroke-linecap="round" fill="none"/>
<path d="M121.8 61.5h0M116.1 54.9h0M124.6 59.2h0M123.8 56.9h0M121.8 63.9h0M118.2 60.2h0M116.4 60.7h0M119.0 61.2h0M127.4 61.5h0M123.7 61.4h0M125.6 65.0h0M114.2 63.7h0M119.0 59.8h0M117.7 60.6h0M29.4 32.5h0" stroke="#4fb2c0" stroke-width="2.25" stroke-linecap="round" fill="none"/>
<path d="M84.1 30.5h0M68.6 14.2h0M87.2 45.5h0M102.6 64.2h0M81.0 83.2h0M51.0 72.6h0M79.3 22.6h0M89.9 51.9h0M45.1 39.3h0M110.2 40.3h0M95.5 54.1h0M34.2 73.2h0M88.1 10.9h0M101.8 52.7h0M58.6 91.1h0M64.0 38.7h0M52.0 85.4h0M90.7 8.4h0M88.7 79.4h0M41.5 79.0h0M71.0 10.8h0M91.8 8.3h0M80.1 49.5h0M44.1 63.0h0M25.9 32.7h0M70.2 32.7h0M85.7 16.6h0M61.2 45.2h0M62.0 39.7h0M82.9 74.9h0M69.2 46.6h0M64.9 40.9h0M75.4 52.3h0M75.4 52.6h0M72.6 57.9h0M83.0 17.0h0M37.6 32.9h0M27.4 47.0h0M89.5 38.9h0M58.8 63.9h0M72.6 54.4h0M65.1 31.6h0M72.9 13.1h0M71.3 38.0h0M37.0 25.5h0M30.7 56.6h0M73.9 23.3h0M105.3 20.0h0M69.4 28.8h0M34.6 57.4h0M84.5 42.0h0M91.2 46.9h0M50.4 60.2h0M39.6 40.9h0M37.0 45.6h0M43.6 69.3h0M82.2 22.5h0M75.1 88.4h0M48.3 33.3h0M52.9 55.0h0M68.9 35.6h0M51.1 67.0h0M71.1 63.8h0M58.7 82.9h0M49.7 52.7h0M64.5 70.0h0M31.6 64.8h0M32.6 71.7h0M33.6 59.7h0M93.9 23.4h0M88.0 10.6h0M88.3 77.8h0M83.3 47.0h0M43.5 57.1h0M49.3 24.2h0M71.2 71.3h0M113.1 50.7h0M113.4 44.4h0M46.2 80.4h0M71.0 57.1h0M66.8 46.7h0M55.9 28.7h0M43.7 41.8h0M104.2 37.3h0M37.6 75.9h0M112.4 27.7h0M64.4 52.1h0M97.6 71.7h0M84.7 47.2h0M107.5 24.3h0M65.9 23.8h0M85.4 22.2h0M50.6 25.2h0M71.5 28.8h0M61.3 51.2h0M60.3 87.5h0M51.4 52.4h0M94.3 26.5h0M68.1 12.7h0M61.4 64.7h0M76.1 17.8h0M73.7 43.5h0M99.0 28.5h0M47.1 69.2h0M65.4 65.4h0M86.8 13.1h0M57.8 42.0h0M65.7 47.2h0M72.9 36.9h0M87.2 46.4h0M79.4 28.2h0M99.8 34.4h0M98.9 12.5h0M53.0 22.3h0M60.5 45.4h0M94.5 12.4h0M76.1 63.4h0M85.6 10.2h0M69.1 20.4h0M86.3 69.6h0M45.7 37.8h0M49.0 67.9h0M32.3 25.7h0M57.7 53.9h0M99.9 33.1h0M34.1 53.6h0M81.5 37.5h0M87.0 37.0h0M46.2 58.7h0M92.0 11.8h0M44.6 46.3h0M75.9 24.0h0M34.0 63.4h0M64.7 43.5h0M44.0 61.7h0M48.5 38.0h0M49.9 55.1h0M35.2 45.4h0M69.8 41.2h0M76.4 44.6h0M73.2 18.7h0M73.1 67.4h0M87.7 40.1h0M82.1 7.6h0M51.9 24.7h0M99.3 42.5h0M58.2 64.3h0M76.6 12.4h0M89.3 17.9h0M47.5 43.9h0M102.2 17.2h0M68.3 23.5h0M85.3 32.8h0M42.7 78.4h0M104.7 25.9h0M63.0 48.9h0M55.1 59.2h0M69.6 32.0h0M25.0 56.3h0M108.0 30.9h0M62.7 66.9h0M62.1 50.0h0M67.8 15.4h0M106.0 51.0h0M76.6 27.8h0M85.2 67.0h0M38.7 17.6h0M61.3 20.0h0M47.6 17.0h0M58.5 25.2h0M96.4 34.3h0M93.0 44.4h0M87.1 67.0h0M42.2 21.0h0M74.6 67.2h0M59.0 39.1h0M71.8 39.0h0M91.6 34.3h0M68.8 24.5h0M103.2 18.1h0M88.6 25.7h0M66.9 31.3h0M100.3 19.8h0M73.1 74.1h0M90.3 30.8h0M98.9 29.6h0M89.8 34.6h0M41.2 47.7h0M87.4 27.9h0M34.9 36.1h0M73.6 35.6h0M64.8 33.2h0M43.0 25.7h0M81.1 15.2h0M79.3 12.4h0M38.5 75.4h0M72.8 40.8h0M82.9 28.0h0M71.8 62.5h0M57.2 58.4h0M45.8 66.9h0M54.6 54.3h0M89.5 78.9h0M37.5 64.7h0M66.2 86.7h0M22.3 65.6h0M80.0 62.0h0M50.6 35.0h0M81.8 68.7h0M66.4 42.6h0M58.9 13.3h0M56.5 54.0h0M99.1 48.2h0M103.2 31.5h0M83.3 62.9h0M78.5 8.0h0M94.6 23.3h0M73.7 73.7h0M105.1 49.2h0M90.0 49.2h0M50.5 60.9h0M74.0 25.9h0M48.3 30.5h0M78.3 49.6h0M84.7 16.4h0M95.9 21.7h0M46.6 18.8h0M78.8 79.7h0M35.9 65.0h0M54.7 62.7h0M59.1 46.7h0M64.8 60.1h0M61.9 10.2h0M97.0 60.9h0M93.1 36.4h0M29.0 26.4h0M69.9 77.0h0M69.8 32.8h0M85.9 43.6h0M21.9 40.6h0M64.5 72.8h0M94.0 49.5h0M84.8 10.1h0M95.5 51.2h0M53.4 47.5h0M65.3 31.9h0M66.4 52.5h0M32.0 72.3h0M98.9 23.5h0M15.2 57.8h0M52.3 56.1h0M100.7 42.3h0M67.3 8.3h0M73.6 51.8h0M74.4 58.8h0M53.2 63.6h0M86.2 8.8h0M69.3 53.9h0M60.4 46.6h0M66.8 46.6h0M86.3 73.0h0M93.5 64.1h0M45.9 22.4h0M70.6 52.0h0M78.9 26.1h0M95.7 14.3h0M47.1 21.8h0M104.2 22.3h0" stroke="#d2504b" stroke-width="2.25" stroke-linecap="round" fill="none"/>
<path d="M28.2 98.1h0M43.9 117.8h0M33.8 104.1h0M30.7 103.5h0M37.6 104.8h0M23.8 105.3h0M26.8 122.1h0M42.9 97.4h0M29.4 105.2h0M83.0 7.6h0M40.3 99.7h0M35.7 106.5h0M40.9 88.9h0M59.5 105.7h0M63.8 108.5h0M51.6 103.6h0M13.3 105.3h0M19.7 107.6h0M15.6 111.1h0M62.9 108.3h0M62.8 107.5h0M30.5 105.8h0M33.6 113.6h0M33.9 114.3h0M28.8 112.3h0M42.4 96.4h0M16.3 98.9h0M23.3 100.5h0M20.9 100.1h0M17.0 110.2h0M56.8 101.6h0M28.9 102.2h0M55.6 108.4h0M25.4 96.7h0M60.4 105.7h0M33.3 106.3h0M28.5 117.3h0M54.2 106.6h0M40.2 105.8h0M34.2 111.8h0M33.2 109.8h0M24.4 114.9h0M31.0 108.9h0M26.6 105.1h0M32.5 112.9h0M14.0 95.3h0M65.2 58.1h0M20.7 108.7h0M62.9 102.8h0M40.2 104.9h0M30.9 103.1h0M37.1 117.5h0M38.7 112.8h0M8.4 108.2h0M24.8 98.9h0M37.6 100.1h0M37.1 108.7h0M65.3 108.3h0M33.6 96.0h0M50.5 107.4h0M68.6 103.1h0M24.4 107.5h0M23.9 94.7h0M22.7 100.9h0M14.2 109.0h0M13.9 116.4h0M34.4 107.8h0M60.1 105.7h0M18.0 111.8h0M25.7 98.4h0M30.8 105.0h0M24.6 108.2h0M28.0 111.4h0M33.6 100.2h0M26.8 106.2h0M21.0 119.3h0M25.5 113.2h0M53.5 105.1h0M21.1 105.7h0M52.1 108.2h0" stroke="#78a020" stroke-width="2.25" stroke-linecap="round" fill="none"/>
<path d="M114.7 56.0h0M115.9 59.4h0M118.5 57.1h0M123.7 60.5h0M121.1 63.3h0M116.8 63.6h0M122.3 65.5h0M122.8 58.6h0M120.6 59.5h0M121.2 62.8h0M123.5 59.8h0M60.6 65.9h0M127.3 57.3h0M119.1 65.0h0M116.0 59.4h0M116.4 51.7h0M122.7 59.3h0M111.4 54.4h0M122.8 63.2h0" stroke="#4fb2c0" stroke-width="2.25" stroke-linecap="round" fill="none"/>
</svg>
<rect x="34.5" y="519.1" width="140.5" height="122.4" fill="none" stroke="#111" stroke-width="1.2"/>
<line x1="31.4" y1="528.5" x2="34.5" y2="528.5" stroke="#111" stroke-width="0.9"/>
<text transform="translate(28.6,528.1) rotate(0.1)" x="0" y="2.24" font-size="6.4" text-anchor="end" fill="#222" stroke="#222" stroke-width="0.12">20</text>
<line x1="31.4" y1="552.5" x2="34.5" y2="552.5" stroke="#111" stroke-width="0.9"/>
<text transform="translate(28.6,552.15) rotate(0.1)" x="0" y="2.24" font-size="6.4" text-anchor="end" fill="#222" stroke="#222" stroke-width="0.12">10</text>
<line x1="31.4" y1="576.5" x2="34.5" y2="576.5" stroke="#111" stroke-width="0.9"/>
<text transform="translate(28.6,576.2) rotate(0.1)" x="0" y="2.24" font-size="6.4" text-anchor="end" fill="#222" stroke="#222" stroke-width="0.12">0</text>
<line x1="31.4" y1="600.5" x2="34.5" y2="600.5" stroke="#111" stroke-width="0.9"/>
<text transform="translate(28.6,600.25) rotate(0.1)" x="0" y="2.24" font-size="6.4" text-anchor="end" fill="#222" stroke="#222" stroke-width="0.12">10</text>
<line x1="31.4" y1="624.5" x2="34.5" y2="624.5" stroke="#111" stroke-width="0.9"/>
<text transform="translate(28.6,624.3) rotate(0.1)" x="0" y="2.24" font-size="6.4" text-anchor="end" fill="#222" stroke="#222" stroke-width="0.12">-20</text>
<line x1="59.5" y1="641.5" x2="59.5" y2="644.5" stroke="#111" stroke-width="0.9"/>
<text transform="translate(59.3,652.1) rotate(0.1)" x="0" y="2.24" font-size="6.4" text-anchor="middle" fill="#222" stroke="#222" stroke-width="0.12">-10</text>
<line x1="99.5" y1="641.5" x2="99.5" y2="644.5" stroke="#111" stroke-width="0.9"/>
<text transform="translate(99.1,652.1) rotate(0.1)" x="0" y="2.24" font-size="6.4" text-anchor="middle" fill="#222" stroke="#222" stroke-width="0.12">0</text>
<line x1="138.5" y1="641.5" x2="138.5" y2="644.5" stroke="#111" stroke-width="0.9"/>
<text transform="translate(138.9,652.1) rotate(0.1)" x="0" y="2.24" font-size="6.4" text-anchor="middle" fill="#222" stroke="#222" stroke-width="0.12">10</text>
<text transform="translate(104.75,663.1) rotate(0.1) scale(0.72,1)" x="0" y="2.97" font-size="8.5" text-anchor="middle" fill="#222" stroke="#222" stroke-width="0.12">tSNE_1</text>
<text transform="translate(12.3,580.8) rotate(-90) scale(0.72,1)" x="0" y="2.97" font-size="8.5" text-anchor="middle" fill="#222" stroke="#222" stroke-width="0.12">tSNE_2</text>
<svg x="235.4" y="517.45" width="141.1" height="123" overflow="hidden">
<path d="M76.3 73.8h0M39.8 71.5h0M97.2 8.4h0M43.9 76.2h0M39.0 66.9h0M59.5 50.6h0M67.2 55.3h0M38.8 62.5h0M87.8 13.4h0M43.4 66.8h0M92.4 61.8h0M88.0 27.7h0M59.1 42.7h0M82.4 58.8h0M68.0 53.3h0M55.7 64.4h0M72.2 75.3h0M72.2 38.2h0M81.7 63.4h0M102.3 31.5h0M94.4 47.8h0M47.1 55.1h0M60.5 43.8h0M91.6 62.1h0M64.6 54.0h0M35.8 48.3h0M114.6 37.5h0M57.3 61.5h0M89.5 30.5h0M74.7 63.1h0M30.3 108.0h0M14.7 104.2h0M60.7 60.2h0M54.7 63.1h0M64.8 60.0h0M38.9 53.2h0M72.8 15.6h0M62.6 43.3h0M67.7 28.7h0M98.8 32.5h0M63.1 28.0h0M76.4 55.9h0M32.2 56.9h0M67.0 65.6h0M61.1 68.6h0M94.8 15.6h0M75.9 71.6h0M63.0 87.2h0M54.6 51.5h0M76.2 77.4h0M51.6 60.0h0M69.8 33.9h0M41.5 53.8h0M47.2 64.0h0M28.9 55.2h0M52.7 49.0h0M52.2 80.6h0M63.6 40.2h0M46.9 73.7h0M100.1 18.8h0M79.2 66.7h0M51.3 72.4h0M39.3 110.7h0M28.5 63.3h0M68.3 87.0h0M83.5 37.1h0M62.2 53.6h0M98.3 27.3h0M51.6 70.7h0M42.8 34.7h0M56.2 49.5h0M46.8 58.0h0M65.7 87.0h0M54.2 81.6h0M80.4 56.2h0M80.3 84.0h0M48.0 33.6h0M51.6 73.3h0M55.6 62.0h0M61.5 81.1h0M17.8 53.0h0M66.1 60.4h0M98.0 68.5h0M62.2 59.6h0M59.4 42.9h0M72.9 42.0h0M74.5 72.3h0M62.2 55.4h0M73.2 70.0h0M66.3 67.2h0M94.1 45.7h0M71.3 67.8h0M97.7 37.1h0M100.0 50.9h0M66.4 54.8h0M43.7 35.4h0M67.8 77.5h0M108.9 28.3h0M96.2 25.7h0M22.6 53.8h0M85.6 54.1h0M79.9 75.1h0M80.0 70.8h0M36.6 73.5h0M74.0 58.8h0M72.7 50.0h0M59.6 77.8h0M74.9 86.5h0M97.6 44.1h0M92.3 45.9h0M53.0 51.7h0M35.4 68.5h0M74.0 55.2h0M49.8 81.2h0M52.8 49.5h0M52.2 48.5h0M60.3 23.6h0" stroke="#d45a54" stroke-width="2.25" stroke-linecap="round" fill="none"/>
<path d="M25.2 108.2h0M31.4 108.7h0M16.9 112.2h0M32.8 102.4h0M44.7 88.2h0M102.9 26.0h0M75.6 77.3h0M27.1 106.1h0" stroke="#9860b4" stroke-width="2.25" stroke-linecap="round" fill="none"/>
<path d="M24.0 104.5h0M18.2 119.9h0M22.8 99.4h0M45.4 92.4h0M21.5 106.6h0M22.9 102.0h0M24.4 95.4h0M21.0 111.2h0M28.2 107.7h0M31.8 88.1h0M32.4 114.8h0M31.7 97.0h0M43.8 89.8h0M20.5 104.7h0M22.6 96.4h0M32.7 102.6h0M12.5 109.6h0M22.8 112.9h0M17.1 110.0h0M35.2 107.7h0M30.2 97.7h0M23.5 104.0h0M39.3 89.8h0M27.2 104.6h0M17.8 95.4h0M46.9 108.7h0M32.8 108.1h0M23.7 108.5h0M26.8 108.4h0M14.7 110.3h0M22.0 110.2h0M37.1 108.7h0M24.1 110.0h0M28.9 96.3h0M21.8 97.7h0M25.9 99.9h0M39.2 100.1h0M17.9 109.0h0" stroke="#a09c1c" stroke-width="2.25" stroke-linecap="round" fill="none"/>
<path d="M79.4 39.6h0M61.1 45.5h0M35.6 26.6h0M56.3 26.1h0M50.6 20.2h0M77.2 40.7h0M87.9 6.1h0M39.9 34.7h0M44.0 46.4h0M109.0 55.5h0M48.6 21.2h0M50.3 26.4h0M84.5 61.8h0M27.7 65.4h0M90.9 20.3h0M34.1 34.0h0M108.1 18.0h0M76.2 7.9h0M47.5 39.1h0M61.9 30.0h0M48.6 52.1h0M114.3 47.2h0M71.3 30.4h0M55.8 41.7h0M44.1 53.0h0M76.4 29.5h0M70.0 24.3h0M67.5 34.7h0M40.8 46.0h0M102.4 42.3h0M68.4 9.8h0M56.3 24.9h0M40.1 30.2h0M98.3 36.2h0M50.6 21.9h0M73.0 11.0h0M43.3 33.6h0M92.0 31.5h0M81.2 32.2h0M64.3 30.3h0M70.8 45.3h0M91.7 37.3h0M79.2 32.8h0M58.4 25.6h0M98.5 58.2h0M62.8 32.5h0M60.6 39.0h0M63.4 25.6h0M50.3 33.8h0M29.8 38.4h0M19.6 36.9h0M59.1 41.2h0M64.6 33.1h0M32.1 19.4h0M66.7 12.5h0M68.2 43.7h0M78.6 21.5h0M61.9 36.0h0M33.6 19.8h0M93.7 46.6h0M101.2 40.9h0M71.8 29.2h0M36.2 45.0h0M30.4 23.9h0M65.3 35.6h0M104.2 25.5h0M42.1 28.7h0M44.5 44.3h0M87.1 17.9h0M89.0 79.7h0M101.8 30.0h0M64.6 49.3h0M60.7 44.8h0M83.3 37.7h0M39.3 49.2h0M52.1 28.2h0M73.5 24.2h0M84.6 53.1h0M67.4 40.7h0M56.6 18.2h0M48.2 39.6h0M30.5 43.8h0M69.4 36.9h0M78.4 39.5h0M77.8 26.4h0M70.4 17.8h0M80.1 31.5h0M102.2 38.7h0M73.1 41.1h0M93.8 47.6h0M111.2 39.7h0M50.2 16.0h0M53.4 41.6h0M56.8 11.6h0M53.8 88.1h0M69.4 29.4h0M73.1 30.0h0M71.9 29.2h0M63.7 49.9h0M37.4 59.1h0M52.7 26.5h0M62.2 73.3h0M58.8 42.8h0M68.8 38.2h0M40.7 36.0h0M69.0 85.3h0M50.9 43.8h0M36.3 38.3h0M65.6 23.9h0M75.5 37.9h0M68.2 36.7h0M106.8 60.3h0" stroke="#c8861a" stroke-width="2.25" stroke-linecap="round" fill="none"/>
<path d="M32.1 40.3h0M90.5 29.7h0M86.7 13.8h0M83.0 7.4h0M43.1 39.0h0M85.3 10.5h0M86.4 13.5h0M64.1 13.8h0M77.8 8.9h0M93.6 9.2h0M86.5 11.5h0M90.4 7.9h0M99.9 11.2h0M87.0 14.1h0M84.6 16.9h0M67.2 23.7h0M79.1 12.3h0M85.2 38.9h0" stroke="#58a832" stroke-width="2.25" stroke-linecap="round" fill="none"/>
<path d="M100.1 32.6h0M95.6 49.5h0M101.6 25.0h0M89.9 30.4h0M68.5 38.5h0M87.4 79.9h0M87.5 38.0h0M97.0 71.1h0M101.4 54.0h0M85.2 76.9h0M108.6 40.3h0M69.7 43.1h0M49.0 39.6h0M88.7 9.3h0M84.9 53.5h0M105.4 42.2h0" stroke="#7a78cc" stroke-width="2.25" stroke-linecap="round" fill="none"/>
<path d="M65.1 108.1h0M61.9 103.4h0M63.1 102.8h0M56.4 103.5h0M55.2 106.9h0M55.8 105.0h0M63.7 106.0h0M59.5 104.1h0M58.3 108.3h0M54.8 105.9h0M50.7 108.3h0M61.9 100.8h0M64.9 109.5h0M60.0 106.8h0M60.9 105.7h0M32.4 98.8h0M59.7 105.7h0" stroke="#4cb0ba" stroke-width="2.25" stroke-linecap="round" fill="none"/>
<path d="M134.1 5.4h0" stroke="#d24fa6" stroke-width="2.25" stroke-linecap="round" fill="none"/>
<path d="M33.3 61.3h0M55.2 105.8h0M78.6 63.8h0M28.5 35.4h0M52.8 67.5h0M72.5 85.4h0M99.9 61.8h0M75.6 70.5h0M35.2 59.7h0M29.2 39.4h0M64.9 15.1h0M59.5 52.0h0M96.8 55.6h0M34.4 42.9h0M76.6 12.9h0M58.9 51.1h0M87.4 20.6h0" stroke="#4898e0" stroke-width="2.25" stroke-linecap="round" fill="none"/>
<path d="M124.3 62.7h0M121.7 63.7h0M115.4 60.2h0M115.4 64.3h0M119.0 65.8h0M123.4 68.8h0M116.3 60.9h0M121.6 65.3h0M119.5 64.5h0M119.1 64.4h0M115.2 61.4h0M117.1 60.3h0M122.9 63.7h0M117.0 59.2h0M122.4 62.4h0M121.2 64.1h0M120.3 61.5h0M112.8 58.7h0M118.4 60.0h0M126.7 60.6h0M119.4 64.5h0M122.6 60.8h0M123.5 63.5h0M117.6 63.8h0" stroke="#4ea876" stroke-width="2.25" stroke-linecap="round" fill="none"/>
<path d="M38.6 90.2h0M33.2 106.5h0M31.6 97.6h0M26.1 100.5h0M22.5 112.5h0M28.1 104.1h0M39.9 112.1h0M13.8 109.1h0M28.0 115.7h0M23.5 110.5h0M18.3 108.7h0M6.1 102.1h0M29.3 101.2h0M31.3 105.6h0M10.7 105.0h0M34.2 107.5h0M34.0 92.5h0M19.3 110.2h0M18.1 111.5h0M31.0 107.2h0M30.6 98.6h0M19.1 102.1h0M22.6 106.3h0M33.9 106.8h0M28.4 97.2h0M21.8 120.9h0M29.9 105.1h0M36.4 109.9h0M11.1 102.5h0M18.5 116.7h0M36.8 119.8h0M12.8 95.0h0M35.9 118.2h0M33.8 94.9h0M21.3 109.8h0M28.7 100.0h0M23.9 96.9h0M15.7 108.2h0M37.6 94.7h0M25.7 102.1h0M23.6 105.0h0M26.1 101.0h0M25.1 115.1h0M18.9 85.7h0M30.8 107.9h0M31.3 104.5h0M35.3 115.5h0M21.6 107.1h0M31.5 107.8h0M23.0 100.1h0M22.2 97.7h0M29.0 102.4h0M41.2 94.8h0M32.0 99.7h0M31.8 110.6h0M23.9 112.0h0M24.3 106.7h0M21.8 118.7h0M31.8 112.3h0M23.8 101.3h0M28.5 104.6h0M24.9 109.9h0M36.9 110.3h0" stroke="#a09c1c" stroke-width="2.25" stroke-linecap="round" fill="none"/>
<path d="M74.7 25.0h0M78.3 82.6h0M85.4 62.2h0M71.1 47.3h0M36.3 29.8h0M43.1 72.1h0M39.8 42.9h0M104.4 53.8h0M60.5 64.0h0M45.2 34.6h0M52.3 44.6h0M37.7 38.9h0M67.8 22.3h0M64.6 18.5h0M83.9 43.5h0M65.7 85.8h0M78.9 18.3h0M87.2 77.5h0M98.8 69.7h0M63.6 40.9h0M103.9 51.9h0M78.1 31.3h0M90.7 72.1h0M91.0 68.3h0M64.0 61.4h0M73.8 45.5h0M54.4 61.6h0M53.6 13.2h0M107.4 42.1h0M83.1 40.8h0M78.6 21.3h0M44.3 19.4h0M54.1 40.0h0M27.4 38.5h0M58.5 28.9h0M98.5 29.4h0M82.3 37.1h0M82.2 50.2h0M89.5 45.3h0M59.7 16.3h0M45.7 38.9h0M44.1 59.7h0M99.1 64.2h0M63.4 15.7h0M70.4 17.7h0M58.1 71.1h0M42.5 77.3h0M76.1 32.6h0M61.8 41.2h0M43.9 33.9h0M60.5 41.7h0M115.3 36.4h0M59.0 24.9h0M73.2 27.3h0M88.2 14.5h0M57.1 44.6h0M90.1 44.0h0M46.6 34.6h0M38.3 43.7h0M67.0 30.2h0M83.1 14.4h0M59.4 47.7h0M67.0 12.7h0M89.4 42.4h0M54.1 26.3h0M76.7 50.7h0M106.6 47.6h0M18.5 37.9h0M52.3 47.3h0M31.6 58.0h0M25.8 35.1h0M40.6 42.7h0M67.7 48.8h0M58.4 30.9h0M69.3 82.7h0M68.4 19.6h0M98.6 59.9h0M25.8 59.2h0M52.3 51.2h0M62.3 37.6h0M58.2 30.8h0M68.8 8.5h0M68.5 13.4h0M46.5 30.4h0M88.7 62.6h0M52.7 12.3h0M78.8 34.8h0M57.9 27.0h0M67.0 36.7h0M73.1 45.9h0M21.1 39.7h0M78.9 44.3h0M50.1 86.0h0M78.4 28.5h0M96.1 31.8h0M55.1 19.9h0M42.3 41.6h0M76.1 16.5h0M91.1 32.7h0M43.7 26.5h0M61.2 27.8h0M62.1 27.7h0M103.6 54.7h0M49.3 62.1h0M55.5 23.1h0M21.9 51.7h0M87.7 50.6h0M73.6 53.4h0M79.6 42.3h0M37.3 44.9h0M29.4 32.3h0" stroke="#c8861a" stroke-width="2.25" stroke-linecap="round" fill="none"/>
<path d="M48.9 37.0h0M108.1 32.3h0M94.1 23.3h0M23.2 98.2h0M37.1 109.9h0M64.8 81.4h0M33.7 57.0h0M38.4 96.2h0M30.8 103.5h0M27.7 101.4h0" stroke="#9860b4" stroke-width="2.25" stroke-linecap="round" fill="none"/>
<path d="M87.3 24.0h0M40.0 44.1h0M72.7 58.7h0M86.8 64.1h0M18.9 55.4h0M77.3 62.1h0M74.8 72.5h0M31.1 73.4h0M91.2 56.7h0M54.7 20.2h0M48.4 62.5h0M95.0 29.1h0M69.4 17.5h0M57.2 69.6h0M107.4 35.5h0M35.4 69.4h0M32.8 52.9h0M50.8 54.5h0M29.0 36.6h0M14.5 53.4h0M32.3 53.9h0M59.2 39.0h0M64.3 73.2h0M38.3 63.5h0M76.6 75.2h0M56.2 56.0h0M88.2 56.2h0M79.0 44.7h0M84.0 64.7h0M39.9 33.6h0M18.3 50.8h0M66.3 11.9h0M83.4 75.8h0M41.2 55.5h0M24.4 27.4h0M36.0 68.6h0M89.5 12.1h0M60.0 23.6h0M61.6 59.1h0M59.1 40.5h0M74.3 87.3h0M52.9 84.7h0M19.7 62.3h0M42.9 61.3h0M50.4 59.5h0M79.1 49.5h0M41.8 44.5h0M92.5 57.0h0M63.5 92.6h0M86.3 28.2h0M20.8 46.8h0M48.6 75.4h0M41.6 52.5h0M59.9 63.3h0M90.7 64.2h0M84.6 23.9h0M34.9 28.6h0M32.6 73.9h0M81.4 55.1h0M72.3 85.1h0M62.9 86.3h0M107.5 46.0h0M76.6 14.3h0M80.2 23.2h0M69.0 9.3h0M34.1 96.0h0M80.5 58.8h0M57.6 85.7h0M57.9 61.9h0M52.7 85.1h0M74.7 74.6h0M23.0 47.9h0M36.9 50.7h0M82.3 38.7h0M60.5 61.6h0M57.8 56.9h0M79.5 48.5h0M28.3 68.9h0M76.9 63.4h0M58.4 61.8h0M60.5 57.9h0M25.9 53.5h0M42.2 27.7h0M86.4 60.1h0M62.5 83.8h0M60.4 56.1h0M67.6 78.4h0M44.7 15.0h0M59.0 60.0h0M53.6 58.5h0M72.9 55.7h0M107.6 18.4h0M89.1 25.8h0M44.5 61.0h0M54.0 68.8h0M56.5 39.4h0M70.8 64.5h0M49.4 51.7h0M79.5 74.8h0M30.1 51.5h0M115.8 40.9h0M69.0 11.5h0M99.0 60.6h0M83.0 43.1h0M54.8 75.4h0M82.6 81.4h0M105.3 63.4h0M66.2 56.2h0M58.7 74.3h0" stroke="#d45a54" stroke-width="2.25" stroke-linecap="round" fill="none"/>
<path d="M58.4 35.8h0M89.3 57.9h0M103.0 28.4h0M110.8 27.5h0M108.3 59.3h0M124.1 59.1h0M111.4 46.2h0M66.3 84.5h0M103.5 61.6h0M86.8 13.7h0M31.4 39.2h0M78.2 12.2h0M102.9 46.0h0" stroke="#7a78cc" stroke-width="2.25" stroke-linecap="round" fill="none"/>
<path d="M89.1 69.5h0M84.3 39.8h0M65.7 17.5h0M58.5 26.2h0M57.1 100.8h0M85.5 73.4h0M74.2 35.2h0M93.0 39.9h0M73.1 11.9h0M44.9 46.9h0M51.2 20.4h0M86.4 51.0h0M111.9 20.7h0M66.8 26.8h0M95.1 51.1h0M72.2 20.1h0M80.6 57.0h0M96.0 49.4h0" stroke="#4898e0" stroke-width="2.25" stroke-linecap="round" fill="none"/>
<path d="M121.3 61.4h0M115.7 54.7h0M123.3 56.7h0M121.3 63.8h0M117.8 60.1h0M115.9 60.5h0M118.5 61.1h0M126.9 61.3h0M123.2 61.2h0M125.1 64.8h0M113.8 63.5h0M118.5 59.6h0M117.2 60.5h0" stroke="#4ea876" stroke-width="2.25" stroke-linecap="round" fill="none"/>
<path d="M96.9 48.9h0M99.4 13.4h0M89.6 18.0h0M90.5 18.6h0M80.7 9.5h0M79.0 12.2h0M86.8 59.6h0M81.0 7.6h0M90.2 13.8h0M84.1 12.2h0M81.9 10.9h0M83.8 11.9h0M81.4 13.5h0M83.5 14.3h0M67.1 38.0h0M68.9 45.0h0M110.6 19.7h0M99.4 11.9h0" stroke="#58a832" stroke-width="2.25" stroke-linecap="round" fill="none"/>
<path d="M61.7 107.0h0M59.8 111.0h0M66.8 107.0h0M70.4 110.2h0M61.0 108.3h0M61.8 106.8h0M57.0 108.4h0M61.5 104.7h0M24.6 98.8h0M61.1 106.3h0M56.1 106.2h0M62.1 108.5h0M61.6 108.1h0" stroke="#4cb0ba" stroke-width="2.25" stroke-linecap="round" fill="none"/>
<path d="M83.8 30.3h0M68.4 13.9h0M86.9 45.3h0M102.2 64.1h0M89.6 51.8h0M45.0 39.1h0M101.5 52.6h0M63.8 38.5h0M88.4 79.3h0M41.4 78.9h0M79.8 49.3h0M44.0 62.8h0M25.9 32.5h0M85.4 16.4h0M82.6 74.8h0M69.0 46.5h0M64.7 40.7h0M75.1 52.1h0M75.1 52.5h0M37.6 32.7h0M64.9 31.4h0M72.6 12.8h0M71.0 37.9h0M37.0 25.3h0M73.7 23.1h0M104.9 19.7h0M34.6 57.2h0M50.3 60.0h0M39.5 40.7h0M48.2 33.1h0M50.9 66.9h0M64.3 69.8h0M93.5 23.2h0M88.0 77.7h0M83.0 46.8h0M43.4 56.9h0M49.1 24.0h0M71.0 71.2h0M112.7 50.5h0M66.6 46.5h0M55.8 28.5h0M43.6 41.7h0M103.8 37.1h0M111.9 27.5h0M97.3 71.6h0M84.4 47.0h0M107.0 24.0h0M65.7 23.6h0M85.1 22.0h0M50.5 25.0h0M93.9 26.3h0M67.9 12.4h0M75.9 17.5h0M98.6 28.3h0M47.0 69.0h0M57.7 41.8h0M65.5 47.1h0M79.1 28.0h0M98.5 12.3h0M52.9 22.0h0M60.3 45.2h0M68.9 20.2h0M45.6 37.6h0M44.5 46.1h0M75.7 23.8h0M64.5 43.3h0M48.4 37.8h0M35.2 45.2h0M69.6 41.0h0M87.4 39.9h0M81.9 7.3h0M89.0 17.7h0M47.3 43.7h0M68.1 23.3h0M42.6 78.3h0M104.3 25.7h0M62.8 48.7h0M54.9 59.1h0M69.4 31.8h0M25.0 56.1h0M61.9 49.8h0M76.4 27.5h0M84.9 66.9h0M38.7 17.4h0M47.5 16.7h0M92.6 44.2h0M86.7 66.8h0M68.6 24.3h0M88.3 25.5h0M66.7 31.1h0M72.9 74.0h0M98.5 29.4h0M89.4 34.4h0M87.1 27.7h0M34.8 35.9h0M73.3 35.4h0M42.9 25.5h0M72.5 40.6h0M82.6 27.7h0M45.6 66.8h0M50.4 34.8h0M58.7 13.1h0M98.7 48.0h0M102.8 31.3h0M78.3 7.7h0M89.7 49.1h0M50.4 60.7h0M78.0 49.4h0M58.9 46.5h0M29.0 26.2h0M69.5 32.6h0M85.6 43.5h0M95.1 51.1h0M53.2 47.3h0M65.1 31.7h0M60.3 46.4h0M66.6 46.4h0M86.0 72.9h0M70.3 51.8h0M78.6 25.9h0" stroke="#c8861a" stroke-width="2.25" stroke-linecap="round" fill="none"/>
<path d="M28.2 98.1h0M43.8 117.7h0M33.7 104.0h0M30.7 103.5h0M37.6 104.7h0M23.8 105.2h0M26.8 122.0h0M42.8 97.3h0M29.4 105.1h0M40.2 99.6h0M35.7 106.4h0M40.8 88.9h0M13.4 105.3h0M19.7 107.6h0M30.5 105.8h0M33.8 114.2h0M42.4 96.3h0M16.3 98.8h0M20.9 100.0h0M17.0 110.1h0M28.9 102.1h0M25.4 96.6h0M33.2 106.3h0M28.5 117.3h0M40.1 105.7h0M24.4 114.9h0M31.0 108.9h0M26.5 105.1h0M32.4 112.9h0M20.7 108.6h0M40.1 104.9h0M30.9 103.1h0M37.0 117.5h0M38.6 112.8h0M8.5 108.1h0M24.8 98.8h0M37.6 100.0h0M37.1 108.7h0M33.5 96.0h0M23.9 94.6h0M22.7 100.8h0M14.2 109.0h0M34.4 107.8h0M18.1 111.8h0M25.7 98.4h0M30.8 105.0h0M24.6 108.2h0M33.6 100.1h0M26.8 106.1h0M25.5 113.2h0M21.2 105.6h0" stroke="#a09c1c" stroke-width="2.25" stroke-linecap="round" fill="none"/>
<path d="M80.8 83.1h0M50.9 72.5h0M109.7 40.1h0M95.1 53.9h0M34.2 73.1h0M58.4 91.0h0M70.0 32.5h0M61.8 39.5h0M72.3 57.8h0M27.4 46.8h0M58.7 63.8h0M72.4 54.2h0M30.7 56.5h0M69.2 28.6h0M84.2 41.8h0M90.9 46.7h0M37.0 45.4h0M43.5 69.2h0M82.0 22.3h0M74.8 88.3h0M52.7 54.9h0M68.7 35.4h0M70.9 63.7h0M49.6 52.6h0M31.6 64.7h0M32.6 71.6h0M33.6 59.5h0M46.1 80.3h0M70.8 57.0h0M37.6 75.8h0M64.2 51.9h0M71.3 28.6h0M61.1 51.1h0M60.1 87.4h0M61.2 64.6h0M65.2 65.2h0M86.9 46.3h0M75.8 63.3h0M48.9 67.8h0M57.5 53.8h0M99.5 32.9h0M34.1 53.5h0M81.2 37.3h0M86.7 36.8h0M46.1 58.6h0M91.6 11.5h0M33.9 63.3h0M43.9 61.5h0M76.2 44.5h0M72.8 67.3h0M98.9 42.3h0M58.0 64.1h0M101.9 17.0h0M85.0 32.6h0M62.5 66.8h0M65.0 58.0h0M105.6 50.9h0M61.1 19.8h0M58.3 25.0h0M42.1 20.8h0M60.4 65.8h0M74.4 67.0h0M58.8 38.9h0M71.6 38.8h0M91.2 34.1h0M89.9 30.6h0M38.4 75.3h0M71.5 62.4h0M57.1 58.2h0M54.4 54.2h0M89.2 78.8h0M37.4 64.5h0M66.0 86.6h0M22.3 65.4h0M24.4 107.4h0M79.7 61.8h0M81.5 68.6h0M56.4 53.9h0M73.4 73.6h0M104.7 49.0h0M73.8 25.7h0M48.2 30.3h0M46.5 18.6h0M78.5 79.6h0M35.9 64.9h0M54.6 62.6h0M64.6 60.0h0M61.7 10.0h0M69.7 76.9h0M21.9 40.4h0M64.3 72.7h0M93.7 49.3h0M66.2 52.3h0M32.0 72.2h0M15.2 57.6h0M52.2 56.0h0M100.3 42.2h0M67.1 8.1h0M73.4 51.7h0M74.2 58.6h0M53.1 63.5h0M69.0 53.8h0M93.2 63.9h0M45.8 22.2h0M47.0 21.6h0M103.8 22.0h0" stroke="#d45a54" stroke-width="2.25" stroke-linecap="round" fill="none"/>
<path d="M79.1 22.4h0M89.2 38.7h0M58.5 82.8h0M51.3 52.2h0M94.2 12.1h0M49.8 55.0h0M73.0 18.5h0M67.6 15.1h0M99.9 19.6h0M64.6 33.0h0M83.0 62.8h0M92.7 36.2h0M84.5 9.8h0M98.5 23.3h0" stroke="#4898e0" stroke-width="2.25" stroke-linecap="round" fill="none"/>
<path d="M87.7 10.7h0M51.9 85.3h0M70.8 10.5h0M112.9 44.3h0M73.4 43.4h0M86.5 12.9h0M72.7 36.7h0M96.0 34.1h0M41.1 47.5h0M66.2 42.4h0M94.2 23.0h0" stroke="#7a78cc" stroke-width="2.25" stroke-linecap="round" fill="none"/>
<path d="M114.3 55.8h0M115.4 59.3h0M118.0 56.9h0M123.2 60.4h0M120.7 63.2h0M116.4 63.5h0M121.8 65.3h0M122.3 58.4h0M120.1 59.4h0M120.7 62.6h0M123.0 59.7h0M126.8 57.2h0M118.6 64.8h0M115.5 59.3h0M116.0 51.6h0M122.2 59.2h0M110.9 54.2h0M122.3 63.0h0" stroke="#4ea876" stroke-width="2.25" stroke-linecap="round" fill="none"/>
<path d="M90.4 8.2h0M91.5 8.1h0M61.0 45.0h0M82.7 16.7h0M82.7 7.4h0M87.7 10.4h0M99.4 34.2h0M85.3 10.0h0M85.9 69.5h0M32.2 25.5h0M76.3 12.2h0M107.6 30.7h0M80.8 14.9h0M79.1 12.2h0M84.4 16.1h0M95.5 21.5h0M96.7 60.7h0M85.9 8.6h0M95.3 14.1h0" stroke="#58a832" stroke-width="2.25" stroke-linecap="round" fill="none"/>
<path d="M59.3 105.7h0M63.6 108.5h0M51.5 103.6h0M62.7 108.3h0M62.6 107.4h0M23.3 100.5h0M56.6 101.5h0M55.4 108.3h0M60.2 105.6h0M54.1 106.6h0M34.1 111.7h0M62.7 102.7h0M65.1 108.3h0M50.4 107.3h0M68.4 103.0h0M60.0 105.7h0M53.3 105.0h0M52.0 108.2h0" stroke="#4cb0ba" stroke-width="2.25" stroke-linecap="round" fill="none"/>
<path d="M15.6 111.1h0M33.6 113.5h0M28.8 112.2h0M51.8 24.5h0M33.2 109.7h0M14.1 95.2h0M102.8 17.8h0M14.0 116.4h0M28.0 111.3h0M21.0 119.3h0" stroke="#9860b4" stroke-width="2.25" stroke-linecap="round" fill="none"/>
</svg>
<rect x="235.4" y="517.45" width="141.1" height="123" fill="none" stroke="#111" stroke-width="1.2"/>
<line x1="232.3" y1="526.5" x2="235.4" y2="526.5" stroke="#111" stroke-width="0.9"/>
<text transform="translate(229.5,526.2) rotate(0.1)" x="0" y="2.24" font-size="6.4" text-anchor="end" fill="#222" stroke="#222" stroke-width="0.12">20</text>
<line x1="232.3" y1="550.5" x2="235.4" y2="550.5" stroke="#111" stroke-width="0.9"/>
<text transform="translate(229.5,550.3) rotate(0.1)" x="0" y="2.24" font-size="6.4" text-anchor="end" fill="#222" stroke="#222" stroke-width="0.12">10</text>
<line x1="232.3" y1="574.5" x2="235.4" y2="574.5" stroke="#111" stroke-width="0.9"/>
<text transform="translate(229.5,574.4) rotate(0.1)" x="0" y="2.24" font-size="6.4" text-anchor="end" fill="#222" stroke="#222" stroke-width="0.12">0</text>
<line x1="232.3" y1="598.5" x2="235.4" y2="598.5" stroke="#111" stroke-width="0.9"/>
<text transform="translate(229.5,598.5) rotate(0.1)" x="0" y="2.24" font-size="6.4" text-anchor="end" fill="#222" stroke="#222" stroke-width="0.12">-10</text>
<line x1="232.3" y1="622.5" x2="235.4" y2="622.5" stroke="#111" stroke-width="0.9"/>
<text transform="translate(229.5,622.6) rotate(0.1)" x="0" y="2.24" font-size="6.4" text-anchor="end" fill="#222" stroke="#222" stroke-width="0.12">-20</text>
<line x1="260.5" y1="640.45" x2="260.5" y2="643.45" stroke="#111" stroke-width="0.9"/>
<text transform="translate(260.2,651.05) rotate(0.1)" x="0" y="2.24" font-size="6.4" text-anchor="middle" fill="#222" stroke="#222" stroke-width="0.12">-10</text>
<line x1="299.5" y1="640.45" x2="299.5" y2="643.45" stroke="#111" stroke-width="0.9"/>
<text transform="translate(299.8,651.05) rotate(0.1)" x="0" y="2.24" font-size="6.4" text-anchor="middle" fill="#222" stroke="#222" stroke-width="0.12">0</text>
<line x1="339.5" y1="640.45" x2="339.5" y2="643.45" stroke="#111" stroke-width="0.9"/>
<text transform="translate(339.4,651.05) rotate(0.1)" x="0" y="2.24" font-size="6.4" text-anchor="middle" fill="#222" stroke="#222" stroke-width="0.12">10</text>
<text transform="translate(305.95,662.05) rotate(0.1) scale(0.72,1)" x="0" y="2.97" font-size="8.5" text-anchor="middle" fill="#222" stroke="#222" stroke-width="0.12">tSNE_1</text>
<text transform="translate(211.4,578.65) rotate(-90) scale(0.72,1)" x="0" y="2.97" font-size="8.5" text-anchor="middle" fill="#222" stroke="#222" stroke-width="0.12">tSNE_2</text>
<rect x="36.3" y="521" width="39.4" height="22.8" rx="1.2" fill="#fff" fill-opacity="0.85" stroke="#444" stroke-width="0.9"/>
<text transform="translate(38.2,524.3) rotate(0.1)" x="0" y="1.57" font-size="4.5" text-anchor="start" fill="#222" stroke="#222" stroke-width="0.08" font-style="italic">FTH1</text>
<text transform="translate(38.2,528.3) rotate(0.1)" x="0" y="1.57" font-size="4.5" text-anchor="start" fill="#222" stroke="#222" stroke-width="0.08" font-style="italic">VIM</text>
<text transform="translate(38.2,532.3) rotate(0.1)" x="0" y="1.57" font-size="4.5" text-anchor="start" fill="#222" stroke="#222" stroke-width="0.08" font-style="italic">IGBGAI</text>
<text transform="translate(38.2,536.3) rotate(0.1)" x="0" y="1.57" font-size="4.5" text-anchor="start" fill="#222" stroke="#222" stroke-width="0.08" font-style="italic">FEZ1</text>
<text transform="translate(38.2,540.3) rotate(0.1)" x="0" y="1.57" font-size="4.5" text-anchor="start" fill="#222" stroke="#222" stroke-width="0.08" font-style="italic">SARAF</text>
<text transform="translate(56.2,524.3) rotate(0.1)" x="0" y="1.57" font-size="4.5" text-anchor="start" fill="#222" stroke="#222" stroke-width="0.08" font-style="italic">CXCR4</text>
<text transform="translate(56.2,528.3) rotate(0.1)" x="0" y="1.57" font-size="4.5" text-anchor="start" fill="#222" stroke="#222" stroke-width="0.08" font-style="italic">GNG2</text>
<text transform="translate(56.2,532.3) rotate(0.1)" x="0" y="1.57" font-size="4.5" text-anchor="start" fill="#222" stroke="#222" stroke-width="0.08" font-style="italic">CHST12</text>
<text transform="translate(56.2,536.3) rotate(0.1)" x="0" y="1.57" font-size="4.5" text-anchor="start" fill="#222" stroke="#222" stroke-width="0.08" font-style="italic">LDHA</text>
<text transform="translate(56.2,540.3) rotate(0.1)" x="0" y="1.57" font-size="4.5" text-anchor="start" fill="#222" stroke="#222" stroke-width="0.08" font-style="italic">FOXP1</text>
<rect x="148.5" y="526.3" width="24.6" height="24.1" rx="1.2" fill="#fff" fill-opacity="0.85" stroke="#444" stroke-width="0.9"/>
<text transform="translate(150.3,530.4) rotate(0.1)" x="0" y="1.57" font-size="4.5" text-anchor="start" fill="#222" stroke="#222" stroke-width="0.08" font-style="italic">IFI30</text>
<text transform="translate(150.3,534.6) rotate(0.1)" x="0" y="1.57" font-size="4.5" text-anchor="start" fill="#222" stroke="#222" stroke-width="0.08" font-style="italic">CLEC7A</text>
<text transform="translate(150.3,538.8) rotate(0.1)" x="0" y="1.57" font-size="4.5" text-anchor="start" fill="#222" stroke="#222" stroke-width="0.08" font-style="italic">CTSL</text>
<text transform="translate(150.3,543) rotate(0.1)" x="0" y="1.57" font-size="4.5" text-anchor="start" fill="#222" stroke="#222" stroke-width="0.08" font-style="italic">LST1</text>
<text transform="translate(150.3,547.2) rotate(0.1)" x="0" y="1.57" font-size="4.5" text-anchor="start" fill="#222" stroke="#222" stroke-width="0.08" font-style="italic">HLA-DRA</text>
<rect x="125.1" y="589.8" width="48" height="23.2" rx="1.2" fill="#fff" fill-opacity="0.85" stroke="#444" stroke-width="0.9"/>
<text transform="translate(126.3,592.7) rotate(0.1)" x="0" y="1.57" font-size="4.5" text-anchor="start" fill="#222" stroke="#222" stroke-width="0.08" font-style="italic">XCL1</text>
<text transform="translate(126.3,596.9) rotate(0.1)" x="0" y="1.57" font-size="4.5" text-anchor="start" fill="#222" stroke="#222" stroke-width="0.08" font-style="italic">GPR183</text>
<text transform="translate(126.3,601.1) rotate(0.1)" x="0" y="1.57" font-size="4.5" text-anchor="start" fill="#222" stroke="#222" stroke-width="0.08" font-style="italic">IL7R</text>
<text transform="translate(126.3,605.3) rotate(0.1)" x="0" y="1.57" font-size="4.5" text-anchor="start" fill="#222" stroke="#222" stroke-width="0.08" font-style="italic">LINC00996</text>
<text transform="translate(126.3,609.5) rotate(0.1)" x="0" y="1.57" font-size="4.5" text-anchor="start" fill="#222" stroke="#222" stroke-width="0.08" font-style="italic">GZMK</text>
<text transform="translate(155.2,592.7) rotate(0.1)" x="0" y="1.57" font-size="4.5" text-anchor="start" fill="#222" stroke="#222" stroke-width="0.08" font-style="italic">LTB</text>
<text transform="translate(155.2,596.9) rotate(0.1)" x="0" y="1.57" font-size="4.5" text-anchor="start" fill="#222" stroke="#222" stroke-width="0.08" font-style="italic">MYC</text>
<text transform="translate(155.2,601.1) rotate(0.1)" x="0" y="1.57" font-size="4.5" text-anchor="start" fill="#222" stroke="#222" stroke-width="0.08" font-style="italic">MFGE8</text>
<text transform="translate(155.2,605.3) rotate(0.1)" x="0" y="1.57" font-size="4.5" text-anchor="start" fill="#222" stroke="#222" stroke-width="0.08" font-style="italic">XCL2</text>
<text transform="translate(155.2,609.5) rotate(0.1)" x="0" y="1.57" font-size="4.5" text-anchor="start" fill="#222" stroke="#222" stroke-width="0.08" font-style="italic">CD9</text>
<rect x="102.2" y="617.1" width="49.2" height="23.5" rx="1.2" fill="#fff" fill-opacity="0.85" stroke="#444" stroke-width="0.9"/>
<text transform="translate(103.5,620.6) rotate(0.1)" x="0" y="1.57" font-size="4.5" text-anchor="start" fill="#222" stroke="#222" stroke-width="0.08" font-style="italic">TSC22D3</text>
<text transform="translate(103.5,624.85) rotate(0.1)" x="0" y="1.57" font-size="4.5" text-anchor="start" fill="#222" stroke="#222" stroke-width="0.08" font-style="italic">PPP1R15A</text>
<text transform="translate(103.5,629.1) rotate(0.1)" x="0" y="1.57" font-size="4.5" text-anchor="start" fill="#222" stroke="#222" stroke-width="0.08" font-style="italic">DUSP1</text>
<text transform="translate(103.5,633.35) rotate(0.1)" x="0" y="1.57" font-size="4.5" text-anchor="start" fill="#222" stroke="#222" stroke-width="0.08" font-style="italic">ACTB</text>
<text transform="translate(103.5,637.6) rotate(0.1)" x="0" y="1.57" font-size="4.5" text-anchor="start" fill="#222" stroke="#222" stroke-width="0.08" font-style="italic">ITGB2</text>
<text transform="translate(131.4,620.6) rotate(0.1)" x="0" y="1.57" font-size="4.5" text-anchor="start" fill="#222" stroke="#222" stroke-width="0.08" font-style="italic">SNHG9</text>
<text transform="translate(131.4,624.85) rotate(0.1)" x="0" y="1.57" font-size="4.5" text-anchor="start" fill="#222" stroke="#222" stroke-width="0.08" font-style="italic">S100A4</text>
<text transform="translate(131.4,629.1) rotate(0.1)" x="0" y="1.57" font-size="4.5" text-anchor="start" fill="#222" stroke="#222" stroke-width="0.08" font-style="italic">IFITM1</text>
<text transform="translate(131.4,633.35) rotate(0.1)" x="0" y="1.57" font-size="4.5" text-anchor="start" fill="#222" stroke="#222" stroke-width="0.08" font-style="italic">JUN</text>
<text transform="translate(131.4,637.6) rotate(0.1)" x="0" y="1.57" font-size="4.5" text-anchor="start" fill="#222" stroke="#222" stroke-width="0.08" font-style="italic">HCST</text>
<text x="101" y="568.3" font-size="5.2" text-anchor="middle" fill="#111" stroke="#fff" stroke-width="1.0" paint-order="stroke">0</text>
<text x="64.6" y="624" font-size="5.2" text-anchor="middle" fill="#111" stroke="#fff" stroke-width="1.0" paint-order="stroke">1</text>
<text x="154.6" y="582.8" font-size="5.2" text-anchor="middle" fill="#111" stroke="#fff" stroke-width="1.0" paint-order="stroke">2</text>
<text x="172.2" y="525.4" font-size="5.2" text-anchor="middle" fill="#111" stroke="#fff" stroke-width="1.0" paint-order="stroke">3</text>
<text x="289.4" y="582.3" font-size="5.2" text-anchor="middle" fill="#111" stroke="#fff" stroke-width="1.0" paint-order="stroke">0</text>
<text x="310.3" y="555.8" font-size="5.2" text-anchor="middle" fill="#111" stroke="#fff" stroke-width="1.0" paint-order="stroke">1</text>
<text x="260.1" y="623.6" font-size="5.2" text-anchor="middle" fill="#111" stroke="#fff" stroke-width="1.0" paint-order="stroke">2</text>
<text x="323.7" y="531.3" font-size="5.2" text-anchor="middle" fill="#111" stroke="#fff" stroke-width="1.0" paint-order="stroke">3</text>
<text x="355.5" y="580.4" font-size="5.2" text-anchor="middle" fill="#111" stroke="#fff" stroke-width="1.0" paint-order="stroke">4</text>
<text x="293" y="625" font-size="5.2" text-anchor="middle" fill="#111" stroke="#fff" stroke-width="1.0" paint-order="stroke">5</text>
<text x="299.7" y="564.2" font-size="5.2" text-anchor="middle" fill="#111" stroke="#fff" stroke-width="1.0" paint-order="stroke">6</text>
<text x="323.7" y="564.8" font-size="5.2" text-anchor="middle" fill="#111" stroke="#fff" stroke-width="1.0" paint-order="stroke">7</text>
<text x="276.3" y="606.6" font-size="5.2" text-anchor="middle" fill="#111" stroke="#fff" stroke-width="1.0" paint-order="stroke">8</text>
<text x="373.2" y="524.1" font-size="5.2" text-anchor="middle" fill="#111" stroke="#fff" stroke-width="1.0" paint-order="stroke">9</text>
<circle cx="182.9" cy="568.7" r="2" fill="#d2504b"/>
<text transform="translate(188,568.7) rotate(0.1)" x="0" y="2.1" font-size="6" text-anchor="start" fill="#222" stroke="#222" stroke-width="0.12">0</text>
<circle cx="182.9" cy="574.7" r="2" fill="#78a020"/>
<text transform="translate(188,574.7) rotate(0.1)" x="0" y="2.1" font-size="6" text-anchor="start" fill="#222" stroke="#222" stroke-width="0.12">1</text>
<circle cx="182.9" cy="580.7" r="2" fill="#4fb2c0"/>
<text transform="translate(188,580.7) rotate(0.1)" x="0" y="2.1" font-size="6" text-anchor="start" fill="#222" stroke="#222" stroke-width="0.12">2</text>
<circle cx="182.9" cy="586.7" r="2" fill="#8a6cc0"/>
<text transform="translate(188,586.7) rotate(0.1)" x="0" y="2.1" font-size="6" text-anchor="start" fill="#222" stroke="#222" stroke-width="0.12">3</text>
<circle cx="387.5" cy="542.8" r="1.85" fill="#d45a54"/>
<text transform="translate(392.3,542.8) rotate(0.1)" x="0" y="2.03" font-size="5.8" text-anchor="start" fill="#222" stroke="#222" stroke-width="0.05">0</text>
<circle cx="387.5" cy="548.86" r="1.85" fill="#c8861a"/>
<text transform="translate(392.3,548.86) rotate(0.1)" x="0" y="2.03" font-size="5.8" text-anchor="start" fill="#222" stroke="#222" stroke-width="0.05">1</text>
<circle cx="387.5" cy="554.92" r="1.85" fill="#a09c1c"/>
<text transform="translate(392.3,554.92) rotate(0.1)" x="0" y="2.03" font-size="5.8" text-anchor="start" fill="#222" stroke="#222" stroke-width="0.05">2</text>
<circle cx="387.5" cy="560.98" r="1.85" fill="#58a832"/>
<text transform="translate(392.3,560.98) rotate(0.1)" x="0" y="2.03" font-size="5.8" text-anchor="start" fill="#222" stroke="#222" stroke-width="0.05">3</text>
<circle cx="387.5" cy="567.04" r="1.85" fill="#4ea876"/>
<text transform="translate(392.3,567.04) rotate(0.1)" x="0" y="2.03" font-size="5.8" text-anchor="start" fill="#222" stroke="#222" stroke-width="0.05">4</text>
<circle cx="387.5" cy="573.1" r="1.85" fill="#4cb0ba"/>
<text transform="translate(392.3,573.1) rotate(0.1)" x="0" y="2.03" font-size="5.8" text-anchor="start" fill="#222" stroke="#222" stroke-width="0.05">5</text>
<circle cx="387.5" cy="579.16" r="1.85" fill="#4898e0"/>
<text transform="translate(392.3,579.16) rotate(0.1)" x="0" y="2.03" font-size="5.8" text-anchor="start" fill="#222" stroke="#222" stroke-width="0.05">6</text>
<circle cx="387.5" cy="585.22" r="1.85" fill="#7a78cc"/>
<text transform="translate(392.3,585.22) rotate(0.1)" x="0" y="2.03" font-size="5.8" text-anchor="start" fill="#222" stroke="#222" stroke-width="0.05">7</text>
<circle cx="387.5" cy="591.28" r="1.85" fill="#9860b4"/>
<text transform="translate(392.3,591.28) rotate(0.1)" x="0" y="2.03" font-size="5.8" text-anchor="start" fill="#222" stroke="#222" stroke-width="0.05">8</text>
<circle cx="387.5" cy="597.34" r="1.85" fill="#d24fa6"/>
<text transform="translate(392.3,597.34) rotate(0.1)" x="0" y="2.03" font-size="5.8" text-anchor="start" fill="#222" stroke="#222" stroke-width="0.05">9</text>
<rect x="0.75" y="0.75" width="518.5" height="671.5" fill="none" stroke="#000" stroke-width="1.5"/>
</svg>
</body></html>
